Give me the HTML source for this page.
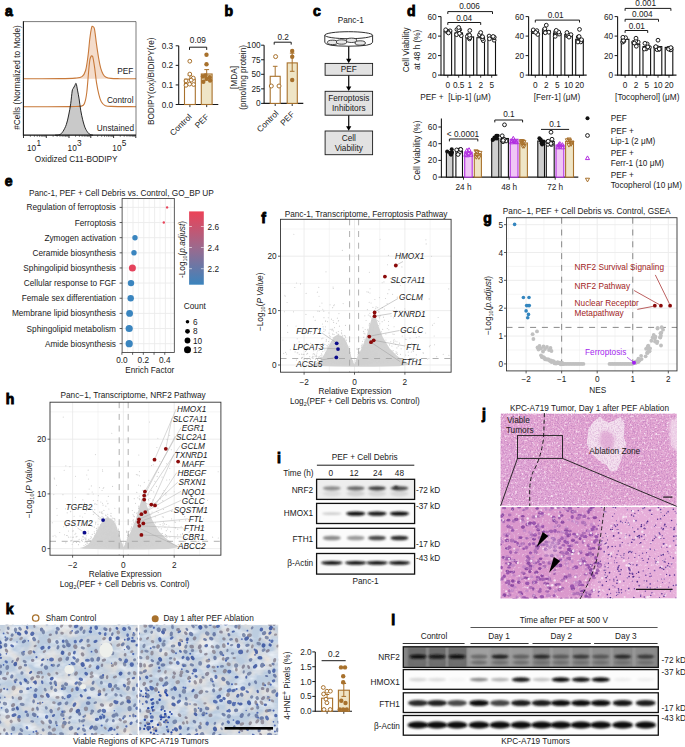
<!DOCTYPE html>
<html><head><meta charset="utf-8"><style>
html,body{margin:0;padding:0;background:#fff;width:685px;height:747px;overflow:hidden}
svg{display:block}
svg{font-family:"Liberation Sans",sans-serif;font-size:8.25px}
</style></head><body>
<svg width="685" height="747" viewBox="0 0 685 747"><g fill="#1a1a1a">
<text x="5" y="16.1" font-size="14" font-weight="bold" stroke="#000" stroke-width="0.9" fill="#000">a</text>
<path d="M23.4 78.8 C29.5 78.77 51.4 78.72 60 78.6 C68.6 78.48 71.33 78.43 75 78.1 C78.67 77.77 80.23 77.87 82 76.6 C83.77 75.33 84.6 73.92 85.6 70.5 C86.6 67.08 87.28 61.52 88 56.1 C88.72 50.68 89.3 42.75 89.9 38 C90.5 33.25 91.1 29.5 91.6 27.6 C92.1 25.7 92.42 26.33 92.9 26.6 C93.38 26.87 93.9 26.28 94.5 29.2 C95.1 32.12 95.77 39.02 96.5 44.1 C97.23 49.18 98.2 55.7 98.9 59.7 C99.6 63.7 100 65.68 100.7 68.1 C101.4 70.52 102.2 72.68 103.1 74.2 C104 75.72 104.8 76.5 106.1 77.2 C107.4 77.9 108.58 78.15 110.9 78.4 C113.22 78.65 115.82 78.63 120 78.7 C124.18 78.77 133.33 78.78 136 78.8 Z" fill="#f4dccb"/>
<path d="M55 135.2 C55.8 135.1 58.47 135.23 59.8 134.6 C61.13 133.97 61.92 133.07 63 131.4 C64.08 129.73 65.35 127.33 66.3 124.6 C67.25 121.87 67.97 118.48 68.7 115 C69.43 111.52 70.12 107.7 70.7 103.7 C71.28 99.7 71.77 93.57 72.2 91 C72.63 88.43 72.87 89.2 73.3 88.3 C73.73 87.4 74.33 86.4 74.8 85.6 C75.27 84.8 75.65 82.75 76.1 83.5 C76.55 84.25 77 87.53 77.5 90.1 C78 92.67 78.57 95.55 79.1 98.9 C79.63 102.25 80.1 106.72 80.7 110.2 C81.3 113.68 81.97 116.87 82.7 119.8 C83.43 122.73 84.22 125.65 85.1 127.8 C85.98 129.95 87.12 131.57 88 132.7 C88.88 133.83 89.57 134.18 90.4 134.6 C91.23 135.02 92.57 135.1 93 135.2 Z" fill="#c9c9c9"/>
<path d="M23.4 78.8 C29.5 78.77 51.4 78.72 60 78.6 C68.6 78.48 71.33 78.43 75 78.1 C78.67 77.77 80.23 77.87 82 76.6 C83.77 75.33 84.6 73.92 85.6 70.5 C86.6 67.08 87.28 61.52 88 56.1 C88.72 50.68 89.3 42.75 89.9 38 C90.5 33.25 91.1 29.5 91.6 27.6 C92.1 25.7 92.42 26.33 92.9 26.6 C93.38 26.87 93.9 26.28 94.5 29.2 C95.1 32.12 95.77 39.02 96.5 44.1 C97.23 49.18 98.2 55.7 98.9 59.7 C99.6 63.7 100 65.68 100.7 68.1 C101.4 70.52 102.2 72.68 103.1 74.2 C104 75.72 104.8 76.5 106.1 77.2 C107.4 77.9 108.58 78.15 110.9 78.4 C113.22 78.65 115.82 78.63 120 78.7 C124.18 78.77 133.33 78.78 136 78.8" fill="none" stroke="#c8793a" stroke-width="1.1"/>
<path d="M23.4 106.8 C31.17 106.77 60.32 106.72 70 106.6 C79.68 106.48 79.07 106.7 81.5 106.1 C83.93 105.5 83.72 105.32 84.6 103 C85.48 100.68 86.12 97.62 86.8 92.2 C87.48 86.78 88.18 75.92 88.7 70.5 C89.22 65.08 89.5 62.07 89.9 59.7 C90.3 57.33 90.77 56.9 91.1 56.3 C91.43 55.7 91.6 55.93 91.9 56.1 C92.2 56.27 92.43 55.3 92.9 57.3 C93.37 59.3 94.1 63.88 94.7 68.1 C95.3 72.32 95.8 78.18 96.5 82.6 C97.2 87.02 98.1 91.4 98.9 94.6 C99.7 97.8 100.3 100 101.3 101.8 C102.3 103.6 103.3 104.63 104.9 105.4 C106.5 106.17 105.72 106.18 110.9 106.4 C116.08 106.62 131.82 106.65 136 106.7" fill="none" stroke="#c8793a" stroke-width="1.1"/>
<path d="M55 135.2 C55.8 135.1 58.47 135.23 59.8 134.6 C61.13 133.97 61.92 133.07 63 131.4 C64.08 129.73 65.35 127.33 66.3 124.6 C67.25 121.87 67.97 118.48 68.7 115 C69.43 111.52 70.12 107.7 70.7 103.7 C71.28 99.7 71.77 93.57 72.2 91 C72.63 88.43 72.87 89.2 73.3 88.3 C73.73 87.4 74.33 86.4 74.8 85.6 C75.27 84.8 75.65 82.75 76.1 83.5 C76.55 84.25 77 87.53 77.5 90.1 C78 92.67 78.57 95.55 79.1 98.9 C79.63 102.25 80.1 106.72 80.7 110.2 C81.3 113.68 81.97 116.87 82.7 119.8 C83.43 122.73 84.22 125.65 85.1 127.8 C85.98 129.95 87.12 131.57 88 132.7 C88.88 133.83 89.57 134.18 90.4 134.6 C91.23 135.02 92.57 135.1 93 135.2" fill="none" stroke="#111" stroke-width="0.9"/>
<path d="M23.4 21.6 H136 V135.2" fill="none" stroke="#444" stroke-width="0.7"/>
<line x1="23.4" y1="21.25" x2="23.4" y2="135.7" stroke="#111" stroke-width="1.1"/>
<line x1="23.4" y1="135.2" x2="136" y2="135.2" stroke="#111" stroke-width="1.2"/>
<line x1="23.5" y1="135.2" x2="23.5" y2="138" stroke="#1a1a1a" stroke-width="0.9"/>
<line x1="30.36" y1="135.2" x2="30.36" y2="136.8" stroke="#1a1a1a" stroke-width="0.6"/>
<line x1="34.38" y1="135.2" x2="34.38" y2="136.8" stroke="#1a1a1a" stroke-width="0.6"/>
<line x1="37.23" y1="135.2" x2="37.23" y2="136.8" stroke="#1a1a1a" stroke-width="0.6"/>
<line x1="39.44" y1="135.2" x2="39.44" y2="136.8" stroke="#1a1a1a" stroke-width="0.6"/>
<line x1="41.24" y1="135.2" x2="41.24" y2="136.8" stroke="#1a1a1a" stroke-width="0.6"/>
<line x1="42.77" y1="135.2" x2="42.77" y2="136.8" stroke="#1a1a1a" stroke-width="0.6"/>
<line x1="44.09" y1="135.2" x2="44.09" y2="136.8" stroke="#1a1a1a" stroke-width="0.6"/>
<line x1="45.26" y1="135.2" x2="45.26" y2="136.8" stroke="#1a1a1a" stroke-width="0.6"/>
<line x1="46.3" y1="135.2" x2="46.3" y2="138" stroke="#1a1a1a" stroke-width="0.9"/>
<line x1="53.13" y1="135.2" x2="53.13" y2="136.8" stroke="#1a1a1a" stroke-width="0.6"/>
<line x1="57.13" y1="135.2" x2="57.13" y2="136.8" stroke="#1a1a1a" stroke-width="0.6"/>
<line x1="59.97" y1="135.2" x2="59.97" y2="136.8" stroke="#1a1a1a" stroke-width="0.6"/>
<line x1="62.17" y1="135.2" x2="62.17" y2="136.8" stroke="#1a1a1a" stroke-width="0.6"/>
<line x1="63.96" y1="135.2" x2="63.96" y2="136.8" stroke="#1a1a1a" stroke-width="0.6"/>
<line x1="65.48" y1="135.2" x2="65.48" y2="136.8" stroke="#1a1a1a" stroke-width="0.6"/>
<line x1="66.8" y1="135.2" x2="66.8" y2="136.8" stroke="#1a1a1a" stroke-width="0.6"/>
<line x1="67.96" y1="135.2" x2="67.96" y2="136.8" stroke="#1a1a1a" stroke-width="0.6"/>
<line x1="69" y1="135.2" x2="69" y2="138" stroke="#1a1a1a" stroke-width="0.9"/>
<line x1="75.56" y1="135.2" x2="75.56" y2="136.8" stroke="#1a1a1a" stroke-width="0.6"/>
<line x1="79.4" y1="135.2" x2="79.4" y2="136.8" stroke="#1a1a1a" stroke-width="0.6"/>
<line x1="82.12" y1="135.2" x2="82.12" y2="136.8" stroke="#1a1a1a" stroke-width="0.6"/>
<line x1="84.24" y1="135.2" x2="84.24" y2="136.8" stroke="#1a1a1a" stroke-width="0.6"/>
<line x1="85.96" y1="135.2" x2="85.96" y2="136.8" stroke="#1a1a1a" stroke-width="0.6"/>
<line x1="87.42" y1="135.2" x2="87.42" y2="136.8" stroke="#1a1a1a" stroke-width="0.6"/>
<line x1="88.69" y1="135.2" x2="88.69" y2="136.8" stroke="#1a1a1a" stroke-width="0.6"/>
<line x1="89.8" y1="135.2" x2="89.8" y2="136.8" stroke="#1a1a1a" stroke-width="0.6"/>
<line x1="90.8" y1="135.2" x2="90.8" y2="138" stroke="#1a1a1a" stroke-width="0.9"/>
<line x1="97.66" y1="135.2" x2="97.66" y2="136.8" stroke="#1a1a1a" stroke-width="0.6"/>
<line x1="101.68" y1="135.2" x2="101.68" y2="136.8" stroke="#1a1a1a" stroke-width="0.6"/>
<line x1="104.53" y1="135.2" x2="104.53" y2="136.8" stroke="#1a1a1a" stroke-width="0.6"/>
<line x1="106.74" y1="135.2" x2="106.74" y2="136.8" stroke="#1a1a1a" stroke-width="0.6"/>
<line x1="108.54" y1="135.2" x2="108.54" y2="136.8" stroke="#1a1a1a" stroke-width="0.6"/>
<line x1="110.07" y1="135.2" x2="110.07" y2="136.8" stroke="#1a1a1a" stroke-width="0.6"/>
<line x1="111.39" y1="135.2" x2="111.39" y2="136.8" stroke="#1a1a1a" stroke-width="0.6"/>
<line x1="112.56" y1="135.2" x2="112.56" y2="136.8" stroke="#1a1a1a" stroke-width="0.6"/>
<line x1="113.6" y1="135.2" x2="113.6" y2="138" stroke="#1a1a1a" stroke-width="0.9"/>
<line x1="120.28" y1="135.2" x2="120.28" y2="136.8" stroke="#1a1a1a" stroke-width="0.6"/>
<line x1="124.19" y1="135.2" x2="124.19" y2="136.8" stroke="#1a1a1a" stroke-width="0.6"/>
<line x1="126.97" y1="135.2" x2="126.97" y2="136.8" stroke="#1a1a1a" stroke-width="0.6"/>
<line x1="129.12" y1="135.2" x2="129.12" y2="136.8" stroke="#1a1a1a" stroke-width="0.6"/>
<line x1="130.87" y1="135.2" x2="130.87" y2="136.8" stroke="#1a1a1a" stroke-width="0.6"/>
<line x1="132.36" y1="135.2" x2="132.36" y2="136.8" stroke="#1a1a1a" stroke-width="0.6"/>
<line x1="133.65" y1="135.2" x2="133.65" y2="136.8" stroke="#1a1a1a" stroke-width="0.6"/>
<line x1="134.78" y1="135.2" x2="134.78" y2="136.8" stroke="#1a1a1a" stroke-width="0.6"/>
<line x1="135.8" y1="135.2" x2="135.8" y2="138" stroke="#1a1a1a" stroke-width="0.9"/>
<text x="27" y="150.9">10</text>
<text x="36.4" y="145.6">1</text>
<text x="67.6" y="150.9">10</text>
<text x="77" y="145.6">3</text>
<text x="112.3" y="150.9">10</text>
<text x="121.7" y="145.6">5</text>
<text x="76.2" y="162.2" text-anchor="middle">Oxidized C11-BODIPY</text>
<text x="20.37" y="77.5" text-anchor="middle" transform="rotate(-90 20.37 77.5)">#Cells (Normalized to Mode)</text>
<text x="133.3" y="74.2" text-anchor="end">PEF</text>
<text x="133.5" y="103.2" text-anchor="end">Control</text>
<text x="134" y="131.3" text-anchor="end">Unstained</text>
<line x1="178.7" y1="45.8" x2="178.7" y2="105" stroke="#1a1a1a" stroke-width="1.1"/>
<line x1="178.2" y1="104.5" x2="218.3" y2="104.5" stroke="#1a1a1a" stroke-width="1.1"/>
<line x1="175.7" y1="104.5" x2="178.7" y2="104.5" stroke="#1a1a1a" stroke-width="1"/>
<text x="173.2" y="107.5" text-anchor="end">0.0</text>
<line x1="175.7" y1="84.93" x2="178.7" y2="84.93" stroke="#1a1a1a" stroke-width="1"/>
<text x="173.2" y="87.93" text-anchor="end">0.1</text>
<line x1="175.7" y1="65.37" x2="178.7" y2="65.37" stroke="#1a1a1a" stroke-width="1"/>
<text x="173.2" y="68.37" text-anchor="end">0.2</text>
<line x1="175.7" y1="45.8" x2="178.7" y2="45.8" stroke="#1a1a1a" stroke-width="1"/>
<text x="173.2" y="48.8" text-anchor="end">0.3</text>
<line x1="189.9" y1="104.5" x2="189.9" y2="107.1" stroke="#1a1a1a" stroke-width="0.9"/>
<line x1="206.7" y1="104.5" x2="206.7" y2="107.1" stroke="#1a1a1a" stroke-width="0.9"/>
<rect x="184.5" y="79.2" width="10.8" height="25.3" fill="#fff" stroke="#a8712c" stroke-width="1.1"/>
<rect x="201.3" y="74" width="10.8" height="30.5" fill="#efe5c6" stroke="#a8712c" stroke-width="1.1"/>
<line x1="189.9" y1="75.6" x2="189.9" y2="79.2" stroke="#a8712c" stroke-width="1"/>
<line x1="187.7" y1="75.6" x2="192.1" y2="75.6" stroke="#a8712c" stroke-width="1"/>
<line x1="206.7" y1="69.6" x2="206.7" y2="74" stroke="#a8712c" stroke-width="1"/>
<line x1="204.3" y1="69.6" x2="209.1" y2="69.6" stroke="#a8712c" stroke-width="1"/>
<circle cx="189.8" cy="61.2" r="1.9" fill="#fff" stroke="#a8712c" stroke-width="1"/>
<circle cx="189.8" cy="74.1" r="1.9" fill="#fff" stroke="#a8712c" stroke-width="1"/>
<circle cx="186" cy="80.9" r="1.9" fill="#fff" stroke="#a8712c" stroke-width="1"/>
<circle cx="193.3" cy="78.1" r="1.9" fill="#fff" stroke="#a8712c" stroke-width="1"/>
<circle cx="186" cy="85.3" r="1.9" fill="#fff" stroke="#a8712c" stroke-width="1"/>
<circle cx="189.6" cy="84.1" r="1.9" fill="#fff" stroke="#a8712c" stroke-width="1"/>
<circle cx="193.6" cy="84.5" r="1.9" fill="#fff" stroke="#a8712c" stroke-width="1"/>
<circle cx="191.2" cy="80.1" r="1.9" fill="#fff" stroke="#a8712c" stroke-width="1"/>
<circle cx="206.5" cy="54.8" r="2.2" fill="#a8712c"/>
<circle cx="206.5" cy="64.3" r="2.2" fill="#a8712c"/>
<circle cx="202.9" cy="76.5" r="2.2" fill="#a8712c"/>
<circle cx="206.5" cy="78.9" r="2.2" fill="#a8712c"/>
<circle cx="209.7" cy="77.3" r="2.2" fill="#a8712c"/>
<circle cx="203.3" cy="81.7" r="2.2" fill="#a8712c"/>
<circle cx="210.1" cy="80.5" r="2.2" fill="#a8712c"/>
<circle cx="205.5" cy="75.5" r="2.2" fill="#a8712c"/>
<path d="M189.5 49.9 V47.2 H206.7 V49.9" fill="none" stroke="#1a1a1a" stroke-width="1"/>
<text x="197.9" y="43.4" text-anchor="middle">0.09</text>
<text x="192.2" y="117.4" text-anchor="end" transform="rotate(-45 192.2 117.4)">Control</text>
<text x="209.5" y="117.4" text-anchor="end" transform="rotate(-45 209.5 117.4)">PEF</text>
<text x="153.97" y="81.3" text-anchor="middle" transform="rotate(-90 153.97 81.3)">BODIPY(ox)/BIDIPY(re)</text>
<text x="224.6" y="16" font-size="14" font-weight="bold" stroke="#000" stroke-width="0.9" fill="#000">b</text>
<line x1="264.1" y1="45.2" x2="264.1" y2="103.9" stroke="#1a1a1a" stroke-width="1.1"/>
<line x1="263.6" y1="103.4" x2="303.3" y2="103.4" stroke="#1a1a1a" stroke-width="1.1"/>
<line x1="261.1" y1="103.4" x2="264.1" y2="103.4" stroke="#1a1a1a" stroke-width="1"/>
<text x="260.6" y="106.4" text-anchor="end">0</text>
<line x1="261.1" y1="88.85" x2="264.1" y2="88.85" stroke="#1a1a1a" stroke-width="1"/>
<text x="260.6" y="91.85" text-anchor="end">25</text>
<line x1="261.1" y1="74.3" x2="264.1" y2="74.3" stroke="#1a1a1a" stroke-width="1"/>
<text x="260.6" y="77.3" text-anchor="end">50</text>
<line x1="261.1" y1="59.75" x2="264.1" y2="59.75" stroke="#1a1a1a" stroke-width="1"/>
<text x="260.6" y="62.75" text-anchor="end">75</text>
<line x1="261.1" y1="45.2" x2="264.1" y2="45.2" stroke="#1a1a1a" stroke-width="1"/>
<text x="260.6" y="48.2" text-anchor="end">100</text>
<line x1="275.2" y1="103.4" x2="275.2" y2="106" stroke="#1a1a1a" stroke-width="0.9"/>
<line x1="292.2" y1="103.4" x2="292.2" y2="106" stroke="#1a1a1a" stroke-width="0.9"/>
<rect x="270.2" y="76.3" width="10" height="27.1" fill="#fff" stroke="#a8712c" stroke-width="1.1"/>
<rect x="287.2" y="62.9" width="10.1" height="40.5" fill="#efe5c6" stroke="#a8712c" stroke-width="1.1"/>
<line x1="275.2" y1="66.3" x2="275.2" y2="76.3" stroke="#a8712c" stroke-width="1"/>
<line x1="272.9" y1="66.3" x2="277.5" y2="66.3" stroke="#a8712c" stroke-width="1"/>
<line x1="292.2" y1="53.2" x2="292.2" y2="71.3" stroke="#a8712c" stroke-width="1"/>
<line x1="289.9" y1="53.2" x2="294.5" y2="53.2" stroke="#a8712c" stroke-width="1"/>
<line x1="289.9" y1="71.3" x2="294.5" y2="71.3" stroke="#a8712c" stroke-width="1"/>
<circle cx="275.6" cy="56.6" r="2" fill="#fff" stroke="#a8712c" stroke-width="1"/>
<circle cx="271.3" cy="86" r="2" fill="#fff" stroke="#a8712c" stroke-width="1"/>
<circle cx="279" cy="86" r="2" fill="#fff" stroke="#a8712c" stroke-width="1"/>
<circle cx="292.2" cy="51" r="2.2" fill="#a8712c"/>
<circle cx="292.2" cy="56.8" r="2.2" fill="#a8712c"/>
<circle cx="292.2" cy="80" r="2.2" fill="#a8712c"/>
<path d="M274.2 44.6 V42.2 H291.2 V44.6" fill="none" stroke="#1a1a1a" stroke-width="1"/>
<text x="283.2" y="39.6" text-anchor="middle">0.2</text>
<text x="279.1" y="114" text-anchor="end" transform="rotate(-45 279.1 114)">Control</text>
<text x="295" y="114.8" text-anchor="end" transform="rotate(-45 295 114.8)">PEF</text>
<text x="237.17" y="77.5" text-anchor="middle" transform="rotate(-90 237.17 77.5)">[MDA]</text>
<text x="245.77" y="77.3" text-anchor="middle" transform="rotate(-90 245.77 77.3)">(pmol/mg protein)</text>
<text x="312.9" y="16.1" font-size="14" font-weight="bold" stroke="#000" stroke-width="0.9" fill="#000">c</text>
<text x="350.7" y="22.6" text-anchor="middle">Panc-1</text>
<path d="M324.8 35.2 L324.8 42.2 Q324.8 46.2 348.7 46.2 Q372.6 46.2 372.6 42.2 L372.6 35.2" fill="#fff" stroke="#1a1a1a" stroke-width="0.9"/>
<ellipse cx="348.7" cy="35.2" rx="23.9" ry="3.5" fill="#fff" stroke="#1a1a1a" stroke-width="0.9"/>
<ellipse cx="332.6" cy="42.4" rx="5.2" ry="2.2" fill="#e8e8e8" stroke="#1a1a1a" stroke-width="0.8"/>
<ellipse cx="341.6" cy="42" rx="5.2" ry="2.2" fill="#e8e8e8" stroke="#1a1a1a" stroke-width="0.8"/>
<ellipse cx="351.5" cy="40.3" rx="5.2" ry="2.2" fill="#e8e8e8" stroke="#1a1a1a" stroke-width="0.8"/>
<ellipse cx="360.2" cy="43" rx="5.2" ry="2.2" fill="#e8e8e8" stroke="#1a1a1a" stroke-width="0.8"/>
<line x1="348.7" y1="46.3" x2="348.7" y2="59.7" stroke="#1a1a1a" stroke-width="1.3"/>
<path d="M346.1 58.7 L351.3 58.7 L348.7 63.2 Z" fill="#000"/>
<rect x="325.1" y="63.4" width="47.5" height="11.9" fill="#e2e2e2" stroke="#1a1a1a" stroke-width="0.9"/>
<text x="348.8" y="72.4" text-anchor="middle">PEF</text>
<line x1="348.7" y1="75.3" x2="348.7" y2="87.6" stroke="#1a1a1a" stroke-width="1.3"/>
<path d="M346.1 86.6 L351.3 86.6 L348.7 91.1 Z" fill="#000"/>
<rect x="325.1" y="91.3" width="47.5" height="23.9" fill="#e2e2e2" stroke="#1a1a1a" stroke-width="0.9"/>
<text x="348.8" y="101" text-anchor="middle">Ferroptosis</text>
<text x="348.8" y="110.8" text-anchor="middle">Inhibitors</text>
<line x1="348.7" y1="115.2" x2="348.7" y2="127.3" stroke="#1a1a1a" stroke-width="1.3"/>
<path d="M346.1 126.3 L351.3 126.3 L348.7 130.8 Z" fill="#000"/>
<rect x="325.1" y="131" width="47.5" height="23.7" fill="#e2e2e2" stroke="#1a1a1a" stroke-width="0.9"/>
<text x="348.8" y="141" text-anchor="middle">Cell</text>
<text x="348.8" y="150.8" text-anchor="middle">Viability</text>
<text x="406.9" y="16" font-size="14" font-weight="bold" stroke="#000" stroke-width="0.9" fill="#000">d</text>
<line x1="441" y1="16.6" x2="441" y2="75.6" stroke="#1a1a1a" stroke-width="1.1"/>
<line x1="440.5" y1="75.1" x2="497.3" y2="75.1" stroke="#1a1a1a" stroke-width="1.1"/>
<line x1="438" y1="75.1" x2="441" y2="75.1" stroke="#1a1a1a" stroke-width="1"/>
<text x="436.6" y="78.1" text-anchor="end">0</text>
<line x1="438" y1="55.6" x2="441" y2="55.6" stroke="#1a1a1a" stroke-width="1"/>
<text x="436.6" y="58.6" text-anchor="end">20</text>
<line x1="438" y1="36.1" x2="441" y2="36.1" stroke="#1a1a1a" stroke-width="1"/>
<text x="436.6" y="39.1" text-anchor="end">40</text>
<line x1="438" y1="16.6" x2="441" y2="16.6" stroke="#1a1a1a" stroke-width="1"/>
<text x="436.6" y="19.6" text-anchor="end">60</text>
<rect x="444" y="31.3" width="7.6" height="43.8" fill="#fff" stroke="#111" stroke-width="1.1"/>
<line x1="447.8" y1="75.1" x2="447.8" y2="77.7" stroke="#1a1a1a" stroke-width="0.9"/>
<text x="447.8" y="87.6" text-anchor="middle">0</text>
<circle cx="447.55" cy="31.44" r="1.9" fill="#fff" stroke="#111" stroke-width="0.95"/>
<circle cx="450.01" cy="30.83" r="1.9" fill="#fff" stroke="#111" stroke-width="0.95"/>
<circle cx="447.84" cy="31.62" r="1.9" fill="#fff" stroke="#111" stroke-width="0.95"/>
<circle cx="446.16" cy="31.13" r="1.9" fill="#fff" stroke="#111" stroke-width="0.95"/>
<circle cx="448.48" cy="32.95" r="1.9" fill="#fff" stroke="#111" stroke-width="0.95"/>
<circle cx="445.69" cy="29.77" r="1.9" fill="#fff" stroke="#111" stroke-width="0.95"/>
<rect x="454.9" y="32.9" width="7.6" height="42.2" fill="#fff" stroke="#111" stroke-width="1.1"/>
<line x1="458.7" y1="75.1" x2="458.7" y2="77.7" stroke="#1a1a1a" stroke-width="0.9"/>
<text x="458.7" y="87.6" text-anchor="middle">0.5</text>
<circle cx="456.57" cy="34.66" r="1.9" fill="#fff" stroke="#111" stroke-width="0.95"/>
<circle cx="459.71" cy="29.67" r="1.9" fill="#fff" stroke="#111" stroke-width="0.95"/>
<circle cx="461.21" cy="35.67" r="1.9" fill="#fff" stroke="#111" stroke-width="0.95"/>
<circle cx="459.5" cy="33.4" r="1.9" fill="#fff" stroke="#111" stroke-width="0.95"/>
<circle cx="456.92" cy="29.5" r="1.9" fill="#fff" stroke="#111" stroke-width="0.95"/>
<circle cx="458.85" cy="29.79" r="1.9" fill="#fff" stroke="#111" stroke-width="0.95"/>
<rect x="466" y="36.9" width="7.6" height="38.2" fill="#fff" stroke="#111" stroke-width="1.1"/>
<line x1="469.8" y1="75.1" x2="469.8" y2="77.7" stroke="#1a1a1a" stroke-width="0.9"/>
<text x="469.8" y="87.6" text-anchor="middle">1</text>
<circle cx="468.19" cy="34.97" r="1.9" fill="#fff" stroke="#111" stroke-width="0.95"/>
<circle cx="467.36" cy="36.42" r="1.9" fill="#fff" stroke="#111" stroke-width="0.95"/>
<circle cx="469.49" cy="38.88" r="1.9" fill="#fff" stroke="#111" stroke-width="0.95"/>
<circle cx="469.9" cy="37.56" r="1.9" fill="#fff" stroke="#111" stroke-width="0.95"/>
<circle cx="469.8" cy="37.71" r="1.9" fill="#fff" stroke="#111" stroke-width="0.95"/>
<circle cx="469.58" cy="35.21" r="1.9" fill="#fff" stroke="#111" stroke-width="0.95"/>
<rect x="476.9" y="37.7" width="7.6" height="37.4" fill="#fff" stroke="#111" stroke-width="1.1"/>
<line x1="480.7" y1="75.1" x2="480.7" y2="77.7" stroke="#1a1a1a" stroke-width="0.9"/>
<text x="480.7" y="87.6" text-anchor="middle">2</text>
<circle cx="483.29" cy="40.67" r="1.9" fill="#fff" stroke="#111" stroke-width="0.95"/>
<circle cx="482.47" cy="38.8" r="1.9" fill="#fff" stroke="#111" stroke-width="0.95"/>
<circle cx="479.74" cy="35.69" r="1.9" fill="#fff" stroke="#111" stroke-width="0.95"/>
<circle cx="479.6" cy="34.66" r="1.9" fill="#fff" stroke="#111" stroke-width="0.95"/>
<circle cx="482.08" cy="36.8" r="1.9" fill="#fff" stroke="#111" stroke-width="0.95"/>
<circle cx="482.5" cy="36.71" r="1.9" fill="#fff" stroke="#111" stroke-width="0.95"/>
<rect x="487.9" y="38.2" width="7.6" height="36.9" fill="#fff" stroke="#111" stroke-width="1.1"/>
<line x1="491.7" y1="75.1" x2="491.7" y2="77.7" stroke="#1a1a1a" stroke-width="0.9"/>
<text x="491.7" y="87.6" text-anchor="middle">5</text>
<circle cx="494.08" cy="40.21" r="1.9" fill="#fff" stroke="#111" stroke-width="0.95"/>
<circle cx="489.1" cy="36.06" r="1.9" fill="#fff" stroke="#111" stroke-width="0.95"/>
<circle cx="493.83" cy="37.75" r="1.9" fill="#fff" stroke="#111" stroke-width="0.95"/>
<circle cx="494.2" cy="37.28" r="1.9" fill="#fff" stroke="#111" stroke-width="0.95"/>
<circle cx="489.48" cy="38.79" r="1.9" fill="#fff" stroke="#111" stroke-width="0.95"/>
<circle cx="493.15" cy="36.45" r="1.9" fill="#fff" stroke="#111" stroke-width="0.95"/>
<path d="M447.8 14 V11.6 H492.5 V14" fill="none" stroke="#1a1a1a" stroke-width="1"/>
<text x="469.6" y="8.8" text-anchor="middle">0.006</text>
<path d="M447.8 24.9 V22.5 H480.7 V24.9" fill="none" stroke="#1a1a1a" stroke-width="1"/>
<text x="464.2" y="20.5" text-anchor="middle">0.04</text>
<text x="469.5" y="99.7" text-anchor="middle">[Lip-1] (μM)</text>
<text x="420.3" y="99.7">PEF +</text>
<line x1="528.6" y1="16.6" x2="528.6" y2="75.6" stroke="#1a1a1a" stroke-width="1.1"/>
<line x1="528.1" y1="75.1" x2="586.7" y2="75.1" stroke="#1a1a1a" stroke-width="1.1"/>
<line x1="525.6" y1="75.1" x2="528.6" y2="75.1" stroke="#1a1a1a" stroke-width="1"/>
<text x="524.2" y="78.1" text-anchor="end">0</text>
<line x1="525.6" y1="55.6" x2="528.6" y2="55.6" stroke="#1a1a1a" stroke-width="1"/>
<text x="524.2" y="58.6" text-anchor="end">20</text>
<line x1="525.6" y1="36.1" x2="528.6" y2="36.1" stroke="#1a1a1a" stroke-width="1"/>
<text x="524.2" y="39.1" text-anchor="end">40</text>
<line x1="525.6" y1="16.6" x2="528.6" y2="16.6" stroke="#1a1a1a" stroke-width="1"/>
<text x="524.2" y="19.6" text-anchor="end">60</text>
<rect x="531.5" y="33" width="7.6" height="42.1" fill="#fff" stroke="#111" stroke-width="1.1"/>
<line x1="535.3" y1="75.1" x2="535.3" y2="77.7" stroke="#1a1a1a" stroke-width="0.9"/>
<text x="535.3" y="87.6" text-anchor="middle">0</text>
<circle cx="533.15" cy="31.66" r="1.9" fill="#fff" stroke="#111" stroke-width="0.95"/>
<circle cx="537.71" cy="34.43" r="1.9" fill="#fff" stroke="#111" stroke-width="0.95"/>
<circle cx="533.31" cy="31.1" r="1.9" fill="#fff" stroke="#111" stroke-width="0.95"/>
<circle cx="533.23" cy="29.89" r="1.9" fill="#fff" stroke="#111" stroke-width="0.95"/>
<circle cx="536.84" cy="30.65" r="1.9" fill="#fff" stroke="#111" stroke-width="0.95"/>
<circle cx="535.61" cy="32.41" r="1.9" fill="#fff" stroke="#111" stroke-width="0.95"/>
<rect x="542.5" y="30.5" width="7.6" height="44.6" fill="#fff" stroke="#111" stroke-width="1.1"/>
<line x1="546.3" y1="75.1" x2="546.3" y2="77.7" stroke="#1a1a1a" stroke-width="0.9"/>
<text x="546.3" y="87.6" text-anchor="middle">2</text>
<circle cx="544.69" cy="31.76" r="1.9" fill="#fff" stroke="#111" stroke-width="0.95"/>
<circle cx="544.38" cy="31.18" r="1.9" fill="#fff" stroke="#111" stroke-width="0.95"/>
<circle cx="544.31" cy="29.73" r="1.9" fill="#fff" stroke="#111" stroke-width="0.95"/>
<circle cx="544.81" cy="28.75" r="1.9" fill="#fff" stroke="#111" stroke-width="0.95"/>
<circle cx="548.75" cy="32.22" r="1.9" fill="#fff" stroke="#111" stroke-width="0.95"/>
<circle cx="545.28" cy="32.75" r="1.9" fill="#fff" stroke="#111" stroke-width="0.95"/>
<rect x="553.5" y="33.4" width="7.6" height="41.7" fill="#fff" stroke="#111" stroke-width="1.1"/>
<line x1="557.3" y1="75.1" x2="557.3" y2="77.7" stroke="#1a1a1a" stroke-width="0.9"/>
<text x="557.3" y="87.6" text-anchor="middle">5</text>
<circle cx="555.8" cy="32.46" r="1.9" fill="#fff" stroke="#111" stroke-width="0.95"/>
<circle cx="559.14" cy="34.07" r="1.9" fill="#fff" stroke="#111" stroke-width="0.95"/>
<circle cx="555.22" cy="36.33" r="1.9" fill="#fff" stroke="#111" stroke-width="0.95"/>
<circle cx="555.81" cy="31.58" r="1.9" fill="#fff" stroke="#111" stroke-width="0.95"/>
<circle cx="558.72" cy="32.04" r="1.9" fill="#fff" stroke="#111" stroke-width="0.95"/>
<circle cx="556.24" cy="30.38" r="1.9" fill="#fff" stroke="#111" stroke-width="0.95"/>
<rect x="564.8" y="35" width="7.6" height="40.1" fill="#fff" stroke="#111" stroke-width="1.1"/>
<line x1="568.6" y1="75.1" x2="568.6" y2="77.7" stroke="#1a1a1a" stroke-width="0.9"/>
<text x="568.6" y="87.6" text-anchor="middle">10</text>
<circle cx="566.47" cy="35.29" r="1.9" fill="#fff" stroke="#111" stroke-width="0.95"/>
<circle cx="567.26" cy="35.41" r="1.9" fill="#fff" stroke="#111" stroke-width="0.95"/>
<circle cx="567.93" cy="34.45" r="1.9" fill="#fff" stroke="#111" stroke-width="0.95"/>
<circle cx="570.99" cy="34.64" r="1.9" fill="#fff" stroke="#111" stroke-width="0.95"/>
<circle cx="568.99" cy="37.13" r="1.9" fill="#fff" stroke="#111" stroke-width="0.95"/>
<circle cx="566.95" cy="32.5" r="1.9" fill="#fff" stroke="#111" stroke-width="0.95"/>
<rect x="575.7" y="39.3" width="7.6" height="35.8" fill="#fff" stroke="#111" stroke-width="1.1"/>
<line x1="579.5" y1="75.1" x2="579.5" y2="77.7" stroke="#1a1a1a" stroke-width="0.9"/>
<text x="579.5" y="87.6" text-anchor="middle">20</text>
<circle cx="581.62" cy="41.12" r="1.9" fill="#fff" stroke="#111" stroke-width="0.95"/>
<circle cx="578.2" cy="37.03" r="1.9" fill="#fff" stroke="#111" stroke-width="0.95"/>
<circle cx="580.75" cy="41.91" r="1.9" fill="#fff" stroke="#111" stroke-width="0.95"/>
<circle cx="577.92" cy="41.98" r="1.9" fill="#fff" stroke="#111" stroke-width="0.95"/>
<circle cx="581.49" cy="39.72" r="1.9" fill="#fff" stroke="#111" stroke-width="0.95"/>
<circle cx="579.09" cy="36.47" r="1.9" fill="#fff" stroke="#111" stroke-width="0.95"/>
<path d="M535.3 22.5 V20.1 H579.5 V22.5" fill="none" stroke="#1a1a1a" stroke-width="1"/>
<text x="555.7" y="17.7" text-anchor="middle">0.01</text>
<text x="557" y="99.7" text-anchor="middle">[Ferr-1] (μM)</text>
<line x1="617.6" y1="16.6" x2="617.6" y2="75.6" stroke="#1a1a1a" stroke-width="1.1"/>
<line x1="617.1" y1="75.1" x2="676.5" y2="75.1" stroke="#1a1a1a" stroke-width="1.1"/>
<line x1="614.6" y1="75.1" x2="617.6" y2="75.1" stroke="#1a1a1a" stroke-width="1"/>
<text x="613.2" y="78.1" text-anchor="end">0</text>
<line x1="614.6" y1="55.6" x2="617.6" y2="55.6" stroke="#1a1a1a" stroke-width="1"/>
<text x="613.2" y="58.6" text-anchor="end">20</text>
<line x1="614.6" y1="36.1" x2="617.6" y2="36.1" stroke="#1a1a1a" stroke-width="1"/>
<text x="613.2" y="39.1" text-anchor="end">40</text>
<line x1="614.6" y1="16.6" x2="617.6" y2="16.6" stroke="#1a1a1a" stroke-width="1"/>
<text x="613.2" y="19.6" text-anchor="end">60</text>
<rect x="621.3" y="39.3" width="7.6" height="35.8" fill="#fff" stroke="#111" stroke-width="1.1"/>
<line x1="625.1" y1="75.1" x2="625.1" y2="77.7" stroke="#1a1a1a" stroke-width="0.9"/>
<text x="625.1" y="87.6" text-anchor="middle">0</text>
<circle cx="622.7" cy="42.06" r="1.9" fill="#fff" stroke="#111" stroke-width="0.95"/>
<circle cx="623.74" cy="40.38" r="1.9" fill="#fff" stroke="#111" stroke-width="0.95"/>
<circle cx="623.84" cy="41.15" r="1.9" fill="#fff" stroke="#111" stroke-width="0.95"/>
<circle cx="625.6" cy="37.71" r="1.9" fill="#fff" stroke="#111" stroke-width="0.95"/>
<circle cx="623.41" cy="40.48" r="1.9" fill="#fff" stroke="#111" stroke-width="0.95"/>
<circle cx="622.86" cy="37.28" r="1.9" fill="#fff" stroke="#111" stroke-width="0.95"/>
<rect x="632.2" y="44.2" width="7.6" height="30.9" fill="#fff" stroke="#111" stroke-width="1.1"/>
<line x1="636" y1="75.1" x2="636" y2="77.7" stroke="#1a1a1a" stroke-width="0.9"/>
<text x="636" y="87.6" text-anchor="middle">2</text>
<circle cx="636.31" cy="46.24" r="1.9" fill="#fff" stroke="#111" stroke-width="0.95"/>
<circle cx="636.59" cy="42.52" r="1.9" fill="#fff" stroke="#111" stroke-width="0.95"/>
<circle cx="638.17" cy="42.03" r="1.9" fill="#fff" stroke="#111" stroke-width="0.95"/>
<circle cx="633.49" cy="42.45" r="1.9" fill="#fff" stroke="#111" stroke-width="0.95"/>
<circle cx="635.72" cy="41.09" r="1.9" fill="#fff" stroke="#111" stroke-width="0.95"/>
<circle cx="634.32" cy="43.1" r="1.9" fill="#fff" stroke="#111" stroke-width="0.95"/>
<rect x="643" y="46.6" width="7.6" height="28.5" fill="#fff" stroke="#111" stroke-width="1.1"/>
<line x1="646.8" y1="75.1" x2="646.8" y2="77.7" stroke="#1a1a1a" stroke-width="0.9"/>
<text x="646.8" y="87.6" text-anchor="middle">5</text>
<circle cx="647.18" cy="43.96" r="1.9" fill="#fff" stroke="#111" stroke-width="0.95"/>
<circle cx="646.08" cy="48.89" r="1.9" fill="#fff" stroke="#111" stroke-width="0.95"/>
<circle cx="649.3" cy="47.37" r="1.9" fill="#fff" stroke="#111" stroke-width="0.95"/>
<circle cx="647.79" cy="46.9" r="1.9" fill="#fff" stroke="#111" stroke-width="0.95"/>
<circle cx="644.93" cy="43.33" r="1.9" fill="#fff" stroke="#111" stroke-width="0.95"/>
<circle cx="644.29" cy="49.02" r="1.9" fill="#fff" stroke="#111" stroke-width="0.95"/>
<rect x="654.2" y="46.6" width="7.6" height="28.5" fill="#fff" stroke="#111" stroke-width="1.1"/>
<line x1="658" y1="75.1" x2="658" y2="77.7" stroke="#1a1a1a" stroke-width="0.9"/>
<text x="658" y="87.6" text-anchor="middle">10</text>
<circle cx="659.05" cy="49.36" r="1.9" fill="#fff" stroke="#111" stroke-width="0.95"/>
<circle cx="655.51" cy="47.24" r="1.9" fill="#fff" stroke="#111" stroke-width="0.95"/>
<circle cx="657.91" cy="47.85" r="1.9" fill="#fff" stroke="#111" stroke-width="0.95"/>
<circle cx="657.06" cy="49.6" r="1.9" fill="#fff" stroke="#111" stroke-width="0.95"/>
<circle cx="655.79" cy="46.65" r="1.9" fill="#fff" stroke="#111" stroke-width="0.95"/>
<circle cx="659.23" cy="48.95" r="1.9" fill="#fff" stroke="#111" stroke-width="0.95"/>
<rect x="665.2" y="47.4" width="7.6" height="27.7" fill="#fff" stroke="#111" stroke-width="1.1"/>
<line x1="669" y1="75.1" x2="669" y2="77.7" stroke="#1a1a1a" stroke-width="0.9"/>
<text x="669" y="87.6" text-anchor="middle">20</text>
<circle cx="670.23" cy="48.47" r="1.9" fill="#fff" stroke="#111" stroke-width="0.95"/>
<circle cx="670.52" cy="49.85" r="1.9" fill="#fff" stroke="#111" stroke-width="0.95"/>
<circle cx="668.23" cy="48.35" r="1.9" fill="#fff" stroke="#111" stroke-width="0.95"/>
<circle cx="671.08" cy="49.56" r="1.9" fill="#fff" stroke="#111" stroke-width="0.95"/>
<circle cx="668.57" cy="49.04" r="1.9" fill="#fff" stroke="#111" stroke-width="0.95"/>
<circle cx="670.89" cy="47.62" r="1.9" fill="#fff" stroke="#111" stroke-width="0.95"/>
<path d="M625.1 10.8 V8.4 H670.9 V10.8" fill="none" stroke="#1a1a1a" stroke-width="1"/>
<text x="645.7" y="5.8" text-anchor="middle">0.001</text>
<path d="M625.1 21.7 V19.3 H658.5 V21.7" fill="none" stroke="#1a1a1a" stroke-width="1"/>
<text x="642.4" y="16.9" text-anchor="middle">0.004</text>
<path d="M625.1 32.9 V30.5 H647.7 V32.9" fill="none" stroke="#1a1a1a" stroke-width="1"/>
<text x="636.8" y="28.6" text-anchor="middle">0.01</text>
<text x="647.3" y="99.7" text-anchor="middle">[Tocopherol] (μM)</text>
<circle cx="458.7" cy="27.5" r="1.9" fill="#fff" stroke="#111" stroke-width="0.95"/>
<circle cx="469.8" cy="30.5" r="1.9" fill="#fff" stroke="#111" stroke-width="0.95"/>
<circle cx="546.3" cy="25.2" r="1.9" fill="#fff" stroke="#111" stroke-width="0.95"/>
<circle cx="579.5" cy="29.4" r="1.9" fill="#fff" stroke="#111" stroke-width="0.95"/>
<circle cx="636" cy="38.2" r="1.9" fill="#fff" stroke="#111" stroke-width="0.95"/>
<circle cx="658" cy="40.2" r="1.9" fill="#fff" stroke="#111" stroke-width="0.95"/>
<circle cx="480.7" cy="32.5" r="1.9" fill="#fff" stroke="#111" stroke-width="0.95"/>
<text x="408.57" y="49.8" text-anchor="middle" transform="rotate(-90 408.57 49.8)">Cell Viability</text>
<text x="419.57" y="49.8" text-anchor="middle" transform="rotate(-90 419.57 49.8)">at 48 h (%)</text>
<line x1="441.4" y1="118.5" x2="441.4" y2="177.6" stroke="#1a1a1a" stroke-width="1.1"/>
<line x1="440.9" y1="177.1" x2="578.3" y2="177.1" stroke="#1a1a1a" stroke-width="1.1"/>
<line x1="438.4" y1="177.1" x2="441.4" y2="177.1" stroke="#1a1a1a" stroke-width="1"/>
<text x="437" y="180.1" text-anchor="end">0</text>
<line x1="438.4" y1="160.4" x2="441.4" y2="160.4" stroke="#1a1a1a" stroke-width="1"/>
<text x="437" y="163.4" text-anchor="end">20</text>
<line x1="438.4" y1="143.7" x2="441.4" y2="143.7" stroke="#1a1a1a" stroke-width="1"/>
<text x="437" y="146.7" text-anchor="end">40</text>
<line x1="438.4" y1="127" x2="441.4" y2="127" stroke="#1a1a1a" stroke-width="1"/>
<text x="437" y="130" text-anchor="end">60</text>
<text x="419.57" y="150.5" text-anchor="middle" transform="rotate(-90 419.57 150.5)">Cell Viability (%)</text>
<line x1="463.5" y1="177.1" x2="463.5" y2="179.7" stroke="#1a1a1a" stroke-width="0.9"/>
<text x="463.5" y="190.1" text-anchor="middle">24 h</text>
<rect x="446.4" y="151.4" width="6.5" height="25.7" fill="#cfcfcf" stroke="#111" stroke-width="1.1"/>
<circle cx="450.29" cy="153.22" r="2" fill="#111"/>
<circle cx="451.19" cy="154.53" r="2" fill="#111"/>
<circle cx="450.9" cy="154.4" r="2" fill="#111"/>
<circle cx="447.2" cy="151.43" r="2" fill="#111"/>
<circle cx="451.96" cy="152.62" r="2" fill="#111"/>
<circle cx="451.73" cy="149.14" r="2" fill="#111"/>
<rect x="455.9" y="151.5" width="6.6" height="25.6" fill="#fff" stroke="#111" stroke-width="1.1"/>
<circle cx="459.04" cy="150.1" r="1.9" fill="#fff" stroke="#111" stroke-width="0.95"/>
<circle cx="459.43" cy="152.23" r="1.9" fill="#fff" stroke="#111" stroke-width="0.95"/>
<circle cx="456.67" cy="149.91" r="1.9" fill="#fff" stroke="#111" stroke-width="0.95"/>
<circle cx="458.05" cy="154.46" r="1.9" fill="#fff" stroke="#111" stroke-width="0.95"/>
<circle cx="460.58" cy="149.54" r="1.9" fill="#fff" stroke="#111" stroke-width="0.95"/>
<circle cx="460.75" cy="149.4" r="1.9" fill="#fff" stroke="#111" stroke-width="0.95"/>
<rect x="464.7" y="152.2" width="7.5" height="24.9" fill="#f0c6f5" stroke="#b22fe0" stroke-width="1.1"/>
<path d="M469.06 147.72 L471.13 151.4 L466.99 151.4 Z" fill="none" stroke="#b22fe0" stroke-width="1"/>
<path d="M465.86 152.56 L467.93 156.24 L463.79 156.24 Z" fill="none" stroke="#b22fe0" stroke-width="1"/>
<path d="M466.94 148.3 L469.01 151.98 L464.87 151.98 Z" fill="none" stroke="#b22fe0" stroke-width="1"/>
<path d="M470.96 152.57 L473.03 156.25 L468.89 156.25 Z" fill="none" stroke="#b22fe0" stroke-width="1"/>
<path d="M467.35 153.15 L469.42 156.83 L465.28 156.83 Z" fill="none" stroke="#b22fe0" stroke-width="1"/>
<path d="M468.65 151.31 L470.72 154.99 L466.58 154.99 Z" fill="none" stroke="#b22fe0" stroke-width="1"/>
<rect x="474.3" y="153.8" width="7.1" height="23.3" fill="#efe5c6" stroke="#a8712c" stroke-width="1.1"/>
<path d="M476.31 159.22 L478.38 155.54 L474.24 155.54 Z" fill="none" stroke="#a8712c" stroke-width="1"/>
<path d="M478.84 159.38 L480.91 155.7 L476.77 155.7 Z" fill="none" stroke="#a8712c" stroke-width="1"/>
<path d="M479.9 155.04 L481.97 151.36 L477.83 151.36 Z" fill="none" stroke="#a8712c" stroke-width="1"/>
<path d="M477.13 154.18 L479.2 150.5 L475.06 150.5 Z" fill="none" stroke="#a8712c" stroke-width="1"/>
<path d="M476.01 153.52 L478.08 149.84 L473.94 149.84 Z" fill="none" stroke="#a8712c" stroke-width="1"/>
<path d="M476.82 157.02 L478.89 153.34 L474.75 153.34 Z" fill="none" stroke="#a8712c" stroke-width="1"/>
<line x1="509.2" y1="177.1" x2="509.2" y2="179.7" stroke="#1a1a1a" stroke-width="0.9"/>
<text x="509.2" y="190.1" text-anchor="middle">48 h</text>
<rect x="491.7" y="138.5" width="7.1" height="38.6" fill="#cfcfcf" stroke="#111" stroke-width="1.1"/>
<circle cx="492.67" cy="139.91" r="2" fill="#111"/>
<circle cx="494.41" cy="137.51" r="2" fill="#111"/>
<circle cx="496.91" cy="138.62" r="2" fill="#111"/>
<circle cx="494.29" cy="138.63" r="2" fill="#111"/>
<circle cx="496.31" cy="135.87" r="2" fill="#111"/>
<circle cx="497.72" cy="135.65" r="2" fill="#111"/>
<rect x="501.1" y="138.5" width="7.3" height="38.6" fill="#fff" stroke="#111" stroke-width="1.1"/>
<circle cx="506.05" cy="140.99" r="1.9" fill="#fff" stroke="#111" stroke-width="0.95"/>
<circle cx="502.24" cy="140.62" r="1.9" fill="#fff" stroke="#111" stroke-width="0.95"/>
<circle cx="504.05" cy="139.26" r="1.9" fill="#fff" stroke="#111" stroke-width="0.95"/>
<circle cx="502.2" cy="135.8" r="1.9" fill="#fff" stroke="#111" stroke-width="0.95"/>
<circle cx="503.09" cy="141.71" r="1.9" fill="#fff" stroke="#111" stroke-width="0.95"/>
<circle cx="503.17" cy="140.41" r="1.9" fill="#fff" stroke="#111" stroke-width="0.95"/>
<rect x="510.2" y="139.3" width="7.8" height="37.8" fill="#f0c6f5" stroke="#b22fe0" stroke-width="1.1"/>
<path d="M516.33 140.12 L518.4 143.8 L514.26 143.8 Z" fill="none" stroke="#b22fe0" stroke-width="1"/>
<path d="M513.29 136.31 L515.36 139.99 L511.22 139.99 Z" fill="none" stroke="#b22fe0" stroke-width="1"/>
<path d="M514.23 139.04 L516.3 142.72 L512.16 142.72 Z" fill="none" stroke="#b22fe0" stroke-width="1"/>
<path d="M512.06 138.86 L514.13 142.54 L509.99 142.54 Z" fill="none" stroke="#b22fe0" stroke-width="1"/>
<path d="M515.65 139.59 L517.72 143.27 L513.58 143.27 Z" fill="none" stroke="#b22fe0" stroke-width="1"/>
<path d="M511.69 140.15 L513.76 143.83 L509.62 143.83 Z" fill="none" stroke="#b22fe0" stroke-width="1"/>
<rect x="519.8" y="143" width="7.6" height="34.1" fill="#efe5c6" stroke="#a8712c" stroke-width="1.1"/>
<path d="M521.47 144.51 L523.54 140.83 L519.4 140.83 Z" fill="none" stroke="#a8712c" stroke-width="1"/>
<path d="M524.18 148.27 L526.25 144.59 L522.11 144.59 Z" fill="none" stroke="#a8712c" stroke-width="1"/>
<path d="M522.77 148.31 L524.84 144.63 L520.7 144.63 Z" fill="none" stroke="#a8712c" stroke-width="1"/>
<path d="M523.83 144.33 L525.9 140.65 L521.76 140.65 Z" fill="none" stroke="#a8712c" stroke-width="1"/>
<path d="M522.65 143.45 L524.72 139.77 L520.58 139.77 Z" fill="none" stroke="#a8712c" stroke-width="1"/>
<path d="M521.41 143.27 L523.48 139.59 L519.34 139.59 Z" fill="none" stroke="#a8712c" stroke-width="1"/>
<line x1="555.2" y1="177.1" x2="555.2" y2="179.7" stroke="#1a1a1a" stroke-width="0.9"/>
<text x="555.2" y="190.1" text-anchor="middle">72 h</text>
<rect x="537.8" y="141" width="6.7" height="36.1" fill="#cfcfcf" stroke="#111" stroke-width="1.1"/>
<circle cx="542.13" cy="144.48" r="2" fill="#111"/>
<circle cx="539.39" cy="138.32" r="2" fill="#111"/>
<circle cx="543.68" cy="141.47" r="2" fill="#111"/>
<circle cx="540.66" cy="139.54" r="2" fill="#111"/>
<circle cx="541.64" cy="143.37" r="2" fill="#111"/>
<circle cx="540.92" cy="140.74" r="2" fill="#111"/>
<rect x="546.3" y="141.4" width="7.9" height="35.7" fill="#fff" stroke="#111" stroke-width="1.1"/>
<circle cx="547.94" cy="144.35" r="1.9" fill="#fff" stroke="#111" stroke-width="0.95"/>
<circle cx="547.82" cy="141.61" r="1.9" fill="#fff" stroke="#111" stroke-width="0.95"/>
<circle cx="552.01" cy="139.25" r="1.9" fill="#fff" stroke="#111" stroke-width="0.95"/>
<circle cx="551.45" cy="144.57" r="1.9" fill="#fff" stroke="#111" stroke-width="0.95"/>
<circle cx="550.93" cy="143.52" r="1.9" fill="#fff" stroke="#111" stroke-width="0.95"/>
<circle cx="548.2" cy="141.22" r="1.9" fill="#fff" stroke="#111" stroke-width="0.95"/>
<rect x="556" y="145" width="7.8" height="32.1" fill="#f0c6f5" stroke="#b22fe0" stroke-width="1.1"/>
<path d="M558.08 145.19 L560.15 148.87 L556.01 148.87 Z" fill="none" stroke="#b22fe0" stroke-width="1"/>
<path d="M558.83 142.65 L560.9 146.33 L556.76 146.33 Z" fill="none" stroke="#b22fe0" stroke-width="1"/>
<path d="M562.5 145.24 L564.57 148.92 L560.43 148.92 Z" fill="none" stroke="#b22fe0" stroke-width="1"/>
<path d="M562.38 142.65 L564.45 146.33 L560.31 146.33 Z" fill="none" stroke="#b22fe0" stroke-width="1"/>
<path d="M559.84 144.44 L561.91 148.12 L557.77 148.12 Z" fill="none" stroke="#b22fe0" stroke-width="1"/>
<path d="M559.79 141.59 L561.86 145.27 L557.72 145.27 Z" fill="none" stroke="#b22fe0" stroke-width="1"/>
<rect x="565.6" y="141.4" width="7.9" height="35.7" fill="#efe5c6" stroke="#a8712c" stroke-width="1.1"/>
<path d="M569.05 141.65 L571.12 137.97 L566.98 137.97 Z" fill="none" stroke="#a8712c" stroke-width="1"/>
<path d="M568.91 147.12 L570.98 143.44 L566.84 143.44 Z" fill="none" stroke="#a8712c" stroke-width="1"/>
<path d="M571.94 144.78 L574.01 141.1 L569.87 141.1 Z" fill="none" stroke="#a8712c" stroke-width="1"/>
<path d="M569.55 142.9 L571.62 139.22 L567.48 139.22 Z" fill="none" stroke="#a8712c" stroke-width="1"/>
<path d="M567.41 142.47 L569.48 138.79 L565.34 138.79 Z" fill="none" stroke="#a8712c" stroke-width="1"/>
<path d="M571.02 146.34 L573.09 142.66 L568.95 142.66 Z" fill="none" stroke="#a8712c" stroke-width="1"/>
<path d="M449.4 141.4 V139 H477.8 V141.4" fill="none" stroke="#1a1a1a" stroke-width="1"/>
<text x="463" y="136.6" text-anchor="middle">&lt; 0.0001</text>
<path d="M494.8 122.4 V120 H522.6 V122.4" fill="none" stroke="#1a1a1a" stroke-width="1"/>
<text x="508.9" y="117.4" text-anchor="middle">0.1</text>
<line x1="541" y1="129.4" x2="569.1" y2="129.4" stroke="#1a1a1a" stroke-width="1"/>
<text x="555" y="126.6" text-anchor="middle">0.1</text>
<circle cx="504.5" cy="124.8" r="1.9" fill="#fff" stroke="#111" stroke-width="0.95"/>
<circle cx="551" cy="132.2" r="1.9" fill="#fff" stroke="#111" stroke-width="0.95"/>
<circle cx="587.5" cy="118.2" r="2" fill="#111"/>
<circle cx="587.5" cy="135.5" r="1.9" fill="#fff" stroke="#111" stroke-width="0.95"/>
<path d="M587.5 155.9 L589.57 159.58 L585.43 159.58 Z" fill="none" stroke="#b22fe0" stroke-width="1"/>
<path d="M587.5 181.9 L589.57 178.22 L585.43 178.22 Z" fill="none" stroke="#a8712c" stroke-width="1"/>
<text x="610.7" y="121.1">PEF</text>
<text x="610.7" y="133.7">PEF +</text>
<text x="610.7" y="143.6">Lip-1 (2 μM)</text>
<text x="610.7" y="155.7">PEF +</text>
<text x="610.7" y="165.8">Ferr-1 (10 μM)</text>
<text x="610.7" y="177.7">PEF +</text>
<text x="610.7" y="187.8">Tocopherol (10 μM)</text>
<text x="4.8" y="186.1" font-size="14" font-weight="bold" stroke="#000" stroke-width="0.9" fill="#000">e</text>
<text x="28.9" y="196.1">Panc-1, PEF + Cell Debris vs. Control, GO_BP UP</text>
<rect x="122.1" y="198.5" width="52.2" height="153.9" fill="#fff"/>
<line x1="127.6" y1="198.5" x2="127.6" y2="352.4" stroke="#ebebeb" stroke-width="0.5"/>
<line x1="133" y1="198.5" x2="133" y2="352.4" stroke="#ebebeb" stroke-width="0.9"/>
<line x1="138.4" y1="198.5" x2="138.4" y2="352.4" stroke="#ebebeb" stroke-width="0.5"/>
<line x1="143.8" y1="198.5" x2="143.8" y2="352.4" stroke="#ebebeb" stroke-width="0.9"/>
<line x1="149.2" y1="198.5" x2="149.2" y2="352.4" stroke="#ebebeb" stroke-width="0.5"/>
<line x1="154.6" y1="198.5" x2="154.6" y2="352.4" stroke="#ebebeb" stroke-width="0.9"/>
<line x1="160" y1="198.5" x2="160" y2="352.4" stroke="#ebebeb" stroke-width="0.5"/>
<line x1="165.4" y1="198.5" x2="165.4" y2="352.4" stroke="#ebebeb" stroke-width="0.9"/>
<line x1="170.8" y1="198.5" x2="170.8" y2="352.4" stroke="#ebebeb" stroke-width="0.5"/>
<line x1="122.1" y1="207.4" x2="174.3" y2="207.4" stroke="#ebebeb" stroke-width="0.9"/>
<line x1="122.1" y1="222.54" x2="174.3" y2="222.54" stroke="#ebebeb" stroke-width="0.9"/>
<line x1="122.1" y1="237.68" x2="174.3" y2="237.68" stroke="#ebebeb" stroke-width="0.9"/>
<line x1="122.1" y1="252.82" x2="174.3" y2="252.82" stroke="#ebebeb" stroke-width="0.9"/>
<line x1="122.1" y1="267.96" x2="174.3" y2="267.96" stroke="#ebebeb" stroke-width="0.9"/>
<line x1="122.1" y1="283.1" x2="174.3" y2="283.1" stroke="#ebebeb" stroke-width="0.9"/>
<line x1="122.1" y1="298.24" x2="174.3" y2="298.24" stroke="#ebebeb" stroke-width="0.9"/>
<line x1="122.1" y1="313.38" x2="174.3" y2="313.38" stroke="#ebebeb" stroke-width="0.9"/>
<line x1="122.1" y1="328.52" x2="174.3" y2="328.52" stroke="#ebebeb" stroke-width="0.9"/>
<line x1="122.1" y1="343.66" x2="174.3" y2="343.66" stroke="#ebebeb" stroke-width="0.9"/>
<line x1="119.6" y1="207.4" x2="122.1" y2="207.4" stroke="#333" stroke-width="0.8"/>
<text x="116" y="210.4" text-anchor="end">Regulation of ferroptosis</text>
<circle cx="167.1" cy="207.4" r="1.2" fill="#e8445a"/>
<line x1="119.6" y1="222.54" x2="122.1" y2="222.54" stroke="#333" stroke-width="0.8"/>
<text x="116" y="225.54" text-anchor="end">Ferroptosis</text>
<circle cx="163.8" cy="222.54" r="1.2" fill="#e8445a"/>
<line x1="119.6" y1="237.68" x2="122.1" y2="237.68" stroke="#333" stroke-width="0.8"/>
<text x="116" y="240.68" text-anchor="end">Zymogen activation</text>
<circle cx="135" cy="237.68" r="2.7" fill="#3a85bf"/>
<line x1="119.6" y1="252.82" x2="122.1" y2="252.82" stroke="#333" stroke-width="0.8"/>
<text x="116" y="255.82" text-anchor="end">Ceramide biosynthesis</text>
<circle cx="134" cy="252.82" r="2.7" fill="#3a85bf"/>
<line x1="119.6" y1="267.96" x2="122.1" y2="267.96" stroke="#333" stroke-width="0.8"/>
<text x="116" y="270.96" text-anchor="end">Sphingolipid biosynthesis</text>
<circle cx="132.4" cy="267.96" r="3.5" fill="#e5435c"/>
<line x1="119.6" y1="283.1" x2="122.1" y2="283.1" stroke="#333" stroke-width="0.8"/>
<text x="116" y="286.1" text-anchor="end">Cellular response to FGF</text>
<circle cx="131" cy="283.1" r="3.2" fill="#3a85bf"/>
<line x1="119.6" y1="298.24" x2="122.1" y2="298.24" stroke="#333" stroke-width="0.8"/>
<text x="116" y="301.24" text-anchor="end">Female sex differentiation</text>
<circle cx="130.7" cy="298.24" r="3.2" fill="#3a85bf"/>
<line x1="119.6" y1="313.38" x2="122.1" y2="313.38" stroke="#333" stroke-width="0.8"/>
<text x="116" y="316.38" text-anchor="end">Membrane lipid biosynthesis</text>
<circle cx="129.6" cy="313.38" r="3.4" fill="#3a85bf"/>
<line x1="119.6" y1="328.52" x2="122.1" y2="328.52" stroke="#333" stroke-width="0.8"/>
<text x="116" y="331.52" text-anchor="end">Sphingolipid metabolism</text>
<circle cx="129.2" cy="328.52" r="3.6" fill="#3a85bf"/>
<line x1="119.6" y1="343.66" x2="122.1" y2="343.66" stroke="#333" stroke-width="0.8"/>
<text x="116" y="346.66" text-anchor="end">Amide biosynthesis</text>
<circle cx="129.2" cy="343.66" r="3.6" fill="#3a85bf"/>
<rect x="122.1" y="198.5" width="52.2" height="153.9" fill="none" stroke="#333" stroke-width="0.8"/>
<line x1="121.9" y1="352.4" x2="121.9" y2="354.8" stroke="#333" stroke-width="0.8"/>
<text x="121.9" y="363.1" text-anchor="middle">0.0</text>
<line x1="132.62" y1="352.4" x2="132.62" y2="354.8" stroke="#333" stroke-width="0.8"/>
<line x1="143.34" y1="352.4" x2="143.34" y2="354.8" stroke="#333" stroke-width="0.8"/>
<text x="143.34" y="363.1" text-anchor="middle">0.2</text>
<line x1="154.06" y1="352.4" x2="154.06" y2="354.8" stroke="#333" stroke-width="0.8"/>
<line x1="164.78" y1="352.4" x2="164.78" y2="354.8" stroke="#333" stroke-width="0.8"/>
<text x="164.78" y="363.1" text-anchor="middle">0.4</text>
<text x="149.7" y="373.2" text-anchor="middle">Enrich Factor</text>
<defs><linearGradient id="cb" x1="0" y1="0" x2="0" y2="1"><stop offset="0" stop-color="#ec4257"/><stop offset="0.5" stop-color="#9b6a8e"/><stop offset="1" stop-color="#3b84bd"/></linearGradient></defs>
<rect x="189.1" y="211.4" width="14.7" height="73.3" fill="url(#cb)"/>
<line x1="189.1" y1="226.5" x2="191.9" y2="226.5" stroke="#fff" stroke-width="0.6"/>
<line x1="200.9" y1="226.5" x2="203.8" y2="226.5" stroke="#fff" stroke-width="0.6"/>
<text x="207.6" y="229.6">2.6</text>
<line x1="189.1" y1="247.5" x2="191.9" y2="247.5" stroke="#fff" stroke-width="0.6"/>
<line x1="200.9" y1="247.5" x2="203.8" y2="247.5" stroke="#fff" stroke-width="0.6"/>
<text x="207.6" y="250.6">2.4</text>
<line x1="189.1" y1="268.7" x2="191.9" y2="268.7" stroke="#fff" stroke-width="0.6"/>
<line x1="200.9" y1="268.7" x2="203.8" y2="268.7" stroke="#fff" stroke-width="0.6"/>
<text x="207.6" y="271.8">2.2</text>
<text x="185" y="249.5" text-anchor="middle" transform="rotate(-90 185 249.5)">-Log<tspan font-size="5.5" dy="1.8">10</tspan><tspan dy="-1.8">(</tspan><tspan font-style="italic">p.adjust</tspan>)</text>
<text x="183.8" y="308.9">Count</text>
<circle cx="187.5" cy="321.7" r="1.8" fill="#000"/>
<text x="193" y="324.7">6</text>
<circle cx="187.5" cy="331.3" r="2.4" fill="#000"/>
<text x="193" y="334.3">8</text>
<circle cx="187.5" cy="340.5" r="2.9" fill="#000"/>
<text x="193" y="343.5">10</text>
<circle cx="187.5" cy="349.7" r="3.5" fill="#000"/>
<text x="193" y="352.7">12</text>
<defs><filter id="bl06" x="-10%" y="-10%" width="120%" height="120%"><feGaussianBlur stdDeviation="0.7"/></filter><g id="vol"><path d="M-44 0 L-40 -1 L-35 -4 L-31 -9 L-27.5 -15.5 L-24 -22 L-20.5 -28 L-17 -30.5 L-13 -29.5 L-10 -27 L-7.5 -23 L-5 -15 L-2.5 -7 L0 0 L2 -4 L4 -10 L7.5 -17 L12 -28 L15.5 -40 L18 -49 L20 -51.5 L22 -47 L24 -40 L28.5 -28.3 L35.5 -16.6 L42.5 -9.6 L47.2 -6 L52 -3 L56 -1 L45 1 L20 1.5 L0 1.5 L-20 1.3 L-40 0.8 Z" fill="#d2d2d2" filter="url(#bl06)"/><path d="M-4.09 -3.46h0M5.42 -1.03h0M6.51 -1.04h0M-16.26 -22.25h0M6.69 -10.53h0M23.5 -31.09h0M12.41 -12.47h0M20.78 -18.28h0M2.98 -1.1h0M5.83 -4.12h0M-30.41 -54.02h0M-4.4 -2.39h0M26.06 -21.18h0M16.76 -28.93h0M20.34 -54.83h0M11.06 -4.31h0M46.29 -10.88h0M1.18 -1.03h0M0.58 -0.73h0M21.26 -30.32h0M37.73 -19.17h0M8.33 -5.75h0M-7.63 -4.71h0M6.46 -2.14h0M-11.52 -8.64h0M-8.37 -13.56h0M-19.68 -37.6h0M-12.19 -3.19h0M5.75 -4.63h0M-3.56 -4.17h0M-17.72 -24h0M-0.15 -0.09h0M8.04 -8.91h0M-6.05 -3.2h0M-2.83 -2.37h0M16.26 -22.13h0M3.41 -0.98h0M-8.92 -6.43h0M-9 -3.6h0M7.03 -4.09h0M-7.85 -6.74h0M29.44 -2.49h0M-3.25 -0.93h0M-3.74 -2.12h0M-1.87 -0.73h0M-15.14 -10.09h0M20.33 -12.1h0M8.88 -14.8h0M5.37 -9.37h0M-2.43 -1.15h0M-9.04 -3.36h0M-6.96 -8.42h0M-1.48 -0.88h0M-3.92 -1.39h0M5.62 -6.32h0M7.07 -2.88h0M13.15 -1.34h0M2.56 -2.13h0M51.1 -26.11h0M-0.71 -0.27h0M-9.43 -8.52h0M2.26 -1.18h0M4.71 -4.39h0M-2.54 -1.07h0M-5.4 -3.33h0M-5.9 -6.92h0M3.21 -1.41h0M-22.7 -19.6h0M-5.6 -2.91h0M-1.24 -1.13h0M-0.55 -0.34h0M4.85 -9.94h0M1.71 -1.44h0M4.09 -2.07h0M-4.84 -8.75h0M-0.41 -0.21h0M5.16 -3.86h0M3.69 -0.61h0M6.41 -3.42h0M-21.15 -78.19h0M-15.99 -27.15h0M3.58 -2.71h0M3.14 -2.99h0M-3.93 -5.31h0M-4.55 -2.56h0M-13.18 -17.98h0M62.06 -10.4h0M-11.52 -15.49h0M3.57 -2.07h0M-10.86 -13.99h0M-0.46 -0.18h0M6.88 -0.5h0M-2.32 -0.8h0M-1.06 -0.43h0M-2.64 -1.39h0M0.98 -0.24h0M-9.09 -3.4h0M-9.67 -13.93h0M0.68 -0.26h0M18.05 -44.79h0M-0.22 -0.09h0M16.51 -6.77h0M-9.49 -6.51h0M1.7 -1.4h0M-0.54 -0.3h0M-3.44 -2.31h0M-25.2 -32.01h0M-2.83 -0.68h0M39.21 -47.33h0M0.32 -0.23h0M6.08 -2.13h0M-7.04 -13.05h0M-7.8 -3.61h0M11.74 -6.39h0M4.19 -5.23h0M15.55 -14.78h0M-11.83 -20.82h0M1.04 -0.5h0M-14.03 -27.14h0M-12.76 -7.05h0M0.32 -0.08h0M-23.18 -4h0M1.28 -0.87h0M11.21 -6.65h0M3.08 -1.28h0M-0.07 -0.06h0M3.63 -1.43h0M-0.02 0h0M11.89 -44.69h0M-25.53 -17.5h0M-13.64 -5.66h0M-0.3 -0.05h0M-13.2 -17.21h0M-1.3 -0.75h0M-50.28 -17.14h0M23.18 -18.89h0M-2.86 -1.42h0M10.33 -3.23h0M27.61 -23.16h0M-1.94 -2.61h0M15.12 -41.07h0M-5.16 -4.03h0M1.23 -0.54h0M-9.78 -12.78h0M-9.36 -8.02h0M4.77 -6.4h0M-5.9 -5.79h0M4.74 -1.52h0M1.62 -0.7h0M0.68 -0.33h0M-1.74 -1.02h0M-9.02 -5.66h0M-2.97 -0.5h0M6.55 -4.05h0M-3.67 -2.08h0M-5.87 -1.93h0M-5.97 -3.39h0M-5.13 -6.05h0M13.81 -23.2h0M3.17 -1.82h0M-2.94 -5.1h0M18.62 -28.86h0M57.54 -21.77h0M-4.3 -2.36h0M15.63 -9.06h0M-16.82 -47.03h0M2.42 -0.68h0M7.3 -3.08h0M-12.53 -9.99h0M42.71 -17.32h0M27.13 -6.49h0M9.74 -28.13h0M-0.72 -0.57h0M-17.86 -11.11h0M4.09 -2.6h0M3.18 -1.97h0M25.99 -8.54h0M-11.18 -3.66h0M2.14 -2.4h0M12.68 -9.33h0M9.72 -2.46h0M-11.21 -2.35h0M-15.34 -13.74h0M-3.27 -3.16h0M-10.69 -25.41h0M-8.93 -7.51h0M-1.91 -1.13h0M-17.73 -18.76h0M-27.86 -10.56h0M3.77 -2.23h0M-5.1 -4.77h0M10.65 -17.73h0M2.85 -2.14h0M-5.61 -2.46h0M-0.09 -0.06h0M-0.21 -0.21h0M-2.28 -0.89h0M0.79 -0.36h0M10.9 -20.6h0M-6.54 -4.94h0M2.05 -1.72h0M2.51 -2.38h0M6.25 -5.35h0M0.98 -0.48h0M13.72 -17.44h0M-0.94 -0.45h0M-6.38 -0.8h0M-0.11 -0.05h0M-9.74 -12.39h0M38.51 -5.13h0M2.14 -2.29h0M25.38 -7.49h0M-55.1 -23.29h0M-6.82 -9.12h0M23.1 -2.31h0M-4.7 -2.75h0M-34.46 -58.94h0M-13.82 -3.97h0M11.57 -21.27h0M-10.1 -14.53h0M4.17 -3.52h0M-27.72 -12.05h0M20.69 -9.31h0M1.63 -1.38h0M15.11 -28.07h0M11.66 -1.81h0M0.6 -0.24h0M-0.19 -0.21h0M28.9 -10.36h0M-0.98 -0.33h0M12.94 -2.71h0M6.82 -1.83h0M-2.96 -2.47h0M14.35 -2.33h0M38.41 -70.9h0M18.28 -3.11h0M2.42 -1.25h0M1.72 -1.11h0M5.16 -5.05h0M5.18 -3.88h0M-8.9 -12.68h0M-7.72 -9.67h0M15 -39.57h0M5.51 -6.12h0M20.32 -20.22h0M4.7 -0.84h0M17.12 -29.96h0M15.95 -15.56h0M-2.85 -2.44h0M-2.71 -1.16h0M71.7 -125.36h0M4.05 -3.15h0M-0.35 -0.26h0M5.31 -4.9h0M4.89 -13.64h0M-1.24 -0.78h0M1.7 -0.37h0M4.91 -4.1h0M8.39 -3.19h0M-7.47 -4.85h0M-27.86 -3.92h0M6.23 -3.93h0M3.49 -2.06h0M22.75 -5.92h0M-0.71 -0.39h0M-18.6 -22.29h0M-41.71 -8.99h0M7.42 -2.63h0M5.28 -3.9h0M5.06 -2.69h0M-7.95 -5.52h0M23.31 -15.98h0M-33.01 -7.44h0M6.34 -5.35h0M3.51 -3.77h0M4.88 -4.93h0M-1.94 -0.38h0M-1.72 -1.11h0M2.85 -3.11h0M-8.07 -15.79h0M2.06 -1.46h0M-0.41 -0.28h0M-5.3 -0.69h0M2.41 -4.67h0M-6.89 -4.93h0M-14.59 -3.78h0M12.73 -13.3h0M-0.02 -0.01h0M3.5 -1.93h0M0.95 -0.27h0M-12.05 -4.05h0M-5.63 -5.68h0M38.49 -9.4h0M-8.18 -2.36h0M33.65 -2.69h0M6.13 -5.4h0M-15.79 -9.71h0M-8.23 -10.29h0M2.76 -2.75h0M2.76 -2.45h0M-21.62 -8.72h0M-57.75 -82.17h0M-0.42 -0.21h0M-10.32 -6.66h0M-1.26 -1.24h0M-3.62 -2.98h0M-3.01 -1.64h0M3.33 -2.05h0M-2.95 -1.97h0M6.64 -10.66h0M4.53 -2.89h0M71.97 -121.26h0M-2.7 -0.53h0M-6.92 -6.52h0M10.01 -8.83h0M-1.24 -1.48h0M13.07 -3.68h0M-1.47 -1.17h0M3.79 -5.3h0M-23.59 -28.44h0M-3.41 -3.09h0M-4.69 -1.32h0M8.01 -11.37h0M7.62 -5.96h0M8.42 -1.22h0M-18.38 -28.68h0M-2.04 -2.23h0M-4.02 -6.77h0M11.66 -8.28h0M7.27 -7.06h0M9.51 -10.34h0M7.06 -5.64h0M46.16 -79.7h0M-18.06 -21.83h0M-10.41 -8.6h0M-2.09 -1.15h0M-11.76 -19.14h0M5.15 -3.79h0M-3.39 -1.02h0M-0.72 -0.65h0M11.67 -9.32h0M5.05 -5.64h0M45.34 -22.04h0M2.76 -1.8h0M0.45 -0.09h0M-0.47 -0.25h0M2.82 -2.02h0M-4.34 -3h0M-3.72 -0.86h0M3.24 -2.38h0M-15.58 -30.25h0M20.37 -22.74h0M7.86 -7.64h0M-19.79 -21.62h0M-7.32 -5.79h0M-0.21 -0.15h0M-7.01 -3.37h0M-13.09 -16.56h0M0.8 -0.24h0M1.21 -0.56h0M-0.76 -0.17h0M-1.34 -0.72h0M-18.12 -13.5h0M0.63 -0.25h0M-1.57 -0.37h0M-5.82 -3.1h0M-7.97 -4.64h0M82.5 -8.54h0M18.09 -5.5h0M59.15 -13.75h0M3.64 -6.77h0M4.56 -1.35h0M-14.58 -12.35h0M4.02 -3.39h0M-6.13 -0.93h0M5.72 -1.41h0M-6.03 -3.4h0M-3.97 -3.52h0M6.01 -5.9h0M9.09 -7.89h0M26.7 -14.24h0M12.12 -9.77h0M-4.17 -0.46h0M3.51 -3.03h0M3.44 -3.29h0M-5.66 -6.05h0M26.4 -49.5h0M-1.35 -0.63h0M-4.51 -2.62h0M1.66 -0.57h0M9.27 -1.51h0M-21.35 -3.28h0M-4.05 -2.02h0M-6.06 -4.77h0M-1.4 -0.36h0M5.09 -1.39h0M25.39 -5.07h0M10.67 -49.37h0M10.78 -6.59h0M2.95 -15.81h0M-11.54 -3.05h0M12.86 -9.1h0M8.28 -7.74h0M-10.84 -14.32h0M-0.74 -0.3h0M7.75 -7.27h0M9.59 -4.76h0M-14.26 -15.5h0M-1.21 -0.65h0M1.37 -0.16h0M-6.25 -3.5h0M-31.15 -3.23h0M16.72 -13.41h0M-39.03 -44.82h0M5.06 -2.97h0M6.13 -7.03h0M-8.46 -14.8h0M-9.65 -9.98h0M-12.91 -5.32h0M-9.05 -6.82h0M6.81 -3.58h0M6.79 -0.92h0M-3.26 -2.64h0M-0.27 -0.14h0M11.16 -9.84h0M-3.16 -3.52h0M-9.23 -10.64h0M-12.5 -8.85h0M3.25 -2.07h0M-5.92 -6.22h0M23.15 -30.82h0M13.84 -12.66h0M3.97 -5.65h0M-1.24 -0.26h0M12.67 -26.19h0M-2.4 -1.01h0M0.61 -0.39h0M4.1 -5.86h0M9.58 -9.24h0M-2.36 -3.79h0M-2.32 -2.27h0M3.12 -3.35h0M7.42 -2.23h0M-7.11 -6.38h0M8.97 -13.05h0M12.28 -4.19h0M18.88 -36.15h0M-4.15 -1.17h0M3.59 -3.96h0M-3.87 -4.4h0M-2.53 -2.61h0M16.87 -62.16h0M-0.52 -0.6h0M-0.69 -0.61h0M-57.34 -21.18h0M-12.49 -31.5h0M-6.92 -11.35h0M14.18 -11.35h0M12.54 -7.81h0M-8.21 -1.9h0M0.71 -0.16h0M-4.34 -4.2h0M3.99 -4.81h0M-27.2 -19.58h0M1.99 -1.24h0M53.98 -13.08h0M-70.55 -11.87h0M-5.07 -5.81h0M1.19 -0.67h0M0.74 -0.53h0M40.89 -24.09h0M6.97 -2.31h0M0.33 -0.15h0M-13.41 -5.86h0M17.19 -3.19h0M2.88 -1.41h0M3.79 -0.83h0M3.41 -3.7h0M-0.74 -0.42h0M21.84 -26.53h0M8.24 -16.93h0M2.38 -1.45h0M21.61 -12.03h0M14.95 -5.8h0M-4.38 -0.59h0M2.42 -2.51h0M0.83 -0.29h0M3.37 -0.67h0M4.59 -3.09h0M-2.41 -0.73h0M3.77 -4.4h0M-3.28 -1.88h0M-11.44 -0.87h0M7.29 -17.86h0M-0.04 -0.02h0M-0.19 -0.14h0M-1.68 -1.2h0M28.59 -2.9h0M17.84 -6.8h0M0.08 -0.07h0M-3.86 -3.72h0M2.94 -5.06h0M-8.84 -29.11h0M4.86 -4.13h0M-11.79 -9.73h0M-28.2 -93.38h0M-22.64 -19.43h0M6.49 -6.83h0M12.37 -2.18h0M3.87 -3.55h0M-7.87 -7.53h0M-17.62 -7.23h0M-2.3 -1.71h0M-6.27 -6.06h0M1.14 -0.82h0M-8.34 -7.24h0M7.08 -3.96h0M-6.16 -6.2h0M-5.03 -5.67h0M-21.93 -12.24h0M-1.05 -2.08h0M6.55 -1.39h0M18.87 -22.05h0M-8.47 -1.45h0M8.23 -1.51h0M-3.49 -1.49h0M4.14 -3.59h0M1.26 -0.15h0M4.9 -7.64h0M14.33 -9.26h0M7.59 -1.02h0M-5.37 -5.75h0M-9.73 -1.64h0M-18.61 -7.05h0M22.71 -2.54h0M50.63 -56.27h0M26.51 -10.5h0M2.36 -2.22h0M3.12 -2.25h0M-20.8 -3.37h0M31.47 -12.51h0M10.7 -5.17h0M-3.34 -2.75h0M-12.42 -2.31h0M-1.45 -1.22h0M4.29 -1.33h0M2.33 -1.76h0M5.78 -2.82h0M1.37 -0.54h0M42.86 -12.34h0M-5.13 -0.74h0M18.58 -4.86h0M-3.91 -1.18h0M-0.94 -0.61h0M-4.83 -7.47h0M-3.53 -4.47h0M-5.81 -3.08h0M-1.87 -0.42h0M2.73 -1.57h0M-41.16 -11.14h0M1.13 -0.88h0M-0.33 -0.12h0M-0.01 -0.01h0M-3.8 -4.7h0M-32.1 -10.25h0M-1.49 -0.8h0M-1.79 -0.92h0M0.3 -0.26h0M-4.44 -3.11h0M-51.14 -10.79h0M6.22 -3.81h0M-0.63 -0.36h0M-2.58 -3.8h0M-2.48 -0.93h0M-5.55 -4.86h0M1.62 -1.4h0M-4.66 -3.86h0M2.12 -0.76h0M-8.07 -2.48h0M34.29 -43.74h0M9.99 -8.53h0M13.69 -21.59h0M7.9 -21.17h0M-5.4 -5.5h0M6.28 -11.88h0M14.14 -6.65h0M-4.78 -5.15h0M-18.3 -24.89h0M-12.38 -11.82h0M-9.28 -8.37h0M-0.72 -0.18h0M2.21 -2.02h0M-3.33 -1.11h0M2.02 -1.73h0M-0.01 -0.01h0M2.54 -3.56h0M7.22 -7.94h0M29.74 -12.56h0M-5.55 -1.81h0M-11.67 -15.18h0M-1.96 -1.74h0M-3.79 -0.54h0M-0.01 -0.01h0M25.93 -126h0M0.89 -1.32h0M-0.33 -0.16h0M-1.7 -0.71h0M-18.09 -5.83h0M-0.24 -0.03h0M-5.84 -12.72h0M-12.02 -6.98h0M-3.71 -1.78h0M-6.3 -5.03h0M-52.73 -11.05h0M5.8 -2.11h0M-3.94 -2.92h0M7.82 -16.53h0M28.05 -4.48h0M-4.47 -6.98h0M5.36 -0.36h0M0.13 -0.09h0M-0.68 -0.74h0M-1.8 -0.8h0M-4.14 -4.35h0M-14.07 -14.66h0M61.47 -4.22h0M-6.9 -6.19h0M-7.97 -11.53h0M26.63 -1.68h0M-23.46 -14.09h0M9.5 -3.79h0M-2.25 -1.44h0M-31.63 -41.18h0M12.26 -8.3h0M6.2 -7.07h0M7.3 -6.07h0M-52.32 -7.24h0M64.86 -28.59h0M8.08 -20.13h0M-4.62 -3.81h0M-59.08 -13.26h0M2.15 -2.28h0M1.24 -0.54h0M8.84 -6.31h0M6.52 -5.2h0M-40.79 -48.29h0M1.77 -1.45h0M17.73 -31.38h0M8.04 -11.56h0M-1.94 -0.55h0M-2.91 -0.92h0M-6.43 -6.27h0M-4.17 -8.86h0M-6.46 -5.93h0M6.53 -3.05h0M-5.86 -4.15h0M27.96 -82.45h0M2.03 -1.31h0M5.52 -5.4h0M5.5 -16.82h0M-7.21 -8.42h0M4.16 -2.04h0M12.49 -8.53h0M-22.1 -4.95h0M-17.5 -5.37h0M16.7 -4.52h0M-1.58 -1.1h0M13.34 -11.74h0M0.18 -0.21h0M0.33 -0.29h0M-0.56 -0.57h0M-4.49 -1.88h0M-5.12 -5.19h0M-1.01 -0.67h0M-3.21 -2.23h0M4.05 -4.13h0M1.98 -1.57h0M0.62 -0.23h0M-34.34 -4.25h0M-31.11 -38.37h0M-21.11 -4.62h0M-15.02 -10.1h0M13.18 -55.61h0M1.02 -0.72h0M0.28 -0.13h0M-27.86 -25.57h0M3.29 -5.91h0M3.85 -1.68h0M-1.93 -2.16h0M-7.77 -7.53h0M10.42 -24.09h0M-3.6 -3.88h0M-0.85 -0.96h0M8.31 -5.78h0M6.34 -1.56h0M11.78 -23.2h0M61.79 -6.83h0M12.12 -6.28h0M-3.59 -1.57h0M-13.32 -5.03h0M-7.01 -4.52h0M6.65 -4.75h0M2.73 -3.16h0M5.57 -7.19h0M1.62 -0.52h0M-0.49 -0.35h0M19.51 -9.04h0M-10.94 -15.3h0M3.36 -2.56h0M-60.67 -53.36h0M-0.69 -0.26h0M1.84 -0.78h0M1.53 -1.72h0M-3.48 -2.74h0M-19.61 -26.14h0M-7.6 -14.99h0M5.84 -4.9h0M-1.16 -0.52h0M24.55 -3.52h0M5.07 -4.36h0M4.82 -4.89h0M13.27 -2.53h0M-2.24 -1.33h0M-2.4 -2.4h0M60.36 -34.88h0M7.02 -10.15h0M1.19 -1.28h0M12.25 -1.48h0M1.91 -1.45h0M-4.08 -1.24h0M-3.71 -1.39h0M4.2 -5.22h0M12.01 -17.36h0M13.57 -10.57h0M4.47 -2.01h0M-0.91 -0.3h0M5.61 -3.77h0M4.14 -2.93h0M13.88 -3.47h0M6.6 -5.44h0M-4.18 -5.74h0M0.15 -0.06h0M-3.89 -4.16h0M-4.54 -5.7h0M0.05 -0.04h0M-3.35 -5.43h0M3.33 -1.8h0M3.65 -4.04h0M-5.31 -4.25h0M8.89 -6.47h0M29.81 -4.77h0M-7.61 -2.03h0M-10.27 -4.95h0M-5.78 -3.67h0M1.18 -0.77h0M11.78 -11.16h0M1.56 -0.45h0M-1.47 -0.56h0M5.82 -4.7h0M1.08 -1.25h0M0.26 -0.18h0M6.24 -7.05h0M-9.29 -10.81h0M4.85 -7.44h0M12.73 -6.25h0M-4.14 -3.19h0M3.15 -2.04h0M34.25 -16.45h0M-9.47 -0.97h0M-7.66 -7.7h0M-5.91 -5.53h0M-5.79 -4.39h0M12.67 -20.93h0M-5.06 -3.44h0M-10.73 -9.09h0M-21.11 -2.73h0M18.78 -18.44h0M-13.31 -21.1h0M-1.52 -0.57h0M-16.26 -28.43h0M17.18 -6.72h0M-0.93 -1.48h0M-71.29 -25.21h0M6.75 -5.47h0M12.03 -10.01h0M-5.44 -3.41h0M9.25 -16.06h0M-0.53 -0.19h0M6.35 -8.57h0M25.59 -41.41h0M-40.32 -11.7h0M8.15 -1.48h0M7.86 -5.68h0M0.43 -0.31h0M15.8 -72.17h0M-26.46 -11.32h0M1.34 -0.77h0M-9.18 -4.02h0M-1.18 -0.35h0M-4.62 -1.27h0M7.99 -0.84h0M-7.26 -5.89h0M-9.17 -5.72h0M-2.72 -4.1h0M20.65 -22.92h0M-0.2 -0.18h0M-1.68 -1.49h0M-0.37 -0.44h0M-0.22 -0.06h0M2.24 -2.17h0M-58.13 -39.16h0M17.04 -8.65h0M-1.58 -1.2h0M1.79 -1.34h0M5.33 -12.58h0M13.14 -3.51h0M-6.86 -4.79h0M-4.82 -4.49h0M1.68 -1.24h0M-9.63 -6.82h0M-11.08 -6.61h0M-20.14 -13.82h0M3.47 -0.79h0M-8.58 -7.29h0M-9.09 -5.21h0M0.06 -0.03h0M1.85 -1.63h0M1.12 -0.68h0M-1.39 -0.97h0M11.06 -10.57h0M6.96 -6.24h0M-9.38 -2.91h0M-4.93 -2.94h0M-1.91 -2.45h0M-66.5 -32.8h0M-9.93 -6.03h0M-1.84 -1.14h0M0.62 -0.15h0M-12.09 -3.14h0M-12.4 -2.02h0M-3.59 -2.58h0M-3.12 -3.63h0M-4.77 -2.46h0M-2.35 -1.1h0M27 -20.82h0M12.01 -6.14h0M12.41 -8.49h0M-1.84 -0.64h0M2.93 -3.78h0M-0.03 -0.02h0M-2.61 -3.93h0M-5.2 -2.63h0M-3.6 -0.5h0M-4.17 -3.03h0M3.89 -4.82h0M-18.35 -8.4h0M1.1 -0.55h0M3.25 -0.5h0M8.11 -6.78h0M15.83 -6.56h0M-21.71 -3.17h0M1.3 -0.69h0M0.73 -0.4h0M-9.75 -24.11h0M19.36 -47.2h0M-3.22 -2.35h0M-5.24 -3.42h0M-15.87 -12.55h0M2.05 -4.16h0M-20.03 -20.63h0M41.93 -11.77h0M5.54 -3.68h0M0.77 -0.28h0M-3.49 -2.47h0M6.66 -8.88h0M21.06 -5.7h0M-10.22 -8.51h0M-10.83 -0.75h0M0.81 -0.52h0M-2.89 -1.39h0M-17.5 -11.55h0M17.7 -13.02h0M-2.68 -1.67h0M7.64 -2.63h0M-1.7 -1.31h0M8.79 -3.58h0M-28.41 -4.34h0M-4.77 -3.5h0M8.1 -11.87h0M-19.83 -28.25h0M-0.13 -0.03h0M-0.23 -0.11h0M5.34 -3.73h0M-10.08 -2.43h0M-69.77 -53.42h0M0.7 -0.73h0M62.09 -27.88h0M-2.89 -4h0M-13.13 -2.04h0M27.81 -11.82h0M15.5 -21.2h0M-8.96 -6.73h0M-6.45 -5.3h0M14.89 -3.67h0M0.31 -0.13h0M35.43 -10.64h0M4.85 -1.09h0M1.01 -0.99h0M46.92 -16.35h0M-6.19 -12.08h0M-6.27 -8.51h0M6.92 -4.11h0M9.51 -17.87h0M8.7 -1.14h0M-5.66 -10.06h0M1.03 -0.56h0M-10.34 -14.84h0M2.96 -1.92h0M1.77 -0.56h0M0.44 -0.32h0M-0.22 -0.12h0M-6.9 -2.9h0M-5.92 -3.77h0M-16.02 -3.01h0M-29.96 -7.24h0M-13.96 -21.26h0M-12.71 -32.38h0M7.89 -3.7h0M2.52 -0.85h0M-6.12 -4.36h0M-2.6 -1.13h0M-20.45 -59.54h0M-15.46 -30.71h0M-17.5 -32.2h0M6.78 -10.78h0M-68.99 -68.98h0M-2.05 -0.48h0M5.01 -0.97h0M-6.07 -7.9h0M4.67 -5.6h0M51.49 -10.09h0M-9.69 -8.48h0M-3.78 -1.76h0M13.63 -6.68h0M-1.81 -0.48h0M5.97 -5.25h0M18.01 -8.97h0M3.27 -3.18h0M5.77 -3.83h0M28.54 -10.6h0M-8.42 -18.61h0M15.86 -10.45h0M4.57 -1.03h0M-9.51 -10.49h0M18.79 -10.82h0M-8.18 -3.27h0M20.41 -13.07h0M2.36 -1.88h0M-16.37 -5.2h0M15.72 -49.36h0M3.46 -1.55h0M-2.06 -1.38h0M-11.94 -2.25h0M5.57 -2.06h0M-5.55 -4.88h0M-13.72 -8.74h0M7.3 -7h0M-13.92 -13.25h0M13.71 -13.61h0M-16 -7.39h0M-0.28 -0.14h0M-32.63 -11.4h0M9.7 -16.38h0M-0.5 -0.26h0M-7.92 -1.98h0M47.74 -98.27h0M-0.86 -0.77h0M-8.37 -8.32h0M5.22 -7.95h0M20.5 -9.02h0M21.73 -4.82h0M4.26 -3h0M1.76 -1.16h0M-52.75 -7.32h0M-17.76 -41.83h0M9.11 -3.01h0M2.33 -0.62h0M27.05 -5.35h0M-19.78 -19.59h0M-1.12 -0.46h0M-5.63 -5.77h0M-17.69 -10.16h0M9.07 -16.09h0M6.58 -4.78h0M-10.72 -15.03h0M1.31 -0.84h0M4.73 -1.46h0M-6.87 -2.82h0M-5.58 -4.87h0M-7.18 -5.05h0M24.21 -17.01h0M4.44 -6.41h0M-5.5 -3.45h0M1.62 -0.67h0M-7.54 -5.38h0M-0.61 -0.13h0M0.75 -0.12h0M0.1 -0.08h0M-0.34 -0.24h0M-8.03 -9.85h0M2.48 -3.57h0M-10.82 -7.15h0M-14.77 -14.23h0M20.44 -3.38h0M-1.15 -0.45h0M-5.21 -4.83h0M3.32 -0.94h0M-5.29 -4.11h0M18.12 -2.86h0M7.29 -3.19h0M2.26 -1.85h0M0.27 -0.1h0M0.92 -0.38h0M14.93 -2.51h0M-21.43 -36.23h0M5.17 -3.58h0M0.52 -0.65h0M-20.13 -30.67h0M3.03 -2.01h0M-10.93 -2.06h0M-13.99 -3.55h0M8.15 -2.17h0M-6.78 -1.93h0M2.26 -1.06h0M8.64 -2.99h0M1.96 -3.46h0M1.32 -1.11h0M30.4 -17.82h0M2.51 -0.85h0M3.44 -3.23h0M17.21 -10.88h0M-18.65 -27.35h0M-4.69 -1.82h0M3.91 -2.31h0M2.58 -1.43h0M-7.14 -1.86h0M8.02 -7.44h0M-32.5 -26.47h0M13.25 -11.38h0M-40.32 -8.54h0M-30.93 -21.91h0M16.11 -1.85h0M16.25 -39.49h0M7.4 -3.3h0M-31.95 -6.32h0M5.86 -4.97h0M-22.75 -46.03h0M-11.8 -2.6h0M3.17 -2.59h0M2.95 -2.04h0M7.74 -3.6h0M-0.49 -0.21h0M7.01 -8.04h0M-4.99 -2.56h0M-19.72 -14.63h0M-1.19 -0.49h0M4.15 -2.09h0M-1.62 -0.69h0M1.26 -1.13h0M-3.26 -1.92h0M15.76 -24.66h0M-2.15 -0.97h0M-2.36 -0.29h0M-2.81 -6.39h0M-60.08 -21.24h0M2.75 -3.57h0M5.68 -6.15h0M0.15 -0.06h0M-5.11 -0.69h0M13.09 -15.61h0M-0.78 -0.39h0M13.73 -15.32h0M-22.86 -19.26h0M18.05 -5.92h0M7.84 -2.84h0M-1.33 -0.36h0M-0.14 -0.09h0M13.84 -7.02h0M2.47 -2.28h0M30.09 -12.08h0M1.14 -1.15h0M-5.34 -2.09h0M-1.65 -1.41h0M2.13 -1.71h0M36.53 -23.44h0M-0.76 -1.02h0M0.47 -0.24h0M-26.61 -3.68h0M-4.43 -11.24h0M-9.03 -14.43h0M-42.03 -7.55h0M3.84 -8.14h0M1.68 -1.05h0M-7.05 -8.41h0M-29.98 -5.13h0M11.59 -11.48h0M2.41 -2.2h0M-7.34 -8.99h0M-0.59 -0.27h0M-11.04 -61.6h0M-2.79 -1.43h0M0.22 -0.16h0M37.68 -14.07h0M-4.56 -3.46h0M41.81 -13.46h0M4.06 -3.16h0M7.56 -3.09h0M-3.71 -1h0M1.4 -1.12h0M-14.2 -14.67h0M3.98 -2.74h0M14.08 -5.69h0M8.02 -10.02h0M-3.15 -2.84h0M4.56 -5.76h0M-8.49 -5.29h0M15.1 -19.95h0M0.29 -0.34h0M-3.71 -5.13h0M10.78 -6.99h0M-0.99 -0.38h0M-12.77 -19.73h0M24.92 -48.59h0M4.87 -5.46h0M-37.26 -12.24h0M-0.53 -0.28h0M-36.35 -54.01h0M-13.24 -7.82h0M-5.34 -5.41h0M-4.15 -1.4h0M0.93 -0.44h0M-12.18 -10.09h0M-1.89 -3.43h0M35.27 -20.26h0M0.47 -0.3h0M9.24 -9.72h0M-0.77 -0.21h0M9.58 -12.88h0M12.75 -73.39h0M-2.59 -1.02h0M-9.98 -5.61h0M7.5 -5.65h0M6.7 -10.51h0M-11.83 -11.62h0M-1.09 -0.44h0M-22.12 -18.36h0M5.64 -3.46h0M-2.09 -0.75h0M7.24 -13.45h0M0.94 -0.73h0M59 -68.87h0M0.62 -0.58h0M-2.17 -3.73h0M-3.19 -2.75h0M-2.94 -2.36h0M2.86 -2.41h0M0.22 -0.25h0M14.06 -14.21h0M-14.99 -9.8h0M0.01 -0.01h0M-56.39 -12.38h0M-2.26 -1.21h0M7.67 -12.79h0M-13.69 -7.17h0M-1.38 -0.18h0M-14.1 -3.25h0M9.39 -33.79h0M2.07 -0.51h0M-12.54 -9.99h0M3.67 -1.32h0M2.96 -1.12h0M-1.84 -1.92h0M45.93 -6.62h0M7.59 -5.76h0M1.11 -0.47h0M-34.8 -53.88h0M-4.21 -1.74h0M-5.13 -3.21h0M-0.02 -0.01h0M-31.73 -6.03h0M-4.85 -5.27h0M3.06 -2.87h0M-2.07 -0.97h0M-1.73 -0.98h0M-24.72 -6.38h0M-4.4 -6.17h0M7.91 -3.8h0M-1.41 -1.06h0M-4.15 -3.58h0M-3.49 -3.69h0M12.15 -26.18h0M-2.7 -2.24h0M-2.27 -1.62h0M-3.6 -1.26h0M-32.25 -62.11h0M9.71 -7.2h0M-9.85 -10.82h0M-9.62 -12.54h0M-19.06 -25.06h0M5.86 -3.25h0M11.6 -1.47h0M-1.46 -0.51h0M3.56 -1.44h0M3.94 -0.71h0M2.32 -1.17h0M12.01 -8.48h0M5.37 -3.27h0M7.44 -7.26h0M4.21 -3.17h0M-7.57 -7.37h0M1.72 -1.83h0M26.45 -2.09h0M-1.5 -0.95h0M-9.08 -12.27h0M-12.18 -1.9h0M-2.26 -1.66h0M7.09 -3.53h0M-3.48 -3.82h0M-32.06 -3h0M4.24 -1.66h0M4.63 -4.4h0M-3.42 -7.3h0M-8.26 -2.19h0M-20.81 -34.32h0M-17.93 -6.17h0M11.2 -6.61h0M54.59 -3.71h0M21.08 -36.44h0M-13.15 -4.61h0M4.82 -6.38h0M-5.03 -4.92h0M89.03 -10.85h0M18.34 -2.56h0M-5.6 -2.18h0M-20.25 -18.93h0M-2.66 -0.76h0M-9.81 -4.08h0M-2.84 -1.65h0M-0.11 -0.04h0M3.02 -2.02h0M11.08 -13.37h0M-2.54 -2.22h0M1.02 -0.48h0M-17.32 -2.2h0M-7.08 -8.17h0M6.86 -6.62h0M-1.46 -0.43h0M15.31 -2.99h0M4.79 -3.91h0M-0.08 -0.01h0M5.3 -0.72h0M10.84 -11.87h0M5.55 -4.31h0M8.56 -2.03h0M-8.1 -4.99h0M-2.13 -1.47h0M12.97 -4.1h0M-1.72 -2.23h0M-9.66 -6.7h0M4.67 -6.16h0M1.53 -1.33h0M-12.35 -4.43h0M-0.86 -0.53h0M6 -6.51h0M-8.75 -6.1h0M4.73 -1.06h0M-0.49 -0.06h0M-18.15 -1.83h0M-3.87 -0.35h0M-14.65 -19.57h0M0.48 -0.28h0M22.81 -6.85h0M-11.81 -14.32h0M15.89 -17.63h0M-1.84 -1.08h0M-2.11 -0.61h0M2.14 -2.22h0M-1.87 -0.64h0M14.07 -20.45h0M4.27 -6.61h0M0.54 -0.33h0M-1.01 -0.58h0M-17.89 -6.69h0M0.94 -0.68h0M-2.11 -1.61h0M-0.84 -0.3h0M-7.57 -8.7h0M0.57 -0.82h0M-12.91 -6.08h0M-1.92 -0.96h0M-3.28 -0.67h0M3.24 -1.29h0M-4.12 -12.54h0M0.82 -0.3h0M8.62 -4.52h0M-0.74 -0.56h0M1.42 -0.85h0M-7.43 -7.19h0M-4.51 -4.07h0M-17.28 -9.78h0M1.9 -0.14h0M1.44 -1.45h0M-10.06 -1.88h0M5.26 -4.78h0M-3.66 -2.07h0M-5.4 -4.29h0M-1.13 -0.86h0M3.95 -2.62h0M2.73 -3.95h0M-14.28 -18.91h0M-8.02 -4.58h0M20.62 -49.03h0M-5.72 -5.96h0M-28.67 -3.78h0M-54.95 -10.87h0M-1.22 -1.22h0M9.81 -32.06h0M4.66 -3.46h0M-1.33 -1.11h0M4.75 -2.94h0M-3.79 -1.59h0M0.79 -0.29h0M7.7 -2.28h0M-10.1 -8.15h0M1.67 -1.07h0M-6.29 -5.4h0M18.77 -15.23h0M0.97 -0.61h0M-5.83 -2.35h0M8.69 -6.69h0M9.02 -5.17h0M-1.34 -1.88h0M-51.39 -3.64h0M-6.92 -7.06h0M-1.66 -1.17h0M5.35 -3.38h0M2.43 -6.09h0M-16.49 -17.14h0M-7.74 -7.74h0M46.12 -112.52h0M-0.95 -0.38h0M-6.02 -8.69h0M4.44 -2.23h0M0.94 -0.53h0M-3.48 -2.65h0M13.04 -10.85h0M16.26 -12.49h0M-21.36 -31.08h0M26.88 -10.4h0M73.27 -6.17h0M11.6 -9.86h0M-10.55 -9.32h0M16.9 -9.49h0M-3.45 -1.49h0M-0.65 -0.35h0M-9.83 -4.48h0M5.69 -1.76h0M26.6 -24.27h0M4.86 -1.69h0M7.28 -3.04h0M2.89 -2.5h0M-7.48 -6.17h0M8.18 -5.63h0M-6.84 -2.49h0M-1.62 -1.17h0M-41.07 -6.79h0M1.64 -1.1h0M-5.35 -2.83h0M-1.3 -0.8h0M-19.73 -25.55h0M-5.97 -2.43h0M-0.84 -0.44h0M4.53 -6.73h0M8.14 -15.22h0M-4.28 -2.34h0M2.14 -0.81h0M3.84 -2.81h0M-2.44 -1.37h0M0.99 -0.8h0M-1.54 -1.07h0M-0.28 -0.01h0M4.26 -2.6h0M-12.43 -24.54h0M8.16 -16.52h0M-2.49 -0.45h0M-14.4 -2.1h0M-53.66 -81.32h0M-24.93 -6.38h0M21.67 -11.4h0M-34.51 -1.86h0M-2.61 -1.28h0M-6.66 -8.72h0M5.92 -7.78h0M-1.75 -0.98h0M5.2 -3.98h0M-10.48 -6.93h0M-7.47 -8.86h0M68.9 -12.63h0M-3.77 -7.33h0M-5.95 -3.99h0M-0.65 -0.41h0M3.91 -2.86h0M-1.92 -0.73h0M-1.58 -1.01h0M-10.3 -7.14h0M-47.53 -21.77h0M-0.6 -0.84h0M0.63 -0.53h0M20.13 -15.35h0M-3.72 -2.79h0M-68.59 -12.79h0M4.88 -9.49h0M-0.52 -0.2h0M8.6 -17.72h0M-14.2 -14h0M-6.41 -5.81h0M-2.62 -1.34h0M-0.74 -0.75h0M-6.89 -1.21h0M-4.35 -5.81h0M0.53 -0.45h0M8.44 -0.76h0M-4.31 -3.28h0M-1.37 -1.17h0M-3.97 -4.53h0M-13.76 -8.61h0M-1.92 -1.2h0M3.76 -2.92h0M2.15 -2.76h0M-38.64 -34.5h0M-15.05 -23.77h0M11.51 -21.15h0M-6.65 -1.95h0M1.86 -0.62h0M-19.67 -2.86h0M0.55 -0.42h0M-4.09 -3.52h0M-2.48 -3.31h0M-1.16 -0.84h0M-2.72 -1.08h0M6.3 -1.97h0M3.4 -1.58h0M-10.14 -26.63h0M4.54 -3.56h0M45.79 -6.43h0M11.25 -7.44h0M2.48 -0.4h0M8.77 -0.72h0M-8.53 -13.11h0M-3.65 -1.2h0M-7.49 -6.53h0M-9.44 -14.44h0M3.04 -0.45h0M-30.23 -47.53h0M31.64 -13.23h0M-20.37 -14.84h0M3.1 -2.43h0M60.61 -65.22h0M-12.3 -8.18h0M24.78 -3.27h0M0.82 -0.51h0M14.27 -23.13h0M2.31 -1.59h0M-10.18 -8.14h0M-21.75 -35.96h0M-10.28 -7.42h0M-31.72 -21.49h0M5.07 -8.23h0M5.22 -1.67h0M36.51 -10.38h0M6.99 -0.7h0M8.32 -3.96h0M-13.63 -12.69h0M58.92 -14.54h0M27.93 -43.51h0M-9.27 -2.82h0M15.76 -15.96h0M-4.94 -1.52h0M9.98 -25.94h0M-3.82 -2.55h0M0.18 -0.09h0M-1.77 -1.27h0M-4.74 -6.24h0M6.81 -9.15h0M7.45 -9.04h0M-8.03 -1.16h0M-0.06 -0.01h0M-42.11 -7.68h0M-1.71 -0.62h0M-8.2 -7.62h0M7.19 -5.68h0M7.25 -5.63h0M3.75 -3.16h0M-7.86 -25.04h0M2.48 -1.43h0M0.57 -0.7h0M-3.53 -2.2h0M8.14 -4.6h0M-28.04 -23.93h0M-22.42 -4.68h0M6.97 -1.38h0M8.26 -2.15h0M3.92 -3.95h0M-19.32 -3.26h0M2.34 -2.31h0M16.13 -13.45h0M1.65 -0.75h0M-14.57 -18.92h0M3 -2.47h0M-3.03 -1.22h0M2.1 -0.58h0M7.58 -1.07h0M2.83 -0.97h0M-0.94 -0.45h0M-8.86 -2.12h0M0.27 -0.09h0M19.14 -20.18h0M-2.45 -1.97h0M10.89 -2.5h0M8.76 -10.6h0M6.54 -1.13h0M7.71 -4.46h0M-0.27 -0.04h0M-8.08 -9.8h0M-0.66 -0.59h0M17.15 -17.23h0M4.37 -1.84h0M-2.5 -1.29h0M-0.54 -0.52h0M28.05 -57.55h0M-2.42 -1.35h0M17.86 -6.15h0M1.83 -0.46h0M10.61 -8.12h0M11.82 -8.24h0M1.75 -1.03h0M12.75 -16.72h0M25.24 -67.64h0M-21.96 -11.59h0M1.01 -1.67h0M-3.05 -0.88h0M3.26 -4.05h0M-20.31 -4.95h0M-0.23 -0.42h0M-9.22 -12.46h0M18.12 -13.37h0M-7.35 -4.53h0M6.81 -0.74h0M4.29 -8.05h0M5.98 -2.02h0M-1.15 -1h0M4.31 -4.28h0M-8.59 -5.34h0M-2.41 -1.83h0M-10.36 -1.1h0M-3.83 -3.08h0M20.95 -4.44h0M1.44 -0.31h0M4.95 -1.75h0M1.35 -0.77h0M12.62 -4.44h0M-9.34 -4.3h0M-6.3 -3.74h0M-5.83 -4.15h0M10.61 -9.6h0M-2.08 -1.45h0M-27.69 -10.97h0M7.23 -8.21h0M-8.34 -8.74h0M-14.34 -4.14h0M-14.69 -8.73h0M20.71 -16.24h0M6.97 -3.02h0M-2.26 -1.34h0M8.28 -14.98h0M6.82 -2.37h0M-6.37 -0.66h0M-0.39 -0.4h0M-0.81 -0.34h0M14.08 -22.19h0M-7.86 -3.83h0M-7.02 -4.84h0M-10.22 -8.5h0M8.77 -6.97h0M11.74 -5.85h0M3.65 -2.89h0M-10.48 -1.09h0M-0.14 -0.09h0M-52.85 -36.72h0M1.23 -0.34h0M3.51 -2.22h0M-0.39 -0.28h0M-25.37 -20.87h0M3.54 -1.07h0M4.76 -1.69h0M4.82 -3.12h0M7.52 -6.62h0M-5.67 -0.99h0M4.56 -5.83h0M29.27 -48.06h0M7.37 -11.76h0M-28.66 -12.49h0M-0.55 -0.18h0M-8.73 -2.45h0M-3.67 -1.42h0M-17.11 -5.56h0M8.98 -19.24h0M-13.78 -18.68h0M-39.59 -10.54h0M-4.2 -2.13h0M-18.82 -21.18h0M14.47 -3.18h0M2.63 -3.04h0M-8.47 -1.73h0M12.41 -11.22h0M-4.04 -6.4h0M6.86 -7.06h0M39.87 -38.46h0M15.13 -13.39h0M29.76 -83.27h0M12.8 -11.99h0M-6.14 -2.39h0M8.34 -1.23h0M7.64 -7.17h0M8.69 -10.19h0M7.22 -3.15h0M14.09 -17.74h0M-1.83 -1.57h0M-3.01 -6.91h0M-0.62 -0.29h0M5.71 -2.81h0M-48.61 -13.77h0M-5.61 -1.65h0M-59.39 -77.71h0M-4.17 -2.32h0M1.31 -0.5h0M-5.87 -8.58h0M0.06 -0.02h0M-2.58 -2.82h0M10.47 -15.35h0M-31.42 -55.99h0M6.17 -1.43h0M0.28 -0.12h0M-6.6 -3.02h0M-4.49 -2.9h0M-2.82 -1.97h0M0.09 -0.06h0M0.52 -0.48h0M0.22 -0.18h0M-0.73 -0.29h0M-4.7 -4.34h0M2.41 -1.85h0M1.99 -1.19h0M7.89 -4.1h0M0.86 -0.33h0M11.91 -16.9h0M-21.58 -6.88h0M-0.6 -0.27h0M-8.51 -1.66h0M-2.58 -2.17h0M-10.56 -7.39h0M4.65 -0.51h0M-2.94 -4.18h0M1.84 -0.55h0M-8.22 -3.23h0M-12.48 -4.43h0M-2.5 -2.47h0M32.73 -4.04h0M2.67 -1.05h0M-2.39 -6.52h0M-23.21 -6.49h0M10.81 -15.27h0M19.72 -6.52h0M-2.27 -2.22h0M-2.11 -0.81h0M-18.46 -4.43h0M10.89 -21.74h0M6.09 -7.16h0M27.32 -33.38h0M2.86 -4.59h0M17.81 -47.17h0M7.48 -3.89h0M8.94 -1h0M-11.91 -1.26h0M2.36 -1.52h0M10.59 -4.12h0M-3.43 -0.63h0M5.21 -4.75h0M-1.47 -0.49h0M-3.73 -6.3h0M-2.7 -2.37h0M0.09 -0.07h0M0.47 -0.37h0M6.74 -4.73h0M0.49 -0.07h0M23.65 -7.17h0M-14.87 -1.45h0M38.94 -14.54h0M-9.34 -17.76h0M1.8 -1.35h0M3.26 -2.13h0M-38.69 -9.23h0M-4.63 -6.99h0M-18.18 -3.01h0M-0.04 -0.03h0M-4.41 -2.11h0M4.8 -1.73h0M0.91 -0.24h0M-43.6 -32.05h0M54.12 -18.81h0M4.2 -1.38h0M-21.13 -15.96h0M-10.34 -6.3h0M48.37 -36.56h0M-2.03 -0.83h0M-2.07 -1.23h0M-20.32 -3.54h0M3.39 -5.27h0M-0.72 -0.83h0M-0.18 -0.2h0M-15.25 -51.62h0M16 -38.73h0M6.08 -6.26h0M-2.03 -1.22h0M3.95 -3.72h0M4.76 -2.34h0M-2.15 -2.87h0M7.77 -7.71h0M-0.39 -0.23h0M-4.38 -5.27h0M-16.72 -5.97h0M-3.5 -4.07h0M2 -0.62h0M11.1 -2.54h0M-2.75 -2.53h0M9.01 -17.71h0M-53.21 -36.31h0M-2.91 -2.41h0M3.26 -6.63h0M2.51 -1.55h0M3.21 -0.74h0M15.55 -1.38h0M-37.78 -10.09h0M-9.73 -9.52h0M19.19 -7.56h0M8.96 -9.75h0M9.74 -8.47h0M-6.89 -10.71h0M-6.45 -2.17h0M-11.85 -114.78h0M0.53 -0.14h0M6.56 -4.43h0M0.47 -0.05h0M17.56 -1.22h0M9.65 -2.38h0M4.16 -3.35h0M34.08 -12.29h0M-2 -1.75h0M-14.46 -13.41h0M-6.87 -2.7h0M11.2 -6.08h0M-24.44 -4.34h0M15.04 -8.19h0M-1.11 -0.42h0M7.17 -11.41h0M17.23 -22.42h0M5.68 -4.17h0M10.8 -5.7h0M9.05 -3.71h0M-15.11 -2.71h0M-4.98 -0.57h0M-10.08 -15.65h0M-9.74 -2.37h0M-14.27 -6.55h0M1.68 -0.81h0M-10.7 -2.85h0M-8.36 -4.79h0M1.97 -1.46h0M-3.79 -2.46h0M1.46 -0.38h0M-0.08 -0.04h0M17.99 -35.19h0M4.69 -1.77h0M1.91 -0.63h0M7.43 -3.96h0M15.47 -2.13h0M-2.34 -1.96h0M1.7 -1h0M10.82 -18.12h0M0.62 -0.59h0M-21.56 -57.54h0M14.25 -8.08h0M-3.13 -1.09h0M-7.28 -1.15h0M-5.37 -7.35h0M-4.88 -2.87h0M0.79 -0.32h0M7.22 -6.92h0M-22.81 -3.68h0M-4.94 -1.3h0M16.47 -37.25h0M0.78 -0.7h0M-0.36 -0.35h0M-5.11 -1.87h0M-10.21 -3.78h0M33.29 -7.77h0M-0.69 -0.3h0M6.94 -3.59h0M-0.91 -0.78h0M-13.08 -5.92h0M-13.18 -5.6h0M-1.06 -0.92h0M8.54 -12.78h0M19.68 -7.28h0M55.78 -27.08h0M22.07 -2.38h0M-4.94 -1.12h0M-1.56 -0.83h0M2.75 -1.41h0M6.8 -8.2h0M0.11 -0.09h0M-18.82 -27.53h0M-6.73 -2.98h0M2.69 -1.19h0M1.61 -1.06h0M-6.33 -3.94h0M4.16 -0.37h0M-0.33 -0.3h0M3.51 -8.25h0M-8.16 -5.87h0M31.66 -14.23h0M12.62 -25.5h0M-56.98 -26.45h0M-3.73 -4.24h0M-2.86 -1.64h0M1.21 -2.25h0M-50.18 -10.81h0M1.97 -0.95h0M-51.63 -7.8h0M-4.52 -4.43h0M38.59 -4.73h0M2.36 -2.08h0M-9.8 -7.54h0M5.26 -3.42h0M44 -19.02h0M10.35 -1.31h0M-10.57 -2.7h0M-0.45 -0.33h0M-4.06 -3.99h0M-6 -3.15h0M10.15 -13.38h0M-5.38 -2.32h0M33.29 -100.5h0M0.45 -0.18h0M-13.44 -15.04h0M3.81 -3.52h0M-3.47 -2.61h0M-1.3 -0.49h0M6.18 -7.1h0M15.45 -4.2h0M15.64 -10.62h0M3.55 -2.91h0M-2.09 -2.56h0M-3.77 -0.93h0M3.09 -5.23h0M13.07 -24.88h0M14.11 -15.65h0M78.34 -40.02h0M-1.98 -1.17h0M-2.8 -1.61h0M-48.09 -71.79h0M-47.14 -5.58h0M29.74 -21.87h0M1.01 -0.63h0M13.43 -28.36h0M-1.59 -1.1h0M6.56 -2.39h0M5.9 -3.71h0M4.18 -3.72h0M3.85 -1.91h0M-1.67 -1.17h0M-4.43 -5.47h0M-4.4 -4.88h0M9.11 -10.28h0M-15.89 -33.75h0M8.63 -12.27h0M0.07 -0.03h0M-23.16 -6.99h0M1.7 -1.27h0M13.53 -2.15h0M-8.12 -7.38h0M-2.31 -1.3h0M-1.36 -0.58h0M4.16 -4.15h0M-2.22 -1.09h0M-31.29 -27.12h0M-40.99 -30.99h0M-18.33 -7.01h0M20.75 -5.43h0M4.15 -4.46h0M6.06 -4.56h0M-0.03 -0.01h0M22.73 -17.95h0M13.42 -2.73h0M-0.82 -0.28h0M-11.55 -28.96h0M7.29 -4.64h0M-12.26 -3.44h0M39.94 -30.9h0M30.27 -8.55h0M-2.82 -3.89h0M2.92 -5.8h0M-37.84 -3.48h0M-4.52 -3.74h0M7.54 -5.53h0M-3.74 -2.39h0M5.2 -8.91h0M-4.69 -2.14h0M5.6 -11.43h0M-46.61 -11.78h0M2.21 -1.53h0M19.37 -4.95h0M39.08 -4.4h0M5.92 -7.64h0M0.12 -0.15h0M4.24 -5.06h0M4.07 -5.09h0M-56.98 -12.46h0M-0.79 -0.83h0M-12.81 -2.07h0M31.4 -4.13h0M-34.73 -2.55h0M-39.12 -14.95h0M-69.38 -69.96h0M-10.04 -2.13h0M-1.65 -1.79h0M-12.19 -13.44h0M-38.65 -5.93h0M-15.26 -9.09h0M-4.53 -2.8h0M-4.13 -1.15h0M-15.43 -1.65h0M3.95 -2.08h0M4.62 -3.43h0M-3.03 -1.27h0M-0.38 -0.35h0M24.53 -16.74h0M1.92 -2h0M1.43 -1.37h0M32.87 -9.41h0M-47.81 -14.8h0M-0.85 -0.67h0M8.6 -5.37h0M6.76 -10.34h0M-2.79 -0.51h0M1.01 -0.39h0M12.2 -16.95h0M2.73 -3.02h0M1.78 -4.57h0M-1.42 -0.66h0M7.25 -6.5h0M6.39 -8.91h0M-0.44 -0.24h0M-3.52 -3.46h0M-8.07 -5.12h0M2.03 -0.89h0M8.42 -5.66h0M61.13 -31.33h0M1.87 -3.42h0M-8.38 -5.4h0M36.91 -10.95h0M-13.77 -12.94h0M1 -0.77h0M0.21 -0.04h0M6.17 -12.17h0M5.72 -4.67h0M0.73 -0.1h0M-2.77 -1.9h0M-4.69 -2.76h0M74.72 -6.61h0M-1.38 -0.65h0M-0.05 -0.03h0M-2.84 -2.41h0M-3.37 -4.37h0M2.18 -1.38h0M10.54 -9.66h0M0.47 -0.27h0M6.07 -10.24h0M-22 -5.35h0M3.77 -4.74h0M-3.81 -3.65h0M-23.48 -20.72h0M-8.01 -1.25h0M25.27 -10.3h0M14.11 -50.22h0M11.13 -9.61h0M18.47 -6.93h0M-43.78 -6.26h0M21.29 -25.33h0M0.13 -0.07h0M13.86 -0.55h0M0.21 -0.09h0M-1.11 -0.26h0M-5.68 -12.85h0M-4.65 -3.24h0M-7.71 -9.49h0M-12.13 -7.15h0M2.59 -0.16h0M-1.7 -0.78h0M-5.79 -5.64h0M-1.4 -0.95h0M1.35 -2.03h0M3.55 -1.73h0M-3.57 -5.81h0M1.46 -0.66h0M10.99 -35.7h0M13.94 -6.31h0M13.76 -2.21h0M-5.82 -4.03h0M21.31 -8.7h0M26.62 -20.9h0M0.07 -0.02h0M19.56 -22.82h0M-16.66 -26.63h0M-37.15 -37.43h0M-12.34 -5.9h0M-8.35 -9.71h0M-15.58 -44.64h0M-10.43 -2.42h0M4.82 -3.45h0M2.17 -1.34h0M-10.24 -4.59h0M-6.32 -2.51h0M9.92 -6.24h0M-5.5 -7.9h0M3.81 -4.77h0M-3.8 -3.78h0M1.76 -0.75h0M-15.51 -7.93h0M-0.34 -0.23h0M-3.72 -1.33h0M9.25 -7.29h0M-19.29 -10.08h0M47.9 -36.67h0M-3.38 -6.12h0M-1.45 -1.86h0M14.18 -73.06h0M6.95 -6.94h0M-14.37 -5.73h0M10.25 -15.51h0M0.67 -0.71h0M7.66 -4.96h0M31.3 -66.69h0M-3.27 -6.9h0M-6.73 -3.12h0M-1.05 -0.7h0M6.31 -8.5h0M-2.8 -2.57h0M-10.26 -2.74h0M-1.76 -0.81h0M19.3 -3.88h0M5.59 -4.54h0M1.82 -0.76h0M13.38 -19.24h0M7.3 -5.18h0M-4.68 -1.9h0M-10.61 -6.94h0M-6.98 -4.22h0M-18.79 -15.18h0M-28.4 -4.3h0M11.92 -3.81h0M10.68 -9.65h0M6.38 -6.99h0M-0.93 -0.15h0M-0.62 -0.4h0M-15.89 -44.21h0M7.11 -7.48h0M-0.15 -0.06h0M28.74 -2.74h0M34.15 -6.88h0M9.67 -15.18h0M-5.97 -6.22h0M-22.9 -23.34h0M-5.25 -3.56h0M9.3 -8.93h0M3.77 -10.51h0M-2.43 -2.24h0M-7.67 -5.77h0M8.64 -7.71h0M1.39 -1.59h0M-8.41 -5.18h0M-4.07 -2.41h0M5.6 -8.81h0M-8.1 -15.45h0M-49.48 -31.78h0M-10.35 -4.56h0M-5.75 -5.62h0M79.96 -41.92h0M-12.75 -10.41h0M1 -0.73h0M30.48 -3.07h0M7.73 -3.92h0M-0.49 -0.27h0M-6.71 -3.41h0M-31.35 -13.58h0M-3.46 -1.63h0M3.65 -2.59h0M4.17 -9.32h0M-0.29 -0.16h0M2.62 -1.14h0M1.18 -1.05h0M-5.95 -10.11h0M0.12 -0.15h0M-1.51 -0.87h0M-0.03 -0.01h0M-7.34 -16.9h0M3.44 -6.65h0M-22.31 -6.94h0M16.6 -4.85h0M-4.42 -4.61h0M1.62 -1.41h0M-8.07 -0.94h0M-3.21 -1.35h0M-7.08 -3.28h0M-0.08 -0.06h0M75.94 -19.8h0M21.34 -21.2h0M4.69 -4.28h0M-3.97 -8.25h0M4.66 -2.88h0M0.46 -0.49h0M-10.66 -11.9h0M2.97 -1.38h0M15.66 -20.5h0M5.56 -3.86h0M-0.49 -0.15h0M-3.13 -2.63h0M-4.67 -1.28h0M-1.1 -0.41h0M9.4 -9.26h0M-9.28 -12.35h0M0.28 -0.11h0M6.77 -3.02h0M0.94 -0.43h0M-1.19 -1.94h0M-0.53 -0.35h0M-5.41 -0.58h0M-8.39 -1.61h0M-2.1 -0.23h0M-7.36 -4.04h0M16.98 -5.52h0M2.14 -1.6h0M12.92 -4.81h0M9.25 -3.1h0M0.85 -0.62h0M9.16 -1.11h0M4.71 -4.33h0M-4.28 -5.19h0M25.07 -4.82h0M-9.78 -15.12h0M-7.52 -3.74h0M-19.83 -60.47h0M2.6 -1.81h0M2.51 -5.02h0M2.89 -1.66h0M5.13 -5.15h0M-5.14 -3.41h0M-3.61 -5.04h0M-5.64 -17.32h0M6.23 -2.31h0M-4.34 -2.46h0M5.03 -2.9h0M4.1 -2.35h0M3.26 -1.4h0M-16.7 -21.77h0M36.8 -49.18h0M5.49 -5.29h0M6.09 -2.92h0M13.16 -34.41h0M-3.67 -8.19h0M20.69 -65.68h0M3.89 -4.49h0M-7.35 -9.22h0M-1.63 -0.7h0M2.4 -2.07h0M-1.7 -1.08h0M2.64 -1.8h0M-21.59 -14.86h0M-4.98 -1.81h0M-1.97 -1.82h0M5.72 -8.73h0M3.66 -2.38h0M1.09 -1.15h0M0.64 -0.72h0M-14.72 -16.86h0M-9.67 -29.59h0M0.52 -0.38h0M-3.57 -1.13h0M13.4 -16.5h0M75.23 -18.54h0M-5.95 -3.35h0M16.41 -19.09h0M-4.03 -9.08h0M-8.46 -5.57h0M-0.93 -0.63h0M-0.1 -0.09h0M2.85 -16.88h0M-0.75 -0.32h0M1.94 -1.62h0M4.17 -1.56h0M2 -1.2h0M-67.61 -11.13h0M9.66 -9.75h0M-17.76 -16.02h0M8.61 -7.96h0M8.35 -23.97h0M5.92 -6.63h0M-13.76 -2.95h0M-0.82 -0.27h0M2.67 -1.85h0M-0.31 -0.19h0M-52.72 -6.78h0M-5.62 -3.1h0M13.14 -4.97h0M-5.28 -2.08h0M-8.7 -20.81h0M-0.02 -0.01h0M3.27 -0.42h0M1.29 -0.73h0M-20.08 -27.96h0M15.43 -4.23h0M8.37 -13.17h0M-4.23 -1.35h0M-14.13 -2.49h0M-11.51 -10.58h0M-31.3 -6.93h0M-2.22 -1.09h0M34.26 -4.93h0M9.24 -9.21h0M-29.26 -14.44h0M74.99 -66.28h0M2.12 -0.75h0M-40.71 -14.41h0M-8.12 -4.95h0M15.89 -13.96h0M11.16 -13.03h0M45.72 -3.75h0M-10.53 -3.19h0M6.24 -7.66h0M21.45 -30.18h0M13.29 -22.1h0M-7.66 -7.8h0M-36.8 -14.23h0M-7.94 -1.77h0M7.33 -3.02h0M23.72 -19.84h0M-4.66 -0.88h0M10.49 -6.97h0M42.71 -8.84h0M-3.89 -2.28h0M7.53 -5.66h0M5.33 -5.75h0M5.28 -4.58h0M-4.29 -8.24h0M1.66 -1.05h0M-32.52 -8.05h0M-1.42 -1.33h0M7.66 -10.46h0M0.32 -0.13h0M-8.56 -9.23h0M2.59 -1.91h0M31.67 -31.21h0M5.12 -3.26h0M1.26 -0.58h0M3.3 -2.78h0M0.35 -0.16h0M-6.99 -3.15h0M15.51 -11.72h0M7.29 -6.28h0M10.68 -13.77h0M2.21 -1.63h0M-3.1 -0.69h0M1.03 -0.49h0M0.63 -0.28h0M5.3 -8.41h0M4.91 -3.83h0M-1.23 -0.98h0M-9.77 -2.87h0M16.93 -9.31h0M-2.69 -1.76h0M0.93 -0.4h0M-6.85 -1.81h0M6.62 -4.64h0M34.82 -75.57h0M7.03 -7.13h0M-57.8 -5.15h0M-25.54 -5.34h0M7.78 -9.53h0M15.96 -8.16h0M-3.2 -1.62h0M59.81 -19.05h0M-5.53 -2.65h0M7.33 -0.32h0M5.14 -2.89h0M-17.07 -12.94h0M14.87 -17.13h0M0.2 -0.11h0M5.69 -4.04h0M4.89 -3.62h0M94.69 -9.97h0M-5.8 -1.45h0M3.43 -3.03h0M-14.49 -3.74h0M1.68 -2.24h0M-2.43 -0.46h0M4.39 -3h0M11.79 -14.69h0M4.87 -4.04h0M13.56 -35.78h0M-5.6 -3.36h0M-3.42 -5.84h0M0.86 -0.55h0M7.04 -13.1h0M-8.12 -12.33h0M10.96 -19.59h0M24.53 -53.15h0M-3.69 -2.7h0M14.88 -8.32h0M4.55 -1.71h0M2.89 -2.56h0M-8.07 -5.01h0M-12.68 -9.56h0M3.49 -4.71h0M-2.76 -0.15h0M-9.73 -16.31h0M-3.23 -2.17h0M-15.72 -9.95h0M5.42 -3.81h0M11.67 -3.74h0M-0.57 -0.33h0M-1.62 -2.13h0M-0.64 -0.32h0M5.12 -3.95h0M-6.42 -10.19h0M51.8 -20.1h0M4.47 -0.92h0M16.66 -30.75h0M-8.39 -1.94h0M1.41 -2.6h0M11.66 -8.23h0M-0.22 -0.11h0M-0.62 -0.42h0M-56.42 -35.18h0M14.94 -8.18h0M-28.95 -2.84h0M0.84 -0.78h0M-0.31 -0.2h0M-25.17 -4.51h0M11.51 -9.68h0M13.3 -3.92h0M-7.24 -17.58h0M3.26 -1.27h0M-5.61 -12.1h0M-13.41 -20.68h0M-3.97 -1.77h0M-6.86 -4.49h0M-16.13 -5.26h0M3.99 -2.58h0M40.41 -57.39h0M-12.58 -34.61h0M21.56 -4.21h0M-26.27 -19.05h0M-1.41 -1.15h0M-3.03 -4.8h0M-2.71 -2.86h0M-1.71 -1.53h0M-30.38 -2.04h0M-5.57 -3.95h0M-7.78 -4.86h0M-7.9 -8.16h0M2 -1.83h0M18.74 -57.79h0M-0.93 -0.41h0M-7.56 -6.02h0M-4.59 -5.27h0M-4.34 -3.32h0M14.8 -34.19h0M0.72 -0.53h0M4.06 -1.22h0M-0.79 -0.47h0M12.31 -10.68h0M-0.75 -0.54h0M-1.63 -2.27h0M3.06 -1.01h0M3.25 -3.16h0M-15.67 -3.54h0M4.84 -1.28h0M11.36 -7.63h0M18.14 -20.56h0M2.05 -1.21h0M2.15 -2.67h0M-1.05 -0.32h0M11.99 -5.12h0M-4.29 -3.65h0M-4.16 -3.42h0M0.08 -0.01h0M0.21 -0.24h0M9.99 -7.99h0M0.9 -0.39h0M7.11 -9.28h0M-3.02 -1.82h0M-12.35 -22.57h0M11.52 -10.2h0M9.22 -14.76h0M-13.36 -5.73h0M-3.36 -3.07h0M-8.56 -7.53h0M-8.7 -7.07h0M6.08 -4.89h0M13.56 -14.59h0M4.92 -10h0M3.3 -5.74h0M20.11 -43.11h0M5.55 -4.81h0M-12.63 -12.06h0M-16.81 -14.1h0M6.85 -4.97h0M2.69 -3.85h0M-10.53 -6.3h0M8.43 -7.7h0M2.65 -1.47h0M5.59 -3.87h0M-1.58 -1.51h0M4.64 -6.6h0M1.99 -0.75h0M5.35 -7.98h0M-9.48 -0.86h0M1.2 -0.88h0M17.69 -10.83h0M-5.99 -1.84h0M-10.12 -8.69h0M-10.81 -8.61h0M0.48 -0.18h0M7.14 -9.64h0M43.38 -108.43h0M5.55 -4.57h0M-3.53 -4.2h0M-12.57 -6.76h0M-55.07 -17.02h0M-0.58 -0.28h0M-0.02 -0.01h0M4.12 -1.65h0M7.17 -10.42h0M0.02 -0.02h0M15.2 -92.98h0M-21.09 -44.72h0M-44.47 -8.6h0M-3.89 -1.13h0M-2.53 -1.67h0M16.68 -19.64h0M7.45 -5.98h0M-33.35 -9.65h0M-1.62 -1.97h0M1.64 -1.12h0M17.64 -5.5h0M15.61 -10.38h0M-17.05 -21.25h0M-36.59 -2.35h0M-19.53 -17.39h0M4.69 -10.98h0M5.13 -4.51h0M7.26 -14.78h0M0.59 -0.41h0M-4.35 -4.23h0M-4.56 -23.96h0M0.53 -0.39h0M-9.05 -8.69h0M4.01 -1.81h0M8.02 -5.61h0M6.38 -4.69h0M28.72 -4.24h0M-2.29 -0.87h0M-4.79 -4.81h0M-0.22 -0.24h0M-2.76 -0.97h0M6.82 -4.4h0M54.68 -3.26h0M-12.75 -15.81h0M4.28 -2.11h0M-14.05 -4.16h0M0.24 -0.12h0M5.67 -4.64h0M24.81 -28.92h0M-3.61 -1.62h0M-3.14 -0.68h0M-1.01 -0.2h0M1.47 -2.01h0M8.23 -3.62h0M7.54 -4.35h0M4.88 -4.94h0M10.34 -2.45h0M2.95 -0.88h0M3.99 -0.55h0M5.08 -10.1h0M7.22 -19.28h0M-2.79 -2.87h0M-12.75 -4.5h0M-11.43 -29.89h0M-48.26 -50.78h0M-0.52 -0.32h0M-5.79 -6.4h0M-6.61 -3.28h0M-0.18 -0.07h0M-12.96 -2.75h0M18.35 -2.39h0M19.61 -34.06h0M5.5 -4.49h0M-2.93 -2.47h0M33.59 -71.56h0M-19.87 -24.61h0M2.81 -2.45h0M9.96 -16.43h0M17.24 -5.13h0M1.75 -0.79h0M-1.89 -1.56h0M-2.14 -1.15h0M0.7 -0.53h0M-7.71 -5.79h0M4.72 -3.85h0M13.4 -11.41h0M1.73 -1.1h0M-3.78 -3.15h0M16.22 -48.37h0M-3.74 -6.37h0M-2.13 -0.3h0M18.72 -20.87h0M-0.6 -0.34h0M-1.7 -0.97h0M-0.76 -0.56h0M-0.2 -0.18h0M-0.03 -0.03h0M0.5 -0.28h0M9.46 -0.74h0M-5.78 -4.43h0M-35.84 -4.75h0M-1.41 -1.12h0M21.54 -53.95h0M9.17 -13.72h0M-5.12 -0.54h0M2.32 -1.87h0M-8.5 -4.92h0M9.68 -7.91h0M-51.05 -16.91h0M-0.07 -0.04h0M0.56 -0.29h0M-1.27 -1.76h0M-2.7 -3.21h0M-7.46 -6.28h0M-15.31 -11.2h0M-5.38 -4.89h0M-63.89 -15.54h0M7.86 -7.81h0M1.91 -2.76h0M-1.21 -0.44h0M31.75 -25.16h0M7.08 -6.37h0M7.74 -12.21h0M4.6 -0.59h0M12.79 -17.62h0M-7.53 -3.81h0M7.39 -5.4h0M-8.79 -4.52h0M0.67 -0.58h0M-1.36 -0.47h0M-1.4 -0.82h0M39.38 -24.28h0M4.76 -11.09h0M8.12 -6.52h0M-1.39 -0.29h0M1.56 -0.66h0M-5.64 -1.41h0M0.84 -0.48h0M-6.02 -4.52h0M69.04 -11.85h0M9.76 -12.55h0M-0.88 -0.55h0M-9.62 -11.79h0M-7.88 -4.88h0M-36.7 -5.06h0M-14.75 -39.03h0M7.84 -13.66h0M5.59 -6.33h0M15.81 -76.42h0M3.86 -3.22h0M19.8 -45.83h0M-1.53 -0.6h0M8.22 -9.5h0M43.34 -10.66h0M-23.46 -9.2h0M-16.11 -31.08h0M-0.36 -0.21h0M-8.55 -11.43h0M-6.2 -8.47h0M-7.73 -8.78h0M-3.7 -6.65h0M3.06 -2.65h0M-1.92 -1.14h0M8.53 -6.31h0M45.88 -68.22h0M5.49 -2.06h0M-8.96 -4.12h0M8.04 -3.82h0M-7.18 -5.71h0M16.59 -35.81h0M-9.28 -19.42h0M-1.23 -1.05h0M10.16 -16.73h0M-1.44 -1.68h0M10.64 -7.27h0M46.74 -6.7h0M43.08 -68.04h0M-1.98 -2.29h0M1.93 -1.51h0M-9.76 -2.12h0M-2.96 -0.97h0M94.56 -76.28h0M-15.36 -21.78h0M12.4 -17.75h0M9.03 -6.92h0M1.38 -0.71h0M-3.78 -3.42h0M36.21 -86.77h0M-24.39 -7.84h0M-1.58 -1.56h0M-0.68 -0.07h0M2.41 -0.24h0M-2.09 -0.58h0M17.72 -27.39h0M4.59 -0.84h0M-10.92 -5.69h0M41.4 -20.99h0M67.74 -65.26h0M61.79 -38.6h0M-17.93 -32.84h0M2.65 -4.27h0M18.81 -8.28h0M-1.97 -4.56h0M-12.97 -28.08h0M4.31 -2.04h0M21.88 -58.28h0M-3.12 -2.23h0M3.94 -2.84h0M12.14 -22.82h0M-0.62 -0.29h0M4.23 -3.24h0M2.75 -1.6h0M-2.14 -1.58h0M3.51 -0.89h0M-14.66 -19.22h0M-9.89 -1.78h0M-7.28 -14.44h0M-2.42 -0.95h0M-2.4 -2.36h0M3.19 -3.17h0M-10.03 -3.32h0M8.12 -6.15h0M-11.17 -6.13h0M10.76 -16.82h0M10.58 -1.55h0M-0.57 -0.97h0M-15 -0.89h0M-0.66 -0.24h0M-0.48 -0.29h0M9.97 -4.27h0M-11.97 -10.6h0M-1.1 -0.8h0M12.08 -11.02h0M0.85 -1.21h0M-15.14 -18.25h0M-6.61 -6.97h0M3.29 -1h0M-12.37 -23h0M4.06 -1.41h0M-41.33 -6.98h0M-0.14 -0.06h0M1.89 -1.03h0M-17.14 -0.78h0M2.25 -1.37h0M-5.22 -4.97h0M0.8 -0.13h0M3.42 -2.1h0M3.28 -2.19h0M-1.94 -0.92h0M-36.67 -6.05h0M6.28 -6.59h0M3.27 -0.8h0M-9.9 -8.49h0M25.21 -4.92h0M12.89 -3.44h0M15.64 -21.39h0M1.73 -1.53h0M83.96 -47.72h0M-5.12 -11.97h0M7.06 -6.01h0M17.38 -18.18h0M4.57 -0.45h0M-0.1 -0.01h0M5.55 -3.98h0M9.4 -9.46h0M-2.55 -1.56h0M-50.12 -5.82h0M-45.16 -3.35h0M4.95 -1.71h0M-6.97 -4.92h0M13.91 -19.77h0M25.15 -47.4h0M-5.59 -5.02h0M-17.33 -10.69h0M-13.55 -2.92h0M-29.3 -20.82h0M-34.03 -7.83h0M-2.61 -0.98h0M-21.13 -27.46h0M-4.17 -1.86h0M-7.52 -4.94h0M5.29 -3.68h0M0.11 -0.03h0M-2.82 -2.18h0M-2.68 -2.37h0M7.09 -3.34h0M-2.24 -1.77h0M15.35 -7.05h0M4.97 -5.72h0M1.44 -1.06h0M3.5 -4.77h0M7.75 -4.13h0M3.05 -2.26h0M0.18 -0.08h0M-27.88 -25.26h0M-0.71 -0.31h0M-19.75 -2.79h0M-3.89 -6.33h0M3.16 -3.31h0M-5.19 -16.36h0M-7.03 -1.58h0M-3.35 -2.99h0M-5.28 -4.27h0M-1.54 -0.75h0M2.62 -0.62h0M-67.12 -62.72h0M-13.9 -2.67h0M6.98 -7.12h0M-17.35 -4.42h0M0.97 -0.58h0M-2.14 -1.1h0M0.13 -0.18h0M3.52 -2.29h0M-7.85 -2.38h0M-2.38 -1.07h0M-2.57 -1.36h0M-0.99 -1.02h0M-15.22 -3.71h0M-0.12 -0.08h0M71.46 -32.16h0M-7.04 -4.71h0M2.31 -0.97h0M1.76 -1.73h0M-1.79 -0.66h0M-3.34 -1.99h0M7.79 -13h0M-5.06 -8.59h0M-11.51 -23.6h0M-10.74 -8.2h0M21.58 -9.68h0M-0.15 -0.1h0M-0.93 -1.06h0M7.18 -8.98h0M-0.72 -0.6h0M3.39 -3.4h0M20.84 -20.39h0M7.35 -3.67h0M10.59 -2.4h0M4.79 -3.54h0M6.78 -2.56h0M1.2 -1.28h0M24.37 -43.89h0M-21.55 -5.13h0M3.09 -1.5h0M1.29 -0.32h0M1 -0.29h0M-1.41 -0.92h0M-0.25 -0.07h0M5.47 -12.34h0M-15.42 -29.11h0M2.64 -4.68h0M-3.91 -2.07h0M4.79 -4.57h0M-3.89 -2.21h0M5.45 -1.7h0M-0.49 -0.67h0M11.41 -12.13h0M26.87 -3.11h0M18.4 -14.44h0M1.02 -0.75h0M-10.85 -3.94h0M-18.63 -6.01h0M19.34 -37.81h0M-0.26 -0.19h0M-0.61 -0.53h0M8.62 -18.85h0M20.77 -15.46h0M16.15 -7.13h0M21.1 -4.13h0M-4.18 -3.7h0M7.73 -2.63h0M10.15 -12.05h0M-0.36 -0.37h0M8.66 -3.71h0M10.04 -19.61h0M-1.3 -0.8h0M5.15 -2.52h0M-1.33 -0.79h0M22.36 -22.16h0M65.52 -15.8h0M16.42 -24.57h0M7.78 -0.94h0M-26.91 -15.89h0M-5.58 -3.96h0M3.99 -2.19h0M-7.41 -5.88h0M1.22 -1.07h0M1.49 -0.71h0M29.11 -21.72h0M-0.78 -0.31h0M-1.84 -1.73h0M21.52 -4.05h0M-1.58 -0.58h0M-35.38 -7.84h0M-0.45 -0.73h0M-1.83 -1.12h0M3.05 -0.43h0M23.35 -9.8h0M-19.5 -15.31h0M-37.43 -9.01h0M1.59 -0.88h0M-1.61 -0.82h0M-4.02 -2.81h0M-29.31 -16.13h0M-8.32 -6.15h0M-0.79 -0.37h0M57.11 -13.25h0M-22.41 -5.48h0M0.57 -0.13h0M-1.7 -0.64h0M-2.95 -0.89h0M-4.26 -5.28h0M-7.85 -15.01h0M-11.65 -3.46h0M9.9 -2.32h0M-3.41 -0.73h0M5.07 -8.73h0M-4.48 -2.71h0M-3.73 -5.03h0M4 -6.75h0M2.31 -1.68h0M9.62 -14.78h0M-0.91 -0.66h0M-36.84 -73.05h0M1.44 -1.76h0M-20.29 -6.68h0M-0.83 -0.21h0M-18.08 -2.57h0M8.75 -2.11h0M34.3 -39.87h0M-9.44 -10.3h0M-12.9 -21.75h0M-22.18 -34.92h0M-4.09 -1.37h0M-3.01 -2.19h0M-1.67 -3.4h0M31.99 -15.7h0M33.02 -4.92h0M3.02 -2.28h0M-21.17 -6.2h0M-4.02 -1.81h0M-0.3 -0.13h0M25.5 -4.12h0M-5.51 -5.78h0M12.68 -9.6h0M16.88 -11.01h0M-4.97 -16.87h0M42.24 -55h0M-8.62 -27.92h0M-5.3 -2.12h0M-5.23 -4.84h0M-7.37 -7.25h0M-28.72 -43.86h0M18.98 -13.79h0M57.87 -65.28h0M-8.78 -10.75h0M-47.47 -11.06h0M-21.65 -31.15h0M8.54 -11.93h0M0.22 -0.06h0M12.24 -13.62h0M9.04 -5.49h0M6.68 -4.93h0M2.73 -1.57h0M-10.76 -15.28h0M-19.53 -3.61h0M4.64 -1.59h0M-9.54 -4.96h0M-3.38 -3.5h0M-0.95 -0.47h0M3.48 -2.16h0M-30.42 -36.23h0M1.52 -0.88h0M-6.75 -3.42h0M-20.96 -76.76h0M-24.38 -1.73h0M-3.52 -2.62h0M-4.32 -4.92h0M6.47 -3.01h0M13.97 -20.63h0M2.64 -1.48h0M2.95 -1.33h0M-0.73 -0.59h0M3.12 -2.82h0M-4.96 -4.02h0M-9.76 -6.35h0M0.66 -0.29h0M5.61 -2.68h0M-2.57 -3.75h0M-1.42 -3.14h0M-6.51 -5.35h0M-12.03 -7.98h0M3.05 -2.68h0M-9.26 -13.6h0M-6.29 -5.71h0M-16.18 -13.19h0M8.11 -9.79h0M-0.31 -0.19h0M3.46 -3.62h0M-4.52 -4.27h0M6.88 -10.53h0M0.58 -0.34h0M0.95 -0.39h0M-4.54 -3.58h0M3.37 -5.6h0M-0.19 -0.16h0M0.41 -0.57h0M30.15 -45.03h0M-25.46 -11.07h0M-5.78 -2.86h0M1.47 -1.29h0M30.04 -15.44h0M8.72 -37.46h0M-7.54 -9.63h0M14.23 -11.88h0M3.08 -0.72h0M3.98 -12.69h0M0.58 -0.85h0M8.58 -5.8h0M-0.99 -1.02h0M27.98 -5.4h0M-17.74 -24.44h0M-12.22 -9.93h0M-0.24 -0.22h0M6 -7.56h0M-1 -0.39h0M-4.39 -1.66h0M2.84 -1.62h0M1.98 -0.89h0M-12.45 -13.87h0M-0.44 -0.27h0M5.03 -4.2h0M0.2 -0.2h0M-1.82 -0.37h0M-5.2 -18.85h0M-31.91 -3.34h0M-5.47 -2.97h0M-9.24 -26.25h0M-7.27 -3.51h0M1.06 -1.07h0M33.11 -36.73h0M22.84 -38.21h0M4.22 -4.09h0M-4.37 -1.89h0M24.21 -15.54h0M4.42 -1.08h0M-2.25 -0.97h0M6.34 -2h0M-3.75 -6.23h0M-0.22 -0.09h0M-0.19 -0.04h0M-2.75 -1.93h0M2.52 -2.48h0M8.5 -5.05h0M-5.61 -2.12h0M5.25 -9.93h0M3.64 -6.65h0M-4.83 -2.38h0M54.21 -9.67h0M-0.94 -0.41h0M-1.34 -0.74h0M4.82 -3.66h0M2.03 -1.59h0M10.25 -14.91h0M4.26 -1.67h0M-7.42 -5.59h0M3.87 -3.55h0M2.85 -2.23h0M-0.32 -0.1h0M2.88 -3.71h0M-0.34 -0.11h0M6.24 -5.62h0M1.5 -0.91h0M3.28 -1.05h0M5.03 -1.32h0M-1.92 -1.03h0M-15.07 -3.7h0M-7.81 -3.4h0M42.75 -23.47h0M-4.03 -3.32h0M-12.03 -2.64h0M5.9 -12.82h0M4.04 -3.73h0M15.69 -51.9h0M-43.44 -21.95h0M2.02 -2.07h0M7.24 -4.36h0M3.63 -1.6h0M-3.62 -1.5h0M8.9 -7.1h0M-37.94 -8.42h0M28.45 -35.88h0M-7.73 -9.02h0M31.14 -5.38h0M14.07 -12.36h0M-5.16 -2.27h0M-2.13 -1.43h0M21.59 -20.14h0M-3.36 -2.18h0M12.85 -6.08h0M-21.43 -10.17h0M3.73 -4.87h0M-20.12 -17.25h0M-3.22 -2.94h0M-24.05 -35.89h0M-6.14 -1.14h0M3 -2.27h0M23.6 -21.04h0M-4.08 -1.77h0M-7.71 -8.71h0M-2.21 -1.53h0M-1.92 -1.21h0M-5.04 -3.6h0M-21.79 -9.85h0M1.72 -3.15h0M2.2 -1.63h0M-7.89 -11.25h0M-9.45 -9.13h0M-1.23 -0.49h0M6.31 -7.82h0M-6.13 -4.75h0M-6.14 -3.08h0M0.94 -1.16h0M20.72 -46.23h0M15.22 -6.62h0M5.94 -7.79h0M-5.7 -8.23h0M65.69 -16.48h0M-2.04 -2.03h0M-3.3 -4.57h0M13.71 -9.92h0M-5.2 -9.03h0M-9.56 -3.32h0M-20.26 -20.51h0M-7.67 -6.81h0M4.31 -2.88h0M-3.64 -3.32h0M-2.9 -1.49h0M4.13 -0.77h0M0.18 -0.1h0M-4.98 -4.28h0M12.14 -6.52h0M-2.11 -1.7h0M-35.42 -77.84h0M-24.7 -29.39h0M0.97 -0.44h0M9.55 -4.51h0M-7.62 -5.1h0M-4.81 -5.06h0M-1.72 -2.78h0M4.79 -8.09h0M5.42 -2.08h0M0.23 -0.17h0M-3.29 -1.75h0M-35.08 -8.77h0M4.36 -7.22h0M-5.01 -4.63h0M6.71 -6.73h0M-1.05 -0.3h0M-8.15 -8.53h0M3.53 -2.68h0M-6.29 -4.23h0M13.46 -5.75h0M1.71 -0.17h0M-8.73 -39.79h0M7.6 -3.77h0M5.93 -4.58h0M5.32 -3.94h0M-1.14 -0.68h0M-19.59 -1.64h0M20.63 -16.14h0M0.93 -0.81h0M-12.28 -11.91h0M-7.75 -1.89h0M-5.44 -4.46h0M-17.39 -9.9h0M-2.5 -1.24h0M9.71 -0.87h0M3.43 -3.22h0M-3.63 -1.97h0M-1.68 -0.85h0M3.98 -2.87h0M7.03 -6.24h0M-5.19 -2.92h0M79.99 -29.21h0M-2.43 -3.22h0M-13.83 -14.06h0M-23 -1.55h0M-8.08 -2.55h0M7.94 -2.74h0M11.78 -2.11h0M-8.18 -10.57h0M-1.15 -0.66h0M1.08 -0.69h0M-19.42 -3.64h0M2.01 -1.41h0M-5.72 -0.85h0M-14.13 -16.27h0M-25.27 -52.32h0M1.09 -0.48h0M-4.86 -3.63h0M3.23 -0.28h0M-5.42 -2.75h0M14.2 -22.79h0M20.01 -7.28h0M3.78 -5.19h0M-0.48 -0.24h0M14.64 -18.18h0M-20.16 -3.54h0M-1.88 -0.86h0M-7.89 -5.16h0M-1.26 -1.39h0M-1.74 -0.38h0M10.8 -5.23h0M1.52 -0.56h0M3.71 -1.57h0M-7.09 -3.94h0M-4.56 -6.22h0M2.55 -5.77h0M-13.56 -8.5h0M3.95 -3.66h0M2.23 -1.33h0M-11.29 -8.41h0M10.2 -0.42h0M11.01 -11.59h0M-7.98 -3.37h0M-8.85 -17.13h0M0.26 -0.13h0M24.32 -28.4h0M-7.61 -11.29h0M5.9 -3.25h0M22.54 -15.82h0M-9.5 -5.17h0M3.83 -1.99h0M39.9 -25.96h0M-0.71 -0.59h0M23.07 -44.62h0M2.99 -4.42h0M51.98 -25.72h0M-1.38 -0.39h0M-2.76 -2.55h0M-13.62 -4.95h0M4.13 -5.8h0M-3.05 -3.62h0M-2.36 -1.4h0M2.74 -2.52h0M-2.89 -3.33h0M-0.47 -0.45h0M-4.27 -3.44h0M4.07 -0.45h0M-43.87 -5.81h0M11.58 -5.75h0M8.7 -3.51h0M-0.72 -0.46h0M-13.96 -6.64h0M10.98 -23.87h0M-9.14 -15.36h0M-7.08 -6.12h0M-1.56 -0.98h0M-6.08 -2.88h0M-2.37 -3.18h0M10.84 -9.7h0M3.52 -2.43h0M0.63 -0.38h0M16.5 -3.11h0M10.25 -17.36h0M17.22 -30.82h0M19.03 -34.82h0M6.08 -5.05h0M-9.98 -3.94h0M10.81 -31.32h0M8.46 -9.35h0M18.68 -18.05h0M34.77 -5.49h0M2.82 -2.35h0M21.4 -8.41h0M12.89 -6.33h0M-35.45 -16.82h0M4.29 -2.4h0M-6.34 -7.3h0M30.13 -56.11h0M-7.7 -5.67h0M-13.47 -5.21h0M-3.16 -1.62h0M-2.02 -1.22h0M-7.23 -2.43h0M7.03 -6.55h0M38.87 -54.68h0M21.56 -56.52h0M28.28 -3.85h0M-8.01 -8.36h0M-4.94 -5.27h0M3.76 -2.7h0M24.68 -53.54h0M21.69 -16.77h0M1.63 -1.21h0M-22.67 -3.09h0M-7.96 -6.51h0M2.54 -0.49h0M-4.61 -5.82h0M5.79 -3.77h0M33.78 -3.21h0M15 -62.93h0M-4.27 -1.04h0M-10.7 -4.02h0M0.58 -0.27h0M14.6 -7.08h0M22.9 -11.81h0M-1.25 -1.11h0M-30.29 -33.69h0M-1.23 -0.57h0M-0.92 -0.49h0M22.75 -13.71h0M-10.31 -5.33h0M15.02 -32.05h0M-6.06 -5.62h0M5.72 -2.59h0M-0.17 -0.1h0M-4.69 -4.49h0M20.45 -8.92h0M4.19 -4.3h0M4.62 -5h0M-17.04 -15.13h0M14.41 -3.59h0M0.29 -0.37h0M15.3 -2.54h0M0.01 0h0M3.21 -1.94h0M-2.74 -2.76h0M-0.48 -0.2h0M14.48 -3.98h0M0.94 -1.19h0M-1.51 -0.84h0M-6.7 -3.5h0M4.36 -3.08h0M2.15 -1.1h0M-0.56 -0.37h0M6.01 -2.88h0M-2.93 -1.16h0M-3.38 -1.36h0M4.58 -3.82h0M4.65 -3.98h0M-30.92 -8.97h0M-4.94 -1.96h0M0.85 -0.75h0M5.54 -1.89h0M3.62 -1.5h0M34.23 -109.8h0M9.32 -6.16h0M5.14 -6.08h0M0.88 -0.35h0M12.26 -16.98h0M-7.35 -11.05h0M-4.78 -3.33h0M-18.26 -9.47h0M12.52 -14.49h0M-4.01 -3.13h0M1.87 -2.9h0M13.67 -19.22h0M-2.46 -0.62h0M-19.41 -19.96h0M-15.07 -14.39h0M-3.07 -1.88h0M9.02 -7.33h0M-27.01 -17.65h0M-1.15 -0.78h0M-6.45 -4.79h0M8.75 -10.64h0M10.28 -19.3h0M-3.52 -0.97h0M9.77 -15.69h0M-15.57 -6.25h0M5.73 -2.06h0M-2.45 -1.23h0M-16.53 -16.79h0M0.28 -0.1h0M1.17 -0.7h0M9.12 -10.28h0M-28.55 -44.48h0M29.24 -9.06h0M2.05 -0.7h0M1.07 -0.32h0M-4.32 -5.36h0M2.3 -1.61h0M-1.39 -1.66h0M1.91 -1.87h0M9.36 -5.25h0M-3.92 -8.09h0M3.41 -1.96h0M13 -0.98h0M-1.56 -1.38h0M-5.16 -2.99h0M11.8 -24.04h0M-25.6 -23.66h0M5.64 -4.91h0M25.58 -28.33h0M13.82 -12.27h0M4.94 -6.22h0M-28.86 -2.99h0M-1.94 -0.81h0M6.14 -3.57h0M77.34 -108.91h0M0.79 -0.46h0M7.54 -5.01h0M0.85 -0.21h0M-6.42 -6.93h0M32.9 -61.66h0M18.49 -5.36h0M-26.77 -43.64h0M-2.11 -1.71h0M1.62 -1.16h0M2.18 -2.21h0M-0.96 -1.21h0M0.7 -0.67h0M-1.52 -1.08h0M6.28 -4.34h0M6.24 -10.64h0M10.28 -2.6h0M-60.37 -130.92h0M-2.93 -0.4h0M80.3 -20.5h0M23.58 -57.55h0M-3.87 -0.88h0M1.63 -0.72h0M18.21 -3.11h0M14.6 -15.73h0M-4.76 -1.4h0M48 -29.1h0M3.82 -2.4h0M-1.37 -4.04h0M1.57 -0.9h0M-1.82 -1.94h0M3.68 -4.95h0M16.91 -19.71h0M-3.23 -1.46h0M-9.5 -5.57h0M13.84 -28.41h0M-1.98 -1.56h0M-6.89 -19.94h0M-4.49 -8.99h0M-35.06 -14.82h0M-10.57 -0.66h0M16.69 -2.43h0M22.82 -10.05h0M1.29 -0.96h0M-6.89 -6.68h0M-7.72 -7.8h0M-0.56 -0.29h0M-66.7 -39.42h0M22.58 -15.95h0M1.55 -1.17h0M-0.07 -0.09h0M-1.56 -0.7h0M-23.54 -4.88h0M-12.06 -16.72h0M3.39 -2.81h0M2.23 -0.76h0M38.69 -31.18h0M15.29 -13.91h0M-1.86 -0.82h0M-0.28 -0.36h0M-2.92 -1.99h0M0.64 -0.7h0M14.02 -10.94h0M23.56 -27.42h0M4.91 -5.22h0M-6.61 -2.45h0M-2.1 -1.28h0M-4 -3.49h0M-4.88 -3.47h0M7.79 -2.13h0M-7.47 -4.06h0M4.48 -2.1h0M-24.15 -60.45h0M5.96 -1.25h0M-7.29 -4.46h0M42.33 -53.07h0M3.74 -2.87h0M-11.94 -12.1h0M-4.08 -2.89h0M3.23 -4.07h0M7.17 -1.35h0M1.76 -1.65h0M-0.62 -0.52h0M-20.58 -42.81h0M2.97 -1.52h0M12.15 -26.71h0M-10.11 -4.97h0M12.13 -7.81h0M-3.91 -3.03h0M-9.46 -7.78h0M18.76 -7.71h0M-28.84 -38.33h0M-5.05 -4.85h0M-0.36 -0.19h0M5.11 -8.09h0M14.72 -5.68h0M19.29 -24.53h0M-5.41 -6.29h0M-1.02 -0.3h0M22.47 -4.67h0M42.97 -84.28h0M-1.83 -1.38h0M7.13 -10.32h0M-11.51 -14.32h0M-7.39 -3.18h0M-22.45 -18.48h0M2.13 -1.28h0M1.12 -1.12h0M16.5 -3.59h0M-0.7 -0.48h0M-1.12 -1.39h0M-1.93 -0.95h0M1.47 -0.75h0M-0.73 -0.45h0M12.15 -5.47h0M-13.71 -13.26h0M-3.38 -7.37h0M-2.1 -1.32h0M3.82 -6.69h0M-10.03 -12.05h0M-2.28 -1.84h0M-3.77 -3.97h0M-16.14 -14.75h0M6.04 -11.97h0M-1.95 -1.21h0M-39.66 -2.41h0M2.54 -3.44h0M3.7 -5.32h0M0.36 -0.31h0M3.46 -3.29h0M4.33 -0.91h0M-9.3 -9.8h0M2.31 -3.67h0M5.23 -3.36h0M13.87 -18.33h0M4.25 -2h0M2.47 -1.38h0M-5.59 -5.63h0M5.48 -6.96h0M-7.96 -3.67h0M5.34 -3.91h0M-7.39 -10.05h0M-3.21 -5.74h0M6.48 -1.36h0M-12.37 -8.62h0M-4.09 -2.07h0M1.46 -0.23h0M20.67 -10.7h0M13.79 -6.18h0M24.18 -39.72h0M4.22 -1.57h0M4.71 -3.76h0M-2.15 -1.19h0M-6.54 -1.42h0M-5.28 -0.74h0M8.37 -10.84h0M-4.26 -1.67h0M-1.33 -0.9h0M-7.31 -1.43h0M-28.47 -3.43h0M-9.18 -6.31h0M1.45 -1.03h0M-0.95 -1.26h0M3.79 -0.44h0M-0.68 -0.99h0M26.9 -24.35h0M-25.88 -47.45h0M-15.25 -28.69h0M-8.32 -11.69h0M0.98 -0.49h0M3.25 -1.18h0M-1.21 -1.16h0M6.54 -2.68h0M-10.6 -12.55h0M0.42 -0.29h0M4.46 -2.15h0M21.17 -9.55h0M9.37 -3.98h0M8.85 -7.5h0M23.71 -23.3h0M-3.93 -10.35h0M-15.64 -10.86h0M6.7 -7.56h0M1.45 -0.98h0M5.54 -4.19h0M6.3 -5.53h0M13.39 -9.13h0M39.45 -22.72h0M4.96 -1.82h0M29.21 -3.65h0M15.31 -41.95h0M-35.19 -68.99h0M9.84 -4.04h0M-2.51 -2.15h0M0.65 -0.44h0M-3.86 -3.3h0M4.8 -0.77h0M-1.96 -3.18h0M-19.23 -8.47h0M-1.89 -1.94h0M-3.09 -4.55h0M3.18 -2.16h0M-7.13 -2.89h0M-3.45 -2.09h0M8.41 -4.56h0M-0.2 -0.24h0M-0.64 -0.51h0M-4.73 -3.8h0M17.74 -11.07h0M5.66 -4.43h0M-5.14 -4.76h0M-1.13 -0.63h0M-37.93 -8.38h0M3.81 -3.14h0M-3.98 -5.77h0M-28.85 -35.29h0M-1.14 -1.28h0M1.59 -1.28h0M5.75 -2.67h0M-13.4 -6.69h0M-6.45 -2.5h0M4.67 -3.28h0M-25.65 -2.95h0M10.24 -15.77h0M-6.61 -2.18h0M34.59 -35.49h0M-34.52 -1.96h0M-2.12 -2.75h0M-0.07 -0.05h0M5.85 -7.67h0M-22.48 -35.92h0M-1.28 -0.39h0M14.95 -8.86h0M9.42 -27.7h0M-18.25 -1.85h0M-12.71 -7.1h0M9 -6.67h0M3.84 -1.03h0M4.71 -4.79h0M2.08 -0.8h0M9.69 -5.53h0M-7.03 -5.87h0M-1.64 -0.4h0M-11.99 -9.48h0M0.66 -0.37h0" stroke="#d0d0d0" stroke-width="1.15" stroke-linecap="round" fill="none"/></g></defs>
<text x="261.2" y="223.2" font-size="14" font-weight="bold" stroke="#000" stroke-width="0.9" fill="#000">f</text>
<text x="284.7" y="216.6">Panc-1, Transcriptome, Ferroptosis Pathway</text>
<rect x="280.5" y="219.3" width="170.6" height="152.9" fill="#fff"/>
<line x1="304.1" y1="219.3" x2="304.1" y2="372.2" stroke="#ebebeb" stroke-width="0.9"/>
<line x1="329.3" y1="219.3" x2="329.3" y2="372.2" stroke="#ebebeb" stroke-width="0.5"/>
<line x1="354.5" y1="219.3" x2="354.5" y2="372.2" stroke="#ebebeb" stroke-width="0.9"/>
<line x1="379.7" y1="219.3" x2="379.7" y2="372.2" stroke="#ebebeb" stroke-width="0.5"/>
<line x1="404.9" y1="219.3" x2="404.9" y2="372.2" stroke="#ebebeb" stroke-width="0.9"/>
<line x1="430.1" y1="219.3" x2="430.1" y2="372.2" stroke="#ebebeb" stroke-width="0.5"/>
<line x1="280.5" y1="365" x2="451.1" y2="365" stroke="#ebebeb" stroke-width="0.9"/>
<line x1="280.5" y1="337.8" x2="451.1" y2="337.8" stroke="#ebebeb" stroke-width="0.5"/>
<line x1="280.5" y1="310.6" x2="451.1" y2="310.6" stroke="#ebebeb" stroke-width="0.9"/>
<line x1="280.5" y1="283.4" x2="451.1" y2="283.4" stroke="#ebebeb" stroke-width="0.5"/>
<line x1="280.5" y1="256.2" x2="451.1" y2="256.2" stroke="#ebebeb" stroke-width="0.9"/>
<line x1="280.5" y1="229" x2="451.1" y2="229" stroke="#ebebeb" stroke-width="0.5"/>
<use href="#vol" transform="translate(354.2 365.2)"/>
<line x1="349.6" y1="219.3" x2="349.6" y2="372.2" stroke="#a2a2a2" stroke-width="0.85" stroke-dasharray="6 5.7"/>
<line x1="358.6" y1="219.3" x2="358.6" y2="372.2" stroke="#a2a2a2" stroke-width="0.85" stroke-dasharray="6 5.7"/>
<line x1="280.5" y1="358.5" x2="451.1" y2="358.5" stroke="#a2a2a2" stroke-width="0.85" stroke-dasharray="6 5.7"/>
<rect x="280.5" y="219.3" width="170.6" height="152.9" fill="none" stroke="#333" stroke-width="0.9"/>
<line x1="278" y1="365" x2="280.5" y2="365" stroke="#333" stroke-width="0.8"/>
<text x="276.6" y="368" text-anchor="end">0</text>
<line x1="278" y1="310.6" x2="280.5" y2="310.6" stroke="#333" stroke-width="0.8"/>
<text x="276.6" y="313.6" text-anchor="end">10</text>
<line x1="278" y1="256.2" x2="280.5" y2="256.2" stroke="#333" stroke-width="0.8"/>
<text x="276.6" y="259.2" text-anchor="end">20</text>
<line x1="304.1" y1="372.2" x2="304.1" y2="374.7" stroke="#333" stroke-width="0.8"/>
<text x="304.1" y="385.2" text-anchor="middle">−2</text>
<line x1="354.5" y1="372.2" x2="354.5" y2="374.7" stroke="#333" stroke-width="0.8"/>
<text x="354.5" y="385.2" text-anchor="middle">0</text>
<line x1="404.9" y1="372.2" x2="404.9" y2="374.7" stroke="#333" stroke-width="0.8"/>
<text x="404.9" y="385.2" text-anchor="middle">2</text>
<text x="355" y="393.9" text-anchor="middle">Relative Expression</text>
<text x="289.9" y="404.1">Log<tspan font-size="5.5" dy="1.8">2</tspan><tspan dy="-1.8">(PEF + Cell Debris vs. Control)</tspan></text>
<text x="263" y="301.8" text-anchor="middle" transform="rotate(-90 263 301.8)">−Log<tspan font-size="5.5" dy="1.8">10</tspan><tspan dy="-1.8">(</tspan><tspan font-style="italic">P Value</tspan>)</text>
<line x1="403" y1="261.5" x2="396.5" y2="265" stroke="#9a9a9a" stroke-width="0.5"/>
<line x1="398" y1="298.5" x2="375.5" y2="311.5" stroke="#9a9a9a" stroke-width="0.5"/>
<line x1="391.5" y1="313.5" x2="376" y2="316" stroke="#9a9a9a" stroke-width="0.5"/>
<line x1="399.5" y1="330.5" x2="370.5" y2="336" stroke="#9a9a9a" stroke-width="0.5"/>
<line x1="405" y1="346" x2="375" y2="340.5" stroke="#9a9a9a" stroke-width="0.5"/>
<line x1="400" y1="361.5" x2="372" y2="343" stroke="#9a9a9a" stroke-width="0.5"/>
<line x1="322" y1="333" x2="336" y2="342.5" stroke="#9a9a9a" stroke-width="0.5"/>
<line x1="320.5" y1="348" x2="336.5" y2="348.8" stroke="#9a9a9a" stroke-width="0.5"/>
<line x1="321" y1="360" x2="335" y2="357.6" stroke="#9a9a9a" stroke-width="0.5"/>
<circle cx="395.8" cy="265.5" r="1.9" fill="#8b0a0a"/>
<circle cx="384.9" cy="276.6" r="1.9" fill="#8b0a0a"/>
<circle cx="374.6" cy="312.5" r="1.9" fill="#8b0a0a"/>
<circle cx="374.6" cy="316.2" r="1.9" fill="#8b0a0a"/>
<circle cx="369.3" cy="336.6" r="1.9" fill="#8b0a0a"/>
<circle cx="373.7" cy="340.3" r="1.9" fill="#8b0a0a"/>
<circle cx="371" cy="342.2" r="1.9" fill="#8b0a0a"/>
<circle cx="336.7" cy="343.3" r="1.9" fill="#0a0a8b"/>
<circle cx="338" cy="349.1" r="1.9" fill="#0a0a8b"/>
<circle cx="336.3" cy="357.4" r="1.9" fill="#0a0a8b"/>
<text x="395" y="259.2" font-style="italic">HMOX1</text>
<text x="390.5" y="283.3" font-style="italic">SLC7A11</text>
<text x="399" y="300.2" font-style="italic">GCLM</text>
<text x="392.6" y="316.6" font-style="italic">TXNRD1</text>
<text x="400.2" y="332.7" font-style="italic">GCLC</text>
<text x="406.3" y="349.5" font-style="italic">FTL</text>
<text x="401.5" y="365.3" font-style="italic">FTH1</text>
<text x="296.3" y="334.3" font-style="italic">FDFT1</text>
<text x="293" y="350.3" font-style="italic">LPCAT3</text>
<text x="296.3" y="366.9" font-style="italic">ACSL5</text>
<text x="483.3" y="223.1" font-size="14" font-weight="bold" stroke="#000" stroke-width="0.9" fill="#000">g</text>
<text x="502.8" y="213.7">Panc−1, PEF + Cell Debris vs. Control, GSEA</text>
<rect x="506.5" y="217.7" width="170.5" height="153.2" fill="#fff"/>
<line x1="508.33" y1="217.7" x2="508.33" y2="370.9" stroke="#ebebeb" stroke-width="0.5"/>
<line x1="526.1" y1="217.7" x2="526.1" y2="370.9" stroke="#ebebeb" stroke-width="0.9"/>
<line x1="543.88" y1="217.7" x2="543.88" y2="370.9" stroke="#ebebeb" stroke-width="0.5"/>
<line x1="561.65" y1="217.7" x2="561.65" y2="370.9" stroke="#ebebeb" stroke-width="0.9"/>
<line x1="579.43" y1="217.7" x2="579.43" y2="370.9" stroke="#ebebeb" stroke-width="0.5"/>
<line x1="597.2" y1="217.7" x2="597.2" y2="370.9" stroke="#ebebeb" stroke-width="0.9"/>
<line x1="614.98" y1="217.7" x2="614.98" y2="370.9" stroke="#ebebeb" stroke-width="0.5"/>
<line x1="632.75" y1="217.7" x2="632.75" y2="370.9" stroke="#ebebeb" stroke-width="0.9"/>
<line x1="650.53" y1="217.7" x2="650.53" y2="370.9" stroke="#ebebeb" stroke-width="0.5"/>
<line x1="668.3" y1="217.7" x2="668.3" y2="370.9" stroke="#ebebeb" stroke-width="0.9"/>
<line x1="506.5" y1="363.9" x2="677" y2="363.9" stroke="#ebebeb" stroke-width="0.9"/>
<line x1="506.5" y1="349.97" x2="677" y2="349.97" stroke="#ebebeb" stroke-width="0.5"/>
<line x1="506.5" y1="336.05" x2="677" y2="336.05" stroke="#ebebeb" stroke-width="0.9"/>
<line x1="506.5" y1="322.12" x2="677" y2="322.12" stroke="#ebebeb" stroke-width="0.5"/>
<line x1="506.5" y1="308.2" x2="677" y2="308.2" stroke="#ebebeb" stroke-width="0.9"/>
<line x1="506.5" y1="294.27" x2="677" y2="294.27" stroke="#ebebeb" stroke-width="0.5"/>
<line x1="506.5" y1="280.35" x2="677" y2="280.35" stroke="#ebebeb" stroke-width="0.9"/>
<line x1="506.5" y1="266.42" x2="677" y2="266.42" stroke="#ebebeb" stroke-width="0.5"/>
<line x1="506.5" y1="252.5" x2="677" y2="252.5" stroke="#ebebeb" stroke-width="0.9"/>
<line x1="506.5" y1="238.57" x2="677" y2="238.57" stroke="#ebebeb" stroke-width="0.5"/>
<line x1="506.5" y1="224.65" x2="677" y2="224.65" stroke="#ebebeb" stroke-width="0.9"/>
<line x1="561.65" y1="217.7" x2="561.65" y2="370.9" stroke="#7c7c7c" stroke-width="0.9" stroke-dasharray="6 5.8"/>
<line x1="632.75" y1="217.7" x2="632.75" y2="370.9" stroke="#7c7c7c" stroke-width="0.9" stroke-dasharray="6 5.8"/>
<line x1="506.5" y1="327.4" x2="677" y2="327.4" stroke="#7c7c7c" stroke-width="0.9" stroke-dasharray="6 5.8"/>
<circle cx="532.6" cy="334.2" r="1.9" fill="#c0c0c0"/>
<circle cx="537" cy="331.4" r="1.9" fill="#c0c0c0"/>
<circle cx="533.4" cy="339" r="1.9" fill="#c0c0c0"/>
<circle cx="537.5" cy="347.5" r="1.9" fill="#c0c0c0"/>
<circle cx="539.5" cy="346" r="1.9" fill="#c0c0c0"/>
<circle cx="541" cy="348.5" r="1.9" fill="#c0c0c0"/>
<circle cx="543.5" cy="346.5" r="1.9" fill="#c0c0c0"/>
<circle cx="545" cy="349" r="1.9" fill="#c0c0c0"/>
<circle cx="547" cy="347" r="1.9" fill="#c0c0c0"/>
<circle cx="549" cy="350" r="1.9" fill="#c0c0c0"/>
<circle cx="550.5" cy="348" r="1.9" fill="#c0c0c0"/>
<circle cx="551.5" cy="351" r="1.9" fill="#c0c0c0"/>
<circle cx="543" cy="351.5" r="1.9" fill="#c0c0c0"/>
<circle cx="538.5" cy="349.5" r="1.9" fill="#c0c0c0"/>
<circle cx="541" cy="355.33" r="1.9" fill="#c0c0c0"/>
<circle cx="541.76" cy="356.89" r="1.9" fill="#c0c0c0"/>
<circle cx="542.52" cy="357.27" r="1.9" fill="#c0c0c0"/>
<circle cx="543.28" cy="357.43" r="1.9" fill="#c0c0c0"/>
<circle cx="544.03" cy="357.36" r="1.9" fill="#c0c0c0"/>
<circle cx="544.79" cy="358.95" r="1.9" fill="#c0c0c0"/>
<circle cx="545.55" cy="359.4" r="1.9" fill="#c0c0c0"/>
<circle cx="546.31" cy="359.21" r="1.9" fill="#c0c0c0"/>
<circle cx="547.07" cy="359.58" r="1.9" fill="#c0c0c0"/>
<circle cx="547.83" cy="359.4" r="1.9" fill="#c0c0c0"/>
<circle cx="548.59" cy="359.29" r="1.9" fill="#c0c0c0"/>
<circle cx="549.34" cy="360.35" r="1.9" fill="#c0c0c0"/>
<circle cx="550.1" cy="361.09" r="1.9" fill="#c0c0c0"/>
<circle cx="550.86" cy="360.36" r="1.9" fill="#c0c0c0"/>
<circle cx="551.62" cy="362.08" r="1.9" fill="#c0c0c0"/>
<circle cx="552.38" cy="361.22" r="1.9" fill="#c0c0c0"/>
<circle cx="553.14" cy="361.46" r="1.9" fill="#c0c0c0"/>
<circle cx="553.9" cy="361.3" r="1.9" fill="#c0c0c0"/>
<circle cx="554.66" cy="363.42" r="1.9" fill="#c0c0c0"/>
<circle cx="555.41" cy="363.09" r="1.9" fill="#c0c0c0"/>
<circle cx="556.17" cy="363.53" r="1.9" fill="#c0c0c0"/>
<circle cx="556.93" cy="363.16" r="1.9" fill="#c0c0c0"/>
<circle cx="557.69" cy="362.13" r="1.9" fill="#c0c0c0"/>
<circle cx="558.45" cy="362.84" r="1.9" fill="#c0c0c0"/>
<circle cx="559.21" cy="363.27" r="1.9" fill="#c0c0c0"/>
<circle cx="559.97" cy="362.59" r="1.9" fill="#c0c0c0"/>
<circle cx="560.72" cy="364.32" r="1.9" fill="#c0c0c0"/>
<circle cx="561.48" cy="363.2" r="1.9" fill="#c0c0c0"/>
<circle cx="562.24" cy="362.8" r="1.9" fill="#c0c0c0"/>
<circle cx="563" cy="364.14" r="1.9" fill="#c0c0c0"/>
<circle cx="561" cy="363.9" r="1.9" fill="#c0c0c0"/>
<circle cx="562.6" cy="363.9" r="1.9" fill="#c0c0c0"/>
<circle cx="564.2" cy="363.9" r="1.9" fill="#c0c0c0"/>
<circle cx="565.8" cy="363.9" r="1.9" fill="#c0c0c0"/>
<circle cx="567.4" cy="363.9" r="1.9" fill="#c0c0c0"/>
<circle cx="569" cy="363.9" r="1.9" fill="#c0c0c0"/>
<circle cx="570.6" cy="363.9" r="1.9" fill="#c0c0c0"/>
<circle cx="572.2" cy="363.9" r="1.9" fill="#c0c0c0"/>
<circle cx="573.8" cy="363.9" r="1.9" fill="#c0c0c0"/>
<circle cx="575.4" cy="363.9" r="1.9" fill="#c0c0c0"/>
<circle cx="577" cy="363.9" r="1.9" fill="#c0c0c0"/>
<circle cx="578.6" cy="363.9" r="1.9" fill="#c0c0c0"/>
<circle cx="580.2" cy="363.9" r="1.9" fill="#c0c0c0"/>
<circle cx="581.8" cy="363.9" r="1.9" fill="#c0c0c0"/>
<circle cx="583.4" cy="363.9" r="1.9" fill="#c0c0c0"/>
<circle cx="609.5" cy="363.9" r="1.9" fill="#c0c0c0"/>
<circle cx="611.1" cy="363.9" r="1.9" fill="#c0c0c0"/>
<circle cx="612.7" cy="363.9" r="1.9" fill="#c0c0c0"/>
<circle cx="614.3" cy="363.9" r="1.9" fill="#c0c0c0"/>
<circle cx="615.9" cy="363.9" r="1.9" fill="#c0c0c0"/>
<circle cx="617.5" cy="363.9" r="1.9" fill="#c0c0c0"/>
<circle cx="619.1" cy="363.9" r="1.9" fill="#c0c0c0"/>
<circle cx="620.7" cy="363.9" r="1.9" fill="#c0c0c0"/>
<circle cx="622.3" cy="363.9" r="1.9" fill="#c0c0c0"/>
<circle cx="623.9" cy="363.9" r="1.9" fill="#c0c0c0"/>
<circle cx="625.5" cy="363.9" r="1.9" fill="#c0c0c0"/>
<circle cx="627.1" cy="363.9" r="1.9" fill="#c0c0c0"/>
<circle cx="628.7" cy="363.9" r="1.9" fill="#c0c0c0"/>
<circle cx="630.3" cy="363.9" r="1.9" fill="#c0c0c0"/>
<circle cx="631.9" cy="363.9" r="1.9" fill="#c0c0c0"/>
<circle cx="655.42" cy="336.74" r="1.9" fill="#c0c0c0"/>
<circle cx="641.6" cy="359.06" r="1.9" fill="#c0c0c0"/>
<circle cx="637.17" cy="361.09" r="1.9" fill="#c0c0c0"/>
<circle cx="650.1" cy="348.29" r="1.9" fill="#c0c0c0"/>
<circle cx="638.36" cy="360.79" r="1.9" fill="#c0c0c0"/>
<circle cx="649.42" cy="351.22" r="1.9" fill="#c0c0c0"/>
<circle cx="635.54" cy="362.93" r="1.9" fill="#c0c0c0"/>
<circle cx="639.57" cy="360.58" r="1.9" fill="#c0c0c0"/>
<circle cx="649.56" cy="350.93" r="1.9" fill="#c0c0c0"/>
<circle cx="638.69" cy="359.42" r="1.9" fill="#c0c0c0"/>
<circle cx="636.98" cy="362.03" r="1.9" fill="#c0c0c0"/>
<circle cx="647.72" cy="347.87" r="1.9" fill="#c0c0c0"/>
<circle cx="638.34" cy="358.75" r="1.9" fill="#c0c0c0"/>
<circle cx="639.75" cy="359.49" r="1.9" fill="#c0c0c0"/>
<circle cx="647.01" cy="352.96" r="1.9" fill="#c0c0c0"/>
<circle cx="636.77" cy="362.27" r="1.9" fill="#c0c0c0"/>
<circle cx="663.03" cy="329.66" r="1.9" fill="#c0c0c0"/>
<circle cx="656.63" cy="341.53" r="1.9" fill="#c0c0c0"/>
<circle cx="636.58" cy="361.42" r="1.9" fill="#c0c0c0"/>
<circle cx="636.75" cy="362.14" r="1.9" fill="#c0c0c0"/>
<circle cx="647.42" cy="347.38" r="1.9" fill="#c0c0c0"/>
<circle cx="647.48" cy="352.94" r="1.9" fill="#c0c0c0"/>
<circle cx="647.85" cy="346.86" r="1.9" fill="#c0c0c0"/>
<circle cx="657.49" cy="328.59" r="1.9" fill="#c0c0c0"/>
<circle cx="660.31" cy="337.55" r="1.9" fill="#c0c0c0"/>
<circle cx="657.37" cy="341.58" r="1.9" fill="#c0c0c0"/>
<circle cx="647.7" cy="348.03" r="1.9" fill="#c0c0c0"/>
<circle cx="648.14" cy="351.87" r="1.9" fill="#c0c0c0"/>
<circle cx="654.9" cy="338.43" r="1.9" fill="#c0c0c0"/>
<circle cx="657.63" cy="327.93" r="1.9" fill="#c0c0c0"/>
<circle cx="646.05" cy="348.83" r="1.9" fill="#c0c0c0"/>
<circle cx="645.63" cy="356.28" r="1.9" fill="#c0c0c0"/>
<circle cx="638.31" cy="361.89" r="1.9" fill="#c0c0c0"/>
<circle cx="660.48" cy="333.26" r="1.9" fill="#c0c0c0"/>
<circle cx="635.52" cy="362" r="1.9" fill="#c0c0c0"/>
<circle cx="651.37" cy="340.76" r="1.9" fill="#c0c0c0"/>
<circle cx="641.13" cy="355.83" r="1.9" fill="#c0c0c0"/>
<circle cx="659.99" cy="337.27" r="1.9" fill="#c0c0c0"/>
<circle cx="661.39" cy="332.65" r="1.9" fill="#c0c0c0"/>
<circle cx="648.2" cy="345.7" r="1.9" fill="#c0c0c0"/>
<circle cx="648.5" cy="351.62" r="1.9" fill="#c0c0c0"/>
<circle cx="652.67" cy="337.51" r="1.9" fill="#c0c0c0"/>
<circle cx="653.7" cy="334.9" r="1.9" fill="#c0c0c0"/>
<circle cx="660.9" cy="335.7" r="1.9" fill="#c0c0c0"/>
<circle cx="661.7" cy="327.2" r="1.9" fill="#c0c0c0"/>
<circle cx="648.1" cy="346.9" r="1.9" fill="#c0c0c0"/>
<circle cx="657" cy="343" r="1.9" fill="#c0c0c0"/>
<circle cx="661" cy="345.5" r="1.9" fill="#c0c0c0"/>
<circle cx="655" cy="341.5" r="1.9" fill="#c0c0c0"/>
<circle cx="514.6" cy="224.4" r="1.8" fill="#3486bf"/>
<circle cx="523.4" cy="297.5" r="1.8" fill="#3486bf"/>
<circle cx="529" cy="297.5" r="1.8" fill="#3486bf"/>
<circle cx="526.6" cy="305.6" r="1.8" fill="#3486bf"/>
<circle cx="529.3" cy="305.6" r="1.8" fill="#3486bf"/>
<circle cx="528" cy="305.6" r="1.8" fill="#3486bf"/>
<circle cx="526.1" cy="310.9" r="1.8" fill="#3486bf"/>
<circle cx="528.5" cy="314.4" r="1.8" fill="#3486bf"/>
<circle cx="527.7" cy="317.8" r="1.8" fill="#3486bf"/>
<line x1="655.3" y1="274.9" x2="669.4" y2="303.7" stroke="#a11d1d" stroke-width="0.7"/>
<line x1="634.1" y1="290.5" x2="659.3" y2="304.6" stroke="#a11d1d" stroke-width="0.7"/>
<line x1="637.3" y1="309.4" x2="652.9" y2="306.4" stroke="#a11d1d" stroke-width="0.7"/>
<circle cx="654.8" cy="305.7" r="1.9" fill="#8b0a0a"/>
<circle cx="660.9" cy="305.7" r="1.9" fill="#8b0a0a"/>
<circle cx="670.1" cy="305.7" r="1.9" fill="#8b0a0a"/>
<line x1="627" y1="357.2" x2="632.8" y2="361.6" stroke="#a020f0" stroke-width="0.7"/>
<circle cx="634" cy="362.7" r="2" fill="#a020f0"/>
<text x="574.6" y="269.7" fill="#a11d1d">NRF2 Survival Signaling</text>
<text x="574.6" y="289.4" fill="#a11d1d">NRF2 Pathway</text>
<text x="574.6" y="306.3" fill="#a11d1d">Nuclear Receptor</text>
<text x="574.6" y="315.9" fill="#a11d1d">Metapathway</text>
<text x="585" y="355.3" fill="#a528ee">Ferroptosis</text>
<rect x="506.5" y="217.7" width="170.5" height="153.2" fill="none" stroke="#333" stroke-width="0.9"/>
<line x1="504" y1="363.9" x2="506.5" y2="363.9" stroke="#333" stroke-width="0.8"/>
<text x="503" y="366.9" text-anchor="end">0</text>
<line x1="504" y1="336.05" x2="506.5" y2="336.05" stroke="#333" stroke-width="0.8"/>
<text x="503" y="339.05" text-anchor="end">1</text>
<line x1="504" y1="308.2" x2="506.5" y2="308.2" stroke="#333" stroke-width="0.8"/>
<text x="503" y="311.2" text-anchor="end">2</text>
<line x1="504" y1="280.35" x2="506.5" y2="280.35" stroke="#333" stroke-width="0.8"/>
<text x="503" y="283.35" text-anchor="end">3</text>
<line x1="504" y1="252.5" x2="506.5" y2="252.5" stroke="#333" stroke-width="0.8"/>
<text x="503" y="255.5" text-anchor="end">4</text>
<line x1="504" y1="224.65" x2="506.5" y2="224.65" stroke="#333" stroke-width="0.8"/>
<text x="503" y="227.65" text-anchor="end">5</text>
<line x1="526.1" y1="370.9" x2="526.1" y2="373.4" stroke="#333" stroke-width="0.8"/>
<text x="526.1" y="381.7" text-anchor="middle">−2</text>
<line x1="561.65" y1="370.9" x2="561.65" y2="373.4" stroke="#333" stroke-width="0.8"/>
<text x="561.65" y="381.7" text-anchor="middle">−1</text>
<line x1="597.2" y1="370.9" x2="597.2" y2="373.4" stroke="#333" stroke-width="0.8"/>
<text x="597.2" y="381.7" text-anchor="middle">0</text>
<line x1="632.75" y1="370.9" x2="632.75" y2="373.4" stroke="#333" stroke-width="0.8"/>
<text x="632.75" y="381.7" text-anchor="middle">1</text>
<line x1="668.3" y1="370.9" x2="668.3" y2="373.4" stroke="#333" stroke-width="0.8"/>
<text x="668.3" y="381.7" text-anchor="middle">2</text>
<text x="597.7" y="392.7" text-anchor="middle">NES</text>
<text x="491.2" y="305.5" text-anchor="middle" transform="rotate(-90 491.2 305.5)">−Log<tspan font-size="5.5" dy="1.8">10</tspan><tspan dy="-1.8">(</tspan><tspan font-style="italic">p.adjust</tspan>)</text>
<text x="5.7" y="404.3" font-size="14" font-weight="bold" stroke="#000" stroke-width="0.9" fill="#000">h</text>
<text x="133.1" y="398.1" text-anchor="middle">Panc−1, Transcriptome, NRF2 Pathway</text>
<rect x="50" y="402.2" width="170.9" height="153" fill="#fff"/>
<line x1="72.6" y1="402.2" x2="72.6" y2="555.2" stroke="#ebebeb" stroke-width="0.9"/>
<line x1="98" y1="402.2" x2="98" y2="555.2" stroke="#ebebeb" stroke-width="0.5"/>
<line x1="123.4" y1="402.2" x2="123.4" y2="555.2" stroke="#ebebeb" stroke-width="0.9"/>
<line x1="148.8" y1="402.2" x2="148.8" y2="555.2" stroke="#ebebeb" stroke-width="0.5"/>
<line x1="174.2" y1="402.2" x2="174.2" y2="555.2" stroke="#ebebeb" stroke-width="0.9"/>
<line x1="199.6" y1="402.2" x2="199.6" y2="555.2" stroke="#ebebeb" stroke-width="0.5"/>
<line x1="50" y1="548.6" x2="220.9" y2="548.6" stroke="#ebebeb" stroke-width="0.9"/>
<line x1="50" y1="521.25" x2="220.9" y2="521.25" stroke="#ebebeb" stroke-width="0.5"/>
<line x1="50" y1="493.9" x2="220.9" y2="493.9" stroke="#ebebeb" stroke-width="0.9"/>
<line x1="50" y1="466.55" x2="220.9" y2="466.55" stroke="#ebebeb" stroke-width="0.5"/>
<line x1="50" y1="439.2" x2="220.9" y2="439.2" stroke="#ebebeb" stroke-width="0.9"/>
<line x1="50" y1="411.85" x2="220.9" y2="411.85" stroke="#ebebeb" stroke-width="0.5"/>
<use href="#vol" transform="translate(123.6 548.0)"/>
<line x1="119.2" y1="402.2" x2="119.2" y2="555.2" stroke="#a2a2a2" stroke-width="0.85" stroke-dasharray="6 5.7"/>
<line x1="128.2" y1="402.2" x2="128.2" y2="555.2" stroke="#a2a2a2" stroke-width="0.85" stroke-dasharray="6 5.7"/>
<line x1="50" y1="541.3" x2="220.9" y2="541.3" stroke="#a2a2a2" stroke-width="0.85" stroke-dasharray="6 5.7"/>
<rect x="50" y="402.2" width="170.9" height="153" fill="none" stroke="#333" stroke-width="0.9"/>
<line x1="47.5" y1="548.6" x2="50" y2="548.6" stroke="#333" stroke-width="0.8"/>
<text x="46.2" y="551.6" text-anchor="end">0</text>
<line x1="47.5" y1="493.9" x2="50" y2="493.9" stroke="#333" stroke-width="0.8"/>
<text x="46.2" y="496.9" text-anchor="end">10</text>
<line x1="47.5" y1="439.2" x2="50" y2="439.2" stroke="#333" stroke-width="0.8"/>
<text x="46.2" y="442.2" text-anchor="end">20</text>
<line x1="72.6" y1="555.2" x2="72.6" y2="557.7" stroke="#333" stroke-width="0.8"/>
<text x="72.6" y="568.2" text-anchor="middle">−2</text>
<line x1="123.4" y1="555.2" x2="123.4" y2="557.7" stroke="#333" stroke-width="0.8"/>
<text x="123.4" y="568.2" text-anchor="middle">0</text>
<line x1="174.2" y1="555.2" x2="174.2" y2="557.7" stroke="#333" stroke-width="0.8"/>
<text x="174.2" y="568.2" text-anchor="middle">2</text>
<text x="125.2" y="577.1" text-anchor="middle">Relative Expression</text>
<text x="124.6" y="587.2" text-anchor="middle">Log<tspan font-size="5.5" dy="1.8">2</tspan><tspan dy="-1.8">(PEF + Cell Debris vs. Control)</tspan></text>
<text x="32" y="489" text-anchor="middle" transform="rotate(-90 32 489)">−Log<tspan font-size="5.5" dy="1.8">10</tspan><tspan dy="-1.8">(</tspan><tspan font-style="italic">P Value</tspan>)</text>
<line x1="176.2" y1="409.1" x2="154.5" y2="459.7" stroke="#a8a8a8" stroke-width="0.45"/>
<line x1="171.9" y1="418.3" x2="165.8" y2="448.8" stroke="#a8a8a8" stroke-width="0.45"/>
<line x1="181" y1="427.5" x2="144.9" y2="491.6" stroke="#a8a8a8" stroke-width="0.45"/>
<line x1="175.1" y1="436.4" x2="144.2" y2="495.6" stroke="#a8a8a8" stroke-width="0.45"/>
<line x1="180.2" y1="445.6" x2="144.2" y2="499.6" stroke="#a8a8a8" stroke-width="0.45"/>
<line x1="173.8" y1="454.4" x2="151.3" y2="504.6" stroke="#a8a8a8" stroke-width="0.45"/>
<line x1="181" y1="463.6" x2="178.1" y2="461.6" stroke="#a8a8a8" stroke-width="0.45"/>
<line x1="176.7" y1="472.6" x2="155" y2="505.4" stroke="#a8a8a8" stroke-width="0.45"/>
<line x1="177.8" y1="482.2" x2="145.2" y2="512.1" stroke="#a8a8a8" stroke-width="0.45"/>
<line x1="181" y1="491.3" x2="141.4" y2="514.2" stroke="#a8a8a8" stroke-width="0.45"/>
<line x1="181" y1="500.4" x2="139" y2="519.3" stroke="#a8a8a8" stroke-width="0.45"/>
<line x1="173" y1="509.7" x2="138.5" y2="522.1" stroke="#a8a8a8" stroke-width="0.45"/>
<line x1="187.9" y1="518.9" x2="143.3" y2="523.4" stroke="#a8a8a8" stroke-width="0.45"/>
<line x1="183.1" y1="527.9" x2="139.3" y2="525.8" stroke="#a8a8a8" stroke-width="0.45"/>
<line x1="181.8" y1="537" x2="141.4" y2="534.9" stroke="#a8a8a8" stroke-width="0.45"/>
<line x1="177.3" y1="546.2" x2="140" y2="528.5" stroke="#a8a8a8" stroke-width="0.45"/>
<line x1="93" y1="511.5" x2="103.1" y2="520.1" stroke="#a8a8a8" stroke-width="0.45"/>
<line x1="77.5" y1="528" x2="84.5" y2="532.7" stroke="#a8a8a8" stroke-width="0.45"/>
<circle cx="165.8" cy="448.8" r="1.9" fill="#8b0a0a"/>
<circle cx="154.5" cy="459.7" r="1.9" fill="#8b0a0a"/>
<circle cx="178.1" cy="461.6" r="1.9" fill="#8b0a0a"/>
<circle cx="144.9" cy="491.6" r="1.9" fill="#8b0a0a"/>
<circle cx="144.2" cy="495.6" r="1.9" fill="#8b0a0a"/>
<circle cx="144.2" cy="499.6" r="1.9" fill="#8b0a0a"/>
<circle cx="151.3" cy="504.6" r="1.9" fill="#8b0a0a"/>
<circle cx="155" cy="505.4" r="1.9" fill="#8b0a0a"/>
<circle cx="141.4" cy="514.2" r="1.9" fill="#8b0a0a"/>
<circle cx="145.2" cy="512.1" r="1.9" fill="#8b0a0a"/>
<circle cx="139" cy="519.3" r="1.9" fill="#8b0a0a"/>
<circle cx="138.5" cy="522.1" r="1.9" fill="#8b0a0a"/>
<circle cx="143.3" cy="523.4" r="1.9" fill="#8b0a0a"/>
<circle cx="139.3" cy="525.8" r="1.9" fill="#8b0a0a"/>
<circle cx="141.4" cy="534.9" r="1.9" fill="#8b0a0a"/>
<circle cx="103.1" cy="520.1" r="1.9" fill="#0a0a8b"/>
<circle cx="84.5" cy="532.7" r="1.9" fill="#0a0a8b"/>
<text x="177" y="412.3" font-style="italic">HMOX1</text>
<text x="172.7" y="421.5" font-style="italic">SLC7A11</text>
<text x="181.8" y="430.7" font-style="italic">EGR1</text>
<text x="175.9" y="439.6" font-style="italic">SLC2A1</text>
<text x="181" y="448.8" font-style="italic">GCLM</text>
<text x="174.6" y="457.6" font-style="italic">TXNRD1</text>
<text x="181.8" y="466.8" font-style="italic">MAFF</text>
<text x="177.5" y="475.8" font-style="italic">HBEGF</text>
<text x="178.6" y="485.4" font-style="italic">SRXN1</text>
<text x="181.8" y="494.5" font-style="italic">NQO1</text>
<text x="181.8" y="503.6" font-style="italic">GCLC</text>
<text x="173.8" y="512.9" font-style="italic">SQSTM1</text>
<text x="188.7" y="522.1" font-style="italic">FTL</text>
<text x="183.9" y="531.1" font-style="italic">FTH1</text>
<text x="182.6" y="540.2" font-style="italic">CBR1</text>
<text x="178.1" y="549.4" font-style="italic">ABCC2</text>
<text x="65.7" y="509.8" font-style="italic">TGFB2</text>
<text x="64.1" y="525.9" font-style="italic">GSTM2</text>
<defs><filter id="bb" x="-30%" y="-80%" width="160%" height="260%"><feGaussianBlur stdDeviation="1.1 0.9"/></filter>
<filter id="bb2" x="-30%" y="-80%" width="160%" height="260%"><feGaussianBlur stdDeviation="1.6 1.3"/></filter></defs>
<text x="276.9" y="463.2" font-size="14" font-weight="bold" stroke="#000" stroke-width="0.9" fill="#000">i</text>
<text x="331.8" y="460.2">PEF + Cell Debris</text>
<line x1="316.9" y1="465.2" x2="414.3" y2="465.2" stroke="#1a1a1a" stroke-width="1"/>
<text x="283.2" y="475.8">Time (h)</text>
<text x="330.7" y="475.8" text-anchor="middle">0</text>
<text x="354" y="475.8" text-anchor="middle">12</text>
<text x="377.7" y="475.8" text-anchor="middle">24</text>
<text x="399.4" y="475.8" text-anchor="middle">48</text>
<rect x="316.6" y="479.3" width="98" height="20.1" fill="#fbfbfb"/>
<rect x="316.6" y="503.4" width="98" height="20.1" fill="#fbfbfb"/>
<rect x="316.6" y="528.3" width="98" height="19.9" fill="#fbfbfb"/>
<rect x="316.6" y="553.5" width="98" height="20.6" fill="#fbfbfb"/>
<rect x="317" y="480" width="97" height="19" fill="#eeeeee"/>
<ellipse cx="331.8" cy="493.5" rx="9" ry="3" fill="#dcdcdc" filter="url(#bb2)"/>
<ellipse cx="331.8" cy="488.3" rx="9" ry="2.1" fill="#8a8a8a" filter="url(#bb)"/>
<ellipse cx="355.7" cy="493.5" rx="9" ry="3" fill="#d0d0d0" filter="url(#bb2)"/>
<ellipse cx="355.7" cy="488.3" rx="9" ry="2.1" fill="#686868" filter="url(#bb)"/>
<ellipse cx="377" cy="493.5" rx="9" ry="3" fill="#d6d6d6" filter="url(#bb2)"/>
<ellipse cx="377" cy="488.3" rx="9" ry="2.1" fill="#404040" filter="url(#bb)"/>
<ellipse cx="399.4" cy="493.5" rx="9" ry="3" fill="#d6d6d6" filter="url(#bb2)"/>
<ellipse cx="399.4" cy="488.3" rx="9" ry="2.1" fill="#4a4a4a" filter="url(#bb)"/>
<ellipse cx="396" cy="487.2" rx="2" ry="1.5" fill="#222" filter="url(#bb)"/>
<ellipse cx="331.8" cy="513.6" rx="9.75" ry="1.1" fill="#c4c4c4" filter="url(#bb)"/>
<ellipse cx="355.7" cy="513.6" rx="9.75" ry="2.2" fill="#111" filter="url(#bb)"/>
<ellipse cx="377" cy="513.6" rx="9.75" ry="2.2" fill="#151515" filter="url(#bb)"/>
<ellipse cx="399.4" cy="513.6" rx="9.75" ry="2.2" fill="#111" filter="url(#bb)"/>
<ellipse cx="331.8" cy="538" rx="9" ry="2.3" fill="#8a8a8a" filter="url(#bb)"/>
<ellipse cx="355.7" cy="538" rx="9" ry="2.3" fill="#9a9a9a" filter="url(#bb)"/>
<ellipse cx="377" cy="538" rx="9" ry="2.3" fill="#4a4a4a" filter="url(#bb)"/>
<ellipse cx="399.4" cy="538" rx="9" ry="2.3" fill="#2a2a2a" filter="url(#bb)"/>
<ellipse cx="331.8" cy="562.8" rx="10.75" ry="1.9" fill="#0e0e0e" filter="url(#bb)"/>
<ellipse cx="355.7" cy="562.8" rx="10.75" ry="1.9" fill="#0e0e0e" filter="url(#bb)"/>
<ellipse cx="377" cy="562.8" rx="10.75" ry="1.9" fill="#0e0e0e" filter="url(#bb)"/>
<ellipse cx="399.4" cy="562.8" rx="10.75" ry="1.9" fill="#0e0e0e" filter="url(#bb)"/>
<rect x="316.6" y="479.3" width="98" height="20.1" fill="none" stroke="#111" stroke-width="1.3"/>
<rect x="316.6" y="503.4" width="98" height="20.1" fill="none" stroke="#111" stroke-width="1.3"/>
<rect x="316.6" y="528.3" width="98" height="19.9" fill="none" stroke="#111" stroke-width="1.3"/>
<rect x="316.6" y="553.5" width="98" height="20.6" fill="none" stroke="#111" stroke-width="1.3"/>
<text x="313.2" y="493.4" text-anchor="end">NRF2</text>
<text x="313.2" y="516.4" text-anchor="end">HMOX1</text>
<text x="313.2" y="542.1" text-anchor="end">FTH1</text>
<text x="313.2" y="566" text-anchor="end">β-Actin</text>
<text x="415.9" y="493.1">-72 kD</text>
<text x="415.9" y="509.1">-37 kD</text>
<text x="415.9" y="546.9">-17 kD</text>
<text x="415.9" y="561.1">-43 kD</text>
<text x="365.6" y="584.1" text-anchor="middle">Panc-1</text>
<text x="481.9" y="419.2" font-size="14" font-weight="bold" stroke="#000" stroke-width="0.9" fill="#000">j</text>
<text x="509.9" y="411.2">KPC-A719 Tumor, Day 1 after PEF Ablation</text>
<defs>
<filter id="tx1" x="0" y="0" width="100%" height="100%"><feTurbulence type="fractalNoise" baseFrequency="0.7" numOctaves="2" seed="4"/>
<feColorMatrix values="0 0 0 0 0.6  0 0 0 0 0.26  0 0 0 0 0.56  3.4 0 0 0 -1.45"/><feGaussianBlur stdDeviation="0.3"/></filter>
<filter id="tx2" x="0" y="0" width="100%" height="100%"><feTurbulence type="fractalNoise" baseFrequency="0.45" numOctaves="2" seed="9"/>
<feColorMatrix values="0 0 0 0 1  0 0 0 0 0.9  0 0 0 0 0.97  0 3.0 0 0 -1.7"/><feGaussianBlur stdDeviation="0.3"/></filter>
<filter id="bl2" x="-20%" y="-20%" width="140%" height="140%"><feGaussianBlur stdDeviation="2"/></filter>
<filter id="bl15" x="-20%" y="-20%" width="140%" height="140%"><feGaussianBlur stdDeviation="1.5"/></filter>
<filter id="bl1" x="-20%" y="-20%" width="140%" height="140%"><feGaussianBlur stdDeviation="0.5"/></filter>
<clipPath id="cj1"><rect x="500.6" y="413.5" width="176.2" height="92.3"/></clipPath>
<clipPath id="cj2"><rect x="500.6" y="507" width="176.2" height="91.5"/></clipPath>
</defs>
<g clip-path="url(#cj1)">
<rect x="500.6" y="413.5" width="176.2" height="92.3" fill="#e4a8d3"/>
<path d="M500 440 Q530 450 545 470 Q560 490 600 506 L500 506 Z" fill="#e2a8d6" filter="url(#bl2)"/>
<rect x="500.6" y="413.5" width="176.2" height="92.3" fill="#fff" filter="url(#tx1)"/>
<rect x="500.6" y="413.5" width="176.2" height="92.3" fill="#fff" filter="url(#tx2)"/>
<path d="M586.8 443.7 L588.5 428.6 L593.5 421.9 L599.4 416.8 L603.6 420.2 L608.6 422.7 L614.5 420.2 L620.4 416.8 L624.6 423.5 L623.7 437 L626.2 443.7 L623.7 452.1 L620.4 462.1 L617 470.5 L610.3 471.4 L606.9 465.5 L601.9 462.1 L596.9 458.8 L590.1 452.1 Z" fill="#f7ebf4" filter="url(#bl1)" opacity="0.85"/>
<path d="M601 432 Q608 428 614 436 Q616 446 610 452 Q602 450 599 442 Z" fill="#e2aed6" filter="url(#bl15)" opacity="0.9"/>
<rect x="585" y="414" width="42" height="60" fill="#fff" filter="url(#tx1)" opacity="0.35"/>
<path d="M670 420 L680 418 L680 452 L672 448 Q668 435 670 420 Z" fill="#f4e4f1" filter="url(#bl15)" opacity="0.7"/>
</g>
<rect x="500.6" y="505.8" width="176.2" height="1.2" fill="#fff"/>
<g clip-path="url(#cj2)">
<rect x="500.6" y="507" width="176.2" height="91.5" fill="#e6aed9"/>
<path d="M500 507 L605 507 Q598 530 600 552 Q600 575 582 599 L500 599 Z" fill="#da98cc" filter="url(#bl2)"/>
<g filter="url(#bl1)"><ellipse cx="560.45" cy="565.43" rx="1.83" ry="1.89" fill="#8e4ca4"/><ellipse cx="556.46" cy="555.57" rx="2.34" ry="1.39" fill="#c488c8"/><ellipse cx="572.82" cy="551.21" rx="2.34" ry="1.67" fill="#8e4ca4"/><ellipse cx="531.94" cy="535.07" rx="2.29" ry="1.77" fill="#b070b8"/><ellipse cx="591.14" cy="569.66" rx="2.32" ry="1.6" fill="#8e4ca4"/><ellipse cx="572.22" cy="517.02" rx="1.65" ry="1.9" fill="#9a55ae"/><ellipse cx="507.02" cy="540.39" rx="2.15" ry="1.56" fill="#8e4ca4"/><ellipse cx="533.93" cy="539.26" rx="1.91" ry="1.45" fill="#8e4ca4"/><ellipse cx="572.87" cy="588.64" rx="2.26" ry="1.77" fill="#8e4ca4"/><ellipse cx="559.32" cy="517.64" rx="1.4" ry="1.83" fill="#a462b2"/><ellipse cx="500.32" cy="544.54" rx="1.52" ry="1.27" fill="#8e4ca4"/><ellipse cx="569.3" cy="549.03" rx="2.17" ry="1.63" fill="#b070b8"/><ellipse cx="548.15" cy="586.93" rx="1.38" ry="1.53" fill="#b070b8"/><ellipse cx="540.19" cy="579.37" rx="2.03" ry="1.32" fill="#9a55ae"/><ellipse cx="599.31" cy="565.66" rx="2.26" ry="1.86" fill="#8e4ca4"/><ellipse cx="591.5" cy="591.53" rx="1.83" ry="1.72" fill="#c488c8"/><ellipse cx="529.86" cy="532.29" rx="1.75" ry="1.53" fill="#c488c8"/><ellipse cx="565.95" cy="577.21" rx="1.32" ry="1.46" fill="#b070b8"/><ellipse cx="585.12" cy="536.55" rx="2.35" ry="1.92" fill="#9a55ae"/><ellipse cx="533.89" cy="595.52" rx="1.49" ry="1.75" fill="#c488c8"/><ellipse cx="537.48" cy="546.24" rx="2.32" ry="1.88" fill="#8e4ca4"/><ellipse cx="579.55" cy="561.14" rx="1.34" ry="1.77" fill="#c488c8"/><ellipse cx="550.95" cy="580.92" rx="1.39" ry="1.21" fill="#c488c8"/><ellipse cx="591.39" cy="524.71" rx="1.38" ry="1.93" fill="#c488c8"/><ellipse cx="581.84" cy="559.92" rx="2.05" ry="1.11" fill="#c488c8"/><ellipse cx="599.55" cy="544.86" rx="2.2" ry="1.22" fill="#9a55ae"/><ellipse cx="504.21" cy="507.96" rx="2.17" ry="1.31" fill="#a462b2"/><ellipse cx="511.95" cy="540.45" rx="2.25" ry="1.97" fill="#b070b8"/><ellipse cx="580" cy="584.55" rx="2.19" ry="1.55" fill="#9a55ae"/><ellipse cx="530.79" cy="536.92" rx="1.44" ry="1.4" fill="#c488c8"/><ellipse cx="535.95" cy="552.6" rx="1.6" ry="1.88" fill="#b070b8"/><ellipse cx="555.95" cy="584.76" rx="1.41" ry="1.47" fill="#8e4ca4"/><ellipse cx="513.79" cy="581.2" rx="1.81" ry="1.39" fill="#c488c8"/><ellipse cx="578.23" cy="506.68" rx="1.39" ry="1.4" fill="#9a55ae"/><ellipse cx="538.29" cy="529.74" rx="1.98" ry="1.83" fill="#8e4ca4"/><ellipse cx="552.55" cy="562.32" rx="1.61" ry="1.75" fill="#c488c8"/><ellipse cx="523.79" cy="509.97" rx="1.73" ry="1.12" fill="#a462b2"/><ellipse cx="508.76" cy="583.2" rx="2.01" ry="1.96" fill="#a462b2"/><ellipse cx="535.13" cy="582.14" rx="2.24" ry="1.71" fill="#9a55ae"/><ellipse cx="513.69" cy="521.09" rx="1.98" ry="1.78" fill="#b070b8"/><ellipse cx="589.64" cy="552.8" rx="2.26" ry="1.84" fill="#a462b2"/><ellipse cx="590.9" cy="572.58" rx="2.1" ry="1.92" fill="#8e4ca4"/><ellipse cx="566.45" cy="528.05" rx="2.18" ry="1.5" fill="#b070b8"/><ellipse cx="542.34" cy="515.27" rx="1.47" ry="1.3" fill="#b070b8"/><ellipse cx="503.51" cy="521.41" rx="1.66" ry="1.92" fill="#b070b8"/><ellipse cx="588.45" cy="518.37" rx="1.41" ry="1.22" fill="#a462b2"/><ellipse cx="555.37" cy="590.97" rx="1.85" ry="1.82" fill="#c488c8"/><ellipse cx="542.19" cy="514.84" rx="1.88" ry="1.44" fill="#c488c8"/><ellipse cx="562.22" cy="580.31" rx="1.84" ry="1.56" fill="#b070b8"/><ellipse cx="532.92" cy="556.77" rx="1.78" ry="1.64" fill="#c488c8"/><ellipse cx="597.47" cy="569.7" rx="1.58" ry="1.37" fill="#b070b8"/><ellipse cx="591" cy="534.51" rx="2.32" ry="1.89" fill="#9a55ae"/><ellipse cx="585.26" cy="524.3" rx="1.34" ry="1.97" fill="#b070b8"/><ellipse cx="526.71" cy="546.81" rx="2.33" ry="1.42" fill="#c488c8"/><ellipse cx="512.64" cy="508.91" rx="1.57" ry="1.75" fill="#8e4ca4"/><ellipse cx="566.56" cy="598.74" rx="2.37" ry="1.63" fill="#c488c8"/><ellipse cx="587.15" cy="530.67" rx="1.62" ry="1.2" fill="#9a55ae"/><ellipse cx="583.59" cy="590.64" rx="2.23" ry="1.36" fill="#9a55ae"/><ellipse cx="587.36" cy="554.69" rx="2.29" ry="1.49" fill="#8e4ca4"/><ellipse cx="554.14" cy="539.46" rx="1.69" ry="1.97" fill="#8e4ca4"/><ellipse cx="563.15" cy="555.98" rx="2.11" ry="1.7" fill="#b070b8"/><ellipse cx="527.48" cy="598.9" rx="1.66" ry="1.65" fill="#9a55ae"/><ellipse cx="576.48" cy="542.44" rx="2.09" ry="1.22" fill="#a462b2"/><ellipse cx="518.76" cy="582.13" rx="1.69" ry="1.78" fill="#8e4ca4"/><ellipse cx="530.41" cy="568.66" rx="1.64" ry="1.63" fill="#9a55ae"/><ellipse cx="506.72" cy="556.31" rx="2.24" ry="1.26" fill="#c488c8"/><ellipse cx="515.9" cy="552.43" rx="1.75" ry="1.25" fill="#a462b2"/><ellipse cx="566.32" cy="533.17" rx="1.77" ry="1.9" fill="#a462b2"/><ellipse cx="571.8" cy="552.06" rx="1.31" ry="1.67" fill="#9a55ae"/><ellipse cx="520.3" cy="537.68" rx="2.36" ry="1.38" fill="#8e4ca4"/><ellipse cx="579.98" cy="538.6" rx="1.49" ry="1.7" fill="#8e4ca4"/><ellipse cx="508.78" cy="558.63" rx="2.3" ry="1.79" fill="#9a55ae"/><ellipse cx="558.26" cy="543.61" rx="2.01" ry="1.65" fill="#9a55ae"/><ellipse cx="575.69" cy="576.06" rx="1.95" ry="1.6" fill="#c488c8"/><ellipse cx="545.71" cy="508.93" rx="1.7" ry="1.85" fill="#c488c8"/><ellipse cx="593.18" cy="590.3" rx="2.06" ry="1.55" fill="#a462b2"/><ellipse cx="530.59" cy="566.08" rx="2.11" ry="1.57" fill="#8e4ca4"/><ellipse cx="568.72" cy="519.84" rx="1.45" ry="1.2" fill="#c488c8"/><ellipse cx="558.5" cy="584.21" rx="2.37" ry="1.22" fill="#a462b2"/><ellipse cx="510.72" cy="527.22" rx="2.13" ry="1.54" fill="#b070b8"/><ellipse cx="572.9" cy="539.8" rx="1.67" ry="1.56" fill="#b070b8"/><ellipse cx="506.74" cy="582.74" rx="2.02" ry="1.28" fill="#a462b2"/><ellipse cx="525.82" cy="599.11" rx="1.75" ry="1.8" fill="#8e4ca4"/><ellipse cx="575.78" cy="582.79" rx="2.03" ry="1.74" fill="#c488c8"/><ellipse cx="503.23" cy="557.53" rx="1.58" ry="1.43" fill="#8e4ca4"/><ellipse cx="593.92" cy="526.93" rx="1.87" ry="1.44" fill="#9a55ae"/><ellipse cx="510.67" cy="571.97" rx="1.9" ry="1.12" fill="#8e4ca4"/><ellipse cx="556.31" cy="522.37" rx="1.77" ry="1.79" fill="#b070b8"/><ellipse cx="547.11" cy="531.85" rx="2.07" ry="1.28" fill="#b070b8"/><ellipse cx="590.39" cy="555.55" rx="1.72" ry="1.73" fill="#b070b8"/><ellipse cx="586.74" cy="592.89" rx="2.26" ry="1.41" fill="#a462b2"/><ellipse cx="540.06" cy="564.16" rx="1.64" ry="1.43" fill="#9a55ae"/><ellipse cx="581.57" cy="591.05" rx="1.95" ry="1.46" fill="#8e4ca4"/><ellipse cx="554.61" cy="526.76" rx="2.05" ry="1.17" fill="#c488c8"/><ellipse cx="523.39" cy="521.45" rx="1.91" ry="1.84" fill="#c488c8"/><ellipse cx="569.92" cy="577" rx="2.2" ry="1.81" fill="#c488c8"/><ellipse cx="599.86" cy="543.02" rx="2.19" ry="1.46" fill="#c488c8"/><ellipse cx="519.71" cy="546.11" rx="1.31" ry="1.11" fill="#8e4ca4"/><ellipse cx="547.35" cy="591.53" rx="2.22" ry="1.16" fill="#a462b2"/><ellipse cx="521.84" cy="578.75" rx="1.95" ry="1.11" fill="#b070b8"/><ellipse cx="565.64" cy="577.03" rx="2.07" ry="1.9" fill="#8e4ca4"/><ellipse cx="528.86" cy="558.7" rx="1.79" ry="1.89" fill="#a462b2"/><ellipse cx="572.89" cy="511.16" rx="2.12" ry="1.33" fill="#b070b8"/><ellipse cx="513.99" cy="599.06" rx="1.83" ry="1.13" fill="#9a55ae"/><ellipse cx="583.14" cy="560.98" rx="1.39" ry="1.53" fill="#a462b2"/><ellipse cx="585.65" cy="574.47" rx="2.12" ry="1.14" fill="#a462b2"/><ellipse cx="516.45" cy="562.33" rx="1.3" ry="1.66" fill="#9a55ae"/><ellipse cx="514.58" cy="587.27" rx="2.06" ry="1.45" fill="#c488c8"/><ellipse cx="572.36" cy="561.57" rx="1.37" ry="1.8" fill="#c488c8"/><ellipse cx="549.32" cy="579.08" rx="1.92" ry="1.97" fill="#b070b8"/><ellipse cx="583.25" cy="558.71" rx="2.36" ry="1.76" fill="#b070b8"/><ellipse cx="577.86" cy="518.33" rx="2.29" ry="1.43" fill="#a462b2"/><ellipse cx="540.65" cy="558.81" rx="1.9" ry="1.4" fill="#8e4ca4"/><ellipse cx="563.68" cy="506.68" rx="1.41" ry="1.24" fill="#8e4ca4"/><ellipse cx="543.5" cy="562.53" rx="1.61" ry="1.41" fill="#b070b8"/><ellipse cx="507.29" cy="571.31" rx="1.72" ry="1.47" fill="#8e4ca4"/><ellipse cx="538.41" cy="516.39" rx="2.39" ry="1.25" fill="#b070b8"/><ellipse cx="584.15" cy="561.86" rx="2.39" ry="1.92" fill="#9a55ae"/><ellipse cx="513.98" cy="575.44" rx="1.72" ry="1.13" fill="#c488c8"/><ellipse cx="580.58" cy="565" rx="2.11" ry="1.14" fill="#b070b8"/><ellipse cx="537.38" cy="579.85" rx="1.56" ry="1.7" fill="#b070b8"/><ellipse cx="519.2" cy="506.63" rx="2.07" ry="1.96" fill="#9a55ae"/><ellipse cx="539.64" cy="591.54" rx="2.04" ry="1.58" fill="#a462b2"/><ellipse cx="523.89" cy="573.59" rx="1.61" ry="1.43" fill="#8e4ca4"/><ellipse cx="541.38" cy="544.91" rx="1.35" ry="1.31" fill="#a462b2"/><ellipse cx="579.64" cy="515.15" rx="2.3" ry="1.35" fill="#9a55ae"/><ellipse cx="519.26" cy="578.83" rx="1.83" ry="1.9" fill="#c488c8"/><ellipse cx="559.47" cy="589.8" rx="2.06" ry="1.7" fill="#a462b2"/><ellipse cx="508.12" cy="581.18" rx="2.07" ry="1.38" fill="#a462b2"/><ellipse cx="531.95" cy="560.79" rx="1.73" ry="1.91" fill="#c488c8"/><ellipse cx="582.32" cy="522.05" rx="1.49" ry="1.78" fill="#c488c8"/><ellipse cx="548.41" cy="595.72" rx="2.23" ry="1.19" fill="#9a55ae"/><ellipse cx="594.73" cy="541.88" rx="1.73" ry="1.84" fill="#9a55ae"/><ellipse cx="545.04" cy="583.26" rx="1.78" ry="1.52" fill="#a462b2"/><ellipse cx="547.66" cy="583.7" rx="1.64" ry="1.15" fill="#8e4ca4"/><ellipse cx="506.37" cy="558.68" rx="2.05" ry="1.94" fill="#a462b2"/><ellipse cx="572.12" cy="586.2" rx="2.24" ry="1.94" fill="#9a55ae"/><ellipse cx="551.49" cy="507.82" rx="1.49" ry="1.46" fill="#c488c8"/><ellipse cx="564.28" cy="578.57" rx="1.31" ry="1.24" fill="#a462b2"/><ellipse cx="561.07" cy="552.44" rx="2.13" ry="1.13" fill="#8e4ca4"/><ellipse cx="577.37" cy="593.23" rx="2.36" ry="1.73" fill="#b070b8"/><ellipse cx="578.67" cy="534.43" rx="1.64" ry="1.34" fill="#c488c8"/><ellipse cx="534.93" cy="535.04" rx="2.1" ry="1.77" fill="#9a55ae"/><ellipse cx="579.4" cy="582.1" rx="2.11" ry="1.84" fill="#9a55ae"/><ellipse cx="535.24" cy="573.04" rx="1.33" ry="1.62" fill="#b070b8"/><ellipse cx="562.5" cy="522.19" rx="1.89" ry="1.58" fill="#8e4ca4"/><ellipse cx="588.27" cy="511.35" rx="2.18" ry="1.69" fill="#c488c8"/><ellipse cx="573.29" cy="521.14" rx="2.21" ry="1.47" fill="#c488c8"/><ellipse cx="584.12" cy="516.2" rx="2.15" ry="1.92" fill="#a462b2"/><ellipse cx="542.03" cy="575.76" rx="1.81" ry="1.63" fill="#8e4ca4"/><ellipse cx="548.24" cy="595.4" rx="2.15" ry="1.92" fill="#c488c8"/><ellipse cx="558.45" cy="532.03" rx="1.85" ry="1.34" fill="#b070b8"/><ellipse cx="557.74" cy="506.5" rx="1.87" ry="1.82" fill="#8e4ca4"/><ellipse cx="582.65" cy="563.85" rx="1.41" ry="1.55" fill="#c488c8"/><ellipse cx="593.52" cy="548.27" rx="2.22" ry="1.25" fill="#8e4ca4"/><ellipse cx="544.1" cy="566.99" rx="1.49" ry="1.37" fill="#a462b2"/><ellipse cx="554.63" cy="570.08" rx="1.65" ry="1.37" fill="#b070b8"/><ellipse cx="578.72" cy="517.74" rx="2.17" ry="1.83" fill="#b070b8"/><ellipse cx="526.39" cy="568.69" rx="2.18" ry="1.58" fill="#8e4ca4"/><ellipse cx="513.67" cy="571.78" rx="1.31" ry="1.24" fill="#8e4ca4"/><ellipse cx="558.5" cy="507.17" rx="1.9" ry="1.5" fill="#b070b8"/><ellipse cx="554.28" cy="565.53" rx="2.09" ry="1.29" fill="#a462b2"/><ellipse cx="551.81" cy="555.5" rx="1.89" ry="1.85" fill="#8e4ca4"/><ellipse cx="569.91" cy="531.01" rx="1.89" ry="1.27" fill="#a462b2"/><ellipse cx="565.89" cy="560.3" rx="1.66" ry="1.27" fill="#c488c8"/><ellipse cx="541.92" cy="513.33" rx="2.09" ry="1.31" fill="#9a55ae"/><ellipse cx="508.85" cy="586.77" rx="1.46" ry="1.44" fill="#c488c8"/><ellipse cx="576.01" cy="598.55" rx="1.67" ry="1.37" fill="#b070b8"/><ellipse cx="535.21" cy="550.2" rx="1.55" ry="1.84" fill="#c488c8"/><ellipse cx="588.5" cy="511.95" rx="1.36" ry="1.99" fill="#8e4ca4"/><ellipse cx="583.41" cy="558.54" rx="1.36" ry="1.37" fill="#c488c8"/><ellipse cx="565.65" cy="508.69" rx="1.68" ry="1.52" fill="#c488c8"/><ellipse cx="506.25" cy="563.45" rx="1.38" ry="1.11" fill="#a462b2"/><ellipse cx="565.55" cy="563.96" rx="1.56" ry="1.57" fill="#c488c8"/><ellipse cx="559.14" cy="540.78" rx="2.14" ry="1.75" fill="#a462b2"/><ellipse cx="516.29" cy="519.34" rx="2.29" ry="1.68" fill="#8e4ca4"/><ellipse cx="572.45" cy="511.89" rx="1.85" ry="1.67" fill="#8e4ca4"/><ellipse cx="533.83" cy="543.59" rx="2.13" ry="1.3" fill="#9a55ae"/><ellipse cx="553.85" cy="520.3" rx="1.59" ry="1.93" fill="#8e4ca4"/><ellipse cx="522.96" cy="527.12" rx="2.07" ry="1.79" fill="#8e4ca4"/><ellipse cx="554.96" cy="546.93" rx="1.98" ry="1.83" fill="#9a55ae"/><ellipse cx="569.52" cy="534.79" rx="1.59" ry="1.93" fill="#9a55ae"/><ellipse cx="587.3" cy="565.05" rx="2.2" ry="1.24" fill="#9a55ae"/><ellipse cx="527.35" cy="524.43" rx="1.84" ry="1.91" fill="#9a55ae"/><ellipse cx="539.7" cy="513.29" rx="2.02" ry="1.26" fill="#9a55ae"/><ellipse cx="600.18" cy="564.54" rx="1.78" ry="1.89" fill="#a462b2"/><ellipse cx="582.9" cy="522.94" rx="1.93" ry="1.51" fill="#c488c8"/><ellipse cx="553.69" cy="517.22" rx="1.7" ry="1.4" fill="#9a55ae"/><ellipse cx="509.46" cy="590.88" rx="1.36" ry="1.68" fill="#a462b2"/><ellipse cx="529.84" cy="571.61" rx="1.6" ry="1.7" fill="#8e4ca4"/><ellipse cx="522.48" cy="572.61" rx="1.87" ry="1.21" fill="#b070b8"/><ellipse cx="508.27" cy="526.36" rx="1.87" ry="1.86" fill="#a462b2"/><ellipse cx="589.88" cy="594.5" rx="1.52" ry="1.49" fill="#8e4ca4"/><ellipse cx="590.04" cy="532.59" rx="1.35" ry="1.36" fill="#c488c8"/><ellipse cx="589.09" cy="567.62" rx="1.59" ry="1.78" fill="#9a55ae"/><ellipse cx="502.38" cy="578.49" rx="1.33" ry="1.94" fill="#a462b2"/><ellipse cx="573.68" cy="567.76" rx="1.35" ry="1.13" fill="#8e4ca4"/><ellipse cx="536.86" cy="548.06" rx="2.1" ry="1.11" fill="#b070b8"/><ellipse cx="569.67" cy="558.6" rx="1.78" ry="1.94" fill="#a462b2"/><ellipse cx="504.25" cy="576.3" rx="1.68" ry="1.77" fill="#9a55ae"/><ellipse cx="513.03" cy="565.34" rx="2.18" ry="1.66" fill="#c488c8"/><ellipse cx="539.13" cy="533.49" rx="1.48" ry="1.39" fill="#b070b8"/><ellipse cx="535.11" cy="563.04" rx="2.32" ry="1.22" fill="#a462b2"/><ellipse cx="592.61" cy="507.45" rx="2.19" ry="1.16" fill="#9a55ae"/><ellipse cx="507.05" cy="548.46" rx="2.25" ry="1.53" fill="#8e4ca4"/><ellipse cx="502.51" cy="520.27" rx="1.52" ry="1.34" fill="#a462b2"/><ellipse cx="511.91" cy="590.44" rx="2.16" ry="1.7" fill="#c488c8"/><ellipse cx="512.62" cy="530.31" rx="1.62" ry="1.99" fill="#9a55ae"/><ellipse cx="563.29" cy="545.45" rx="1.87" ry="1.35" fill="#a462b2"/><ellipse cx="593.99" cy="577.84" rx="2.19" ry="1.39" fill="#b070b8"/><ellipse cx="589.11" cy="597.23" rx="2.18" ry="1.36" fill="#b070b8"/><ellipse cx="548.73" cy="542.08" rx="1.82" ry="1.28" fill="#b070b8"/><ellipse cx="554.12" cy="595.78" rx="1.59" ry="1.49" fill="#9a55ae"/><ellipse cx="545.55" cy="549.17" rx="2" ry="1.55" fill="#9a55ae"/><ellipse cx="561.84" cy="538.22" rx="1.94" ry="1.91" fill="#a462b2"/><ellipse cx="549.18" cy="563.04" rx="2.14" ry="1.67" fill="#a462b2"/><ellipse cx="517.62" cy="543.72" rx="1.33" ry="1.93" fill="#9a55ae"/><ellipse cx="531.68" cy="576.98" rx="1.83" ry="1.85" fill="#c488c8"/><ellipse cx="517.39" cy="549.85" rx="1.86" ry="1.33" fill="#c488c8"/><ellipse cx="533.79" cy="595.79" rx="1.99" ry="1.4" fill="#b070b8"/><ellipse cx="580.17" cy="583.56" rx="2.26" ry="1.22" fill="#c488c8"/><ellipse cx="543.78" cy="544.62" rx="2.19" ry="1.36" fill="#8e4ca4"/><ellipse cx="567.57" cy="542.86" rx="2.06" ry="1.69" fill="#9a55ae"/><ellipse cx="526.56" cy="538.31" rx="1.84" ry="1.28" fill="#a462b2"/><ellipse cx="565.59" cy="537.94" rx="1.57" ry="1.98" fill="#c488c8"/><ellipse cx="526.48" cy="547.57" rx="1.43" ry="1.93" fill="#a462b2"/><ellipse cx="562.87" cy="552.8" rx="2.32" ry="1.36" fill="#b070b8"/><ellipse cx="573.03" cy="540.61" rx="2.28" ry="1.45" fill="#8e4ca4"/><ellipse cx="506.96" cy="535.36" rx="2.08" ry="1.76" fill="#8e4ca4"/><ellipse cx="502.25" cy="541.62" rx="2.25" ry="1.53" fill="#c488c8"/><ellipse cx="522.77" cy="516.32" rx="1.78" ry="1.27" fill="#8e4ca4"/><ellipse cx="514.94" cy="541.73" rx="2.06" ry="1.25" fill="#9a55ae"/><ellipse cx="537.59" cy="548.34" rx="1.48" ry="1.63" fill="#a462b2"/><ellipse cx="509.6" cy="514.99" rx="1.92" ry="1.42" fill="#b070b8"/><ellipse cx="522.54" cy="519.51" rx="1.67" ry="1.52" fill="#b070b8"/><ellipse cx="571.48" cy="545.67" rx="1.85" ry="1.37" fill="#b070b8"/><ellipse cx="553.2" cy="542.74" rx="2.36" ry="1.81" fill="#a462b2"/><ellipse cx="536.88" cy="526.49" rx="1.95" ry="1.51" fill="#9a55ae"/><ellipse cx="592.01" cy="574.17" rx="1.46" ry="1.85" fill="#8e4ca4"/><ellipse cx="592.57" cy="529.28" rx="2.23" ry="1.85" fill="#9a55ae"/><ellipse cx="590.53" cy="509.17" rx="2.13" ry="1.81" fill="#8e4ca4"/><ellipse cx="509.73" cy="563.97" rx="2.27" ry="1.99" fill="#8e4ca4"/><ellipse cx="546.56" cy="555.42" rx="2.36" ry="1.23" fill="#a462b2"/><ellipse cx="543.42" cy="531.64" rx="1.86" ry="1.19" fill="#8e4ca4"/><ellipse cx="567.15" cy="542.56" rx="2.01" ry="1.14" fill="#9a55ae"/><ellipse cx="595.82" cy="558" rx="1.66" ry="1.99" fill="#9a55ae"/><ellipse cx="556.84" cy="565.38" rx="2.22" ry="1.86" fill="#b070b8"/><ellipse cx="568.91" cy="576.08" rx="1.69" ry="1.21" fill="#b070b8"/><ellipse cx="533.66" cy="516.92" rx="2.25" ry="1.79" fill="#b070b8"/><ellipse cx="596.61" cy="540.09" rx="2.19" ry="1.57" fill="#a462b2"/><ellipse cx="599.46" cy="565.78" rx="1.61" ry="1.34" fill="#c488c8"/><ellipse cx="547.17" cy="545.33" rx="1.48" ry="1.89" fill="#9a55ae"/><ellipse cx="571.21" cy="598.56" rx="1.36" ry="1.84" fill="#b070b8"/><ellipse cx="567.9" cy="568.5" rx="1.57" ry="1.75" fill="#c488c8"/><ellipse cx="520.17" cy="592.33" rx="2.27" ry="1.35" fill="#a462b2"/><ellipse cx="573.97" cy="593.87" rx="2.22" ry="1.73" fill="#b070b8"/><ellipse cx="526.85" cy="590.75" rx="1.6" ry="1.58" fill="#c488c8"/><ellipse cx="500.95" cy="516.28" rx="2.13" ry="1.67" fill="#9a55ae"/><ellipse cx="502.88" cy="514.63" rx="1.35" ry="1.58" fill="#8e4ca4"/><ellipse cx="500.55" cy="597.74" rx="1.35" ry="1.16" fill="#c488c8"/><ellipse cx="540.33" cy="589.51" rx="1.37" ry="1.79" fill="#a462b2"/><ellipse cx="507.78" cy="573.14" rx="1.56" ry="1.39" fill="#9a55ae"/><ellipse cx="556.41" cy="543.7" rx="2.2" ry="1.18" fill="#b070b8"/><ellipse cx="569.87" cy="508.51" rx="2.29" ry="1.89" fill="#a462b2"/><ellipse cx="540.25" cy="539.82" rx="1.66" ry="1.95" fill="#c488c8"/><ellipse cx="550.25" cy="509.7" rx="1.58" ry="1.64" fill="#c488c8"/><ellipse cx="590.19" cy="548.75" rx="1.99" ry="1.58" fill="#9a55ae"/><ellipse cx="555.01" cy="530.84" rx="1.81" ry="1.96" fill="#9a55ae"/><ellipse cx="524.77" cy="577.63" rx="1.81" ry="1.27" fill="#a462b2"/><ellipse cx="509.2" cy="595.06" rx="2.28" ry="1.83" fill="#b070b8"/><ellipse cx="575.94" cy="567.26" rx="2.31" ry="1.99" fill="#9a55ae"/><ellipse cx="539.57" cy="527.17" rx="1.69" ry="1.75" fill="#c488c8"/><ellipse cx="554.97" cy="550.57" rx="2.09" ry="1.37" fill="#8e4ca4"/><ellipse cx="535.11" cy="550.77" rx="1.72" ry="1.52" fill="#b070b8"/><ellipse cx="543.19" cy="579.31" rx="2.05" ry="1.9" fill="#a462b2"/><ellipse cx="500.77" cy="538.63" rx="1.52" ry="1.54" fill="#c488c8"/><ellipse cx="558.91" cy="525.81" rx="2.01" ry="1.68" fill="#b070b8"/><ellipse cx="538.27" cy="561.16" rx="1.49" ry="1.99" fill="#a462b2"/><ellipse cx="597.85" cy="570.89" rx="1.97" ry="1.1" fill="#a462b2"/><ellipse cx="514.14" cy="560.63" rx="1.46" ry="1.62" fill="#8e4ca4"/><ellipse cx="500.74" cy="579.62" rx="2.24" ry="1.26" fill="#a462b2"/><ellipse cx="536.42" cy="572.26" rx="1.99" ry="1.67" fill="#8e4ca4"/><ellipse cx="587.89" cy="582.64" rx="1.45" ry="1.69" fill="#b070b8"/><ellipse cx="586.19" cy="596.01" rx="2.18" ry="1.84" fill="#9a55ae"/><ellipse cx="567.93" cy="535.75" rx="1.59" ry="1.83" fill="#8e4ca4"/><ellipse cx="591.23" cy="565.23" rx="1.68" ry="1.49" fill="#8e4ca4"/><ellipse cx="520.89" cy="545.03" rx="2.01" ry="1.83" fill="#c488c8"/><ellipse cx="580.08" cy="588.75" rx="1.45" ry="1.89" fill="#c488c8"/><ellipse cx="539.79" cy="537.33" rx="1.41" ry="1.13" fill="#c488c8"/><ellipse cx="522.82" cy="543.66" rx="2.35" ry="1.29" fill="#b070b8"/><ellipse cx="537.89" cy="577.35" rx="2.28" ry="1.34" fill="#9a55ae"/><ellipse cx="535.44" cy="598.3" rx="1.98" ry="1.81" fill="#8e4ca4"/><ellipse cx="530.6" cy="552.8" rx="1.7" ry="1.61" fill="#9a55ae"/><ellipse cx="568.27" cy="558.24" rx="2.12" ry="1.17" fill="#a462b2"/><ellipse cx="596.61" cy="573.26" rx="1.56" ry="1.46" fill="#8e4ca4"/><ellipse cx="569.62" cy="554.92" rx="1.78" ry="1.73" fill="#c488c8"/><ellipse cx="539.45" cy="537.77" rx="1.79" ry="1.43" fill="#b070b8"/><ellipse cx="546.32" cy="542.07" rx="2.02" ry="1.63" fill="#8e4ca4"/><ellipse cx="593.24" cy="575.86" rx="2.02" ry="1.43" fill="#8e4ca4"/><ellipse cx="583.84" cy="532.96" rx="2.17" ry="1.24" fill="#b070b8"/><ellipse cx="529.54" cy="544.28" rx="1.43" ry="1.82" fill="#a462b2"/><ellipse cx="566.77" cy="553.02" rx="2.38" ry="1.98" fill="#a462b2"/><ellipse cx="508.94" cy="547.48" rx="2.37" ry="1.17" fill="#c488c8"/><ellipse cx="517.09" cy="596.78" rx="1.51" ry="1.65" fill="#c488c8"/><ellipse cx="569.17" cy="546.24" rx="2.27" ry="1.31" fill="#9a55ae"/><ellipse cx="530.04" cy="568.22" rx="1.89" ry="1.65" fill="#b070b8"/><ellipse cx="552.38" cy="508.1" rx="1.89" ry="1.28" fill="#a462b2"/><ellipse cx="509.18" cy="547.36" rx="2.22" ry="1.83" fill="#a462b2"/><ellipse cx="529.16" cy="524.82" rx="2.1" ry="1.98" fill="#c488c8"/><ellipse cx="523.8" cy="548.72" rx="1.51" ry="1.28" fill="#9a55ae"/><ellipse cx="554.35" cy="573.67" rx="1.35" ry="1.4" fill="#a462b2"/><ellipse cx="589.76" cy="592.02" rx="2.3" ry="1.64" fill="#c488c8"/><ellipse cx="551.01" cy="531.3" rx="2.2" ry="1.91" fill="#a462b2"/><ellipse cx="527.35" cy="583.28" rx="2.27" ry="1.86" fill="#9a55ae"/><ellipse cx="533.91" cy="523.18" rx="2.03" ry="1.93" fill="#9a55ae"/><ellipse cx="516.25" cy="599.45" rx="1.39" ry="1.95" fill="#a462b2"/><ellipse cx="588.47" cy="545.49" rx="1.39" ry="1.89" fill="#9a55ae"/><ellipse cx="527.51" cy="560.55" rx="2.06" ry="1.54" fill="#b070b8"/><ellipse cx="583.4" cy="522.54" rx="2.36" ry="1.79" fill="#b070b8"/><ellipse cx="567.08" cy="563.33" rx="2.12" ry="1.17" fill="#c488c8"/><ellipse cx="512.85" cy="572.32" rx="1.87" ry="1.33" fill="#9a55ae"/><ellipse cx="588.5" cy="530.94" rx="1.77" ry="1.31" fill="#c488c8"/><ellipse cx="567.59" cy="510.88" rx="1.71" ry="1.24" fill="#a462b2"/><ellipse cx="541.85" cy="596.81" rx="2.28" ry="1.84" fill="#9a55ae"/><ellipse cx="597.22" cy="562.89" rx="1.75" ry="1.4" fill="#b070b8"/><ellipse cx="560.59" cy="559.99" rx="1.97" ry="1.48" fill="#9a55ae"/><ellipse cx="508.43" cy="533.98" rx="1.88" ry="1.49" fill="#c488c8"/><ellipse cx="508.48" cy="520.23" rx="2.02" ry="1.37" fill="#8e4ca4"/><ellipse cx="542.78" cy="526.55" rx="1.68" ry="1.71" fill="#9a55ae"/><ellipse cx="550.48" cy="545.23" rx="2.17" ry="1.5" fill="#b070b8"/><ellipse cx="501.47" cy="567.41" rx="1.4" ry="1.76" fill="#9a55ae"/><ellipse cx="530.02" cy="523.16" rx="2.39" ry="1.66" fill="#8e4ca4"/><ellipse cx="530.85" cy="587.45" rx="1.88" ry="1.75" fill="#b070b8"/><ellipse cx="512.16" cy="585.5" rx="2.01" ry="1.42" fill="#8e4ca4"/><ellipse cx="521.37" cy="593.91" rx="1.75" ry="1.41" fill="#8e4ca4"/><ellipse cx="582.15" cy="535.73" rx="2.15" ry="1.62" fill="#a462b2"/><ellipse cx="572.48" cy="552.01" rx="1.77" ry="1.91" fill="#8e4ca4"/><ellipse cx="566.26" cy="530.56" rx="2.34" ry="1.22" fill="#8e4ca4"/><ellipse cx="552.79" cy="538.24" rx="2.33" ry="1.15" fill="#9a55ae"/><ellipse cx="548.7" cy="577.67" rx="1.34" ry="1.84" fill="#c488c8"/><ellipse cx="533.51" cy="566.2" rx="1.37" ry="1.48" fill="#c488c8"/><ellipse cx="592.78" cy="554.56" rx="1.4" ry="1.33" fill="#8e4ca4"/><ellipse cx="522.41" cy="597.78" rx="1.84" ry="1.84" fill="#c488c8"/><ellipse cx="533.23" cy="588.97" rx="1.32" ry="1.74" fill="#8e4ca4"/><ellipse cx="569.53" cy="575.15" rx="1.86" ry="1.81" fill="#b070b8"/><ellipse cx="509.03" cy="567.44" rx="1.81" ry="1.18" fill="#9a55ae"/><ellipse cx="574.62" cy="511.87" rx="2.27" ry="1.81" fill="#b070b8"/><ellipse cx="524.19" cy="597.43" rx="2.02" ry="1.23" fill="#9a55ae"/><ellipse cx="504.36" cy="595.09" rx="2.11" ry="1.92" fill="#8e4ca4"/><ellipse cx="550.02" cy="588.36" rx="1.38" ry="1.51" fill="#8e4ca4"/><ellipse cx="528.55" cy="563.51" rx="2.07" ry="1.92" fill="#8e4ca4"/><ellipse cx="510.52" cy="552.26" rx="1.52" ry="1.98" fill="#a462b2"/><ellipse cx="595.73" cy="563.2" rx="2.24" ry="1.36" fill="#8e4ca4"/><ellipse cx="538.23" cy="525.09" rx="1.55" ry="1.79" fill="#b070b8"/><ellipse cx="527.39" cy="556.54" rx="1.69" ry="1.21" fill="#8e4ca4"/><ellipse cx="539.98" cy="511.99" rx="1.64" ry="1.11" fill="#b070b8"/><ellipse cx="550.15" cy="547.04" rx="2.19" ry="1.85" fill="#b070b8"/><ellipse cx="573.47" cy="568.9" rx="1.73" ry="1.3" fill="#c488c8"/><ellipse cx="575.28" cy="582.57" rx="2.25" ry="1.85" fill="#c488c8"/><ellipse cx="546.92" cy="578.91" rx="2.03" ry="1.12" fill="#8e4ca4"/><ellipse cx="561.98" cy="588.24" rx="2.22" ry="1.44" fill="#a462b2"/><ellipse cx="535.72" cy="552.18" rx="2.09" ry="1.26" fill="#b070b8"/><ellipse cx="512.75" cy="581.01" rx="1.78" ry="1.71" fill="#8e4ca4"/><ellipse cx="548.06" cy="536.06" rx="1.56" ry="1.47" fill="#9a55ae"/><ellipse cx="537.12" cy="508.24" rx="1.64" ry="1.56" fill="#8e4ca4"/><ellipse cx="600.37" cy="548.83" rx="1.63" ry="1.32" fill="#9a55ae"/><ellipse cx="580.68" cy="552.14" rx="1.81" ry="1.99" fill="#a462b2"/><ellipse cx="576.39" cy="585.88" rx="1.61" ry="1.34" fill="#c488c8"/><ellipse cx="533.34" cy="582.4" rx="1.45" ry="2" fill="#a462b2"/><ellipse cx="526.65" cy="577.92" rx="2.24" ry="1.23" fill="#8e4ca4"/><ellipse cx="594.8" cy="517.53" rx="2.23" ry="1.64" fill="#8e4ca4"/><ellipse cx="577.01" cy="522.8" rx="1.74" ry="1.87" fill="#c488c8"/><ellipse cx="560.32" cy="589.45" rx="1.49" ry="1.4" fill="#b070b8"/><ellipse cx="526.71" cy="507.69" rx="1.87" ry="1.96" fill="#b070b8"/><ellipse cx="560.11" cy="512.08" rx="1.34" ry="1.41" fill="#a462b2"/><ellipse cx="560.03" cy="547.69" rx="1.79" ry="1.3" fill="#9a55ae"/><ellipse cx="539.87" cy="568.45" rx="1.8" ry="1.52" fill="#8e4ca4"/><ellipse cx="512.54" cy="560.4" rx="2.04" ry="1.54" fill="#c488c8"/><ellipse cx="524.02" cy="566.76" rx="1.97" ry="1.75" fill="#c488c8"/><ellipse cx="576.39" cy="536.44" rx="1.99" ry="1.64" fill="#b070b8"/><ellipse cx="544.58" cy="566.52" rx="2.24" ry="1.73" fill="#b070b8"/><ellipse cx="583.05" cy="541.94" rx="1.33" ry="1.94" fill="#b070b8"/><ellipse cx="562.37" cy="532.18" rx="2.26" ry="1.33" fill="#c488c8"/><ellipse cx="580.97" cy="594.46" rx="2.39" ry="1.45" fill="#a462b2"/><ellipse cx="561.84" cy="515.54" rx="1.6" ry="1.18" fill="#8e4ca4"/><ellipse cx="579.94" cy="582.69" rx="1.63" ry="1.7" fill="#a462b2"/><ellipse cx="596.69" cy="528.97" rx="1.31" ry="1.24" fill="#a462b2"/><ellipse cx="569.14" cy="549.68" rx="2.1" ry="1.98" fill="#8e4ca4"/><ellipse cx="524.54" cy="530.69" rx="1.89" ry="1.48" fill="#c488c8"/><ellipse cx="534.57" cy="523.79" rx="1.31" ry="1.34" fill="#9a55ae"/><ellipse cx="574.11" cy="534.22" rx="1.89" ry="1.36" fill="#9a55ae"/><ellipse cx="565.24" cy="541.68" rx="2.16" ry="1.88" fill="#9a55ae"/><ellipse cx="586.14" cy="569.18" rx="1.47" ry="1.42" fill="#c488c8"/><ellipse cx="561.26" cy="599.32" rx="1.43" ry="1.93" fill="#8e4ca4"/><ellipse cx="504.51" cy="534.54" rx="1.55" ry="1.22" fill="#c488c8"/><ellipse cx="582.3" cy="585.14" rx="2.16" ry="1.16" fill="#9a55ae"/><ellipse cx="596.31" cy="536.65" rx="2.09" ry="1.6" fill="#9a55ae"/><circle cx="668.68" cy="553.04" r="0.58" fill="#7a52a8"/><circle cx="618.88" cy="592.41" r="0.89" fill="#5c3496"/><circle cx="663.16" cy="554.69" r="0.73" fill="#7a52a8"/><circle cx="640.75" cy="595.11" r="0.57" fill="#4c2888"/><circle cx="658.45" cy="507.29" r="0.84" fill="#6b42a0"/><circle cx="607.78" cy="597.7" r="0.52" fill="#6b42a0"/><circle cx="624.18" cy="553.67" r="0.68" fill="#4c2888"/><circle cx="598.62" cy="562.88" r="0.88" fill="#6b42a0"/><circle cx="661.73" cy="579" r="0.58" fill="#6b42a0"/><circle cx="629.21" cy="551.71" r="0.85" fill="#6b42a0"/><circle cx="661.47" cy="546.97" r="0.59" fill="#6b42a0"/><circle cx="668.14" cy="511.71" r="0.88" fill="#7a52a8"/><circle cx="609.49" cy="554.43" r="0.6" fill="#4c2888"/><circle cx="605.83" cy="570.09" r="0.54" fill="#7a52a8"/><circle cx="657.61" cy="519.28" r="0.69" fill="#5c3496"/><circle cx="667.75" cy="551.47" r="0.67" fill="#6b42a0"/><circle cx="634.88" cy="513.38" r="0.55" fill="#4c2888"/><circle cx="644.73" cy="599.48" r="0.79" fill="#5c3496"/><circle cx="657.63" cy="562.83" r="0.77" fill="#7a52a8"/><circle cx="662.13" cy="568.53" r="0.72" fill="#4c2888"/><circle cx="628.05" cy="543.19" r="0.54" fill="#7a52a8"/><circle cx="630.1" cy="599.61" r="0.59" fill="#5c3496"/><circle cx="663.68" cy="569.31" r="0.81" fill="#4c2888"/><circle cx="612.47" cy="527.77" r="0.53" fill="#7a52a8"/><circle cx="625.67" cy="590.85" r="0.63" fill="#7a52a8"/><circle cx="624.9" cy="537.34" r="0.73" fill="#6b42a0"/><circle cx="642.63" cy="553.22" r="0.71" fill="#7a52a8"/><circle cx="639.3" cy="537.76" r="0.66" fill="#5c3496"/><circle cx="619.84" cy="571.39" r="0.53" fill="#5c3496"/><circle cx="673.35" cy="509.32" r="0.8" fill="#5c3496"/><circle cx="617.74" cy="569.07" r="0.88" fill="#5c3496"/><circle cx="635.77" cy="553.58" r="0.5" fill="#6b42a0"/><circle cx="652.81" cy="540.32" r="0.84" fill="#5c3496"/><circle cx="659.65" cy="597.58" r="0.51" fill="#4c2888"/><circle cx="641.55" cy="536.4" r="0.9" fill="#6b42a0"/><circle cx="626.05" cy="534.67" r="0.64" fill="#7a52a8"/><circle cx="633.6" cy="516.1" r="0.86" fill="#6b42a0"/><circle cx="629.55" cy="535.44" r="0.84" fill="#7a52a8"/><circle cx="618.39" cy="588.66" r="0.73" fill="#5c3496"/><circle cx="665.01" cy="594.42" r="0.77" fill="#7a52a8"/><circle cx="641.27" cy="526.4" r="0.89" fill="#4c2888"/><circle cx="649.83" cy="556.23" r="0.55" fill="#6b42a0"/><circle cx="651.94" cy="592.86" r="0.77" fill="#7a52a8"/><circle cx="640.64" cy="596.25" r="0.73" fill="#6b42a0"/><circle cx="664.32" cy="561.65" r="0.84" fill="#7a52a8"/><circle cx="598.4" cy="592.02" r="0.66" fill="#5c3496"/><circle cx="647.37" cy="562.6" r="0.75" fill="#6b42a0"/><circle cx="629.62" cy="569.27" r="0.87" fill="#5c3496"/><circle cx="628.85" cy="567.94" r="0.85" fill="#5c3496"/><circle cx="644.23" cy="596.97" r="0.66" fill="#5c3496"/><circle cx="671.58" cy="520.56" r="0.79" fill="#5c3496"/><circle cx="632.31" cy="539.38" r="0.55" fill="#6b42a0"/><circle cx="659.68" cy="567.87" r="0.62" fill="#5c3496"/><circle cx="601.2" cy="541.03" r="0.61" fill="#5c3496"/><circle cx="602.42" cy="585.25" r="0.9" fill="#6b42a0"/><circle cx="634.32" cy="531.75" r="0.87" fill="#4c2888"/><circle cx="666.53" cy="513.27" r="0.66" fill="#7a52a8"/><circle cx="602.92" cy="537.87" r="0.54" fill="#6b42a0"/><circle cx="655.9" cy="537.21" r="0.62" fill="#4c2888"/><circle cx="671.6" cy="563.84" r="0.83" fill="#7a52a8"/><circle cx="655.66" cy="525.21" r="0.62" fill="#4c2888"/><circle cx="605.61" cy="543.29" r="0.66" fill="#5c3496"/><circle cx="673.3" cy="558.05" r="0.88" fill="#6b42a0"/><circle cx="629.2" cy="563.76" r="0.88" fill="#7a52a8"/><circle cx="608.43" cy="563.24" r="0.76" fill="#5c3496"/><circle cx="654.39" cy="538.62" r="0.74" fill="#5c3496"/><circle cx="611.47" cy="556.13" r="0.6" fill="#6b42a0"/><circle cx="639.39" cy="535.49" r="0.73" fill="#6b42a0"/><circle cx="604.35" cy="570.27" r="0.88" fill="#7a52a8"/><circle cx="659.28" cy="533.05" r="0.86" fill="#5c3496"/><circle cx="648.67" cy="568.5" r="0.56" fill="#5c3496"/><circle cx="607.57" cy="548.02" r="0.51" fill="#6b42a0"/><circle cx="620.02" cy="546.02" r="0.65" fill="#4c2888"/><circle cx="607.54" cy="539.89" r="0.55" fill="#6b42a0"/><circle cx="623.75" cy="555.17" r="0.55" fill="#7a52a8"/><circle cx="655.01" cy="588.99" r="0.64" fill="#6b42a0"/><circle cx="643.21" cy="570.91" r="0.67" fill="#7a52a8"/><circle cx="672.12" cy="599.7" r="0.57" fill="#4c2888"/><circle cx="612.65" cy="598.92" r="0.6" fill="#7a52a8"/><circle cx="646.65" cy="523.03" r="0.85" fill="#7a52a8"/><circle cx="665.79" cy="567.41" r="0.83" fill="#7a52a8"/><circle cx="650" cy="576.52" r="0.66" fill="#5c3496"/><circle cx="632.62" cy="574.08" r="0.89" fill="#5c3496"/><circle cx="607.94" cy="558.45" r="0.53" fill="#7a52a8"/><circle cx="630.46" cy="506.59" r="0.61" fill="#4c2888"/><circle cx="618.71" cy="590" r="0.68" fill="#5c3496"/><circle cx="643.13" cy="560.43" r="0.67" fill="#6b42a0"/><circle cx="645.66" cy="599.34" r="0.78" fill="#6b42a0"/><circle cx="649.23" cy="510.15" r="0.7" fill="#5c3496"/><circle cx="623.86" cy="558.1" r="0.6" fill="#6b42a0"/><circle cx="654.59" cy="549.93" r="0.76" fill="#7a52a8"/><circle cx="664.1" cy="579.11" r="0.59" fill="#6b42a0"/><circle cx="654.31" cy="526.37" r="0.71" fill="#7a52a8"/><circle cx="606.38" cy="581.39" r="0.71" fill="#4c2888"/><circle cx="673.91" cy="529.78" r="0.79" fill="#5c3496"/><circle cx="639.72" cy="543.55" r="0.55" fill="#6b42a0"/><circle cx="676.17" cy="513.02" r="0.62" fill="#6b42a0"/><circle cx="633.87" cy="597.46" r="0.78" fill="#5c3496"/><circle cx="637.24" cy="536.47" r="0.79" fill="#4c2888"/><circle cx="637.28" cy="581.64" r="0.85" fill="#4c2888"/><circle cx="612.71" cy="516.37" r="0.59" fill="#5c3496"/><circle cx="645.31" cy="591.17" r="0.56" fill="#5c3496"/><circle cx="616.92" cy="583.16" r="0.84" fill="#6b42a0"/><circle cx="646.71" cy="580.93" r="0.7" fill="#4c2888"/><circle cx="639.28" cy="585.58" r="0.9" fill="#6b42a0"/><circle cx="607.17" cy="576.15" r="0.6" fill="#4c2888"/><circle cx="665.41" cy="561.95" r="0.55" fill="#4c2888"/><circle cx="650.19" cy="583.91" r="0.89" fill="#7a52a8"/><circle cx="628.97" cy="588.02" r="0.63" fill="#4c2888"/><circle cx="604.79" cy="544.01" r="0.72" fill="#6b42a0"/><circle cx="632.06" cy="551.61" r="0.69" fill="#6b42a0"/><circle cx="617.27" cy="524.85" r="0.86" fill="#6b42a0"/><circle cx="633.08" cy="564.65" r="0.68" fill="#7a52a8"/><circle cx="676.02" cy="545.18" r="0.77" fill="#5c3496"/><circle cx="663.95" cy="596.37" r="0.82" fill="#5c3496"/><circle cx="618.35" cy="567.18" r="0.74" fill="#4c2888"/><circle cx="630.2" cy="564.43" r="0.67" fill="#6b42a0"/><circle cx="669.73" cy="575.36" r="0.83" fill="#5c3496"/><circle cx="617.86" cy="594.48" r="0.51" fill="#5c3496"/><circle cx="634.03" cy="539.76" r="0.86" fill="#7a52a8"/><circle cx="627.34" cy="509.92" r="0.62" fill="#7a52a8"/><circle cx="625.86" cy="506.8" r="0.73" fill="#7a52a8"/><circle cx="601.55" cy="507.01" r="0.86" fill="#6b42a0"/><circle cx="616.73" cy="592.39" r="0.58" fill="#7a52a8"/><circle cx="642.94" cy="508.68" r="0.55" fill="#4c2888"/><circle cx="674.52" cy="575.12" r="0.75" fill="#4c2888"/><circle cx="629.03" cy="524.51" r="0.88" fill="#5c3496"/><circle cx="647.55" cy="521.48" r="0.87" fill="#4c2888"/><circle cx="663.25" cy="543.83" r="0.68" fill="#4c2888"/><circle cx="612.38" cy="529.54" r="0.63" fill="#4c2888"/><circle cx="634.38" cy="588.71" r="0.67" fill="#5c3496"/><circle cx="639.1" cy="555.37" r="0.6" fill="#5c3496"/><circle cx="666.91" cy="547.32" r="0.65" fill="#5c3496"/><circle cx="636.36" cy="573.51" r="0.56" fill="#5c3496"/><circle cx="619.93" cy="538.32" r="0.68" fill="#5c3496"/><circle cx="618.29" cy="529.37" r="0.63" fill="#5c3496"/><circle cx="677.87" cy="587.76" r="0.9" fill="#5c3496"/><circle cx="657.71" cy="580.82" r="0.57" fill="#5c3496"/><circle cx="614.87" cy="586.89" r="0.57" fill="#6b42a0"/><circle cx="651.78" cy="514.38" r="0.74" fill="#5c3496"/><circle cx="615.46" cy="507.56" r="0.85" fill="#6b42a0"/><circle cx="626.42" cy="520.03" r="0.59" fill="#7a52a8"/><circle cx="644.17" cy="525.11" r="0.57" fill="#4c2888"/><circle cx="655.15" cy="536.11" r="0.74" fill="#7a52a8"/><circle cx="673.49" cy="585.5" r="0.79" fill="#5c3496"/><circle cx="644.15" cy="528.35" r="0.81" fill="#5c3496"/><circle cx="614.48" cy="513.72" r="0.57" fill="#7a52a8"/><circle cx="607.26" cy="594.7" r="0.83" fill="#5c3496"/><circle cx="643.23" cy="508.33" r="0.77" fill="#7a52a8"/><circle cx="625.42" cy="522.38" r="0.63" fill="#4c2888"/><circle cx="606.5" cy="542.95" r="0.63" fill="#7a52a8"/><circle cx="632.56" cy="527.58" r="0.64" fill="#5c3496"/><circle cx="602.03" cy="540.69" r="0.65" fill="#7a52a8"/><circle cx="669.21" cy="582.83" r="0.53" fill="#7a52a8"/><circle cx="650.12" cy="549.14" r="0.8" fill="#5c3496"/><circle cx="663.25" cy="554.56" r="0.82" fill="#4c2888"/><circle cx="608.12" cy="567.51" r="0.66" fill="#7a52a8"/><circle cx="648.39" cy="558.98" r="0.71" fill="#4c2888"/><circle cx="637.89" cy="529.1" r="0.78" fill="#6b42a0"/><circle cx="613.17" cy="507.12" r="0.8" fill="#5c3496"/><circle cx="677.8" cy="531.67" r="0.64" fill="#4c2888"/><circle cx="641.41" cy="524.77" r="0.74" fill="#4c2888"/><circle cx="639.01" cy="535.8" r="0.8" fill="#4c2888"/><circle cx="638.89" cy="536.21" r="0.72" fill="#6b42a0"/><circle cx="664.85" cy="524.45" r="0.89" fill="#5c3496"/><circle cx="676.15" cy="539.09" r="0.59" fill="#7a52a8"/><circle cx="666.56" cy="574.44" r="0.62" fill="#5c3496"/><circle cx="628.6" cy="588.83" r="0.83" fill="#5c3496"/><circle cx="616.27" cy="576.97" r="0.72" fill="#6b42a0"/><circle cx="654.47" cy="558.61" r="0.68" fill="#7a52a8"/><circle cx="662.33" cy="535.76" r="0.68" fill="#7a52a8"/><circle cx="605.87" cy="562.97" r="0.5" fill="#6b42a0"/><circle cx="663.89" cy="538.4" r="0.65" fill="#5c3496"/><circle cx="668.61" cy="563.44" r="0.7" fill="#5c3496"/><circle cx="600.31" cy="561.32" r="0.7" fill="#6b42a0"/><circle cx="661.9" cy="593.73" r="0.75" fill="#4c2888"/><circle cx="629.1" cy="576.5" r="0.86" fill="#5c3496"/><circle cx="660.62" cy="567.56" r="0.79" fill="#4c2888"/><circle cx="670.28" cy="556.69" r="0.56" fill="#4c2888"/><circle cx="650.14" cy="510.68" r="0.77" fill="#5c3496"/><circle cx="631.52" cy="514.98" r="0.72" fill="#4c2888"/><circle cx="677.63" cy="524.94" r="0.9" fill="#5c3496"/><circle cx="669.7" cy="567.03" r="0.82" fill="#7a52a8"/><circle cx="677.91" cy="528.13" r="0.74" fill="#7a52a8"/><circle cx="620.02" cy="544.62" r="0.54" fill="#6b42a0"/><circle cx="677.15" cy="524.3" r="0.79" fill="#6b42a0"/><circle cx="605.07" cy="566.79" r="0.79" fill="#7a52a8"/><circle cx="613.79" cy="579.16" r="0.78" fill="#7a52a8"/><circle cx="629.99" cy="570.63" r="0.69" fill="#5c3496"/><circle cx="665.62" cy="506.43" r="0.65" fill="#6b42a0"/><circle cx="655.28" cy="561.12" r="0.55" fill="#6b42a0"/><circle cx="613.65" cy="535.93" r="0.9" fill="#4c2888"/><circle cx="640.76" cy="542.8" r="0.8" fill="#4c2888"/><circle cx="634.54" cy="519.92" r="0.52" fill="#7a52a8"/><circle cx="675.88" cy="597.91" r="0.54" fill="#7a52a8"/><circle cx="666.11" cy="526.57" r="0.59" fill="#4c2888"/><circle cx="650.13" cy="588.03" r="0.78" fill="#6b42a0"/><circle cx="632.28" cy="573.33" r="0.89" fill="#6b42a0"/><circle cx="623.87" cy="581.08" r="0.69" fill="#4c2888"/><circle cx="660.02" cy="534.3" r="0.78" fill="#6b42a0"/><circle cx="600.38" cy="582.06" r="0.5" fill="#7a52a8"/><circle cx="628.67" cy="552.59" r="0.66" fill="#4c2888"/><circle cx="622.3" cy="542.69" r="0.65" fill="#5c3496"/><circle cx="605.81" cy="511.81" r="0.65" fill="#6b42a0"/><circle cx="620.84" cy="555.74" r="0.55" fill="#4c2888"/><circle cx="673.88" cy="536.35" r="0.85" fill="#5c3496"/><circle cx="677.76" cy="562.09" r="0.68" fill="#4c2888"/><circle cx="660.82" cy="512.26" r="0.61" fill="#4c2888"/><circle cx="618.7" cy="571.06" r="0.86" fill="#7a52a8"/><circle cx="631.69" cy="542.27" r="0.84" fill="#5c3496"/><circle cx="661.51" cy="528.05" r="0.73" fill="#7a52a8"/><circle cx="617.04" cy="529.45" r="0.5" fill="#6b42a0"/><circle cx="650.76" cy="595.5" r="0.75" fill="#5c3496"/><circle cx="636.69" cy="565.54" r="0.83" fill="#7a52a8"/><circle cx="645.04" cy="528.55" r="0.84" fill="#7a52a8"/><circle cx="644.6" cy="507.69" r="0.74" fill="#6b42a0"/><circle cx="598.07" cy="534.64" r="0.66" fill="#6b42a0"/><circle cx="628.25" cy="522.96" r="0.75" fill="#7a52a8"/><circle cx="662.82" cy="516.07" r="0.61" fill="#7a52a8"/><circle cx="647.27" cy="587.24" r="0.75" fill="#5c3496"/><circle cx="650.09" cy="573.58" r="0.77" fill="#7a52a8"/><circle cx="664.27" cy="525.74" r="0.57" fill="#4c2888"/><circle cx="656.79" cy="599.66" r="0.61" fill="#5c3496"/><circle cx="615.54" cy="526.38" r="0.82" fill="#6b42a0"/><circle cx="676.14" cy="536.02" r="0.78" fill="#5c3496"/><circle cx="610.35" cy="597.56" r="0.86" fill="#4c2888"/><circle cx="614.43" cy="562.72" r="0.52" fill="#7a52a8"/><circle cx="673.64" cy="540.78" r="0.86" fill="#6b42a0"/><circle cx="634.74" cy="557.4" r="0.64" fill="#5c3496"/><circle cx="663.71" cy="507.05" r="0.65" fill="#6b42a0"/><circle cx="644.2" cy="539.22" r="0.57" fill="#5c3496"/><circle cx="668.61" cy="587.05" r="0.67" fill="#5c3496"/><circle cx="604.23" cy="551.63" r="0.85" fill="#7a52a8"/><circle cx="618.33" cy="567.38" r="0.83" fill="#5c3496"/><circle cx="600.99" cy="599.62" r="0.87" fill="#4c2888"/><circle cx="633.58" cy="576.56" r="0.89" fill="#4c2888"/><circle cx="617.15" cy="580.29" r="0.79" fill="#4c2888"/><circle cx="605.42" cy="572.67" r="0.55" fill="#4c2888"/><circle cx="598.4" cy="525.62" r="0.74" fill="#7a52a8"/><circle cx="615.72" cy="557.84" r="0.7" fill="#6b42a0"/><circle cx="636.05" cy="520.65" r="0.81" fill="#7a52a8"/><circle cx="644.1" cy="534.6" r="0.64" fill="#4c2888"/><circle cx="598.36" cy="595.67" r="0.77" fill="#7a52a8"/><circle cx="655.63" cy="562.83" r="0.67" fill="#5c3496"/><circle cx="644.21" cy="580.76" r="0.61" fill="#6b42a0"/><circle cx="604.77" cy="564.8" r="0.51" fill="#6b42a0"/><circle cx="673.64" cy="529" r="0.58" fill="#7a52a8"/><circle cx="616.49" cy="595.33" r="0.67" fill="#6b42a0"/><circle cx="660.84" cy="538.51" r="0.57" fill="#4c2888"/><circle cx="621.34" cy="589.77" r="0.75" fill="#5c3496"/><circle cx="664.5" cy="515.45" r="0.6" fill="#4c2888"/><circle cx="636.94" cy="564.61" r="0.71" fill="#5c3496"/><circle cx="677.58" cy="508" r="0.79" fill="#5c3496"/><circle cx="627.39" cy="577.78" r="0.75" fill="#7a52a8"/><circle cx="663.92" cy="543.97" r="0.89" fill="#6b42a0"/><circle cx="622.48" cy="522.68" r="0.63" fill="#7a52a8"/><circle cx="654.6" cy="570.52" r="0.85" fill="#7a52a8"/><circle cx="604.47" cy="511.72" r="0.68" fill="#7a52a8"/><circle cx="674.28" cy="527.5" r="0.81" fill="#7a52a8"/><circle cx="676.1" cy="585.15" r="0.84" fill="#5c3496"/><circle cx="618.53" cy="532.96" r="0.86" fill="#6b42a0"/><circle cx="608.31" cy="554.84" r="0.78" fill="#5c3496"/><circle cx="638.53" cy="572.19" r="0.84" fill="#4c2888"/><circle cx="616.85" cy="562.65" r="0.68" fill="#6b42a0"/><circle cx="670.51" cy="591.06" r="0.73" fill="#7a52a8"/><circle cx="613.9" cy="580.96" r="0.61" fill="#5c3496"/><circle cx="642.19" cy="558.35" r="0.71" fill="#6b42a0"/><circle cx="621.7" cy="592.78" r="0.69" fill="#7a52a8"/><circle cx="614.41" cy="560.72" r="0.51" fill="#7a52a8"/><circle cx="620.64" cy="521.45" r="0.86" fill="#7a52a8"/><circle cx="638.31" cy="510.46" r="0.74" fill="#6b42a0"/><circle cx="599.25" cy="591.25" r="0.67" fill="#7a52a8"/><circle cx="663.05" cy="560.4" r="0.58" fill="#6b42a0"/><circle cx="605.64" cy="533.41" r="0.58" fill="#7a52a8"/><circle cx="660.69" cy="599.55" r="0.69" fill="#6b42a0"/><circle cx="628.6" cy="557.94" r="0.56" fill="#5c3496"/><circle cx="621.15" cy="569.67" r="0.77" fill="#4c2888"/><circle cx="614.3" cy="525.1" r="0.77" fill="#6b42a0"/><circle cx="604.95" cy="574.97" r="0.7" fill="#7a52a8"/><circle cx="645.8" cy="575.16" r="0.78" fill="#6b42a0"/><circle cx="611.75" cy="556.75" r="0.65" fill="#7a52a8"/><circle cx="606.11" cy="577.62" r="0.87" fill="#4c2888"/><circle cx="598.88" cy="581.95" r="0.58" fill="#4c2888"/><circle cx="670.97" cy="527.5" r="0.56" fill="#6b42a0"/><circle cx="632.29" cy="581.14" r="0.56" fill="#7a52a8"/><circle cx="656.48" cy="561.77" r="0.6" fill="#4c2888"/><circle cx="667.65" cy="565.76" r="0.87" fill="#6b42a0"/><circle cx="612.96" cy="585.66" r="0.62" fill="#7a52a8"/><circle cx="675.07" cy="511.49" r="0.54" fill="#7a52a8"/><circle cx="658.35" cy="556.53" r="0.52" fill="#7a52a8"/><circle cx="660.61" cy="509.44" r="0.75" fill="#7a52a8"/><circle cx="619.06" cy="565.66" r="0.67" fill="#4c2888"/><circle cx="609.84" cy="579.82" r="0.63" fill="#6b42a0"/><circle cx="609.51" cy="572.64" r="0.85" fill="#5c3496"/><circle cx="631.54" cy="552.56" r="0.71" fill="#6b42a0"/><circle cx="621.86" cy="557.19" r="0.64" fill="#7a52a8"/><circle cx="650.91" cy="543.55" r="0.62" fill="#7a52a8"/><circle cx="599.58" cy="520.49" r="0.55" fill="#5c3496"/><circle cx="610.65" cy="593.2" r="0.55" fill="#5c3496"/><circle cx="630.36" cy="551.44" r="0.69" fill="#4c2888"/><circle cx="646.54" cy="552.64" r="0.52" fill="#5c3496"/><circle cx="671.62" cy="589.52" r="0.75" fill="#5c3496"/><circle cx="612.12" cy="546.41" r="0.76" fill="#4c2888"/><circle cx="620.15" cy="574.21" r="0.72" fill="#5c3496"/><circle cx="661.31" cy="555.05" r="0.89" fill="#6b42a0"/><circle cx="660.56" cy="519.04" r="0.83" fill="#4c2888"/><circle cx="629.52" cy="573.25" r="0.66" fill="#4c2888"/><circle cx="615.21" cy="546.43" r="0.67" fill="#6b42a0"/><circle cx="662.95" cy="529.42" r="0.88" fill="#7a52a8"/><circle cx="651.55" cy="575.99" r="0.54" fill="#5c3496"/><circle cx="629.44" cy="569.38" r="0.85" fill="#6b42a0"/><circle cx="663.45" cy="528.67" r="0.65" fill="#4c2888"/><circle cx="632.83" cy="576.94" r="0.68" fill="#4c2888"/><circle cx="630.57" cy="573.61" r="0.6" fill="#7a52a8"/><circle cx="639.03" cy="577.28" r="0.64" fill="#5c3496"/><circle cx="618.27" cy="550.94" r="0.71" fill="#4c2888"/><circle cx="674.2" cy="529.09" r="0.75" fill="#5c3496"/><circle cx="660.47" cy="509.67" r="0.7" fill="#6b42a0"/><circle cx="606.6" cy="506.43" r="0.85" fill="#4c2888"/><circle cx="616.52" cy="520.77" r="0.53" fill="#7a52a8"/><circle cx="617" cy="554.43" r="0.72" fill="#6b42a0"/><circle cx="657.33" cy="587.43" r="0.65" fill="#7a52a8"/><circle cx="662.65" cy="582.46" r="0.5" fill="#6b42a0"/><circle cx="608.2" cy="546.93" r="0.82" fill="#5c3496"/><circle cx="631.54" cy="510.78" r="0.6" fill="#4c2888"/><circle cx="650.72" cy="509.8" r="0.56" fill="#7a52a8"/><circle cx="606.45" cy="536.57" r="0.52" fill="#4c2888"/><circle cx="610.82" cy="529.41" r="0.73" fill="#4c2888"/><circle cx="665.26" cy="558.98" r="0.59" fill="#7a52a8"/><circle cx="609.33" cy="589.34" r="0.82" fill="#4c2888"/><circle cx="561.72" cy="556.36" r="1.03" fill="#f6e4f2"/><circle cx="657.6" cy="509.69" r="1.11" fill="#f6e4f2"/><circle cx="628.89" cy="565.57" r="1.25" fill="#f6e4f2"/><circle cx="584.8" cy="563.25" r="0.98" fill="#f6e4f2"/><circle cx="603" cy="598.65" r="1.07" fill="#f6e4f2"/><circle cx="628.79" cy="590.52" r="0.6" fill="#f6e4f2"/><circle cx="632.9" cy="511.13" r="1.18" fill="#f6e4f2"/><circle cx="635.61" cy="537.15" r="0.86" fill="#f6e4f2"/><circle cx="628.09" cy="589.85" r="0.63" fill="#f6e4f2"/><circle cx="626.1" cy="516.75" r="0.97" fill="#f6e4f2"/><circle cx="551.24" cy="516.1" r="0.93" fill="#f6e4f2"/><circle cx="573.26" cy="550.88" r="1.3" fill="#f6e4f2"/><circle cx="612.91" cy="530.88" r="0.96" fill="#f6e4f2"/><circle cx="606.3" cy="598.7" r="0.83" fill="#f6e4f2"/><circle cx="611.24" cy="553.47" r="1.16" fill="#f6e4f2"/><circle cx="541.31" cy="510.05" r="0.88" fill="#f6e4f2"/><circle cx="637.06" cy="561.5" r="0.7" fill="#f6e4f2"/><circle cx="599.01" cy="587.05" r="0.82" fill="#f6e4f2"/><circle cx="518.9" cy="515.85" r="0.83" fill="#f6e4f2"/><circle cx="590.96" cy="533.09" r="1.02" fill="#f6e4f2"/><circle cx="554.72" cy="580.39" r="1.23" fill="#f6e4f2"/><circle cx="663.22" cy="546.09" r="0.79" fill="#f6e4f2"/><circle cx="554.69" cy="565.56" r="0.78" fill="#f6e4f2"/><circle cx="536.01" cy="516.61" r="1.08" fill="#f6e4f2"/><circle cx="567.76" cy="547.11" r="0.72" fill="#f6e4f2"/><circle cx="519.63" cy="598.29" r="0.99" fill="#f6e4f2"/><circle cx="659.53" cy="537.61" r="1.26" fill="#f6e4f2"/><circle cx="559.1" cy="516.1" r="1.02" fill="#f6e4f2"/><circle cx="647.54" cy="597.28" r="1.26" fill="#f6e4f2"/><circle cx="508.51" cy="563.85" r="1.08" fill="#f6e4f2"/><circle cx="596.21" cy="533.91" r="0.8" fill="#f6e4f2"/><circle cx="548.67" cy="514.45" r="1.12" fill="#f6e4f2"/><circle cx="621.27" cy="533.29" r="0.96" fill="#f6e4f2"/><circle cx="555.52" cy="507.88" r="1.19" fill="#f6e4f2"/><circle cx="527.71" cy="518.46" r="1.17" fill="#f6e4f2"/><circle cx="642.27" cy="531.8" r="1.19" fill="#f6e4f2"/><circle cx="563.77" cy="534.78" r="0.64" fill="#f6e4f2"/><circle cx="531.31" cy="560.88" r="1.12" fill="#f6e4f2"/><circle cx="517.82" cy="562.95" r="1.09" fill="#f6e4f2"/><circle cx="619.87" cy="581.8" r="1.24" fill="#f6e4f2"/><circle cx="560.59" cy="587" r="0.89" fill="#f6e4f2"/><circle cx="625.27" cy="537.39" r="1.06" fill="#f6e4f2"/><circle cx="557.42" cy="596.9" r="0.78" fill="#f6e4f2"/><circle cx="599.62" cy="589.91" r="0.91" fill="#f6e4f2"/><circle cx="543.13" cy="548.57" r="1" fill="#f6e4f2"/><circle cx="527.82" cy="521.87" r="0.85" fill="#f6e4f2"/><circle cx="614.94" cy="523.2" r="0.66" fill="#f6e4f2"/><circle cx="642.63" cy="546.53" r="0.93" fill="#f6e4f2"/><circle cx="594.6" cy="570.73" r="0.95" fill="#f6e4f2"/><circle cx="665.43" cy="595.23" r="0.97" fill="#f6e4f2"/><circle cx="624.12" cy="560.7" r="1.26" fill="#f6e4f2"/><circle cx="501.34" cy="570.7" r="1.06" fill="#f6e4f2"/><circle cx="592.8" cy="570.23" r="0.65" fill="#f6e4f2"/><circle cx="591.85" cy="541.78" r="0.84" fill="#f6e4f2"/><circle cx="626.48" cy="565.52" r="1.16" fill="#f6e4f2"/><circle cx="593.84" cy="589.89" r="1.29" fill="#f6e4f2"/><circle cx="586.17" cy="573.62" r="0.83" fill="#f6e4f2"/><circle cx="566.25" cy="581.02" r="0.93" fill="#f6e4f2"/><circle cx="666.58" cy="544.82" r="0.83" fill="#f6e4f2"/><circle cx="577.54" cy="544.64" r="0.66" fill="#f6e4f2"/><circle cx="602.2" cy="578.24" r="1.16" fill="#f6e4f2"/><circle cx="675.82" cy="552.76" r="1.2" fill="#f6e4f2"/><circle cx="661.7" cy="566.66" r="0.9" fill="#f6e4f2"/><circle cx="633.98" cy="520.97" r="1.1" fill="#f6e4f2"/><circle cx="577.23" cy="511.08" r="0.68" fill="#f6e4f2"/><circle cx="603.97" cy="542.87" r="0.7" fill="#f6e4f2"/><circle cx="602.93" cy="590.35" r="0.75" fill="#f6e4f2"/><circle cx="527.32" cy="523.92" r="0.71" fill="#f6e4f2"/><circle cx="509.01" cy="558.72" r="0.97" fill="#f6e4f2"/><circle cx="610.11" cy="554.97" r="0.82" fill="#f6e4f2"/><circle cx="527.54" cy="587.71" r="0.76" fill="#f6e4f2"/><circle cx="514.15" cy="548.75" r="0.94" fill="#f6e4f2"/><circle cx="549.04" cy="598.78" r="1.3" fill="#f6e4f2"/><circle cx="559.88" cy="587.12" r="0.92" fill="#f6e4f2"/><circle cx="611.15" cy="525.8" r="0.9" fill="#f6e4f2"/><circle cx="585.92" cy="580.27" r="0.98" fill="#f6e4f2"/><circle cx="556.79" cy="568.36" r="0.63" fill="#f6e4f2"/><circle cx="657.88" cy="562.32" r="1.24" fill="#f6e4f2"/><circle cx="553.92" cy="565.27" r="0.82" fill="#f6e4f2"/><circle cx="624.52" cy="596.9" r="0.86" fill="#f6e4f2"/><circle cx="633.98" cy="599.86" r="0.61" fill="#f6e4f2"/><circle cx="506.11" cy="591.21" r="1.03" fill="#f6e4f2"/><circle cx="669.94" cy="546.3" r="1.2" fill="#f6e4f2"/><circle cx="584.33" cy="541" r="1.11" fill="#f6e4f2"/><circle cx="577.45" cy="534.58" r="0.99" fill="#f6e4f2"/><circle cx="604.44" cy="507.09" r="1.1" fill="#f6e4f2"/><circle cx="552.34" cy="585.16" r="1.25" fill="#f6e4f2"/><circle cx="520.5" cy="520.66" r="0.91" fill="#f6e4f2"/><circle cx="628.71" cy="524.23" r="0.85" fill="#f6e4f2"/><circle cx="505.1" cy="579.25" r="0.65" fill="#f6e4f2"/><circle cx="649.43" cy="596.6" r="0.8" fill="#f6e4f2"/><circle cx="587.88" cy="586.7" r="0.65" fill="#f6e4f2"/><circle cx="547.74" cy="585.43" r="1.04" fill="#f6e4f2"/><circle cx="575.37" cy="576.97" r="1.26" fill="#f6e4f2"/><circle cx="641.92" cy="511.47" r="0.64" fill="#f6e4f2"/><circle cx="645.66" cy="534.96" r="0.74" fill="#f6e4f2"/><circle cx="580.29" cy="563.61" r="1.26" fill="#f6e4f2"/><circle cx="572.18" cy="554.03" r="1.03" fill="#f6e4f2"/><circle cx="658.51" cy="509.68" r="0.79" fill="#f6e4f2"/><circle cx="528.65" cy="578.89" r="1.11" fill="#f6e4f2"/><circle cx="503.08" cy="519.91" r="0.9" fill="#f6e4f2"/><circle cx="572.6" cy="553.91" r="0.95" fill="#f6e4f2"/><circle cx="590.7" cy="565.7" r="0.71" fill="#f6e4f2"/><circle cx="585.33" cy="545.39" r="0.78" fill="#f6e4f2"/><circle cx="519.22" cy="575.76" r="0.84" fill="#f6e4f2"/><circle cx="543.32" cy="506.05" r="0.71" fill="#f6e4f2"/><circle cx="578.74" cy="553.34" r="1.07" fill="#f6e4f2"/><circle cx="505.15" cy="538.49" r="0.81" fill="#f6e4f2"/><circle cx="623.59" cy="516.83" r="1.29" fill="#f6e4f2"/><circle cx="660.65" cy="586.52" r="0.77" fill="#f6e4f2"/></g>
<ellipse cx="551" cy="547" rx="9" ry="12" fill="#f4dcef" opacity="0.3" filter="url(#bl2)"/>
<rect x="500.6" y="507" width="176.2" height="91.5" fill="#fff" filter="url(#tx2)" opacity="0.6"/>
</g>
<rect x="517.5" y="435.6" width="45" height="22.8" fill="none" stroke="#1a1a1a" stroke-width="0.9"/>
<line x1="517.5" y1="458.4" x2="500.6" y2="505.8" stroke="#1a1a1a" stroke-width="0.9"/>
<line x1="562.5" y1="458.4" x2="676.8" y2="506.4" stroke="#1a1a1a" stroke-width="0.9"/>
<path d="M544.4 413.2 L543.6 438 Q541 458 533 472 Q529.6 480 529.7 492 L529.8 506" fill="none" stroke="#1a1a1a" stroke-width="1" stroke-dasharray="4 2.6"/>
<path d="M604.5 507 Q601.5 530 598 554 Q594 574 580 599" fill="none" stroke="#1a1a1a" stroke-width="0.9" stroke-dasharray="4 2.6"/>
<text x="507" y="422.8">Viable</text>
<text x="505.9" y="432.8">Tumors</text>
<text x="589.3" y="453.5">Ablation Zone</text>
<line x1="663.2" y1="497.1" x2="672.4" y2="497.1" stroke="#1a1a1a" stroke-width="1.2"/>
<line x1="635.9" y1="589.3" x2="672.5" y2="589.3" stroke="#1a1a1a" stroke-width="1.3"/>
<path d="M536.6 547.2 L542.7 531.9 L548.3 536.1 Z" fill="#000"/>
<path d="M549.1 572.7 L553.8 556.9 L560.2 561 Z" fill="#000"/>
<text x="5.7" y="614.4" font-size="14" font-weight="bold" stroke="#000" stroke-width="0.9" fill="#000">k</text>
<circle cx="35.7" cy="618" r="3.2" fill="none" stroke="#a8712c" stroke-width="1.3"/>
<text x="45.8" y="620.6">Sham Control</text>
<circle cx="155.2" cy="618.7" r="3.5" fill="#a8712c"/>
<text x="163.4" y="621.2">Day 1 after PEF Ablation</text>
<text x="140.8" y="743.6" text-anchor="middle">Viable Regions of KPC-A719 Tumors</text>
<defs>
<filter id="kt" x="0" y="0" width="100%" height="100%"><feTurbulence type="fractalNoise" baseFrequency="0.06 0.12" numOctaves="3" seed="12"/>
<feColorMatrix values="0 0 0 0 0.86  0 0 0 0 0.9  0 0 0 0 0.95  0 2.2 0 0 -1.0"/></filter>
<filter id="kt2" x="0" y="0" width="100%" height="100%"><feTurbulence type="fractalNoise" baseFrequency="0.08" numOctaves="2" seed="5"/>
<feColorMatrix values="0 0 0 0 0.78  0 0 0 0 0.74  0 0 0 0 0.70  2.4 0 0 0 -0.95"/></filter>
<clipPath id="ck1"><rect x="0" y="624.8" width="137.7" height="110.2"/></clipPath>
<clipPath id="ck2"><rect x="139.3" y="624.8" width="139" height="110.2"/></clipPath>
</defs>
<defs><filter id="bl05k" x="-50%" y="-50%" width="200%" height="200%"><feGaussianBlur stdDeviation="0.7"/></filter></defs>
<g clip-path="url(#ck1)">
<rect x="0" y="624.8" width="137.7" height="110.2" fill="#bccde0"/>
<rect x="0" y="624.8" width="137.7" height="110.2" fill="#fff" filter="url(#kt2)"/>
<rect x="0" y="624.8" width="137.7" height="110.2" fill="#fff" filter="url(#kt)"/>
<g filter="url(#bl05k)" opacity="0.8"><ellipse cx="-2.04" cy="620.53" rx="2.19" ry="1.95" fill="#5d6e9c" transform="rotate(106 -2.04 620.53)"/><ellipse cx="7.13" cy="622.84" rx="2.44" ry="2.18" fill="#5d6e9c" transform="rotate(133 7.13 622.84)"/><ellipse cx="13.27" cy="623.02" rx="1.86" ry="1.31" fill="#5d6e9c" transform="rotate(137 13.27 623.02)"/><ellipse cx="22.06" cy="622.71" rx="1.77" ry="1.37" fill="#78748a" transform="rotate(77 22.06 622.71)"/><ellipse cx="28.07" cy="620.48" rx="2.34" ry="1.42" fill="#7e7888" transform="rotate(176 28.07 620.48)"/><ellipse cx="35.58" cy="620.54" rx="2.01" ry="1.42" fill="#34509e" transform="rotate(48 35.58 620.54)"/><ellipse cx="42.31" cy="620.06" rx="2.52" ry="1.83" fill="#6a789c" transform="rotate(53 42.31 620.06)"/><ellipse cx="47.14" cy="623.61" rx="1.84" ry="1.32" fill="#3c58a4" transform="rotate(141 47.14 623.61)"/><ellipse cx="55.46" cy="623" rx="1.86" ry="1.29" fill="#6a789c" transform="rotate(133 55.46 623)"/><ellipse cx="62.37" cy="622.75" rx="2.44" ry="2.04" fill="#56689a" transform="rotate(143 62.37 622.75)"/><ellipse cx="76.05" cy="621.2" rx="2.57" ry="1.72" fill="#2a4698" transform="rotate(98 76.05 621.2)"/><ellipse cx="94.25" cy="621.13" rx="1.84" ry="1.45" fill="#2a4698" transform="rotate(163 94.25 621.13)"/><ellipse cx="99.72" cy="621.59" rx="1.83" ry="1.19" fill="#7e7888" transform="rotate(84 99.72 621.59)"/><ellipse cx="106.15" cy="621.54" rx="1.74" ry="1.18" fill="#7e7888" transform="rotate(58 106.15 621.54)"/><ellipse cx="110.61" cy="621.82" rx="1.91" ry="1.39" fill="#6a789c" transform="rotate(171 110.61 621.82)"/><ellipse cx="119.2" cy="623.08" rx="2.21" ry="1.66" fill="#66769e" transform="rotate(110 119.2 623.08)"/><ellipse cx="128.18" cy="622.68" rx="2.3" ry="1.88" fill="#7e7888" transform="rotate(87 128.18 622.68)"/><ellipse cx="140.75" cy="623.65" rx="2.56" ry="1.55" fill="#7e7888" transform="rotate(177 140.75 623.65)"/><ellipse cx="-1.66" cy="629.46" rx="2.16" ry="1.8" fill="#56689a" transform="rotate(56 -1.66 629.46)"/><ellipse cx="8.26" cy="628.23" rx="1.74" ry="1.38" fill="#6a789c" transform="rotate(71 8.26 628.23)"/><ellipse cx="15.45" cy="629.78" rx="2.2" ry="1.63" fill="#6a789c" transform="rotate(94 15.45 629.78)"/><ellipse cx="20.07" cy="628.78" rx="2.16" ry="1.41" fill="#5d6e9c" transform="rotate(45 20.07 628.78)"/><ellipse cx="27.18" cy="627.53" rx="1.91" ry="1.18" fill="#3c58a4" transform="rotate(80 27.18 627.53)"/><ellipse cx="34.33" cy="626.48" rx="1.64" ry="1.04" fill="#86808c" transform="rotate(79 34.33 626.48)"/><ellipse cx="41.57" cy="629.5" rx="2.09" ry="1.75" fill="#56689a" transform="rotate(84 41.57 629.5)"/><ellipse cx="57.83" cy="628.77" rx="2.18" ry="1.72" fill="#56689a" transform="rotate(36 57.83 628.77)"/><ellipse cx="61.64" cy="625.69" rx="2.07" ry="1.33" fill="#8a8490" transform="rotate(122 61.64 625.69)"/><ellipse cx="70.17" cy="625.84" rx="1.97" ry="1.73" fill="#8a8490" transform="rotate(82 70.17 625.84)"/><ellipse cx="76.16" cy="626.24" rx="2.28" ry="1.82" fill="#3c58a4" transform="rotate(163 76.16 626.24)"/><ellipse cx="81.26" cy="628.53" rx="2.35" ry="1.62" fill="#5d6e9c" transform="rotate(116 81.26 628.53)"/><ellipse cx="90.86" cy="628.19" rx="1.69" ry="1.19" fill="#34509e" transform="rotate(102 90.86 628.19)"/><ellipse cx="96.19" cy="627.74" rx="2.29" ry="1.84" fill="#3c58a4" transform="rotate(78 96.19 627.74)"/><ellipse cx="105.44" cy="629.17" rx="2.3" ry="1.62" fill="#56689a" transform="rotate(24 105.44 629.17)"/><ellipse cx="110.15" cy="629.7" rx="2.24" ry="1.36" fill="#78748a" transform="rotate(97 110.15 629.7)"/><ellipse cx="116.96" cy="628.41" rx="1.65" ry="1.29" fill="#2a4698" transform="rotate(46 116.96 628.41)"/><ellipse cx="124.23" cy="629" rx="2.16" ry="1.94" fill="#34509e" transform="rotate(30 124.23 629)"/><ellipse cx="129.4" cy="628.17" rx="2.15" ry="1.38" fill="#5d6e9c" transform="rotate(54 129.4 628.17)"/><ellipse cx="136.79" cy="629.61" rx="2.07" ry="1.28" fill="#66769e" transform="rotate(90 136.79 629.61)"/><ellipse cx="7.57" cy="632.81" rx="1.61" ry="1.02" fill="#78748a" transform="rotate(44 7.57 632.81)"/><ellipse cx="12.14" cy="635.09" rx="1.72" ry="1.47" fill="#5d6e9c" transform="rotate(126 12.14 635.09)"/><ellipse cx="19.1" cy="633.78" rx="2.39" ry="1.65" fill="#2a4698" transform="rotate(27 19.1 633.78)"/><ellipse cx="26.15" cy="632.39" rx="2.09" ry="1.67" fill="#2a4698" transform="rotate(61 26.15 632.39)"/><ellipse cx="32.29" cy="633.76" rx="2.29" ry="1.97" fill="#34509e" transform="rotate(129 32.29 633.76)"/><ellipse cx="43.3" cy="631.82" rx="2.39" ry="1.69" fill="#66769e" transform="rotate(77 43.3 631.82)"/><ellipse cx="50.3" cy="634.7" rx="1.7" ry="1.3" fill="#78748a" transform="rotate(172 50.3 634.7)"/><ellipse cx="56.54" cy="632.44" rx="2.09" ry="1.34" fill="#56689a" transform="rotate(89 56.54 632.44)"/><ellipse cx="62.06" cy="633.2" rx="1.79" ry="1.53" fill="#86808c" transform="rotate(3 62.06 633.2)"/><ellipse cx="70.77" cy="632.56" rx="1.84" ry="1.4" fill="#8a8490" transform="rotate(121 70.77 632.56)"/><ellipse cx="76.79" cy="632.24" rx="2.5" ry="1.63" fill="#5d6e9c" transform="rotate(155 76.79 632.24)"/><ellipse cx="84.04" cy="631.7" rx="2.34" ry="1.41" fill="#66769e" transform="rotate(105 84.04 631.7)"/><ellipse cx="90.38" cy="631.69" rx="1.75" ry="1.45" fill="#2a4698" transform="rotate(21 90.38 631.69)"/><ellipse cx="99.77" cy="633.28" rx="1.61" ry="1.45" fill="#3c58a4" transform="rotate(41 99.77 633.28)"/><ellipse cx="105.22" cy="634.16" rx="1.82" ry="1.31" fill="#3c58a4" transform="rotate(100 105.22 634.16)"/><ellipse cx="112.3" cy="634.08" rx="1.94" ry="1.22" fill="#56689a" transform="rotate(108 112.3 634.08)"/><ellipse cx="118.28" cy="632.38" rx="2.05" ry="1.73" fill="#8a8490" transform="rotate(54 118.28 632.38)"/><ellipse cx="127.63" cy="635.12" rx="1.79" ry="1.35" fill="#3c58a4" transform="rotate(88 127.63 635.12)"/><ellipse cx="133.78" cy="634.72" rx="1.81" ry="1.62" fill="#66769e" transform="rotate(142 133.78 634.72)"/><ellipse cx="-0.32" cy="642.13" rx="2.5" ry="1.62" fill="#2a4698" transform="rotate(48 -0.32 642.13)"/><ellipse cx="6.52" cy="639.37" rx="2.35" ry="1.44" fill="#56689a" transform="rotate(137 6.52 639.37)"/><ellipse cx="11.01" cy="639.36" rx="1.87" ry="1.27" fill="#7e7888" transform="rotate(144 11.01 639.36)"/><ellipse cx="21.07" cy="638.49" rx="2.1" ry="1.35" fill="#8a8490" transform="rotate(141 21.07 638.49)"/><ellipse cx="23.95" cy="641.44" rx="2.38" ry="1.52" fill="#56689a" transform="rotate(147 23.95 641.44)"/><ellipse cx="34.1" cy="639.11" rx="2.37" ry="1.69" fill="#56689a" transform="rotate(53 34.1 639.11)"/><ellipse cx="38.49" cy="641.7" rx="1.75" ry="1.07" fill="#8a8490" transform="rotate(97 38.49 641.7)"/><ellipse cx="49.25" cy="640.77" rx="2.56" ry="1.9" fill="#7e7888" transform="rotate(77 49.25 640.77)"/><ellipse cx="57.02" cy="641.97" rx="2.04" ry="1.65" fill="#5d6e9c" transform="rotate(63 57.02 641.97)"/><ellipse cx="63.23" cy="641.16" rx="1.75" ry="1.46" fill="#34509e" transform="rotate(88 63.23 641.16)"/><ellipse cx="66.85" cy="641.69" rx="2.38" ry="1.68" fill="#66769e" transform="rotate(63 66.85 641.69)"/><ellipse cx="75.3" cy="641.63" rx="1.81" ry="1.58" fill="#3c58a4" transform="rotate(68 75.3 641.63)"/><ellipse cx="80.94" cy="640.75" rx="2.35" ry="1.46" fill="#3c58a4" transform="rotate(139 80.94 640.75)"/><ellipse cx="87.99" cy="640.77" rx="1.96" ry="1.63" fill="#66769e" transform="rotate(101 87.99 640.77)"/><ellipse cx="95.5" cy="641.3" rx="2.15" ry="1.45" fill="#34509e" transform="rotate(157 95.5 641.3)"/><ellipse cx="104.07" cy="638.58" rx="1.95" ry="1.49" fill="#86808c" transform="rotate(152 104.07 638.58)"/><ellipse cx="110.21" cy="638.83" rx="2.34" ry="1.58" fill="#2a4698" transform="rotate(100 110.21 638.83)"/><ellipse cx="117.7" cy="638.13" rx="2.15" ry="1.87" fill="#2a4698" transform="rotate(171 117.7 638.13)"/><ellipse cx="128.41" cy="639.07" rx="1.91" ry="1.47" fill="#34509e" transform="rotate(145 128.41 639.07)"/><ellipse cx="133.16" cy="641.04" rx="2.56" ry="1.54" fill="#2a4698" transform="rotate(0 133.16 641.04)"/><ellipse cx="139.63" cy="638.76" rx="2.46" ry="1.88" fill="#34509e" transform="rotate(4 139.63 638.76)"/><ellipse cx="0.61" cy="646.79" rx="1.87" ry="1.49" fill="#2a4698" transform="rotate(66 0.61 646.79)"/><ellipse cx="5.59" cy="645.21" rx="2.3" ry="1.8" fill="#56689a" transform="rotate(87 5.59 645.21)"/><ellipse cx="12.13" cy="645.76" rx="2.07" ry="1.31" fill="#34509e" transform="rotate(30 12.13 645.76)"/><ellipse cx="35.17" cy="645.92" rx="1.66" ry="1.09" fill="#7e7888" transform="rotate(159 35.17 645.92)"/><ellipse cx="42.46" cy="647.85" rx="2.31" ry="1.74" fill="#34509e" transform="rotate(148 42.46 647.85)"/><ellipse cx="49.01" cy="647.48" rx="1.66" ry="1.46" fill="#34509e" transform="rotate(136 49.01 647.48)"/><ellipse cx="57.98" cy="647.3" rx="2.2" ry="1.41" fill="#5d6e9c" transform="rotate(106 57.98 647.3)"/><ellipse cx="63.9" cy="646.41" rx="1.96" ry="1.53" fill="#5d6e9c" transform="rotate(37 63.9 646.41)"/><ellipse cx="68.44" cy="645.1" rx="2.43" ry="2.06" fill="#56689a" transform="rotate(16 68.44 645.1)"/><ellipse cx="75.33" cy="646.63" rx="2.36" ry="2.1" fill="#7e7888" transform="rotate(51 75.33 646.63)"/><ellipse cx="82.82" cy="647.88" rx="2.14" ry="1.4" fill="#6a789c" transform="rotate(15 82.82 647.88)"/><ellipse cx="88.68" cy="645.6" rx="2.01" ry="1.6" fill="#86808c" transform="rotate(161 88.68 645.6)"/><ellipse cx="104.77" cy="646.2" rx="2.04" ry="1.74" fill="#5d6e9c" transform="rotate(31 104.77 646.2)"/><ellipse cx="110.76" cy="645.18" rx="1.88" ry="1.46" fill="#86808c" transform="rotate(73 110.76 645.18)"/><ellipse cx="118.4" cy="645.09" rx="2.22" ry="1.53" fill="#8a8490" transform="rotate(157 118.4 645.09)"/><ellipse cx="122.72" cy="644.3" rx="2.21" ry="1.59" fill="#56689a" transform="rotate(137 122.72 644.3)"/><ellipse cx="128.2" cy="647.56" rx="2.45" ry="1.8" fill="#5d6e9c" transform="rotate(56 128.2 647.56)"/><ellipse cx="137.18" cy="645.09" rx="1.79" ry="1.33" fill="#34509e" transform="rotate(166 137.18 645.09)"/><ellipse cx="-0.57" cy="654.96" rx="2.08" ry="1.53" fill="#3c58a4" transform="rotate(158 -0.57 654.96)"/><ellipse cx="6.48" cy="650.66" rx="2.24" ry="1.41" fill="#7e7888" transform="rotate(55 6.48 650.66)"/><ellipse cx="22.94" cy="653.48" rx="2.23" ry="1.77" fill="#66769e" transform="rotate(63 22.94 653.48)"/><ellipse cx="30.01" cy="652.23" rx="2.51" ry="2.07" fill="#86808c" transform="rotate(147 30.01 652.23)"/><ellipse cx="34.02" cy="651.95" rx="1.64" ry="1.11" fill="#34509e" transform="rotate(43 34.02 651.95)"/><ellipse cx="44.37" cy="651.45" rx="1.9" ry="1.17" fill="#86808c" transform="rotate(144 44.37 651.45)"/><ellipse cx="62.58" cy="652.74" rx="2.19" ry="1.9" fill="#2a4698" transform="rotate(107 62.58 652.74)"/><ellipse cx="69.37" cy="653.99" rx="1.94" ry="1.72" fill="#86808c" transform="rotate(102 69.37 653.99)"/><ellipse cx="74.36" cy="652.6" rx="1.92" ry="1.36" fill="#34509e" transform="rotate(113 74.36 652.6)"/><ellipse cx="82.55" cy="654.41" rx="2.16" ry="1.73" fill="#7e7888" transform="rotate(57 82.55 654.41)"/><ellipse cx="96.1" cy="651.12" rx="2.31" ry="1.76" fill="#78748a" transform="rotate(57 96.1 651.12)"/><ellipse cx="102.24" cy="651.68" rx="1.9" ry="1.45" fill="#34509e" transform="rotate(76 102.24 651.68)"/><ellipse cx="111.84" cy="652.9" rx="2.53" ry="2.05" fill="#6a789c" transform="rotate(24 111.84 652.9)"/><ellipse cx="125.13" cy="654.7" rx="1.7" ry="1.39" fill="#7e7888" transform="rotate(108 125.13 654.7)"/><ellipse cx="131.81" cy="651.64" rx="1.72" ry="1.29" fill="#8a8490" transform="rotate(151 131.81 651.64)"/><ellipse cx="-2.2" cy="658.65" rx="2.24" ry="1.62" fill="#8a8490" transform="rotate(125 -2.2 658.65)"/><ellipse cx="6.27" cy="661.8" rx="1.83" ry="1.31" fill="#3c58a4" transform="rotate(38 6.27 661.8)"/><ellipse cx="12.44" cy="661.49" rx="1.62" ry="0.98" fill="#5d6e9c" transform="rotate(118 12.44 661.49)"/><ellipse cx="17.57" cy="659.47" rx="2.3" ry="1.42" fill="#78748a" transform="rotate(117 17.57 659.47)"/><ellipse cx="24.67" cy="661.51" rx="2.15" ry="1.55" fill="#6a789c" transform="rotate(31 24.67 661.51)"/><ellipse cx="32.66" cy="660.34" rx="1.81" ry="1.61" fill="#78748a" transform="rotate(1 32.66 660.34)"/><ellipse cx="42.7" cy="659.63" rx="1.85" ry="1.13" fill="#2a4698" transform="rotate(152 42.7 659.63)"/><ellipse cx="51.49" cy="659.42" rx="2.46" ry="1.96" fill="#3c58a4" transform="rotate(1 51.49 659.42)"/><ellipse cx="60.07" cy="659.52" rx="2.29" ry="2.04" fill="#7e7888" transform="rotate(151 60.07 659.52)"/><ellipse cx="67.31" cy="658.61" rx="2.21" ry="1.79" fill="#5d6e9c" transform="rotate(112 67.31 658.61)"/><ellipse cx="74.13" cy="657.96" rx="2.06" ry="1.35" fill="#3c58a4" transform="rotate(41 74.13 657.96)"/><ellipse cx="77.28" cy="660.51" rx="2.33" ry="1.81" fill="#6a789c" transform="rotate(125 77.28 660.51)"/><ellipse cx="87.4" cy="660.29" rx="2.48" ry="1.5" fill="#3c58a4" transform="rotate(0 87.4 660.29)"/><ellipse cx="92.15" cy="659.6" rx="2.15" ry="1.93" fill="#5d6e9c" transform="rotate(72 92.15 659.6)"/><ellipse cx="98.26" cy="659.2" rx="2.5" ry="1.84" fill="#56689a" transform="rotate(108 98.26 659.2)"/><ellipse cx="103.87" cy="660.08" rx="2.24" ry="1.4" fill="#7e7888" transform="rotate(163 103.87 660.08)"/><ellipse cx="120.18" cy="659.58" rx="1.96" ry="1.46" fill="#56689a" transform="rotate(33 120.18 659.58)"/><ellipse cx="126.21" cy="660.75" rx="2.1" ry="1.87" fill="#3c58a4" transform="rotate(121 126.21 660.75)"/><ellipse cx="134.59" cy="659.73" rx="1.61" ry="1.44" fill="#6a789c" transform="rotate(145 134.59 659.73)"/><ellipse cx="139.29" cy="658.02" rx="1.89" ry="1.64" fill="#5d6e9c" transform="rotate(67 139.29 658.02)"/><ellipse cx="0.5" cy="666.36" rx="1.97" ry="1.62" fill="#66769e" transform="rotate(102 0.5 666.36)"/><ellipse cx="7.28" cy="667.5" rx="2.44" ry="1.92" fill="#66769e" transform="rotate(100 7.28 667.5)"/><ellipse cx="15.28" cy="664.04" rx="2.33" ry="1.86" fill="#2a4698" transform="rotate(111 15.28 664.04)"/><ellipse cx="20.09" cy="667.66" rx="2.17" ry="1.67" fill="#86808c" transform="rotate(145 20.09 667.66)"/><ellipse cx="25.44" cy="665.12" rx="1.67" ry="1.48" fill="#56689a" transform="rotate(173 25.44 665.12)"/><ellipse cx="41.8" cy="664.89" rx="1.66" ry="1.19" fill="#56689a" transform="rotate(130 41.8 664.89)"/><ellipse cx="46" cy="667.49" rx="2.34" ry="2.04" fill="#5d6e9c" transform="rotate(56 46 667.49)"/><ellipse cx="53.29" cy="665.31" rx="1.77" ry="1.5" fill="#6a789c" transform="rotate(159 53.29 665.31)"/><ellipse cx="58.41" cy="665.44" rx="2.03" ry="1.25" fill="#66769e" transform="rotate(134 58.41 665.44)"/><ellipse cx="69.71" cy="665.64" rx="1.75" ry="1.21" fill="#34509e" transform="rotate(79 69.71 665.64)"/><ellipse cx="73.08" cy="663.44" rx="2.58" ry="1.58" fill="#3c58a4" transform="rotate(16 73.08 663.44)"/><ellipse cx="82.66" cy="664.51" rx="2.55" ry="2.1" fill="#2a4698" transform="rotate(67 82.66 664.51)"/><ellipse cx="89.98" cy="666.16" rx="1.94" ry="1.4" fill="#86808c" transform="rotate(122 89.98 666.16)"/><ellipse cx="97.58" cy="667.42" rx="2.25" ry="1.82" fill="#3c58a4" transform="rotate(106 97.58 667.42)"/><ellipse cx="101.94" cy="665.32" rx="1.78" ry="1.26" fill="#78748a" transform="rotate(99 101.94 665.32)"/><ellipse cx="112.47" cy="665.57" rx="1.61" ry="1.42" fill="#86808c" transform="rotate(155 112.47 665.57)"/><ellipse cx="115.44" cy="663.63" rx="2.11" ry="1.84" fill="#8a8490" transform="rotate(111 115.44 663.63)"/><ellipse cx="124.6" cy="664.29" rx="2.36" ry="1.68" fill="#6a789c" transform="rotate(69 124.6 664.29)"/><ellipse cx="131.82" cy="664.61" rx="2.44" ry="2.08" fill="#34509e" transform="rotate(90 131.82 664.61)"/><ellipse cx="139.6" cy="663.49" rx="2.52" ry="1.64" fill="#66769e" transform="rotate(179 139.6 663.49)"/><ellipse cx="0.16" cy="672.8" rx="2.27" ry="1.82" fill="#56689a" transform="rotate(113 0.16 672.8)"/><ellipse cx="7.48" cy="673.41" rx="2" ry="1.4" fill="#8a8490" transform="rotate(117 7.48 673.41)"/><ellipse cx="21.97" cy="672.98" rx="1.78" ry="1.59" fill="#66769e" transform="rotate(101 21.97 672.98)"/><ellipse cx="30.67" cy="672.41" rx="1.88" ry="1.21" fill="#2a4698" transform="rotate(139 30.67 672.41)"/><ellipse cx="38.62" cy="672.69" rx="1.97" ry="1.58" fill="#78748a" transform="rotate(162 38.62 672.69)"/><ellipse cx="41.41" cy="672.58" rx="1.82" ry="1.09" fill="#7e7888" transform="rotate(64 41.41 672.58)"/><ellipse cx="48.94" cy="674.35" rx="1.93" ry="1.47" fill="#8a8490" transform="rotate(42 48.94 674.35)"/><ellipse cx="56.89" cy="673.23" rx="1.71" ry="1.23" fill="#7e7888" transform="rotate(39 56.89 673.23)"/><ellipse cx="69.22" cy="674.38" rx="1.96" ry="1.37" fill="#66769e" transform="rotate(111 69.22 674.38)"/><ellipse cx="76.01" cy="673.56" rx="2.28" ry="1.69" fill="#7e7888" transform="rotate(127 76.01 673.56)"/><ellipse cx="86.22" cy="673.68" rx="2.08" ry="1.63" fill="#34509e" transform="rotate(42 86.22 673.68)"/><ellipse cx="91.52" cy="673.33" rx="2.04" ry="1.55" fill="#8a8490" transform="rotate(123 91.52 673.33)"/><ellipse cx="120.56" cy="673.62" rx="2.09" ry="1.84" fill="#2a4698" transform="rotate(134 120.56 673.62)"/><ellipse cx="128.98" cy="673.22" rx="1.76" ry="1.56" fill="#66769e" transform="rotate(131 128.98 673.22)"/><ellipse cx="134.65" cy="673.12" rx="2.19" ry="1.73" fill="#8a8490" transform="rotate(69 134.65 673.12)"/><ellipse cx="-1.73" cy="679.22" rx="2.43" ry="1.95" fill="#78748a" transform="rotate(113 -1.73 679.22)"/><ellipse cx="4.57" cy="678.59" rx="2.55" ry="1.54" fill="#78748a" transform="rotate(11 4.57 678.59)"/><ellipse cx="11.83" cy="676.47" rx="2.14" ry="1.59" fill="#56689a" transform="rotate(111 11.83 676.47)"/><ellipse cx="15.58" cy="680.37" rx="2.2" ry="1.49" fill="#56689a" transform="rotate(146 15.58 680.37)"/><ellipse cx="25.62" cy="680.31" rx="2.39" ry="1.54" fill="#2a4698" transform="rotate(46 25.62 680.31)"/><ellipse cx="32.16" cy="678.27" rx="2.3" ry="1.69" fill="#78748a" transform="rotate(137 32.16 678.27)"/><ellipse cx="37.98" cy="676.67" rx="2.15" ry="1.67" fill="#86808c" transform="rotate(8 37.98 676.67)"/><ellipse cx="42.57" cy="677.26" rx="1.61" ry="1.2" fill="#8a8490" transform="rotate(117 42.57 677.26)"/><ellipse cx="51.73" cy="678.6" rx="2.11" ry="1.7" fill="#2a4698" transform="rotate(144 51.73 678.6)"/><ellipse cx="80.87" cy="679.28" rx="2.34" ry="1.64" fill="#3c58a4" transform="rotate(21 80.87 679.28)"/><ellipse cx="91.67" cy="676.54" rx="2.2" ry="1.45" fill="#86808c" transform="rotate(161 91.67 676.54)"/><ellipse cx="101.67" cy="677.11" rx="2.45" ry="1.9" fill="#56689a" transform="rotate(178 101.67 677.11)"/><ellipse cx="107.14" cy="677.17" rx="2.13" ry="1.28" fill="#7e7888" transform="rotate(96 107.14 677.17)"/><ellipse cx="114.95" cy="676.99" rx="2.13" ry="1.31" fill="#7e7888" transform="rotate(168 114.95 676.99)"/><ellipse cx="128.26" cy="679.28" rx="1.93" ry="1.27" fill="#7e7888" transform="rotate(143 128.26 679.28)"/><ellipse cx="133.35" cy="678.07" rx="1.75" ry="1.12" fill="#34509e" transform="rotate(163 133.35 678.07)"/><ellipse cx="-2.03" cy="684.86" rx="2.44" ry="2.07" fill="#5d6e9c" transform="rotate(167 -2.03 684.86)"/><ellipse cx="20.64" cy="683.32" rx="1.92" ry="1.27" fill="#3c58a4" transform="rotate(65 20.64 683.32)"/><ellipse cx="27.88" cy="682.56" rx="1.81" ry="1.42" fill="#6a789c" transform="rotate(90 27.88 682.56)"/><ellipse cx="35.41" cy="682.38" rx="2.22" ry="1.53" fill="#2a4698" transform="rotate(83 35.41 682.38)"/><ellipse cx="42.23" cy="682.21" rx="1.98" ry="1.2" fill="#3c58a4" transform="rotate(75 42.23 682.21)"/><ellipse cx="50.69" cy="683.27" rx="1.64" ry="1.38" fill="#56689a" transform="rotate(69 50.69 683.27)"/><ellipse cx="55.28" cy="682.85" rx="2.48" ry="1.59" fill="#56689a" transform="rotate(75 55.28 682.85)"/><ellipse cx="62.68" cy="686.05" rx="1.68" ry="1.46" fill="#66769e" transform="rotate(170 62.68 686.05)"/><ellipse cx="66.08" cy="684.18" rx="2.05" ry="1.79" fill="#5d6e9c" transform="rotate(22 66.08 684.18)"/><ellipse cx="76.29" cy="683.09" rx="2.05" ry="1.37" fill="#3c58a4" transform="rotate(140 76.29 683.09)"/><ellipse cx="79.87" cy="683.6" rx="2.43" ry="1.95" fill="#66769e" transform="rotate(46 79.87 683.6)"/><ellipse cx="93.08" cy="682.78" rx="2.1" ry="1.36" fill="#56689a" transform="rotate(112 93.08 682.78)"/><ellipse cx="101.38" cy="682.72" rx="1.85" ry="1.51" fill="#6a789c" transform="rotate(82 101.38 682.72)"/><ellipse cx="109.98" cy="685.42" rx="2.55" ry="2.19" fill="#3c58a4" transform="rotate(89 109.98 685.42)"/><ellipse cx="115.39" cy="685.9" rx="2.14" ry="1.52" fill="#6a789c" transform="rotate(135 115.39 685.9)"/><ellipse cx="124.48" cy="685.58" rx="1.96" ry="1.4" fill="#3c58a4" transform="rotate(49 124.48 685.58)"/><ellipse cx="128.8" cy="682.73" rx="2.56" ry="1.71" fill="#8a8490" transform="rotate(122 128.8 682.73)"/><ellipse cx="137.41" cy="685.33" rx="2" ry="1.27" fill="#34509e" transform="rotate(84 137.41 685.33)"/><ellipse cx="0.73" cy="690.68" rx="2.19" ry="1.44" fill="#7e7888" transform="rotate(115 0.73 690.68)"/><ellipse cx="13.61" cy="687.99" rx="2.52" ry="2" fill="#8a8490" transform="rotate(106 13.61 687.99)"/><ellipse cx="21.02" cy="691.52" rx="2.04" ry="1.72" fill="#66769e" transform="rotate(177 21.02 691.52)"/><ellipse cx="27.89" cy="688.65" rx="1.75" ry="1.43" fill="#34509e" transform="rotate(172 27.89 688.65)"/><ellipse cx="35.82" cy="690.08" rx="2" ry="1.59" fill="#56689a" transform="rotate(125 35.82 690.08)"/><ellipse cx="45.23" cy="689.7" rx="1.9" ry="1.33" fill="#6a789c" transform="rotate(58 45.23 689.7)"/><ellipse cx="51.53" cy="687.78" rx="2.13" ry="1.35" fill="#6a789c" transform="rotate(94 51.53 687.78)"/><ellipse cx="55.51" cy="690.13" rx="1.93" ry="1.72" fill="#66769e" transform="rotate(50 55.51 690.13)"/><ellipse cx="63.9" cy="688.35" rx="2.37" ry="1.82" fill="#66769e" transform="rotate(168 63.9 688.35)"/><ellipse cx="72.21" cy="690.02" rx="2.01" ry="1.39" fill="#86808c" transform="rotate(109 72.21 690.02)"/><ellipse cx="77.11" cy="688.7" rx="2.31" ry="1.77" fill="#34509e" transform="rotate(80 77.11 688.7)"/><ellipse cx="85.06" cy="689.91" rx="1.92" ry="1.54" fill="#3c58a4" transform="rotate(54 85.06 689.91)"/><ellipse cx="92.39" cy="688.91" rx="2.52" ry="1.94" fill="#66769e" transform="rotate(173 92.39 688.91)"/><ellipse cx="99.44" cy="691.61" rx="2.12" ry="1.73" fill="#78748a" transform="rotate(95 99.44 691.61)"/><ellipse cx="103.94" cy="689.75" rx="1.64" ry="1.47" fill="#86808c" transform="rotate(95 103.94 689.75)"/><ellipse cx="112.52" cy="689.55" rx="2.02" ry="1.35" fill="#78748a" transform="rotate(119 112.52 689.55)"/><ellipse cx="117.77" cy="688.54" rx="2.12" ry="1.34" fill="#66769e" transform="rotate(18 117.77 688.54)"/><ellipse cx="127.93" cy="688.36" rx="2.56" ry="1.89" fill="#6a789c" transform="rotate(112 127.93 688.36)"/><ellipse cx="133.61" cy="689" rx="2.15" ry="1.72" fill="#5d6e9c" transform="rotate(90 133.61 689)"/><ellipse cx="139.73" cy="688.63" rx="2.29" ry="2.01" fill="#78748a" transform="rotate(104 139.73 688.63)"/><ellipse cx="-1.1" cy="697.9" rx="2.29" ry="1.4" fill="#56689a" transform="rotate(170 -1.1 697.9)"/><ellipse cx="12.76" cy="697.6" rx="1.65" ry="0.99" fill="#6a789c" transform="rotate(72 12.76 697.6)"/><ellipse cx="20.05" cy="698.27" rx="2.3" ry="1.92" fill="#7e7888" transform="rotate(1 20.05 698.27)"/><ellipse cx="35.2" cy="695.88" rx="2.43" ry="2" fill="#3c58a4" transform="rotate(84 35.2 695.88)"/><ellipse cx="41.99" cy="696.26" rx="2.08" ry="1.38" fill="#78748a" transform="rotate(6 41.99 696.26)"/><ellipse cx="47.76" cy="695.39" rx="2.59" ry="1.77" fill="#34509e" transform="rotate(59 47.76 695.39)"/><ellipse cx="57.46" cy="697.47" rx="2.11" ry="1.39" fill="#86808c" transform="rotate(179 57.46 697.47)"/><ellipse cx="62.69" cy="697.67" rx="1.65" ry="1.26" fill="#5d6e9c" transform="rotate(63 62.69 697.67)"/><ellipse cx="69.03" cy="696.13" rx="2.52" ry="1.94" fill="#3c58a4" transform="rotate(150 69.03 696.13)"/><ellipse cx="81.26" cy="695.72" rx="1.94" ry="1.29" fill="#2a4698" transform="rotate(54 81.26 695.72)"/><ellipse cx="88.87" cy="697.85" rx="2.24" ry="1.44" fill="#3c58a4" transform="rotate(174 88.87 697.85)"/><ellipse cx="99.45" cy="694.47" rx="1.92" ry="1.47" fill="#2a4698" transform="rotate(159 99.45 694.47)"/><ellipse cx="106.1" cy="694.62" rx="1.84" ry="1.14" fill="#6a789c" transform="rotate(134 106.1 694.62)"/><ellipse cx="116" cy="694.86" rx="1.83" ry="1.58" fill="#66769e" transform="rotate(32 116 694.86)"/><ellipse cx="120.99" cy="695.47" rx="1.85" ry="1.16" fill="#6a789c" transform="rotate(42 120.99 695.47)"/><ellipse cx="128.24" cy="698.09" rx="2.58" ry="2.29" fill="#8a8490" transform="rotate(17 128.24 698.09)"/><ellipse cx="137.88" cy="696.5" rx="2.17" ry="1.53" fill="#78748a" transform="rotate(64 137.88 696.5)"/><ellipse cx="-0.85" cy="702.3" rx="1.95" ry="1.26" fill="#56689a" transform="rotate(179 -0.85 702.3)"/><ellipse cx="4.97" cy="703.68" rx="2.24" ry="1.76" fill="#6a789c" transform="rotate(15 4.97 703.68)"/><ellipse cx="13.08" cy="705.18" rx="2.3" ry="1.82" fill="#7e7888" transform="rotate(141 13.08 705.18)"/><ellipse cx="22.13" cy="704.36" rx="2.55" ry="1.66" fill="#66769e" transform="rotate(7 22.13 704.36)"/><ellipse cx="33.62" cy="701.37" rx="2.14" ry="1.31" fill="#5d6e9c" transform="rotate(90 33.62 701.37)"/><ellipse cx="40.1" cy="703.01" rx="1.63" ry="1.44" fill="#7e7888" transform="rotate(91 40.1 703.01)"/><ellipse cx="53.94" cy="702.69" rx="1.85" ry="1.44" fill="#8a8490" transform="rotate(12 53.94 702.69)"/><ellipse cx="59.5" cy="703.7" rx="2.29" ry="1.71" fill="#56689a" transform="rotate(156 59.5 703.7)"/><ellipse cx="66.53" cy="703.18" rx="2.02" ry="1.67" fill="#66769e" transform="rotate(136 66.53 703.18)"/><ellipse cx="74.51" cy="704.53" rx="2.5" ry="1.64" fill="#34509e" transform="rotate(121 74.51 704.53)"/><ellipse cx="88.17" cy="703.14" rx="2.36" ry="1.93" fill="#56689a" transform="rotate(3 88.17 703.14)"/><ellipse cx="95.28" cy="702.66" rx="1.81" ry="1.21" fill="#66769e" transform="rotate(165 95.28 702.66)"/><ellipse cx="101.97" cy="705" rx="2.27" ry="1.6" fill="#78748a" transform="rotate(27 101.97 705)"/><ellipse cx="110.95" cy="704.83" rx="2.25" ry="1.67" fill="#8a8490" transform="rotate(138 110.95 704.83)"/><ellipse cx="115.8" cy="702.19" rx="2.59" ry="1.86" fill="#34509e" transform="rotate(25 115.8 702.19)"/><ellipse cx="121.97" cy="703.28" rx="2.43" ry="1.55" fill="#6a789c" transform="rotate(144 121.97 703.28)"/><ellipse cx="128.68" cy="701.46" rx="2.32" ry="1.88" fill="#2a4698" transform="rotate(20 128.68 701.46)"/><ellipse cx="134.68" cy="705.15" rx="2.1" ry="1.34" fill="#66769e" transform="rotate(123 134.68 705.15)"/><ellipse cx="6.81" cy="710.71" rx="2.44" ry="1.99" fill="#6a789c" transform="rotate(70 6.81 710.71)"/><ellipse cx="13.27" cy="709.25" rx="2.05" ry="1.56" fill="#5d6e9c" transform="rotate(161 13.27 709.25)"/><ellipse cx="17.37" cy="708.42" rx="2.13" ry="1.43" fill="#2a4698" transform="rotate(64 17.37 708.42)"/><ellipse cx="26.13" cy="711.83" rx="1.65" ry="1.22" fill="#3c58a4" transform="rotate(6 26.13 711.83)"/><ellipse cx="32.78" cy="709.39" rx="1.91" ry="1.39" fill="#86808c" transform="rotate(115 32.78 709.39)"/><ellipse cx="37.47" cy="708.63" rx="2.16" ry="1.32" fill="#5d6e9c" transform="rotate(76 37.47 708.63)"/><ellipse cx="46.3" cy="707.98" rx="1.77" ry="1.39" fill="#66769e" transform="rotate(66 46.3 707.98)"/><ellipse cx="51.09" cy="711.09" rx="2.26" ry="1.71" fill="#56689a" transform="rotate(73 51.09 711.09)"/><ellipse cx="58.66" cy="708.84" rx="2.05" ry="1.39" fill="#8a8490" transform="rotate(124 58.66 708.84)"/><ellipse cx="64.05" cy="711.87" rx="1.71" ry="1.51" fill="#6a789c" transform="rotate(149 64.05 711.87)"/><ellipse cx="71.03" cy="710.16" rx="2.56" ry="1.69" fill="#7e7888" transform="rotate(125 71.03 710.16)"/><ellipse cx="77.89" cy="711.14" rx="2.45" ry="2.04" fill="#2a4698" transform="rotate(139 77.89 711.14)"/><ellipse cx="85.95" cy="708.86" rx="2.45" ry="2.17" fill="#86808c" transform="rotate(90 85.95 708.86)"/><ellipse cx="92.36" cy="711.13" rx="1.88" ry="1.58" fill="#5d6e9c" transform="rotate(12 92.36 711.13)"/><ellipse cx="99.27" cy="711.01" rx="2.3" ry="1.59" fill="#56689a" transform="rotate(149 99.27 711.01)"/><ellipse cx="103.87" cy="710.88" rx="2.36" ry="1.97" fill="#3c58a4" transform="rotate(21 103.87 710.88)"/><ellipse cx="129.59" cy="708.67" rx="2.58" ry="2.18" fill="#66769e" transform="rotate(81 129.59 708.67)"/><ellipse cx="136.8" cy="708.2" rx="1.78" ry="1.57" fill="#3c58a4" transform="rotate(94 136.8 708.2)"/><ellipse cx="-1.4" cy="714.36" rx="2.46" ry="1.54" fill="#8a8490" transform="rotate(59 -1.4 714.36)"/><ellipse cx="7.71" cy="716.71" rx="2.42" ry="1.92" fill="#8a8490" transform="rotate(163 7.71 716.71)"/><ellipse cx="14" cy="715.12" rx="2.59" ry="1.7" fill="#34509e" transform="rotate(163 14 715.12)"/><ellipse cx="19.03" cy="717.05" rx="2.12" ry="1.7" fill="#3c58a4" transform="rotate(114 19.03 717.05)"/><ellipse cx="27.58" cy="715.04" rx="1.94" ry="1.51" fill="#5d6e9c" transform="rotate(87 27.58 715.04)"/><ellipse cx="34.22" cy="714.78" rx="2.51" ry="1.9" fill="#56689a" transform="rotate(29 34.22 714.78)"/><ellipse cx="46.61" cy="716.88" rx="2.01" ry="1.67" fill="#3c58a4" transform="rotate(105 46.61 716.88)"/><ellipse cx="53.54" cy="715.46" rx="1.82" ry="1.22" fill="#34509e" transform="rotate(140 53.54 715.46)"/><ellipse cx="62.33" cy="714.79" rx="2.36" ry="1.85" fill="#66769e" transform="rotate(29 62.33 714.79)"/><ellipse cx="70.04" cy="717.49" rx="2" ry="1.29" fill="#6a789c" transform="rotate(129 70.04 717.49)"/><ellipse cx="79.51" cy="713.75" rx="1.9" ry="1.57" fill="#56689a" transform="rotate(64 79.51 713.75)"/><ellipse cx="84.64" cy="716.03" rx="1.84" ry="1.23" fill="#6a789c" transform="rotate(135 84.64 716.03)"/><ellipse cx="91.33" cy="713.47" rx="1.63" ry="1.24" fill="#66769e" transform="rotate(157 91.33 713.47)"/><ellipse cx="100.71" cy="717.54" rx="2.04" ry="1.66" fill="#2a4698" transform="rotate(74 100.71 717.54)"/><ellipse cx="103.89" cy="716.71" rx="2" ry="1.45" fill="#34509e" transform="rotate(99 103.89 716.71)"/><ellipse cx="113.73" cy="715.68" rx="2.31" ry="2.02" fill="#5d6e9c" transform="rotate(153 113.73 715.68)"/><ellipse cx="116.68" cy="714.63" rx="2.2" ry="1.54" fill="#66769e" transform="rotate(52 116.68 714.63)"/><ellipse cx="124.31" cy="716.75" rx="1.97" ry="1.28" fill="#5d6e9c" transform="rotate(138 124.31 716.75)"/><ellipse cx="133.4" cy="715.43" rx="2.04" ry="1.24" fill="#56689a" transform="rotate(88 133.4 715.43)"/><ellipse cx="-0.32" cy="721.82" rx="2.16" ry="1.38" fill="#5d6e9c" transform="rotate(46 -0.32 721.82)"/><ellipse cx="11.15" cy="721.4" rx="1.77" ry="1.53" fill="#8a8490" transform="rotate(59 11.15 721.4)"/><ellipse cx="18.96" cy="720.02" rx="2.08" ry="1.56" fill="#7e7888" transform="rotate(54 18.96 720.02)"/><ellipse cx="32.15" cy="721.42" rx="1.94" ry="1.2" fill="#66769e" transform="rotate(13 32.15 721.42)"/><ellipse cx="42.5" cy="722.37" rx="2.4" ry="1.44" fill="#86808c" transform="rotate(42 42.5 722.37)"/><ellipse cx="50.23" cy="721.75" rx="2.38" ry="1.76" fill="#56689a" transform="rotate(68 50.23 721.75)"/><ellipse cx="56.13" cy="722.74" rx="2" ry="1.32" fill="#6a789c" transform="rotate(82 56.13 722.74)"/><ellipse cx="64.51" cy="723.17" rx="2.53" ry="2.19" fill="#5d6e9c" transform="rotate(128 64.51 723.17)"/><ellipse cx="69.09" cy="722.51" rx="1.6" ry="1.31" fill="#6a789c" transform="rotate(150 69.09 722.51)"/><ellipse cx="79.57" cy="720.7" rx="1.76" ry="1.06" fill="#66769e" transform="rotate(77 79.57 720.7)"/><ellipse cx="83.03" cy="720.81" rx="2.41" ry="1.5" fill="#66769e" transform="rotate(155 83.03 720.81)"/><ellipse cx="96.95" cy="719.35" rx="2.12" ry="1.6" fill="#34509e" transform="rotate(172 96.95 719.35)"/><ellipse cx="106.87" cy="720.56" rx="2.22" ry="1.34" fill="#66769e" transform="rotate(128 106.87 720.56)"/><ellipse cx="113.35" cy="720.68" rx="1.63" ry="1.41" fill="#5d6e9c" transform="rotate(109 113.35 720.68)"/><ellipse cx="120.19" cy="719.78" rx="1.87" ry="1.37" fill="#78748a" transform="rotate(38 120.19 719.78)"/><ellipse cx="125.01" cy="721.77" rx="2.09" ry="1.58" fill="#8a8490" transform="rotate(168 125.01 721.77)"/><ellipse cx="131.09" cy="723.25" rx="1.9" ry="1.41" fill="#34509e" transform="rotate(128 131.09 723.25)"/><ellipse cx="137.96" cy="721.14" rx="2.16" ry="1.91" fill="#66769e" transform="rotate(0 137.96 721.14)"/><ellipse cx="-2.82" cy="728.06" rx="2.4" ry="1.53" fill="#66769e" transform="rotate(121 -2.82 728.06)"/><ellipse cx="4.36" cy="730.05" rx="1.71" ry="1.31" fill="#7e7888" transform="rotate(92 4.36 730.05)"/><ellipse cx="13.2" cy="728.74" rx="2.38" ry="2.04" fill="#6a789c" transform="rotate(96 13.2 728.74)"/><ellipse cx="21.33" cy="730.06" rx="2.19" ry="1.46" fill="#66769e" transform="rotate(46 21.33 730.06)"/><ellipse cx="26.94" cy="727.78" rx="1.84" ry="1.33" fill="#34509e" transform="rotate(75 26.94 727.78)"/><ellipse cx="43.14" cy="729.92" rx="1.68" ry="1.37" fill="#6a789c" transform="rotate(66 43.14 729.92)"/><ellipse cx="49.44" cy="727.13" rx="1.72" ry="1.37" fill="#78748a" transform="rotate(72 49.44 727.13)"/><ellipse cx="53.86" cy="729.6" rx="2.26" ry="1.92" fill="#8a8490" transform="rotate(149 53.86 729.6)"/><ellipse cx="63.05" cy="726.09" rx="2.37" ry="1.6" fill="#8a8490" transform="rotate(86 63.05 726.09)"/><ellipse cx="70.99" cy="728.3" rx="2.47" ry="2.01" fill="#56689a" transform="rotate(150 70.99 728.3)"/><ellipse cx="78.44" cy="728.8" rx="1.75" ry="1.09" fill="#3c58a4" transform="rotate(137 78.44 728.8)"/><ellipse cx="83.9" cy="729.86" rx="2.44" ry="1.6" fill="#66769e" transform="rotate(47 83.9 729.86)"/><ellipse cx="91.26" cy="727.5" rx="2.56" ry="1.58" fill="#34509e" transform="rotate(135 91.26 727.5)"/><ellipse cx="95.39" cy="728" rx="2.54" ry="2.28" fill="#66769e" transform="rotate(161 95.39 728)"/><ellipse cx="105.22" cy="728.11" rx="1.9" ry="1.16" fill="#8a8490" transform="rotate(51 105.22 728.11)"/><ellipse cx="110.84" cy="728.89" rx="2.1" ry="1.73" fill="#2a4698" transform="rotate(154 110.84 728.89)"/><ellipse cx="117.43" cy="727.5" rx="1.79" ry="1.42" fill="#8a8490" transform="rotate(116 117.43 727.5)"/><ellipse cx="124.82" cy="730.26" rx="2.31" ry="1.52" fill="#8a8490" transform="rotate(106 124.82 730.26)"/><ellipse cx="-0.22" cy="734.04" rx="1.75" ry="1.06" fill="#7e7888" transform="rotate(149 -0.22 734.04)"/><ellipse cx="6.96" cy="734.63" rx="2.54" ry="1.57" fill="#5d6e9c" transform="rotate(74 6.96 734.63)"/><ellipse cx="20.39" cy="734.76" rx="2.39" ry="2.02" fill="#5d6e9c" transform="rotate(19 20.39 734.76)"/><ellipse cx="29.48" cy="736.34" rx="2.06" ry="1.81" fill="#34509e" transform="rotate(174 29.48 736.34)"/><ellipse cx="37.25" cy="733.48" rx="1.61" ry="1.42" fill="#7e7888" transform="rotate(174 37.25 733.48)"/><ellipse cx="40.58" cy="736.25" rx="1.99" ry="1.23" fill="#2a4698" transform="rotate(127 40.58 736.25)"/><ellipse cx="50.07" cy="733.85" rx="2.51" ry="2.13" fill="#6a789c" transform="rotate(40 50.07 733.85)"/><ellipse cx="54.29" cy="735.4" rx="2.45" ry="2" fill="#86808c" transform="rotate(4 54.29 735.4)"/><ellipse cx="61.49" cy="733.87" rx="2.52" ry="1.54" fill="#6a789c" transform="rotate(9 61.49 733.87)"/><ellipse cx="69.19" cy="736.75" rx="2.06" ry="1.62" fill="#8a8490" transform="rotate(137 69.19 736.75)"/><ellipse cx="75.5" cy="733.6" rx="1.79" ry="1.38" fill="#7e7888" transform="rotate(158 75.5 733.6)"/><ellipse cx="84.95" cy="735.14" rx="1.88" ry="1.53" fill="#34509e" transform="rotate(86 84.95 735.14)"/><ellipse cx="92.43" cy="734.26" rx="1.73" ry="1.3" fill="#5d6e9c" transform="rotate(39 92.43 734.26)"/><ellipse cx="95.58" cy="734.02" rx="1.82" ry="1.4" fill="#8a8490" transform="rotate(169 95.58 734.02)"/><ellipse cx="102.47" cy="735.47" rx="2.24" ry="1.51" fill="#8a8490" transform="rotate(6 102.47 735.47)"/><ellipse cx="111.81" cy="735.33" rx="1.66" ry="1.1" fill="#66769e" transform="rotate(160 111.81 735.33)"/><ellipse cx="117.35" cy="734.9" rx="1.61" ry="1.25" fill="#2a4698" transform="rotate(92 117.35 734.9)"/><ellipse cx="130.65" cy="735.11" rx="1.81" ry="1.32" fill="#8a8490" transform="rotate(24 130.65 735.11)"/><ellipse cx="138.78" cy="736.41" rx="2.41" ry="1.68" fill="#78748a" transform="rotate(64 138.78 736.41)"/><circle cx="98.28" cy="667.62" r="1.05" fill="#2d4ca6"/><circle cx="11.4" cy="733.84" r="0.92" fill="#2d4ca6"/><circle cx="85.14" cy="668.35" r="0.82" fill="#2d4ca6"/><circle cx="61.99" cy="688.86" r="1.18" fill="#2d4ca6"/><circle cx="83.23" cy="716.87" r="0.81" fill="#2d4ca6"/><circle cx="102.4" cy="645.04" r="1.13" fill="#2d4ca6"/><circle cx="108.71" cy="730.6" r="1" fill="#2d4ca6"/><circle cx="37.62" cy="716.73" r="0.91" fill="#2d4ca6"/><circle cx="83.4" cy="725.56" r="0.98" fill="#2d4ca6"/><circle cx="5.36" cy="637.09" r="0.95" fill="#2d4ca6"/><circle cx="125.19" cy="661.88" r="1.09" fill="#2d4ca6"/><circle cx="28.37" cy="640.86" r="0.79" fill="#2d4ca6"/><circle cx="6.41" cy="653.85" r="0.83" fill="#2d4ca6"/><circle cx="103.09" cy="675.17" r="1.09" fill="#2d4ca6"/><circle cx="15.35" cy="682.15" r="1.01" fill="#2d4ca6"/><circle cx="37.95" cy="703.28" r="0.9" fill="#2d4ca6"/><circle cx="56.88" cy="725.36" r="0.94" fill="#2d4ca6"/><circle cx="4.85" cy="697.17" r="0.76" fill="#2d4ca6"/><circle cx="7.32" cy="689.4" r="0.89" fill="#2d4ca6"/><circle cx="3.54" cy="664.94" r="0.82" fill="#2d4ca6"/><circle cx="30.86" cy="687.57" r="0.94" fill="#2d4ca6"/><circle cx="114.43" cy="729.73" r="1.12" fill="#2d4ca6"/><circle cx="3.62" cy="633.46" r="0.86" fill="#2d4ca6"/><circle cx="42.6" cy="702.44" r="0.71" fill="#2d4ca6"/><circle cx="33.48" cy="682.11" r="0.77" fill="#2d4ca6"/><circle cx="17.01" cy="642.06" r="0.7" fill="#2d4ca6"/><circle cx="124.46" cy="649.62" r="0.72" fill="#2d4ca6"/><circle cx="0.86" cy="657.83" r="1.17" fill="#2d4ca6"/><circle cx="24.03" cy="651.52" r="0.87" fill="#2d4ca6"/><circle cx="1.49" cy="707.83" r="0.94" fill="#2d4ca6"/><circle cx="114.33" cy="710.79" r="0.79" fill="#2d4ca6"/><circle cx="36.47" cy="657.15" r="1.07" fill="#2d4ca6"/><circle cx="91.51" cy="651.64" r="0.95" fill="#2d4ca6"/><circle cx="129.91" cy="715.94" r="0.88" fill="#2d4ca6"/><circle cx="36.3" cy="731.34" r="1.14" fill="#2d4ca6"/><circle cx="133.22" cy="654.06" r="1.16" fill="#2d4ca6"/><circle cx="33.48" cy="731.92" r="0.9" fill="#2d4ca6"/><circle cx="51.69" cy="665.15" r="1.12" fill="#2d4ca6"/><circle cx="135.46" cy="716.2" r="1.1" fill="#2d4ca6"/><circle cx="62.36" cy="711.77" r="1.17" fill="#2d4ca6"/><circle cx="123.14" cy="718.54" r="1.01" fill="#2d4ca6"/><circle cx="117.57" cy="701.8" r="0.94" fill="#2d4ca6"/><circle cx="101.67" cy="725.51" r="1.11" fill="#2d4ca6"/><circle cx="72.16" cy="630.79" r="0.87" fill="#2d4ca6"/><circle cx="132.46" cy="637.91" r="1.14" fill="#2d4ca6"/><circle cx="17.19" cy="735.9" r="0.82" fill="#2d4ca6"/><circle cx="64.75" cy="698.81" r="0.75" fill="#2d4ca6"/><circle cx="124.74" cy="639.76" r="0.89" fill="#2d4ca6"/><circle cx="133.63" cy="632.88" r="0.94" fill="#2d4ca6"/><circle cx="47.59" cy="659.73" r="0.73" fill="#2d4ca6"/><circle cx="102.45" cy="714.68" r="0.92" fill="#2d4ca6"/><circle cx="63.73" cy="718.74" r="1" fill="#2d4ca6"/><circle cx="27.45" cy="624.34" r="0.71" fill="#2d4ca6"/><circle cx="55.98" cy="685.3" r="0.98" fill="#2d4ca6"/><circle cx="15.9" cy="632.4" r="0.84" fill="#2d4ca6"/><circle cx="111.62" cy="663.33" r="0.79" fill="#2d4ca6"/><circle cx="126.39" cy="726.47" r="1.11" fill="#2d4ca6"/><circle cx="126.81" cy="647.04" r="0.76" fill="#2d4ca6"/><circle cx="77.45" cy="734.24" r="1.04" fill="#2d4ca6"/><circle cx="4.1" cy="688.74" r="1.06" fill="#2d4ca6"/></g>
<ellipse cx="106.2" cy="650" rx="6.8" ry="7.6" fill="#eef0ec" filter="url(#bl05k)"/>
<ellipse cx="69.4" cy="669.5" rx="5" ry="4.5" fill="#eef0ec" filter="url(#bl05k)"/>
<ellipse cx="83" cy="686.7" rx="3" ry="2.6" fill="#eef0ec" filter="url(#bl05k)"/>
</g>
<g clip-path="url(#ck2)">
<rect x="139.3" y="624.8" width="139" height="110.2" fill="#bccde0"/>
<rect x="139.3" y="624.8" width="139" height="110.2" fill="#fff" filter="url(#kt2)"/>
<rect x="139.3" y="624.8" width="139" height="110.2" fill="#fff" filter="url(#kt)"/>
<g filter="url(#bl05k)" opacity="0.8"><ellipse cx="138.28" cy="620.43" rx="1.72" ry="1.33" fill="#78748a" transform="rotate(140 138.28 620.43)"/><ellipse cx="145" cy="623.29" rx="2" ry="1.45" fill="#34509e" transform="rotate(120 145 623.29)"/><ellipse cx="151.06" cy="619.88" rx="2.15" ry="1.81" fill="#56689a" transform="rotate(21 151.06 619.88)"/><ellipse cx="157.28" cy="623.55" rx="2.07" ry="1.63" fill="#86808c" transform="rotate(129 157.28 623.55)"/><ellipse cx="165.95" cy="621.71" rx="2.51" ry="2.03" fill="#78748a" transform="rotate(144 165.95 621.71)"/><ellipse cx="172.69" cy="623.41" rx="1.95" ry="1.74" fill="#2a4698" transform="rotate(145 172.69 623.41)"/><ellipse cx="185.91" cy="622.43" rx="1.72" ry="1.45" fill="#34509e" transform="rotate(71 185.91 622.43)"/><ellipse cx="191.96" cy="621.46" rx="2.08" ry="1.32" fill="#66769e" transform="rotate(163 191.96 621.46)"/><ellipse cx="195.78" cy="623.94" rx="2.13" ry="1.77" fill="#66769e" transform="rotate(22 195.78 623.94)"/><ellipse cx="204.33" cy="623.71" rx="2.53" ry="1.75" fill="#86808c" transform="rotate(17 204.33 623.71)"/><ellipse cx="210.42" cy="623.57" rx="2.5" ry="1.76" fill="#34509e" transform="rotate(99 210.42 623.57)"/><ellipse cx="221.12" cy="622.79" rx="2.18" ry="1.93" fill="#8a8490" transform="rotate(133 221.12 622.79)"/><ellipse cx="225.93" cy="623.26" rx="2.5" ry="2.18" fill="#34509e" transform="rotate(159 225.93 623.26)"/><ellipse cx="232.26" cy="622.13" rx="2.09" ry="1.45" fill="#78748a" transform="rotate(111 232.26 622.13)"/><ellipse cx="238.8" cy="623.53" rx="2.19" ry="1.63" fill="#2a4698" transform="rotate(42 238.8 623.53)"/><ellipse cx="245.69" cy="622.4" rx="2.33" ry="1.97" fill="#78748a" transform="rotate(113 245.69 622.4)"/><ellipse cx="262.31" cy="620.3" rx="2.13" ry="1.3" fill="#6a789c" transform="rotate(88 262.31 620.3)"/><ellipse cx="270.2" cy="624" rx="2.44" ry="1.95" fill="#78748a" transform="rotate(178 270.2 624)"/><ellipse cx="274.24" cy="624.05" rx="1.87" ry="1.64" fill="#78748a" transform="rotate(117 274.24 624.05)"/><ellipse cx="135.86" cy="628.44" rx="2.43" ry="1.97" fill="#66769e" transform="rotate(115 135.86 628.44)"/><ellipse cx="145.31" cy="626" rx="1.97" ry="1.64" fill="#86808c" transform="rotate(0 145.31 626)"/><ellipse cx="150.67" cy="625.68" rx="2.39" ry="2.05" fill="#66769e" transform="rotate(151 150.67 625.68)"/><ellipse cx="158.7" cy="629.81" rx="2.4" ry="2.14" fill="#5d6e9c" transform="rotate(62 158.7 629.81)"/><ellipse cx="164.18" cy="629.87" rx="2.18" ry="1.89" fill="#5d6e9c" transform="rotate(4 164.18 629.87)"/><ellipse cx="172.47" cy="627" rx="2.24" ry="1.44" fill="#66769e" transform="rotate(86 172.47 627)"/><ellipse cx="178.06" cy="629.64" rx="1.95" ry="1.53" fill="#78748a" transform="rotate(172 178.06 629.64)"/><ellipse cx="186.85" cy="629.29" rx="1.74" ry="1.13" fill="#56689a" transform="rotate(51 186.85 629.29)"/><ellipse cx="192.96" cy="625.93" rx="2.4" ry="1.52" fill="#5d6e9c" transform="rotate(59 192.96 625.93)"/><ellipse cx="200.32" cy="627.3" rx="2.36" ry="2.09" fill="#2a4698" transform="rotate(63 200.32 627.3)"/><ellipse cx="205.96" cy="626.66" rx="1.95" ry="1.58" fill="#66769e" transform="rotate(38 205.96 626.66)"/><ellipse cx="214.5" cy="626.96" rx="2.03" ry="1.47" fill="#86808c" transform="rotate(11 214.5 626.96)"/><ellipse cx="217.93" cy="626.3" rx="2.08" ry="1.59" fill="#3c58a4" transform="rotate(157 217.93 626.3)"/><ellipse cx="227.71" cy="629.76" rx="1.93" ry="1.63" fill="#8a8490" transform="rotate(118 227.71 629.76)"/><ellipse cx="236.03" cy="626.49" rx="2" ry="1.73" fill="#5d6e9c" transform="rotate(104 236.03 626.49)"/><ellipse cx="239.1" cy="627.21" rx="2.23" ry="1.55" fill="#86808c" transform="rotate(99 239.1 627.21)"/><ellipse cx="252.16" cy="627.92" rx="1.74" ry="1.17" fill="#66769e" transform="rotate(124 252.16 627.92)"/><ellipse cx="261.39" cy="629.54" rx="2.03" ry="1.72" fill="#34509e" transform="rotate(117 261.39 629.54)"/><ellipse cx="270.87" cy="628.06" rx="2.35" ry="1.96" fill="#2a4698" transform="rotate(128 270.87 628.06)"/><ellipse cx="273.74" cy="628.88" rx="1.64" ry="1.21" fill="#8a8490" transform="rotate(41 273.74 628.88)"/><ellipse cx="137.75" cy="633.86" rx="2.29" ry="1.49" fill="#34509e" transform="rotate(171 137.75 633.86)"/><ellipse cx="145.43" cy="631.19" rx="1.78" ry="1.59" fill="#6a789c" transform="rotate(167 145.43 631.19)"/><ellipse cx="151.68" cy="632.27" rx="1.61" ry="1.37" fill="#6a789c" transform="rotate(112 151.68 632.27)"/><ellipse cx="163.03" cy="632.31" rx="2.11" ry="1.79" fill="#2a4698" transform="rotate(45 163.03 632.31)"/><ellipse cx="171.3" cy="633.97" rx="2.54" ry="1.64" fill="#5d6e9c" transform="rotate(98 171.3 633.97)"/><ellipse cx="179.32" cy="631.75" rx="1.98" ry="1.28" fill="#3c58a4" transform="rotate(150 179.32 631.75)"/><ellipse cx="185.84" cy="633.22" rx="2.12" ry="1.51" fill="#78748a" transform="rotate(45 185.84 633.22)"/><ellipse cx="191.04" cy="634.07" rx="2.43" ry="1.97" fill="#56689a" transform="rotate(40 191.04 634.07)"/><ellipse cx="207.27" cy="633.54" rx="2.41" ry="1.98" fill="#66769e" transform="rotate(32 207.27 633.54)"/><ellipse cx="214.17" cy="634.31" rx="2.22" ry="1.73" fill="#56689a" transform="rotate(90 214.17 634.31)"/><ellipse cx="220.95" cy="632.07" rx="1.87" ry="1.49" fill="#78748a" transform="rotate(10 220.95 632.07)"/><ellipse cx="228.91" cy="634.73" rx="1.79" ry="1.43" fill="#56689a" transform="rotate(66 228.91 634.73)"/><ellipse cx="233.29" cy="631.6" rx="1.69" ry="1.07" fill="#34509e" transform="rotate(163 233.29 631.6)"/><ellipse cx="243.85" cy="635.11" rx="2.16" ry="1.89" fill="#6a789c" transform="rotate(69 243.85 635.11)"/><ellipse cx="249.4" cy="635.46" rx="2.53" ry="1.95" fill="#7e7888" transform="rotate(166 249.4 635.46)"/><ellipse cx="264.08" cy="633.16" rx="2.31" ry="1.96" fill="#5d6e9c" transform="rotate(155 264.08 633.16)"/><ellipse cx="269.98" cy="633.07" rx="1.91" ry="1.35" fill="#34509e" transform="rotate(136 269.98 633.07)"/><ellipse cx="275.57" cy="634.66" rx="1.64" ry="1.11" fill="#8a8490" transform="rotate(163 275.57 634.66)"/><ellipse cx="140.52" cy="639.21" rx="1.64" ry="1.46" fill="#8a8490" transform="rotate(137 140.52 639.21)"/><ellipse cx="147.51" cy="638.28" rx="1.8" ry="1.17" fill="#7e7888" transform="rotate(137 147.51 638.28)"/><ellipse cx="152.49" cy="641.61" rx="1.84" ry="1.51" fill="#8a8490" transform="rotate(35 152.49 641.61)"/><ellipse cx="159.88" cy="639.56" rx="2.53" ry="1.64" fill="#34509e" transform="rotate(73 159.88 639.56)"/><ellipse cx="164.16" cy="641.13" rx="1.6" ry="1.18" fill="#6a789c" transform="rotate(144 164.16 641.13)"/><ellipse cx="171.72" cy="638.02" rx="2.13" ry="1.34" fill="#3c58a4" transform="rotate(142 171.72 638.02)"/><ellipse cx="181.06" cy="640.39" rx="2.01" ry="1.4" fill="#8a8490" transform="rotate(21 181.06 640.39)"/><ellipse cx="187.25" cy="639.44" rx="1.93" ry="1.48" fill="#2a4698" transform="rotate(109 187.25 639.44)"/><ellipse cx="194.57" cy="638.36" rx="2.19" ry="1.67" fill="#7e7888" transform="rotate(129 194.57 638.36)"/><ellipse cx="205.04" cy="639.5" rx="1.97" ry="1.35" fill="#56689a" transform="rotate(15 205.04 639.5)"/><ellipse cx="211.24" cy="638.59" rx="2.28" ry="1.76" fill="#56689a" transform="rotate(21 211.24 638.59)"/><ellipse cx="223.92" cy="638.89" rx="1.79" ry="1.53" fill="#7e7888" transform="rotate(30 223.92 638.89)"/><ellipse cx="231" cy="639.31" rx="1.75" ry="1.31" fill="#5d6e9c" transform="rotate(176 231 639.31)"/><ellipse cx="236.61" cy="640.21" rx="2.44" ry="1.62" fill="#7e7888" transform="rotate(71 236.61 640.21)"/><ellipse cx="246.62" cy="638.5" rx="2.53" ry="1.95" fill="#2a4698" transform="rotate(153 246.62 638.5)"/><ellipse cx="251.12" cy="640.31" rx="1.96" ry="1.37" fill="#56689a" transform="rotate(37 251.12 640.31)"/><ellipse cx="259.84" cy="639.35" rx="1.97" ry="1.21" fill="#86808c" transform="rotate(122 259.84 639.35)"/><ellipse cx="266.73" cy="637.6" rx="2.15" ry="1.74" fill="#66769e" transform="rotate(16 266.73 637.6)"/><ellipse cx="271.94" cy="641.16" rx="1.79" ry="1.47" fill="#3c58a4" transform="rotate(123 271.94 641.16)"/><ellipse cx="137.89" cy="646.86" rx="1.63" ry="1.18" fill="#7e7888" transform="rotate(65 137.89 646.86)"/><ellipse cx="143.99" cy="645.89" rx="2.18" ry="1.51" fill="#6a789c" transform="rotate(111 143.99 645.89)"/><ellipse cx="153.82" cy="647.18" rx="1.77" ry="1.31" fill="#66769e" transform="rotate(4 153.82 647.18)"/><ellipse cx="158.06" cy="646.5" rx="2.24" ry="1.89" fill="#7e7888" transform="rotate(107 158.06 646.5)"/><ellipse cx="163.55" cy="644.43" rx="2.26" ry="2.03" fill="#6a789c" transform="rotate(72 163.55 644.43)"/><ellipse cx="173.03" cy="646.04" rx="2.37" ry="1.45" fill="#6a789c" transform="rotate(175 173.03 646.04)"/><ellipse cx="179.53" cy="644.08" rx="2.31" ry="1.7" fill="#2a4698" transform="rotate(76 179.53 644.08)"/><ellipse cx="185.82" cy="646.58" rx="2.12" ry="1.46" fill="#6a789c" transform="rotate(112 185.82 646.58)"/><ellipse cx="191.68" cy="646.61" rx="2.37" ry="1.84" fill="#7e7888" transform="rotate(13 191.68 646.61)"/><ellipse cx="199.77" cy="646.83" rx="2.53" ry="1.83" fill="#78748a" transform="rotate(115 199.77 646.83)"/><ellipse cx="206.22" cy="645.69" rx="1.93" ry="1.55" fill="#34509e" transform="rotate(162 206.22 645.69)"/><ellipse cx="212.49" cy="646.76" rx="1.94" ry="1.47" fill="#86808c" transform="rotate(27 212.49 646.76)"/><ellipse cx="217.52" cy="646.68" rx="2.34" ry="2.05" fill="#6a789c" transform="rotate(14 217.52 646.68)"/><ellipse cx="223.86" cy="645.64" rx="2.45" ry="1.84" fill="#86808c" transform="rotate(80 223.86 645.64)"/><ellipse cx="231.6" cy="645.05" rx="1.73" ry="1.11" fill="#6a789c" transform="rotate(174 231.6 645.05)"/><ellipse cx="238.47" cy="645.86" rx="2.31" ry="1.83" fill="#34509e" transform="rotate(89 238.47 645.86)"/><ellipse cx="247.43" cy="645.31" rx="2.28" ry="1.54" fill="#5d6e9c" transform="rotate(167 247.43 645.31)"/><ellipse cx="252.35" cy="646.45" rx="2.11" ry="1.32" fill="#8a8490" transform="rotate(108 252.35 646.45)"/><ellipse cx="258.73" cy="643.55" rx="2.41" ry="1.74" fill="#6a789c" transform="rotate(20 258.73 643.55)"/><ellipse cx="263.55" cy="645.4" rx="2.26" ry="2.02" fill="#2a4698" transform="rotate(96 263.55 645.4)"/><ellipse cx="270.14" cy="645" rx="1.71" ry="1.52" fill="#2a4698" transform="rotate(28 270.14 645)"/><ellipse cx="277.75" cy="645.99" rx="1.7" ry="1.28" fill="#8a8490" transform="rotate(137 277.75 645.99)"/><ellipse cx="141.89" cy="651.56" rx="1.71" ry="1.4" fill="#8a8490" transform="rotate(127 141.89 651.56)"/><ellipse cx="146.54" cy="651.23" rx="2.23" ry="1.41" fill="#66769e" transform="rotate(10 146.54 651.23)"/><ellipse cx="151.99" cy="653.17" rx="2.38" ry="1.66" fill="#86808c" transform="rotate(99 151.99 653.17)"/><ellipse cx="160.75" cy="650.25" rx="2.12" ry="1.48" fill="#5d6e9c" transform="rotate(102 160.75 650.25)"/><ellipse cx="165.93" cy="654.15" rx="2.06" ry="1.79" fill="#86808c" transform="rotate(96 165.93 654.15)"/><ellipse cx="172.92" cy="651.34" rx="2.45" ry="1.56" fill="#78748a" transform="rotate(34 172.92 651.34)"/><ellipse cx="180.41" cy="651.32" rx="1.68" ry="1.17" fill="#34509e" transform="rotate(42 180.41 651.32)"/><ellipse cx="185.44" cy="651.54" rx="2.29" ry="1.87" fill="#66769e" transform="rotate(32 185.44 651.54)"/><ellipse cx="192.45" cy="650.53" rx="1.73" ry="1.42" fill="#66769e" transform="rotate(175 192.45 650.53)"/><ellipse cx="200.6" cy="651.23" rx="1.97" ry="1.53" fill="#86808c" transform="rotate(62 200.6 651.23)"/><ellipse cx="205.86" cy="654.22" rx="1.85" ry="1.34" fill="#7e7888" transform="rotate(169 205.86 654.22)"/><ellipse cx="213.86" cy="651.89" rx="2.24" ry="1.82" fill="#86808c" transform="rotate(52 213.86 651.89)"/><ellipse cx="221.17" cy="653.16" rx="2.41" ry="1.75" fill="#56689a" transform="rotate(61 221.17 653.16)"/><ellipse cx="227.43" cy="650.44" rx="1.64" ry="1.08" fill="#6a789c" transform="rotate(109 227.43 650.44)"/><ellipse cx="232.52" cy="653.5" rx="1.75" ry="1.15" fill="#6a789c" transform="rotate(0 232.52 653.5)"/><ellipse cx="240.61" cy="651.92" rx="2.56" ry="2.3" fill="#34509e" transform="rotate(174 240.61 651.92)"/><ellipse cx="247.47" cy="651.12" rx="1.77" ry="1.15" fill="#78748a" transform="rotate(113 247.47 651.12)"/><ellipse cx="256.35" cy="651.69" rx="2.56" ry="1.66" fill="#2a4698" transform="rotate(78 256.35 651.69)"/><ellipse cx="263.65" cy="650.08" rx="2.14" ry="1.54" fill="#66769e" transform="rotate(146 263.65 650.08)"/><ellipse cx="267.69" cy="650.83" rx="2.24" ry="1.47" fill="#78748a" transform="rotate(148 267.69 650.83)"/><ellipse cx="140.41" cy="657.5" rx="2.23" ry="1.57" fill="#6a789c" transform="rotate(19 140.41 657.5)"/><ellipse cx="147.45" cy="657.64" rx="2.18" ry="1.85" fill="#8a8490" transform="rotate(90 147.45 657.64)"/><ellipse cx="152.34" cy="660.65" rx="1.84" ry="1.36" fill="#5d6e9c" transform="rotate(25 152.34 660.65)"/><ellipse cx="160.14" cy="659.44" rx="2.46" ry="1.9" fill="#2a4698" transform="rotate(62 160.14 659.44)"/><ellipse cx="170.47" cy="658.3" rx="1.71" ry="1.22" fill="#6a789c" transform="rotate(173 170.47 658.3)"/><ellipse cx="174.58" cy="659.19" rx="1.7" ry="1.31" fill="#8a8490" transform="rotate(88 174.58 659.19)"/><ellipse cx="183.02" cy="657.48" rx="1.73" ry="1.36" fill="#34509e" transform="rotate(130 183.02 657.48)"/><ellipse cx="187.76" cy="658.52" rx="2.31" ry="1.9" fill="#3c58a4" transform="rotate(52 187.76 658.52)"/><ellipse cx="192.63" cy="657.99" rx="2.52" ry="1.68" fill="#2a4698" transform="rotate(54 192.63 657.99)"/><ellipse cx="207.94" cy="660.67" rx="2.44" ry="1.78" fill="#8a8490" transform="rotate(166 207.94 660.67)"/><ellipse cx="215" cy="657.89" rx="2.24" ry="1.72" fill="#56689a" transform="rotate(78 215 657.89)"/><ellipse cx="223.25" cy="658.91" rx="1.79" ry="1.52" fill="#86808c" transform="rotate(84 223.25 658.91)"/><ellipse cx="227.21" cy="658.45" rx="2.31" ry="1.54" fill="#5d6e9c" transform="rotate(158 227.21 658.45)"/><ellipse cx="234.24" cy="658.04" rx="1.75" ry="1.12" fill="#8a8490" transform="rotate(2 234.24 658.04)"/><ellipse cx="250.55" cy="659.82" rx="2.01" ry="1.67" fill="#5d6e9c" transform="rotate(143 250.55 659.82)"/><ellipse cx="259.94" cy="657.84" rx="2.54" ry="1.72" fill="#2a4698" transform="rotate(2 259.94 657.84)"/><ellipse cx="274.6" cy="660.25" rx="2.34" ry="1.52" fill="#86808c" transform="rotate(105 274.6 660.25)"/><ellipse cx="280.45" cy="659.95" rx="2.36" ry="1.88" fill="#6a789c" transform="rotate(86 280.45 659.95)"/><ellipse cx="140.3" cy="665.11" rx="2.37" ry="2.06" fill="#78748a" transform="rotate(91 140.3 665.11)"/><ellipse cx="144.56" cy="665.38" rx="2.16" ry="1.46" fill="#8a8490" transform="rotate(84 144.56 665.38)"/><ellipse cx="150.8" cy="665.57" rx="2.58" ry="1.58" fill="#78748a" transform="rotate(161 150.8 665.57)"/><ellipse cx="158.08" cy="663.17" rx="1.92" ry="1.64" fill="#56689a" transform="rotate(102 158.08 663.17)"/><ellipse cx="163" cy="664.92" rx="2.47" ry="1.77" fill="#56689a" transform="rotate(177 163 664.92)"/><ellipse cx="170.75" cy="662.93" rx="2.02" ry="1.56" fill="#78748a" transform="rotate(5 170.75 662.93)"/><ellipse cx="177.8" cy="662.84" rx="2.12" ry="1.7" fill="#3c58a4" transform="rotate(51 177.8 662.84)"/><ellipse cx="184.1" cy="665.31" rx="2.56" ry="1.57" fill="#5d6e9c" transform="rotate(14 184.1 665.31)"/><ellipse cx="191.83" cy="664.89" rx="2.24" ry="1.5" fill="#5d6e9c" transform="rotate(15 191.83 664.89)"/><ellipse cx="200.12" cy="663.38" rx="2.35" ry="1.97" fill="#66769e" transform="rotate(92 200.12 663.38)"/><ellipse cx="208.24" cy="666.16" rx="2.18" ry="1.75" fill="#3c58a4" transform="rotate(148 208.24 666.16)"/><ellipse cx="213.48" cy="667.13" rx="1.96" ry="1.39" fill="#8a8490" transform="rotate(5 213.48 667.13)"/><ellipse cx="221.92" cy="666.36" rx="2.11" ry="1.45" fill="#66769e" transform="rotate(177 221.92 666.36)"/><ellipse cx="228.66" cy="664.24" rx="2.15" ry="1.9" fill="#86808c" transform="rotate(18 228.66 664.24)"/><ellipse cx="236.12" cy="665.54" rx="2.41" ry="2.12" fill="#6a789c" transform="rotate(92 236.12 665.54)"/><ellipse cx="243.31" cy="666.61" rx="2.14" ry="1.42" fill="#78748a" transform="rotate(124 243.31 666.61)"/><ellipse cx="248.63" cy="666.96" rx="2.11" ry="1.29" fill="#78748a" transform="rotate(67 248.63 666.96)"/><ellipse cx="255.14" cy="666.35" rx="2.58" ry="1.72" fill="#2a4698" transform="rotate(141 255.14 666.35)"/><ellipse cx="262.24" cy="665.3" rx="2.51" ry="2.13" fill="#5d6e9c" transform="rotate(119 262.24 665.3)"/><ellipse cx="270.26" cy="665.49" rx="1.71" ry="1.32" fill="#86808c" transform="rotate(33 270.26 665.49)"/><ellipse cx="273.06" cy="664.09" rx="1.65" ry="1.33" fill="#56689a" transform="rotate(22 273.06 664.09)"/><ellipse cx="140.76" cy="672.74" rx="2.2" ry="1.52" fill="#6a789c" transform="rotate(6 140.76 672.74)"/><ellipse cx="144.81" cy="671.07" rx="2.31" ry="1.55" fill="#5d6e9c" transform="rotate(152 144.81 671.07)"/><ellipse cx="159.23" cy="670.95" rx="1.94" ry="1.26" fill="#78748a" transform="rotate(159 159.23 670.95)"/><ellipse cx="165.43" cy="671.93" rx="1.95" ry="1.3" fill="#8a8490" transform="rotate(107 165.43 671.93)"/><ellipse cx="174.34" cy="673.2" rx="1.98" ry="1.46" fill="#7e7888" transform="rotate(46 174.34 673.2)"/><ellipse cx="181.51" cy="672.45" rx="2.19" ry="1.92" fill="#8a8490" transform="rotate(94 181.51 672.45)"/><ellipse cx="187.42" cy="671.48" rx="2.02" ry="1.41" fill="#56689a" transform="rotate(25 187.42 671.48)"/><ellipse cx="194.82" cy="670.52" rx="2.4" ry="1.9" fill="#34509e" transform="rotate(3 194.82 670.52)"/><ellipse cx="207.14" cy="673.88" rx="2.33" ry="1.84" fill="#78748a" transform="rotate(145 207.14 673.88)"/><ellipse cx="214.77" cy="671.01" rx="1.78" ry="1.15" fill="#7e7888" transform="rotate(18 214.77 671.01)"/><ellipse cx="224.81" cy="671.1" rx="2.44" ry="1.92" fill="#7e7888" transform="rotate(126 224.81 671.1)"/><ellipse cx="229.27" cy="671.56" rx="2.1" ry="1.88" fill="#3c58a4" transform="rotate(166 229.27 671.56)"/><ellipse cx="236.36" cy="669.58" rx="1.94" ry="1.38" fill="#86808c" transform="rotate(88 236.36 669.58)"/><ellipse cx="243.72" cy="671.95" rx="1.69" ry="1.09" fill="#6a789c" transform="rotate(104 243.72 671.95)"/><ellipse cx="249.23" cy="673.56" rx="2.58" ry="1.74" fill="#6a789c" transform="rotate(152 249.23 673.56)"/><ellipse cx="269.35" cy="671.83" rx="2.18" ry="1.6" fill="#56689a" transform="rotate(77 269.35 671.83)"/><ellipse cx="273.85" cy="670.66" rx="2.23" ry="1.71" fill="#34509e" transform="rotate(106 273.85 670.66)"/><ellipse cx="138.94" cy="678.21" rx="2.26" ry="1.93" fill="#34509e" transform="rotate(58 138.94 678.21)"/><ellipse cx="146.73" cy="677.25" rx="1.8" ry="1.52" fill="#34509e" transform="rotate(42 146.73 677.25)"/><ellipse cx="150.84" cy="675.8" rx="1.65" ry="1.2" fill="#86808c" transform="rotate(175 150.84 675.8)"/><ellipse cx="161.06" cy="679.48" rx="2.41" ry="2.16" fill="#78748a" transform="rotate(25 161.06 679.48)"/><ellipse cx="166.23" cy="677.82" rx="1.74" ry="1.41" fill="#6a789c" transform="rotate(150 166.23 677.82)"/><ellipse cx="173.65" cy="677.07" rx="1.86" ry="1.64" fill="#8a8490" transform="rotate(126 173.65 677.07)"/><ellipse cx="180.77" cy="675.39" rx="1.84" ry="1.56" fill="#7e7888" transform="rotate(76 180.77 675.39)"/><ellipse cx="188.96" cy="677.92" rx="2.3" ry="1.6" fill="#7e7888" transform="rotate(125 188.96 677.92)"/><ellipse cx="196.08" cy="676.41" rx="1.71" ry="1.4" fill="#3c58a4" transform="rotate(30 196.08 676.41)"/><ellipse cx="203.05" cy="677.43" rx="1.67" ry="1.27" fill="#6a789c" transform="rotate(18 203.05 677.43)"/><ellipse cx="211.41" cy="679.65" rx="2.01" ry="1.61" fill="#5d6e9c" transform="rotate(86 211.41 679.65)"/><ellipse cx="215.99" cy="676.9" rx="2.1" ry="1.56" fill="#3c58a4" transform="rotate(81 215.99 676.9)"/><ellipse cx="223.34" cy="679.05" rx="2.37" ry="1.88" fill="#56689a" transform="rotate(43 223.34 679.05)"/><ellipse cx="236.58" cy="677.08" rx="2.03" ry="1.42" fill="#2a4698" transform="rotate(175 236.58 677.08)"/><ellipse cx="246.3" cy="677.03" rx="1.65" ry="1.05" fill="#34509e" transform="rotate(98 246.3 677.03)"/><ellipse cx="266.53" cy="676.02" rx="1.71" ry="1.04" fill="#56689a" transform="rotate(7 266.53 676.02)"/><ellipse cx="274.82" cy="675.76" rx="2.22" ry="1.59" fill="#56689a" transform="rotate(48 274.82 675.76)"/><ellipse cx="144.19" cy="683.93" rx="2.17" ry="1.75" fill="#7e7888" transform="rotate(121 144.19 683.93)"/><ellipse cx="150.9" cy="681.46" rx="1.94" ry="1.21" fill="#78748a" transform="rotate(160 150.9 681.46)"/><ellipse cx="157.34" cy="684.33" rx="1.91" ry="1.31" fill="#78748a" transform="rotate(96 157.34 684.33)"/><ellipse cx="166.07" cy="683.78" rx="2.56" ry="2.05" fill="#56689a" transform="rotate(140 166.07 683.78)"/><ellipse cx="177.73" cy="682.12" rx="2.3" ry="2.01" fill="#8a8490" transform="rotate(168 177.73 682.12)"/><ellipse cx="195.25" cy="682.31" rx="2.33" ry="1.55" fill="#86808c" transform="rotate(68 195.25 682.31)"/><ellipse cx="200.73" cy="681" rx="2.58" ry="1.76" fill="#8a8490" transform="rotate(97 200.73 681)"/><ellipse cx="213.65" cy="685.24" rx="1.85" ry="1.16" fill="#6a789c" transform="rotate(64 213.65 685.24)"/><ellipse cx="227.92" cy="683.03" rx="2.49" ry="1.69" fill="#5d6e9c" transform="rotate(46 227.92 683.03)"/><ellipse cx="235.83" cy="684.09" rx="1.65" ry="1.2" fill="#8a8490" transform="rotate(177 235.83 684.09)"/><ellipse cx="249.36" cy="684.23" rx="1.66" ry="1.28" fill="#56689a" transform="rotate(108 249.36 684.23)"/><ellipse cx="255.59" cy="682.22" rx="1.94" ry="1.43" fill="#5d6e9c" transform="rotate(63 255.59 682.22)"/><ellipse cx="263.38" cy="684.14" rx="1.97" ry="1.44" fill="#7e7888" transform="rotate(75 263.38 684.14)"/><ellipse cx="268.91" cy="683.45" rx="1.86" ry="1.58" fill="#8a8490" transform="rotate(123 268.91 683.45)"/><ellipse cx="273.57" cy="680.92" rx="1.79" ry="1.45" fill="#3c58a4" transform="rotate(157 273.57 680.92)"/><ellipse cx="138.58" cy="688.83" rx="2.25" ry="1.53" fill="#78748a" transform="rotate(66 138.58 688.83)"/><ellipse cx="146.41" cy="689.29" rx="2.55" ry="1.57" fill="#56689a" transform="rotate(66 146.41 689.29)"/><ellipse cx="151.81" cy="688.21" rx="2.34" ry="2.01" fill="#34509e" transform="rotate(33 151.81 688.21)"/><ellipse cx="155.94" cy="689.42" rx="2.34" ry="2.04" fill="#78748a" transform="rotate(76 155.94 689.42)"/><ellipse cx="165.79" cy="690.9" rx="2.13" ry="1.64" fill="#34509e" transform="rotate(112 165.79 690.9)"/><ellipse cx="171.93" cy="689.29" rx="1.67" ry="1.27" fill="#66769e" transform="rotate(135 171.93 689.29)"/><ellipse cx="175.02" cy="688.52" rx="2.38" ry="1.84" fill="#2a4698" transform="rotate(71 175.02 688.52)"/><ellipse cx="183.94" cy="691.19" rx="2.51" ry="2.26" fill="#6a789c" transform="rotate(89 183.94 691.19)"/><ellipse cx="192.99" cy="690.54" rx="1.96" ry="1.18" fill="#2a4698" transform="rotate(136 192.99 690.54)"/><ellipse cx="200.8" cy="692.03" rx="2.56" ry="1.93" fill="#7e7888" transform="rotate(146 200.8 692.03)"/><ellipse cx="206.77" cy="691.58" rx="1.77" ry="1.16" fill="#6a789c" transform="rotate(8 206.77 691.58)"/><ellipse cx="213.62" cy="690.39" rx="2.04" ry="1.47" fill="#5d6e9c" transform="rotate(80 213.62 690.39)"/><ellipse cx="220.29" cy="689.39" rx="2.13" ry="1.43" fill="#7e7888" transform="rotate(141 220.29 689.39)"/><ellipse cx="229.06" cy="690.51" rx="2.54" ry="1.94" fill="#3c58a4" transform="rotate(156 229.06 690.51)"/><ellipse cx="233.51" cy="690.43" rx="2.32" ry="1.58" fill="#34509e" transform="rotate(164 233.51 690.43)"/><ellipse cx="242.85" cy="688.43" rx="2.52" ry="2.24" fill="#3c58a4" transform="rotate(175 242.85 688.43)"/><ellipse cx="247.29" cy="691.68" rx="1.87" ry="1.2" fill="#3c58a4" transform="rotate(30 247.29 691.68)"/><ellipse cx="257.7" cy="691.52" rx="1.72" ry="1.17" fill="#2a4698" transform="rotate(75 257.7 691.52)"/><ellipse cx="262.64" cy="688.6" rx="1.85" ry="1.49" fill="#78748a" transform="rotate(5 262.64 688.6)"/><ellipse cx="267.55" cy="690.17" rx="2.37" ry="1.65" fill="#78748a" transform="rotate(97 267.55 690.17)"/><ellipse cx="273.71" cy="691.43" rx="2.56" ry="1.9" fill="#6a789c" transform="rotate(160 273.71 691.43)"/><ellipse cx="140.11" cy="694.97" rx="2" ry="1.39" fill="#5d6e9c" transform="rotate(45 140.11 694.97)"/><ellipse cx="147.61" cy="695.94" rx="2.58" ry="2.1" fill="#56689a" transform="rotate(73 147.61 695.94)"/><ellipse cx="160.14" cy="695.47" rx="1.67" ry="1.26" fill="#2a4698" transform="rotate(45 160.14 695.47)"/><ellipse cx="173.29" cy="697.87" rx="2" ry="1.72" fill="#5d6e9c" transform="rotate(34 173.29 697.87)"/><ellipse cx="179.93" cy="695.58" rx="1.92" ry="1.31" fill="#56689a" transform="rotate(76 179.93 695.58)"/><ellipse cx="186.22" cy="698.61" rx="1.98" ry="1.21" fill="#5d6e9c" transform="rotate(76 186.22 698.61)"/><ellipse cx="196.05" cy="696.23" rx="2.49" ry="2.18" fill="#78748a" transform="rotate(116 196.05 696.23)"/><ellipse cx="218.82" cy="696.61" rx="2.49" ry="1.81" fill="#34509e" transform="rotate(154 218.82 696.61)"/><ellipse cx="224.07" cy="698.52" rx="1.78" ry="1.46" fill="#34509e" transform="rotate(35 224.07 698.52)"/><ellipse cx="227.97" cy="694.83" rx="2.24" ry="1.86" fill="#86808c" transform="rotate(117 227.97 694.83)"/><ellipse cx="237.83" cy="695.73" rx="2.12" ry="1.57" fill="#34509e" transform="rotate(119 237.83 695.73)"/><ellipse cx="241.68" cy="694.65" rx="2.15" ry="1.73" fill="#56689a" transform="rotate(59 241.68 694.65)"/><ellipse cx="251.69" cy="696.93" rx="1.77" ry="1.55" fill="#66769e" transform="rotate(123 251.69 696.93)"/><ellipse cx="257.19" cy="698.11" rx="2.04" ry="1.69" fill="#6a789c" transform="rotate(66 257.19 698.11)"/><ellipse cx="263.04" cy="698.14" rx="2.35" ry="1.59" fill="#78748a" transform="rotate(141 263.04 698.14)"/><ellipse cx="268.48" cy="697.92" rx="2.13" ry="1.29" fill="#8a8490" transform="rotate(150 268.48 697.92)"/><ellipse cx="277.06" cy="694.6" rx="2.38" ry="1.61" fill="#3c58a4" transform="rotate(106 277.06 694.6)"/><ellipse cx="137.92" cy="700.83" rx="2.45" ry="1.97" fill="#3c58a4" transform="rotate(32 137.92 700.83)"/><ellipse cx="146.51" cy="701.79" rx="1.64" ry="1.3" fill="#2a4698" transform="rotate(56 146.51 701.79)"/><ellipse cx="152.8" cy="703.49" rx="1.82" ry="1.51" fill="#2a4698" transform="rotate(138 152.8 703.49)"/><ellipse cx="157.34" cy="702.49" rx="1.78" ry="1.46" fill="#56689a" transform="rotate(70 157.34 702.49)"/><ellipse cx="173.56" cy="704.44" rx="2.34" ry="1.78" fill="#2a4698" transform="rotate(26 173.56 704.44)"/><ellipse cx="178.8" cy="701.51" rx="2.52" ry="1.59" fill="#34509e" transform="rotate(141 178.8 701.51)"/><ellipse cx="186.29" cy="703.83" rx="2.24" ry="1.74" fill="#66769e" transform="rotate(25 186.29 703.83)"/><ellipse cx="195.21" cy="704.55" rx="1.96" ry="1.24" fill="#7e7888" transform="rotate(11 195.21 704.55)"/><ellipse cx="204.99" cy="703.39" rx="1.66" ry="1.12" fill="#86808c" transform="rotate(177 204.99 703.39)"/><ellipse cx="215.31" cy="701.62" rx="2.53" ry="1.74" fill="#3c58a4" transform="rotate(23 215.31 701.62)"/><ellipse cx="221.08" cy="700.55" rx="2.03" ry="1.61" fill="#34509e" transform="rotate(172 221.08 700.55)"/><ellipse cx="229.33" cy="702.1" rx="2.52" ry="2.07" fill="#34509e" transform="rotate(3 229.33 702.1)"/><ellipse cx="233.77" cy="704.03" rx="2.15" ry="1.93" fill="#3c58a4" transform="rotate(101 233.77 704.03)"/><ellipse cx="240.57" cy="703.94" rx="2.02" ry="1.48" fill="#2a4698" transform="rotate(172 240.57 703.94)"/><ellipse cx="249.04" cy="702.77" rx="2.56" ry="2.02" fill="#2a4698" transform="rotate(67 249.04 702.77)"/><ellipse cx="255.9" cy="702.6" rx="2.41" ry="1.46" fill="#7e7888" transform="rotate(78 255.9 702.6)"/><ellipse cx="261.55" cy="702.83" rx="2.49" ry="1.6" fill="#8a8490" transform="rotate(52 261.55 702.83)"/><ellipse cx="265.38" cy="704.77" rx="1.71" ry="1.36" fill="#34509e" transform="rotate(0 265.38 704.77)"/><ellipse cx="272.45" cy="700.9" rx="1.84" ry="1.24" fill="#8a8490" transform="rotate(33 272.45 700.9)"/><ellipse cx="139.76" cy="710.58" rx="1.96" ry="1.52" fill="#66769e" transform="rotate(71 139.76 710.58)"/><ellipse cx="148.05" cy="711.22" rx="2.48" ry="1.82" fill="#78748a" transform="rotate(11 148.05 711.22)"/><ellipse cx="153.64" cy="710.53" rx="1.92" ry="1.2" fill="#78748a" transform="rotate(151 153.64 710.53)"/><ellipse cx="162.44" cy="707.65" rx="2.43" ry="1.91" fill="#5d6e9c" transform="rotate(81 162.44 707.65)"/><ellipse cx="195.35" cy="710.24" rx="2.43" ry="1.64" fill="#6a789c" transform="rotate(78 195.35 710.24)"/><ellipse cx="200.83" cy="709.96" rx="2.19" ry="1.51" fill="#56689a" transform="rotate(94 200.83 709.96)"/><ellipse cx="207.15" cy="708.47" rx="2.29" ry="1.84" fill="#5d6e9c" transform="rotate(11 207.15 708.47)"/><ellipse cx="217.74" cy="707.92" rx="1.79" ry="1.51" fill="#6a789c" transform="rotate(74 217.74 707.92)"/><ellipse cx="229.18" cy="710.73" rx="1.87" ry="1.66" fill="#3c58a4" transform="rotate(59 229.18 710.73)"/><ellipse cx="236.09" cy="710.3" rx="2.16" ry="1.81" fill="#56689a" transform="rotate(173 236.09 710.3)"/><ellipse cx="252.04" cy="708.75" rx="1.89" ry="1.38" fill="#86808c" transform="rotate(158 252.04 708.75)"/><ellipse cx="257.72" cy="707.39" rx="2.11" ry="1.57" fill="#6a789c" transform="rotate(88 257.72 707.39)"/><ellipse cx="266.8" cy="710.83" rx="2.01" ry="1.62" fill="#7e7888" transform="rotate(168 266.8 710.83)"/><ellipse cx="269.26" cy="710.44" rx="2.29" ry="1.41" fill="#56689a" transform="rotate(168 269.26 710.44)"/><ellipse cx="136.83" cy="715.83" rx="1.73" ry="1.09" fill="#2a4698" transform="rotate(114 136.83 715.83)"/><ellipse cx="146.15" cy="716.81" rx="2.21" ry="1.79" fill="#7e7888" transform="rotate(11 146.15 716.81)"/><ellipse cx="151.83" cy="717.05" rx="2.03" ry="1.81" fill="#3c58a4" transform="rotate(176 151.83 717.05)"/><ellipse cx="160.56" cy="715.98" rx="1.93" ry="1.17" fill="#3c58a4" transform="rotate(123 160.56 715.98)"/><ellipse cx="165.43" cy="715.93" rx="1.91" ry="1.49" fill="#5d6e9c" transform="rotate(74 165.43 715.93)"/><ellipse cx="179.52" cy="715.16" rx="2.12" ry="1.51" fill="#7e7888" transform="rotate(44 179.52 715.16)"/><ellipse cx="186.13" cy="717.66" rx="1.61" ry="1.32" fill="#78748a" transform="rotate(21 186.13 717.66)"/><ellipse cx="195.5" cy="714.21" rx="2.16" ry="1.52" fill="#2a4698" transform="rotate(44 195.5 714.21)"/><ellipse cx="203.54" cy="713.94" rx="2.4" ry="1.99" fill="#5d6e9c" transform="rotate(129 203.54 713.94)"/><ellipse cx="210.44" cy="715.33" rx="2.08" ry="1.77" fill="#7e7888" transform="rotate(171 210.44 715.33)"/><ellipse cx="223.61" cy="714.55" rx="2.26" ry="1.59" fill="#5d6e9c" transform="rotate(32 223.61 714.55)"/><ellipse cx="228.88" cy="716.24" rx="2.25" ry="1.94" fill="#66769e" transform="rotate(126 228.88 716.24)"/><ellipse cx="241.74" cy="715.46" rx="2.55" ry="1.93" fill="#56689a" transform="rotate(121 241.74 715.46)"/><ellipse cx="248.81" cy="714.83" rx="1.94" ry="1.26" fill="#66769e" transform="rotate(132 248.81 714.83)"/><ellipse cx="256.59" cy="715.95" rx="2.34" ry="1.82" fill="#5d6e9c" transform="rotate(65 256.59 715.95)"/><ellipse cx="261.68" cy="718.12" rx="2.34" ry="1.94" fill="#56689a" transform="rotate(170 261.68 718.12)"/><ellipse cx="267.02" cy="718.01" rx="2.47" ry="1.74" fill="#3c58a4" transform="rotate(61 267.02 718.01)"/><ellipse cx="275.76" cy="715.51" rx="1.83" ry="1.63" fill="#34509e" transform="rotate(81 275.76 715.51)"/><ellipse cx="140.09" cy="723.12" rx="1.77" ry="1.07" fill="#7e7888" transform="rotate(4 140.09 723.12)"/><ellipse cx="147.93" cy="723.33" rx="2.22" ry="1.69" fill="#7e7888" transform="rotate(7 147.93 723.33)"/><ellipse cx="160.02" cy="723.92" rx="2.52" ry="1.58" fill="#8a8490" transform="rotate(58 160.02 723.92)"/><ellipse cx="166.04" cy="721.29" rx="2.44" ry="1.71" fill="#86808c" transform="rotate(131 166.04 721.29)"/><ellipse cx="174.75" cy="721.81" rx="2.5" ry="2.14" fill="#66769e" transform="rotate(158 174.75 721.81)"/><ellipse cx="183.38" cy="722.97" rx="1.68" ry="1.43" fill="#86808c" transform="rotate(66 183.38 722.97)"/><ellipse cx="187.16" cy="722.33" rx="1.87" ry="1.24" fill="#8a8490" transform="rotate(78 187.16 722.33)"/><ellipse cx="194.42" cy="721.61" rx="2" ry="1.55" fill="#5d6e9c" transform="rotate(41 194.42 721.61)"/><ellipse cx="200.61" cy="723.47" rx="1.79" ry="1.2" fill="#8a8490" transform="rotate(78 200.61 723.47)"/><ellipse cx="207.13" cy="723.59" rx="2.04" ry="1.74" fill="#3c58a4" transform="rotate(100 207.13 723.59)"/><ellipse cx="214.91" cy="723.41" rx="1.67" ry="1.15" fill="#5d6e9c" transform="rotate(120 214.91 723.41)"/><ellipse cx="222.59" cy="723.98" rx="1.8" ry="1.27" fill="#5d6e9c" transform="rotate(120 222.59 723.98)"/><ellipse cx="228.32" cy="722.07" rx="1.86" ry="1.53" fill="#3c58a4" transform="rotate(48 228.32 722.07)"/><ellipse cx="237.73" cy="722.32" rx="2.41" ry="2.15" fill="#2a4698" transform="rotate(178 237.73 722.32)"/><ellipse cx="241.83" cy="724" rx="2.44" ry="1.52" fill="#8a8490" transform="rotate(160 241.83 724)"/><ellipse cx="250.22" cy="723.21" rx="2.12" ry="1.56" fill="#86808c" transform="rotate(122 250.22 723.21)"/><ellipse cx="257.32" cy="721.28" rx="2.49" ry="1.56" fill="#86808c" transform="rotate(132 257.32 721.28)"/><ellipse cx="262.34" cy="721.77" rx="2.5" ry="1.89" fill="#8a8490" transform="rotate(86 262.34 721.77)"/><ellipse cx="278.57" cy="722.34" rx="1.74" ry="1.18" fill="#5d6e9c" transform="rotate(64 278.57 722.34)"/><ellipse cx="139.6" cy="728.65" rx="1.91" ry="1.63" fill="#2a4698" transform="rotate(114 139.6 728.65)"/><ellipse cx="148.7" cy="727.9" rx="2.55" ry="2.11" fill="#2a4698" transform="rotate(171 148.7 727.9)"/><ellipse cx="154.96" cy="729.27" rx="2.53" ry="2" fill="#8a8490" transform="rotate(155 154.96 729.27)"/><ellipse cx="167.74" cy="729.96" rx="1.62" ry="1.43" fill="#66769e" transform="rotate(157 167.74 729.96)"/><ellipse cx="175.96" cy="729.43" rx="2.37" ry="1.88" fill="#2a4698" transform="rotate(51 175.96 729.43)"/><ellipse cx="180.17" cy="727.58" rx="2.25" ry="1.67" fill="#2a4698" transform="rotate(80 180.17 727.58)"/><ellipse cx="188.18" cy="728.77" rx="1.86" ry="1.3" fill="#56689a" transform="rotate(114 188.18 728.77)"/><ellipse cx="196.36" cy="730.24" rx="1.71" ry="1.14" fill="#66769e" transform="rotate(76 196.36 730.24)"/><ellipse cx="199.91" cy="727.17" rx="2.17" ry="1.67" fill="#56689a" transform="rotate(64 199.91 727.17)"/><ellipse cx="214.98" cy="729.03" rx="2.45" ry="2.05" fill="#2a4698" transform="rotate(67 214.98 729.03)"/><ellipse cx="221.62" cy="728.71" rx="1.62" ry="1.01" fill="#6a789c" transform="rotate(56 221.62 728.71)"/><ellipse cx="234.15" cy="727.16" rx="2.01" ry="1.34" fill="#56689a" transform="rotate(106 234.15 727.16)"/><ellipse cx="241.19" cy="730.16" rx="2.29" ry="1.38" fill="#78748a" transform="rotate(30 241.19 730.16)"/><ellipse cx="247.42" cy="729.41" rx="1.62" ry="1.4" fill="#34509e" transform="rotate(38 247.42 729.41)"/><ellipse cx="259.17" cy="730.22" rx="2.27" ry="1.66" fill="#56689a" transform="rotate(98 259.17 730.22)"/><ellipse cx="269.23" cy="729.74" rx="1.96" ry="1.52" fill="#86808c" transform="rotate(176 269.23 729.74)"/><ellipse cx="277.39" cy="729.87" rx="2.42" ry="1.47" fill="#66769e" transform="rotate(96 277.39 729.87)"/><ellipse cx="138.77" cy="736.92" rx="2.22" ry="1.67" fill="#5d6e9c" transform="rotate(20 138.77 736.92)"/><ellipse cx="146.19" cy="736.75" rx="1.72" ry="1.09" fill="#66769e" transform="rotate(124 146.19 736.75)"/><ellipse cx="154.16" cy="735.71" rx="2.31" ry="1.75" fill="#78748a" transform="rotate(21 154.16 735.71)"/><ellipse cx="157.81" cy="735.72" rx="1.79" ry="1.4" fill="#3c58a4" transform="rotate(38 157.81 735.72)"/><ellipse cx="163.96" cy="734.9" rx="1.93" ry="1.53" fill="#78748a" transform="rotate(88 163.96 734.9)"/><ellipse cx="172.45" cy="736.25" rx="1.7" ry="1.35" fill="#86808c" transform="rotate(88 172.45 736.25)"/><ellipse cx="179.95" cy="735.66" rx="2.58" ry="1.56" fill="#34509e" transform="rotate(111 179.95 735.66)"/><ellipse cx="188.81" cy="735.7" rx="2.5" ry="2.23" fill="#56689a" transform="rotate(161 188.81 735.7)"/><ellipse cx="195.64" cy="735.39" rx="1.71" ry="1.44" fill="#2a4698" transform="rotate(145 195.64 735.39)"/><ellipse cx="202.01" cy="734.49" rx="2.57" ry="2.26" fill="#66769e" transform="rotate(135 202.01 734.49)"/><ellipse cx="207.3" cy="737.28" rx="2.33" ry="1.81" fill="#66769e" transform="rotate(78 207.3 737.28)"/><ellipse cx="213.7" cy="733.77" rx="2.07" ry="1.45" fill="#5d6e9c" transform="rotate(133 213.7 733.77)"/><ellipse cx="219.78" cy="735.24" rx="1.82" ry="1.37" fill="#66769e" transform="rotate(148 219.78 735.24)"/><ellipse cx="226.17" cy="737.75" rx="1.84" ry="1.57" fill="#66769e" transform="rotate(42 226.17 737.75)"/><ellipse cx="232.98" cy="737.08" rx="1.77" ry="1.42" fill="#78748a" transform="rotate(5 232.98 737.08)"/><ellipse cx="239.96" cy="736.7" rx="2.05" ry="1.58" fill="#78748a" transform="rotate(150 239.96 736.7)"/><ellipse cx="253.35" cy="734.84" rx="1.61" ry="1.1" fill="#34509e" transform="rotate(31 253.35 734.84)"/><ellipse cx="260.68" cy="734.34" rx="1.71" ry="1.11" fill="#78748a" transform="rotate(40 260.68 734.34)"/><ellipse cx="269.57" cy="734.55" rx="2.55" ry="1.73" fill="#5d6e9c" transform="rotate(2 269.57 734.55)"/><ellipse cx="275.48" cy="736.72" rx="2.37" ry="2.12" fill="#5d6e9c" transform="rotate(112 275.48 736.72)"/><circle cx="227.42" cy="711.21" r="1.13" fill="#2d4ca6"/><circle cx="190.18" cy="653.76" r="0.99" fill="#2d4ca6"/><circle cx="183.59" cy="666.08" r="1.09" fill="#2d4ca6"/><circle cx="175.98" cy="653.28" r="0.93" fill="#2d4ca6"/><circle cx="172.92" cy="729.95" r="1.04" fill="#2d4ca6"/><circle cx="238.84" cy="728.1" r="1.17" fill="#2d4ca6"/><circle cx="197.2" cy="734.21" r="1.16" fill="#2d4ca6"/><circle cx="139.6" cy="695.85" r="0.95" fill="#2d4ca6"/><circle cx="166.91" cy="726.86" r="1.09" fill="#2d4ca6"/><circle cx="203.21" cy="715.23" r="0.88" fill="#2d4ca6"/><circle cx="187.23" cy="642.61" r="1.03" fill="#2d4ca6"/><circle cx="185.33" cy="687.89" r="1.13" fill="#2d4ca6"/><circle cx="247.44" cy="630.63" r="0.9" fill="#2d4ca6"/><circle cx="181.83" cy="669.24" r="0.87" fill="#2d4ca6"/><circle cx="258.1" cy="717.74" r="0.89" fill="#2d4ca6"/><circle cx="273.44" cy="721.83" r="0.81" fill="#2d4ca6"/><circle cx="264.3" cy="665.3" r="0.78" fill="#2d4ca6"/><circle cx="198.56" cy="708.05" r="0.9" fill="#2d4ca6"/><circle cx="241.92" cy="639.01" r="0.87" fill="#2d4ca6"/><circle cx="233.46" cy="720.02" r="0.85" fill="#2d4ca6"/><circle cx="217.76" cy="666.86" r="1.03" fill="#2d4ca6"/><circle cx="270.68" cy="684.63" r="1.12" fill="#2d4ca6"/><circle cx="189.98" cy="703.97" r="0.81" fill="#2d4ca6"/><circle cx="236.6" cy="689.03" r="1.1" fill="#2d4ca6"/><circle cx="150.72" cy="648.27" r="0.98" fill="#2d4ca6"/><circle cx="235.24" cy="702.75" r="0.79" fill="#2d4ca6"/><circle cx="274.79" cy="725.59" r="1" fill="#2d4ca6"/><circle cx="238.3" cy="703.38" r="1.02" fill="#2d4ca6"/><circle cx="189.56" cy="681.45" r="1.15" fill="#2d4ca6"/><circle cx="171.15" cy="734.18" r="0.73" fill="#2d4ca6"/><circle cx="226.01" cy="660.69" r="1.11" fill="#2d4ca6"/><circle cx="228.04" cy="643.77" r="1.15" fill="#2d4ca6"/><circle cx="265.09" cy="685.33" r="1.04" fill="#2d4ca6"/><circle cx="164.2" cy="721.91" r="1.19" fill="#2d4ca6"/><circle cx="163.55" cy="685.57" r="1.17" fill="#2d4ca6"/><circle cx="269.62" cy="640.33" r="1.04" fill="#2d4ca6"/><circle cx="257.24" cy="704.63" r="1.13" fill="#2d4ca6"/><circle cx="153.83" cy="627.77" r="1.15" fill="#2d4ca6"/><circle cx="269.54" cy="700.04" r="1.04" fill="#2d4ca6"/><circle cx="267.97" cy="696.74" r="0.81" fill="#2d4ca6"/><circle cx="274.93" cy="731.4" r="1" fill="#2d4ca6"/><circle cx="182.24" cy="641.56" r="0.79" fill="#2d4ca6"/><circle cx="254.73" cy="649.64" r="1.07" fill="#2d4ca6"/><circle cx="255.01" cy="654.77" r="0.89" fill="#2d4ca6"/><circle cx="206.63" cy="713.43" r="0.89" fill="#2d4ca6"/><circle cx="183.46" cy="687.57" r="1.03" fill="#2d4ca6"/><circle cx="190.44" cy="678.3" r="0.75" fill="#2d4ca6"/><circle cx="223.22" cy="655.25" r="1.09" fill="#2d4ca6"/><circle cx="212.76" cy="681.51" r="1.03" fill="#2d4ca6"/><circle cx="239.3" cy="732.35" r="1.02" fill="#2d4ca6"/><circle cx="209.03" cy="659.27" r="0.79" fill="#2d4ca6"/><circle cx="246.21" cy="710.56" r="0.76" fill="#2d4ca6"/><circle cx="164.44" cy="624.15" r="0.97" fill="#2d4ca6"/><circle cx="257.44" cy="712.81" r="1.06" fill="#2d4ca6"/><circle cx="192.6" cy="673.53" r="1.07" fill="#2d4ca6"/><circle cx="273.55" cy="710.62" r="1.07" fill="#2d4ca6"/><circle cx="231.98" cy="684.3" r="1.02" fill="#2d4ca6"/><circle cx="159.2" cy="667.72" r="1.17" fill="#2d4ca6"/><circle cx="151.93" cy="708.4" r="0.77" fill="#2d4ca6"/><circle cx="150.44" cy="686.86" r="1.05" fill="#2d4ca6"/></g>
</g>
<g filter="url(#bl05k)"><circle cx="152.93" cy="699" r="0.89" fill="#2848a8"/><circle cx="147.95" cy="724.19" r="0.93" fill="#2848a8"/><circle cx="152.26" cy="720.79" r="1.07" fill="#2848a8"/><circle cx="170.03" cy="712.02" r="1.01" fill="#2848a8"/><circle cx="159.62" cy="699.75" r="1.25" fill="#2848a8"/><circle cx="151.97" cy="707.47" r="1.14" fill="#2848a8"/><circle cx="144.87" cy="719.73" r="1.22" fill="#2848a8"/><circle cx="150.84" cy="732.61" r="1.06" fill="#2848a8"/><circle cx="164.78" cy="711.11" r="1" fill="#2848a8"/><circle cx="148.62" cy="690.34" r="0.9" fill="#2848a8"/><circle cx="171.67" cy="714.04" r="1.03" fill="#2848a8"/><circle cx="168.81" cy="717.25" r="1.29" fill="#2848a8"/><circle cx="151.44" cy="699.71" r="1.26" fill="#2848a8"/><circle cx="145.15" cy="725.63" r="1.1" fill="#2848a8"/><circle cx="171.45" cy="732.48" r="1.13" fill="#2848a8"/><circle cx="141.19" cy="691.05" r="1.04" fill="#2848a8"/><circle cx="166.23" cy="693.65" r="1.01" fill="#2848a8"/><circle cx="142.75" cy="703.94" r="0.8" fill="#2848a8"/><circle cx="150.55" cy="713.55" r="0.9" fill="#2848a8"/><circle cx="165.19" cy="692.49" r="0.91" fill="#2848a8"/><circle cx="148.24" cy="708.18" r="1.18" fill="#2848a8"/><circle cx="151.32" cy="721.27" r="1.26" fill="#2848a8"/><circle cx="144.19" cy="728.88" r="1.1" fill="#2848a8"/><circle cx="163.91" cy="717.36" r="1" fill="#2848a8"/><circle cx="143.09" cy="696.46" r="0.89" fill="#2848a8"/><circle cx="145.68" cy="696.55" r="0.9" fill="#2848a8"/><circle cx="157.95" cy="724.68" r="1.2" fill="#2848a8"/><circle cx="167.08" cy="695.27" r="1.21" fill="#2848a8"/><circle cx="145.95" cy="693.26" r="0.94" fill="#2848a8"/><circle cx="158.74" cy="692.15" r="0.91" fill="#2848a8"/><circle cx="152.77" cy="727.01" r="1" fill="#2848a8"/><circle cx="153.25" cy="706.69" r="0.85" fill="#2848a8"/><circle cx="168.15" cy="731.54" r="1.16" fill="#2848a8"/><circle cx="152.75" cy="709.98" r="0.96" fill="#2848a8"/><circle cx="160.94" cy="719.4" r="0.96" fill="#2848a8"/><circle cx="167.98" cy="722.43" r="0.91" fill="#2848a8"/><circle cx="165.9" cy="720.34" r="0.92" fill="#2848a8"/><circle cx="149.48" cy="723.82" r="0.84" fill="#2848a8"/><circle cx="154.01" cy="733.37" r="0.93" fill="#2848a8"/><circle cx="156.1" cy="730.82" r="1.24" fill="#2848a8"/><circle cx="165.22" cy="714" r="1.26" fill="#2848a8"/><circle cx="148.22" cy="729.67" r="1" fill="#2848a8"/><circle cx="161.06" cy="717.5" r="0.94" fill="#2848a8"/><circle cx="161.7" cy="717.19" r="1.29" fill="#2848a8"/><circle cx="161.34" cy="709.8" r="0.99" fill="#2848a8"/></g>
<rect x="224.6" y="727" width="48.4" height="2.6" fill="#000"/>
<line x1="315.3" y1="651.9" x2="315.3" y2="711.7" stroke="#1a1a1a" stroke-width="1.1"/>
<line x1="314.8" y1="711.2" x2="352" y2="711.2" stroke="#1a1a1a" stroke-width="1.1"/>
<line x1="312.3" y1="711.2" x2="315.3" y2="711.2" stroke="#1a1a1a" stroke-width="1"/>
<text x="311.6" y="714.2" text-anchor="end">0.0</text>
<line x1="312.3" y1="696.38" x2="315.3" y2="696.38" stroke="#1a1a1a" stroke-width="1"/>
<text x="311.6" y="699.38" text-anchor="end">0.5</text>
<line x1="312.3" y1="681.55" x2="315.3" y2="681.55" stroke="#1a1a1a" stroke-width="1"/>
<text x="311.6" y="684.55" text-anchor="end">1.0</text>
<line x1="312.3" y1="666.73" x2="315.3" y2="666.73" stroke="#1a1a1a" stroke-width="1"/>
<text x="311.6" y="669.73" text-anchor="end">1.5</text>
<line x1="312.3" y1="651.9" x2="315.3" y2="651.9" stroke="#1a1a1a" stroke-width="1"/>
<text x="311.6" y="654.9" text-anchor="end">2.0</text>
<line x1="327.1" y1="711.2" x2="327.1" y2="713.8" stroke="#1a1a1a" stroke-width="0.9"/>
<line x1="343.8" y1="711.2" x2="343.8" y2="713.8" stroke="#1a1a1a" stroke-width="0.9"/>
<rect x="321.6" y="698.2" width="11" height="13" fill="#fff" stroke="#a8712c" stroke-width="1.1"/>
<rect x="338.4" y="690.2" width="11" height="21" fill="#efe5c6" stroke="#a8712c" stroke-width="1.1"/>
<line x1="327.1" y1="694.5" x2="327.1" y2="698.2" stroke="#a8712c" stroke-width="1"/>
<line x1="325" y1="694.5" x2="329.2" y2="694.5" stroke="#a8712c" stroke-width="1"/>
<line x1="343.8" y1="683.5" x2="343.8" y2="696.4" stroke="#a8712c" stroke-width="1"/>
<line x1="341.5" y1="683.5" x2="346.1" y2="683.5" stroke="#a8712c" stroke-width="1"/>
<line x1="341.5" y1="696.4" x2="346.1" y2="696.4" stroke="#a8712c" stroke-width="1"/>
<circle cx="323.3" cy="687.5" r="1.9" fill="#fff" stroke="#a8712c" stroke-width="1"/>
<circle cx="326.9" cy="691.2" r="1.9" fill="#fff" stroke="#a8712c" stroke-width="1"/>
<circle cx="330.4" cy="691.2" r="1.9" fill="#fff" stroke="#a8712c" stroke-width="1"/>
<circle cx="323.6" cy="694" r="1.9" fill="#fff" stroke="#a8712c" stroke-width="1"/>
<circle cx="326" cy="699.2" r="1.9" fill="#fff" stroke="#a8712c" stroke-width="1"/>
<circle cx="326.9" cy="702.8" r="1.9" fill="#fff" stroke="#a8712c" stroke-width="1"/>
<circle cx="330.2" cy="709.5" r="1.9" fill="#fff" stroke="#a8712c" stroke-width="1"/>
<circle cx="324" cy="709.5" r="1.9" fill="#fff" stroke="#a8712c" stroke-width="1"/>
<circle cx="341" cy="667.4" r="2.2" fill="#a8712c"/>
<circle cx="345" cy="667.4" r="2.2" fill="#a8712c"/>
<circle cx="343.2" cy="676.3" r="2.2" fill="#a8712c"/>
<circle cx="343.2" cy="682.2" r="2.2" fill="#a8712c"/>
<circle cx="339.8" cy="709.5" r="2.2" fill="#a8712c"/>
<circle cx="343.2" cy="709.5" r="2.2" fill="#a8712c"/>
<circle cx="346.8" cy="709.5" r="2.2" fill="#a8712c"/>
<circle cx="341.3" cy="700.8" r="2.2" fill="#a8712c"/>
<circle cx="345.5" cy="703" r="2.2" fill="#a8712c"/>
<line x1="321.6" y1="660.7" x2="345.7" y2="660.7" stroke="#1a1a1a" stroke-width="1"/>
<text x="333.8" y="657.1" text-anchor="middle">0.2</text>
<text x="290.5" y="685.7" text-anchor="middle" transform="rotate(-90 290.5 685.7)">4-HNE<tspan font-size="7" dy="-3.2">+</tspan><tspan dy="3.2"> Pixels (%)</tspan></text>
<text x="391.2" y="625" font-size="14" font-weight="bold" stroke="#000" stroke-width="0.9" fill="#000">l</text>
<text x="519.8" y="623.2">Time after PEF at 500 V</text>
<line x1="470.5" y1="627.5" x2="657.6" y2="627.5" stroke="#555" stroke-width="1"/>
<line x1="402.7" y1="643.5" x2="464.6" y2="643.5" stroke="#333" stroke-width="1"/>
<text x="434" y="639" text-anchor="middle">Control</text>
<line x1="470.5" y1="643.5" x2="528.6" y2="643.5" stroke="#333" stroke-width="1"/>
<text x="499" y="639" text-anchor="middle">Day 1</text>
<line x1="532.5" y1="643.5" x2="590.8" y2="643.5" stroke="#333" stroke-width="1"/>
<text x="561.3" y="639" text-anchor="middle">Day 2</text>
<line x1="594.1" y1="643.5" x2="657.6" y2="643.5" stroke="#333" stroke-width="1"/>
<text x="625.9" y="639" text-anchor="middle">Day 3</text>
<rect x="403.3" y="646.8" width="255" height="20.6" fill="#858585"/>
<rect x="408" y="647.4" width="20" height="19.4" fill="#6c6c6c" filter="url(#bb)"/>
<rect x="427" y="647.4" width="20" height="19.4" fill="#6c6c6c" filter="url(#bb)"/>
<rect x="447" y="647.4" width="20" height="19.4" fill="#6c6c6c" filter="url(#bb)"/>
<rect x="469" y="647.4" width="20" height="19.4" fill="#a0a0a0" filter="url(#bb)"/>
<rect x="490" y="647.4" width="20" height="19.4" fill="#969696" filter="url(#bb)"/>
<rect x="511" y="647.4" width="20" height="19.4" fill="#9a9a9a" filter="url(#bb)"/>
<rect x="531.6" y="647.4" width="20" height="19.4" fill="#8a8a8a" filter="url(#bb)"/>
<rect x="550.8" y="647.4" width="20" height="19.4" fill="#929292" filter="url(#bb)"/>
<rect x="571" y="647.4" width="20" height="19.4" fill="#8e8e8e" filter="url(#bb)"/>
<rect x="590.7" y="647.4" width="20" height="19.4" fill="#909090" filter="url(#bb)"/>
<rect x="612.6" y="647.4" width="20" height="19.4" fill="#8a8a8a" filter="url(#bb)"/>
<rect x="635.6" y="647.4" width="20" height="19.4" fill="#8c8c8c" filter="url(#bb)"/>
<rect x="426.3" y="646.8" width="2.4" height="20.6" fill="#b0b0b0" opacity="0.6" filter="url(#bb)"/>
<rect x="445.8" y="646.8" width="2.4" height="20.6" fill="#b0b0b0" opacity="0.6" filter="url(#bb)"/>
<rect x="466.8" y="646.8" width="2.4" height="20.6" fill="#b0b0b0" opacity="0.6" filter="url(#bb)"/>
<rect x="488.3" y="646.8" width="2.4" height="20.6" fill="#b0b0b0" opacity="0.6" filter="url(#bb)"/>
<rect x="509.3" y="646.8" width="2.4" height="20.6" fill="#b0b0b0" opacity="0.6" filter="url(#bb)"/>
<rect x="530.1" y="646.8" width="2.4" height="20.6" fill="#b0b0b0" opacity="0.6" filter="url(#bb)"/>
<rect x="550" y="646.8" width="2.4" height="20.6" fill="#b0b0b0" opacity="0.6" filter="url(#bb)"/>
<rect x="569.7" y="646.8" width="2.4" height="20.6" fill="#b0b0b0" opacity="0.6" filter="url(#bb)"/>
<rect x="589.65" y="646.8" width="2.4" height="20.6" fill="#b0b0b0" opacity="0.6" filter="url(#bb)"/>
<rect x="610.45" y="646.8" width="2.4" height="20.6" fill="#b0b0b0" opacity="0.6" filter="url(#bb)"/>
<rect x="632.9" y="646.8" width="2.4" height="20.6" fill="#b0b0b0" opacity="0.6" filter="url(#bb)"/>
<ellipse cx="418" cy="656.6" rx="8.75" ry="2.2" fill="#0e0e0e" filter="url(#bb)"/>
<ellipse cx="418" cy="662.5" rx="8.5" ry="2.25" fill="#707070" filter="url(#bb2)"/>
<ellipse cx="437" cy="656.6" rx="8.75" ry="2.2" fill="#121212" filter="url(#bb)"/>
<ellipse cx="437" cy="662.5" rx="8.5" ry="2.25" fill="#707070" filter="url(#bb2)"/>
<ellipse cx="457" cy="656.6" rx="8.75" ry="2.2" fill="#101010" filter="url(#bb)"/>
<ellipse cx="457" cy="662.5" rx="8.5" ry="2.25" fill="#707070" filter="url(#bb2)"/>
<ellipse cx="479" cy="656.6" rx="8.75" ry="2.2" fill="#6a6a6a" filter="url(#bb)"/>
<ellipse cx="479" cy="662.5" rx="8.5" ry="2.25" fill="#707070" filter="url(#bb2)"/>
<ellipse cx="500" cy="656.6" rx="8.75" ry="2.2" fill="#222" filter="url(#bb)"/>
<ellipse cx="500" cy="662.5" rx="8.5" ry="2.25" fill="#707070" filter="url(#bb2)"/>
<ellipse cx="521" cy="656.6" rx="8.75" ry="2.2" fill="#606060" filter="url(#bb)"/>
<ellipse cx="521" cy="662.5" rx="8.5" ry="2.25" fill="#707070" filter="url(#bb2)"/>
<ellipse cx="541.6" cy="656.6" rx="8.75" ry="2.2" fill="#2a2a2a" filter="url(#bb)"/>
<ellipse cx="541.6" cy="662.5" rx="8.5" ry="2.25" fill="#707070" filter="url(#bb2)"/>
<ellipse cx="560.8" cy="656.6" rx="8.75" ry="2.2" fill="#585858" filter="url(#bb)"/>
<ellipse cx="560.8" cy="662.5" rx="8.5" ry="2.25" fill="#707070" filter="url(#bb2)"/>
<ellipse cx="581" cy="656.6" rx="8.75" ry="2.2" fill="#3a3a3a" filter="url(#bb)"/>
<ellipse cx="581" cy="662.5" rx="8.5" ry="2.25" fill="#707070" filter="url(#bb2)"/>
<ellipse cx="600.7" cy="656.6" rx="8.75" ry="2.2" fill="#555" filter="url(#bb)"/>
<ellipse cx="600.7" cy="662.5" rx="8.5" ry="2.25" fill="#707070" filter="url(#bb2)"/>
<ellipse cx="622.6" cy="656.6" rx="8.75" ry="2.2" fill="#2a2a2a" filter="url(#bb)"/>
<ellipse cx="622.6" cy="662.5" rx="8.5" ry="2.25" fill="#707070" filter="url(#bb2)"/>
<ellipse cx="645.6" cy="656.6" rx="8.75" ry="2.2" fill="#3a3a3a" filter="url(#bb)"/>
<ellipse cx="645.6" cy="662.5" rx="8.5" ry="2.25" fill="#707070" filter="url(#bb2)"/>
<rect x="403.3" y="669.6" width="255" height="19.7" fill="#fcfcfc"/>
<rect x="403.3" y="692.8" width="255" height="19.7" fill="#fcfcfc"/>
<rect x="403.3" y="715.5" width="255" height="19.7" fill="#fcfcfc"/>
<ellipse cx="418" cy="679.6" rx="9.25" ry="1.8" fill="#d8d8d8" filter="url(#bb)"/>
<ellipse cx="437" cy="679.6" rx="9.25" ry="1.8" fill="#dedede" filter="url(#bb)"/>
<ellipse cx="457" cy="679.6" rx="9.25" ry="1.8" fill="#f4f4f4" filter="url(#bb)"/>
<ellipse cx="479" cy="679.6" rx="9.25" ry="1.8" fill="#8a8a8a" filter="url(#bb)"/>
<ellipse cx="500" cy="679.6" rx="9.25" ry="1.8" fill="#b4b4b4" filter="url(#bb)"/>
<ellipse cx="521" cy="679.6" rx="9.25" ry="2.3" fill="#1e1e1e" filter="url(#bb)"/>
<ellipse cx="541.6" cy="679.6" rx="9.25" ry="1.8" fill="#c4c4c4" filter="url(#bb)"/>
<ellipse cx="560.8" cy="679.6" rx="9.25" ry="2.3" fill="#111" filter="url(#bb)"/>
<ellipse cx="581" cy="679.6" rx="9.25" ry="2.3" fill="#151515" filter="url(#bb)"/>
<ellipse cx="600.7" cy="679.6" rx="9.25" ry="2.3" fill="#111" filter="url(#bb)"/>
<ellipse cx="622.6" cy="679.6" rx="9.25" ry="1.8" fill="#eeeeee" filter="url(#bb)"/>
<ellipse cx="645.6" cy="679.6" rx="9.25" ry="1.8" fill="#f0f0f0" filter="url(#bb)"/>
<ellipse cx="418" cy="703" rx="10" ry="3.1" fill="#2a2a2a" filter="url(#bb)"/>
<ellipse cx="437" cy="703" rx="10" ry="3.1" fill="#222" filter="url(#bb)"/>
<ellipse cx="457" cy="703" rx="10" ry="3.1" fill="#4a4a4a" filter="url(#bb)"/>
<ellipse cx="479" cy="703" rx="10" ry="3.1" fill="#0a0a0a" filter="url(#bb)"/>
<ellipse cx="500" cy="703" rx="10" ry="3.1" fill="#444" filter="url(#bb)"/>
<ellipse cx="521" cy="703" rx="10" ry="3.1" fill="#1a1a1a" filter="url(#bb)"/>
<ellipse cx="541.6" cy="703" rx="10" ry="3.1" fill="#1a1a1a" filter="url(#bb)"/>
<ellipse cx="560.8" cy="703" rx="10" ry="3.1" fill="#0e0e0e" filter="url(#bb)"/>
<ellipse cx="581" cy="703" rx="10" ry="3.1" fill="#0e0e0e" filter="url(#bb)"/>
<ellipse cx="600.7" cy="703" rx="10" ry="3.1" fill="#080808" filter="url(#bb)"/>
<ellipse cx="622.6" cy="703" rx="10" ry="3.1" fill="#141414" filter="url(#bb)"/>
<ellipse cx="645.6" cy="703" rx="10" ry="3.1" fill="#1e1e1e" filter="url(#bb)"/>
<ellipse cx="418" cy="725" rx="10.5" ry="3.6" fill="#0a0a0a" filter="url(#bb)"/>
<ellipse cx="437" cy="725" rx="10.5" ry="3.6" fill="#0a0a0a" filter="url(#bb)"/>
<ellipse cx="457" cy="725" rx="10.5" ry="3.6" fill="#0a0a0a" filter="url(#bb)"/>
<ellipse cx="479" cy="725" rx="10.5" ry="3.6" fill="#0a0a0a" filter="url(#bb)"/>
<ellipse cx="500" cy="725" rx="10.5" ry="3.6" fill="#0a0a0a" filter="url(#bb)"/>
<ellipse cx="521" cy="725" rx="10.5" ry="3.6" fill="#0a0a0a" filter="url(#bb)"/>
<ellipse cx="541.6" cy="725" rx="10.5" ry="3.6" fill="#0a0a0a" filter="url(#bb)"/>
<ellipse cx="560.8" cy="725" rx="10.5" ry="3.6" fill="#0a0a0a" filter="url(#bb)"/>
<ellipse cx="581" cy="725" rx="10.5" ry="3.6" fill="#0a0a0a" filter="url(#bb)"/>
<ellipse cx="600.7" cy="725" rx="10.5" ry="3.6" fill="#0a0a0a" filter="url(#bb)"/>
<ellipse cx="622.6" cy="725" rx="10.5" ry="3.6" fill="#0a0a0a" filter="url(#bb)"/>
<ellipse cx="645.6" cy="725" rx="10.5" ry="3.6" fill="#0a0a0a" filter="url(#bb)"/>
<rect x="403.3" y="646.8" width="255" height="20.6" fill="none" stroke="#111" stroke-width="1.3"/>
<rect x="403.3" y="669.6" width="255" height="19.7" fill="none" stroke="#111" stroke-width="1.3"/>
<rect x="403.3" y="692.8" width="255" height="19.7" fill="none" stroke="#111" stroke-width="1.3"/>
<rect x="403.3" y="715.5" width="255" height="19.7" fill="none" stroke="#111" stroke-width="1.3"/>
<text x="399.9" y="660.2" text-anchor="end">NRF2</text>
<text x="399.9" y="685.2" text-anchor="end">HMOX1</text>
<text x="399.9" y="706.9" text-anchor="end">FTH1</text>
<text x="399.9" y="729.3" text-anchor="end">β-Actin</text>
<text x="661.6" y="662.7">-72 kD</text>
<text x="661.6" y="674.7">-37 kD</text>
<text x="661.6" y="711.3">-17 kD</text>
<text x="661.6" y="721.3">-43 kD</text>
<text x="501.2" y="744.1">KPC-A719 Tumors</text>
</g></svg></body></html>
